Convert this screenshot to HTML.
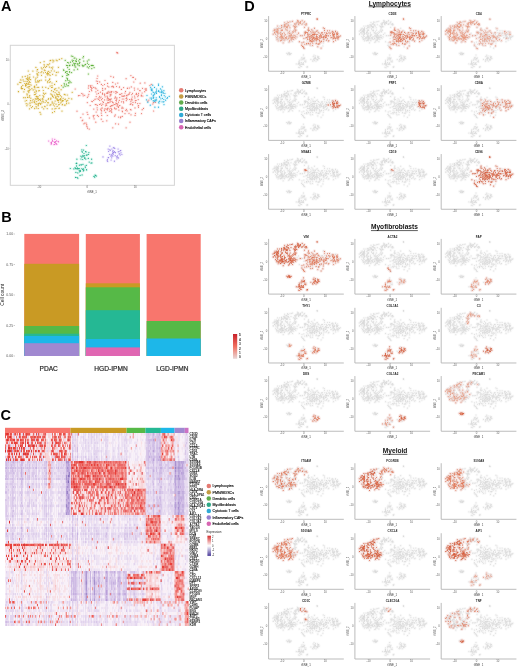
<!DOCTYPE html><html><head><meta charset="utf-8"><style>html,body{margin:0;padding:0;background:#fff;width:520px;height:667px;overflow:hidden}svg{display:block;will-change:transform;font-family:"Liberation Sans",sans-serif}</style></head><body><svg width="520" height="667" viewBox="0 0 520 667"><rect width="520" height="667" fill="#fff"/><text x="1.0" y="11.3" font-size="14.5" font-weight="bold" fill="#000">A</text><text x="1.2" y="222.4" font-size="14.5" font-weight="bold" fill="#000">B</text><text x="0.6" y="419.6" font-size="14.5" font-weight="bold" fill="#000">C</text><text x="244.3" y="11.4" font-size="14.5" font-weight="bold" fill="#000">D</text><rect x="10.3" y="45.3" width="164.1" height="140.0" fill="none" stroke="#d4d4d4" stroke-width="1.0"/><line x1="8.9" y1="60.1" x2="10.3" y2="60.1" stroke="#bbb" stroke-width="0.5"/><text x="8.7" y="61.1" font-size="2.7" fill="#666" text-anchor="end">10</text><line x1="8.9" y1="104.4" x2="10.3" y2="104.4" stroke="#bbb" stroke-width="0.5"/><text x="8.7" y="105.4" font-size="2.7" fill="#666" text-anchor="end">0</text><line x1="8.9" y1="148.6" x2="10.3" y2="148.6" stroke="#bbb" stroke-width="0.5"/><text x="8.7" y="149.6" font-size="2.7" fill="#666" text-anchor="end">-10</text><line x1="39.4" y1="185.3" x2="39.4" y2="186.7" stroke="#bbb" stroke-width="0.5"/><text x="39.4" y="188.1" font-size="2.7" fill="#666" text-anchor="middle">-10</text><line x1="87.2" y1="185.3" x2="87.2" y2="186.7" stroke="#bbb" stroke-width="0.5"/><text x="87.2" y="188.1" font-size="2.7" fill="#666" text-anchor="middle">0</text><line x1="135.2" y1="185.3" x2="135.2" y2="186.7" stroke="#bbb" stroke-width="0.5"/><text x="135.2" y="188.1" font-size="2.7" fill="#666" text-anchor="middle">10</text><text x="92.0" y="192.8" font-size="2.8" fill="#444" text-anchor="middle">tSNE_1</text><text transform="translate(3.8 115.4) rotate(-90)" font-size="3.2" fill="#444" text-anchor="middle">tSNE_2</text><path d="M111.2 98.9h0M138.5 107.3h0M81.7 93.5h0M106.8 109.2h0M122.2 111.0h0M95.8 122.2h0M117.2 106.2h0M93.2 115.9h0M108.9 99.7h0M98.4 116.3h0M130.6 104.2h0M126.3 100.6h0M123.3 101.6h0M131.8 94.6h0M121.5 101.8h0M107.7 92.2h0M91.2 89.6h0M141.3 95.2h0M142.2 109.7h0M133.0 102.4h0M108.9 102.7h0M105.7 112.3h0M86.9 126.5h0M96.4 81.0h0M101.3 119.2h0M110.2 106.6h0M131.0 114.8h0M97.3 109.8h0M107.8 102.4h0M117.8 83.1h0M138.0 89.0h0M100.4 92.2h0M96.1 88.8h0M101.1 97.0h0M87.4 97.3h0M93.7 87.4h0M87.6 128.2h0M90.2 105.5h0M90.2 85.6h0M130.2 104.3h0M119.4 87.2h0M84.7 95.3h0M88.8 94.3h0M118.5 102.2h0M146.3 89.9h0M101.4 110.6h0M116.5 86.5h0M111.7 109.4h0M110.6 110.9h0M111.2 92.4h0M109.9 96.0h0M113.4 87.2h0M102.5 93.2h0M135.4 113.3h0M78.5 95.7h0M99.7 81.9h0M125.7 110.3h0M87.0 126.7h0M110.2 102.0h0M129.0 113.3h0M107.6 83.4h0M88.2 96.0h0M108.7 98.3h0M135.2 100.8h0M139.9 103.5h0M101.6 105.3h0M127.9 94.9h0M134.5 90.1h0M86.7 124.9h0M88.4 88.1h0M91.7 90.7h0M127.4 88.4h0M92.0 88.5h0M91.8 101.3h0M104.6 99.9h0M80.8 117.6h0M132.5 93.3h0M110.7 92.0h0M147.9 101.2h0M101.6 99.7h0M138.3 95.3h0M108.0 108.2h0M131.0 109.9h0M134.9 97.9h0M116.7 99.2h0M101.0 109.8h0M127.1 99.2h0M137.9 89.0h0M117.2 92.4h0M106.1 104.3h0M109.2 92.7h0M135.0 107.9h0M137.7 103.6h0M101.4 84.4h0M138.2 105.9h0M107.1 93.5h0M116.4 91.9h0M122.3 116.4h0M99.7 100.3h0M104.4 110.6h0M107.4 109.9h0M125.0 113.6h0M119.5 105.5h0M141.4 95.4h0M116.5 103.3h0M86.1 123.1h0M138.6 93.3h0M110.1 101.1h0M89.4 91.5h0M102.9 121.5h0M95.0 99.4h0M83.2 95.8h0M97.1 98.8h0M135.5 79.1h0M109.2 99.3h0M139.7 90.6h0M132.2 99.9h0M125.0 93.0h0M113.5 77.2h0M117.8 53.1h0M130.0 122.2h0M97.1 107.8h0M105.1 96.8h0M123.6 87.6h0M115.5 84.0h0M123.6 102.8h0M96.1 104.7h0M107.4 97.3h0M77.0 111.2h0M145.9 90.4h0M105.2 89.1h0M112.0 101.4h0M141.3 96.1h0M117.2 105.1h0M124.7 96.0h0M120.5 117.7h0M102.4 108.0h0M111.6 111.1h0M102.8 85.5h0M104.7 94.2h0M155.3 102.4h0M118.4 107.4h0M136.0 94.2h0M153.6 111.0h0M117.4 52.7h0M124.6 95.9h0M101.7 115.4h0M97.1 78.5h0M110.8 95.6h0M95.9 91.8h0M97.7 76.0h0M116.3 108.8h0M83.9 123.8h0M97.7 81.3h0M104.5 84.5h0M111.2 105.7h0M100.1 97.9h0M121.9 108.3h0M87.1 112.3h0M130.9 75.6h0M102.6 88.4h0M105.6 105.8h0M99.7 104.5h0M93.7 100.5h0M123.1 96.5h0M151.2 84.4h0M140.1 90.7h0M119.3 100.4h0M126.1 78.7h0M122.0 95.9h0M138.4 95.0h0M98.6 99.3h0M110.2 106.5h0M123.8 99.0h0M115.1 104.6h0M111.3 91.5h0M105.3 88.5h0M82.8 120.0h0M110.9 76.3h0M129.5 93.8h0M107.7 103.0h0M152.8 104.0h0M107.8 93.2h0M118.7 117.1h0M93.6 117.0h0M83.0 114.1h0M146.1 88.6h0M104.7 95.3h0M116.8 52.4h0M102.8 101.7h0M121.4 89.4h0M114.7 116.2h0M111.0 108.4h0M129.4 88.0h0M132.8 77.4h0M112.1 105.7h0M115.4 96.8h0M99.6 104.5h0M112.8 82.4h0M130.4 109.5h0M153.4 102.7h0M131.7 98.8h0M90.5 87.2h0M96.8 94.0h0M91.7 87.5h0M134.3 88.1h0M108.8 86.9h0M118.7 106.3h0M131.1 103.8h0M102.8 104.2h0M133.4 77.4h0M113.1 105.1h0M138.2 99.6h0M88.6 85.9h0M108.9 91.3h0M95.2 87.9h0M115.3 109.0h0M113.9 92.0h0M82.9 94.2h0M135.5 100.5h0M116.9 97.9h0M79.8 95.5h0M127.7 88.0h0M96.2 96.6h0M130.9 101.7h0M102.4 98.5h0M118.9 110.1h0M142.1 93.0h0M118.5 124.1h0M107.5 86.1h0M114.9 98.5h0M107.2 96.3h0M89.2 129.1h0M102.5 94.2h0M94.1 115.5h0M125.5 91.4h0M111.8 86.7h0M107.3 115.5h0M95.1 99.1h0M104.4 109.0h0M90.4 85.9h0M104.3 94.1h0M126.1 98.4h0M111.8 91.6h0M112.5 102.5h0M131.1 99.9h0M137.8 96.6h0M106.7 105.5h0M145.9 89.1h0M134.6 96.1h0M119.5 86.9h0M97.8 90.3h0M143.5 108.4h0M91.9 85.8h0M107.1 96.2h0M144.9 82.9h0M119.9 105.5h0M93.8 109.1h0M105.0 80.5h0M126.6 97.8h0M101.6 110.9h0M148.9 100.1h0M115.2 97.4h0M92.3 101.6h0M106.1 103.7h0M111.1 94.2h0M131.3 86.9h0M84.8 123.0h0M108.3 100.3h0M106.8 120.8h0M129.9 92.3h0M115.9 100.4h0M99.6 96.3h0M116.5 100.9h0M128.8 94.2h0M113.3 102.8h0M132.6 104.9h0M111.7 112.5h0M107.1 99.9h0M103.5 102.5h0M149.9 85.5h0M119.7 94.4h0M105.3 108.8h0M95.3 104.5h0M114.8 108.6h0M126.5 109.3h0M107.5 108.6h0M126.1 127.8h0M115.8 103.1h0M115.7 91.7h0M117.8 103.9h0M82.2 120.7h0M115.3 114.9h0M119.7 97.6h0M91.8 88.4h0M140.2 83.2h0M86.7 124.6h0M145.0 89.0h0M142.5 88.3h0M136.5 93.3h0M89.4 118.0h0M142.8 96.0h0M101.3 113.1h0M109.4 111.2h0M101.8 108.1h0M135.4 102.6h0M121.8 93.7h0M96.2 112.0h0M122.3 99.0h0M97.4 105.3h0M111.0 110.8h0M97.5 83.4h0M133.8 82.0h0M115.9 93.5h0M132.7 104.7h0M126.9 95.8h0M97.4 115.4h0M110.2 94.3h0M114.6 107.9h0M136.2 100.5h0M122.1 107.2h0M87.8 114.4h0M123.1 108.1h0M135.1 115.4h0M114.3 104.5h0M94.1 118.8h0M110.1 99.9h0M144.7 91.7h0M127.1 110.9h0M122.5 111.7h0M110.7 106.5h0M110.3 99.4h0M112.8 127.8h0M115.6 123.8h0M102.8 90.5h0M87.3 102.6h0M100.8 109.0h0M106.5 93.0h0M98.4 93.4h0M129.5 99.5h0M126.4 95.3h0M120.8 116.9h0M98.9 97.8h0M138.6 105.5h0M75.2 89.0h0M120.4 94.3h0M112.8 86.2h0M117.1 53.0h0M132.2 97.0h0M100.8 103.8h0M113.6 87.0h0M122.0 96.2h0M102.7 90.2h0M141.5 113.6h0M123.9 95.9h0M136.9 94.6h0M107.3 98.3h0M117.0 104.0h0M109.3 109.1h0" stroke="#F8766D" stroke-width="3.4" stroke-linecap="round" fill="none" opacity="0.10"/><path d="M111.2 98.9h0M138.5 107.3h0M81.7 93.5h0M106.8 109.2h0M122.2 111.0h0M95.8 122.2h0M117.2 106.2h0M93.2 115.9h0M108.9 99.7h0M98.4 116.3h0M130.6 104.2h0M126.3 100.6h0M123.3 101.6h0M131.8 94.6h0M121.5 101.8h0M107.7 92.2h0M91.2 89.6h0M141.3 95.2h0M142.2 109.7h0M133.0 102.4h0M108.9 102.7h0M105.7 112.3h0M86.9 126.5h0M96.4 81.0h0M101.3 119.2h0M110.2 106.6h0M131.0 114.8h0M97.3 109.8h0M107.8 102.4h0M117.8 83.1h0M138.0 89.0h0M100.4 92.2h0M96.1 88.8h0M101.1 97.0h0M87.4 97.3h0M93.7 87.4h0M87.6 128.2h0M90.2 105.5h0M90.2 85.6h0M130.2 104.3h0M119.4 87.2h0M84.7 95.3h0M88.8 94.3h0M118.5 102.2h0M146.3 89.9h0M101.4 110.6h0M116.5 86.5h0M111.7 109.4h0M110.6 110.9h0M111.2 92.4h0M109.9 96.0h0M113.4 87.2h0M102.5 93.2h0M135.4 113.3h0M78.5 95.7h0M99.7 81.9h0M125.7 110.3h0M87.0 126.7h0M110.2 102.0h0M129.0 113.3h0M107.6 83.4h0M88.2 96.0h0M108.7 98.3h0M135.2 100.8h0M139.9 103.5h0M101.6 105.3h0M127.9 94.9h0M134.5 90.1h0M86.7 124.9h0M88.4 88.1h0M91.7 90.7h0M127.4 88.4h0M92.0 88.5h0M91.8 101.3h0M104.6 99.9h0M80.8 117.6h0M132.5 93.3h0M110.7 92.0h0M147.9 101.2h0M101.6 99.7h0M138.3 95.3h0M108.0 108.2h0M131.0 109.9h0M134.9 97.9h0M116.7 99.2h0M101.0 109.8h0M127.1 99.2h0M137.9 89.0h0M117.2 92.4h0M106.1 104.3h0M109.2 92.7h0M135.0 107.9h0M137.7 103.6h0M101.4 84.4h0M138.2 105.9h0M107.1 93.5h0M116.4 91.9h0M122.3 116.4h0M99.7 100.3h0M104.4 110.6h0M107.4 109.9h0M125.0 113.6h0M119.5 105.5h0M141.4 95.4h0M116.5 103.3h0M86.1 123.1h0M138.6 93.3h0M110.1 101.1h0M89.4 91.5h0M102.9 121.5h0M95.0 99.4h0M83.2 95.8h0M97.1 98.8h0M135.5 79.1h0M109.2 99.3h0M139.7 90.6h0M132.2 99.9h0M125.0 93.0h0M113.5 77.2h0M117.8 53.1h0M130.0 122.2h0M97.1 107.8h0M105.1 96.8h0M123.6 87.6h0M115.5 84.0h0M123.6 102.8h0M96.1 104.7h0M107.4 97.3h0M77.0 111.2h0M145.9 90.4h0M105.2 89.1h0M112.0 101.4h0M141.3 96.1h0M117.2 105.1h0M124.7 96.0h0M120.5 117.7h0M102.4 108.0h0M111.6 111.1h0M102.8 85.5h0M104.7 94.2h0M155.3 102.4h0M118.4 107.4h0M136.0 94.2h0M153.6 111.0h0M117.4 52.7h0M124.6 95.9h0M101.7 115.4h0M97.1 78.5h0M110.8 95.6h0M95.9 91.8h0M97.7 76.0h0M116.3 108.8h0M83.9 123.8h0M97.7 81.3h0M104.5 84.5h0M111.2 105.7h0M100.1 97.9h0M121.9 108.3h0M87.1 112.3h0M130.9 75.6h0M102.6 88.4h0M105.6 105.8h0M99.7 104.5h0M93.7 100.5h0M123.1 96.5h0M151.2 84.4h0M140.1 90.7h0M119.3 100.4h0M126.1 78.7h0M122.0 95.9h0M138.4 95.0h0M98.6 99.3h0M110.2 106.5h0M123.8 99.0h0M115.1 104.6h0M111.3 91.5h0M105.3 88.5h0M82.8 120.0h0M110.9 76.3h0M129.5 93.8h0M107.7 103.0h0M152.8 104.0h0M107.8 93.2h0M118.7 117.1h0M93.6 117.0h0M83.0 114.1h0M146.1 88.6h0M104.7 95.3h0M116.8 52.4h0M102.8 101.7h0M121.4 89.4h0M114.7 116.2h0M111.0 108.4h0M129.4 88.0h0M132.8 77.4h0M112.1 105.7h0M115.4 96.8h0M99.6 104.5h0M112.8 82.4h0M130.4 109.5h0M153.4 102.7h0M131.7 98.8h0M90.5 87.2h0M96.8 94.0h0M91.7 87.5h0M134.3 88.1h0M108.8 86.9h0M118.7 106.3h0M131.1 103.8h0M102.8 104.2h0M133.4 77.4h0M113.1 105.1h0M138.2 99.6h0M88.6 85.9h0M108.9 91.3h0M95.2 87.9h0M115.3 109.0h0M113.9 92.0h0M82.9 94.2h0M135.5 100.5h0M116.9 97.9h0M79.8 95.5h0M127.7 88.0h0M96.2 96.6h0M130.9 101.7h0M102.4 98.5h0M118.9 110.1h0M142.1 93.0h0M118.5 124.1h0M107.5 86.1h0M114.9 98.5h0M107.2 96.3h0M89.2 129.1h0M102.5 94.2h0M94.1 115.5h0M125.5 91.4h0M111.8 86.7h0M107.3 115.5h0M95.1 99.1h0M104.4 109.0h0M90.4 85.9h0M104.3 94.1h0M126.1 98.4h0M111.8 91.6h0M112.5 102.5h0M131.1 99.9h0M137.8 96.6h0M106.7 105.5h0M145.9 89.1h0M134.6 96.1h0M119.5 86.9h0M97.8 90.3h0M143.5 108.4h0M91.9 85.8h0M107.1 96.2h0M144.9 82.9h0M119.9 105.5h0M93.8 109.1h0M105.0 80.5h0M126.6 97.8h0M101.6 110.9h0M148.9 100.1h0M115.2 97.4h0M92.3 101.6h0M106.1 103.7h0M111.1 94.2h0M131.3 86.9h0M84.8 123.0h0M108.3 100.3h0M106.8 120.8h0M129.9 92.3h0M115.9 100.4h0M99.6 96.3h0M116.5 100.9h0M128.8 94.2h0M113.3 102.8h0M132.6 104.9h0M111.7 112.5h0M107.1 99.9h0M103.5 102.5h0M149.9 85.5h0M119.7 94.4h0M105.3 108.8h0M95.3 104.5h0M114.8 108.6h0M126.5 109.3h0M107.5 108.6h0M126.1 127.8h0M115.8 103.1h0M115.7 91.7h0M117.8 103.9h0M82.2 120.7h0M115.3 114.9h0M119.7 97.6h0M91.8 88.4h0M140.2 83.2h0M86.7 124.6h0M145.0 89.0h0M142.5 88.3h0M136.5 93.3h0M89.4 118.0h0M142.8 96.0h0M101.3 113.1h0M109.4 111.2h0M101.8 108.1h0M135.4 102.6h0M121.8 93.7h0M96.2 112.0h0M122.3 99.0h0M97.4 105.3h0M111.0 110.8h0M97.5 83.4h0M133.8 82.0h0M115.9 93.5h0M132.7 104.7h0M126.9 95.8h0M97.4 115.4h0M110.2 94.3h0M114.6 107.9h0M136.2 100.5h0M122.1 107.2h0M87.8 114.4h0M123.1 108.1h0M135.1 115.4h0M114.3 104.5h0M94.1 118.8h0M110.1 99.9h0M144.7 91.7h0M127.1 110.9h0M122.5 111.7h0M110.7 106.5h0M110.3 99.4h0M112.8 127.8h0M115.6 123.8h0M102.8 90.5h0M87.3 102.6h0M100.8 109.0h0M106.5 93.0h0M98.4 93.4h0M129.5 99.5h0M126.4 95.3h0M120.8 116.9h0M98.9 97.8h0M138.6 105.5h0M75.2 89.0h0M120.4 94.3h0M112.8 86.2h0M117.1 53.0h0M132.2 97.0h0M100.8 103.8h0M113.6 87.0h0M122.0 96.2h0M102.7 90.2h0M141.5 113.6h0M123.9 95.9h0M136.9 94.6h0M107.3 98.3h0M117.0 104.0h0M109.3 109.1h0" stroke="#ec7c72" stroke-width="1.2" stroke-linecap="round" fill="none"/><path d="M40.8 114.2h0M47.1 105.1h0M59.0 92.7h0M55.1 92.6h0M38.5 103.9h0M41.3 67.8h0M21.6 86.6h0M39.6 99.6h0M28.8 91.2h0M34.8 86.1h0M27.2 79.3h0M54.5 111.6h0M28.6 91.0h0M35.9 67.4h0M62.3 100.4h0M52.2 87.4h0M52.0 83.0h0M43.7 108.8h0M27.9 84.5h0M34.7 92.2h0M50.9 98.2h0M25.2 76.4h0M41.2 80.2h0M42.1 101.7h0M43.5 93.2h0M20.9 82.6h0M31.4 107.6h0M21.3 88.6h0M44.2 70.0h0M50.0 105.2h0M36.8 96.3h0M28.2 80.1h0M35.9 78.2h0M37.7 98.8h0M48.5 64.8h0M40.4 103.7h0M52.2 103.2h0M34.7 102.5h0M26.3 78.6h0M45.1 70.6h0M37.3 77.1h0M56.0 104.1h0M30.2 105.7h0M25.3 97.7h0M59.0 108.4h0M37.1 73.4h0M56.4 72.4h0M59.5 94.1h0M33.6 77.0h0M56.1 97.2h0M30.5 100.7h0M36.5 84.8h0M37.2 74.4h0M38.3 105.3h0M37.6 69.5h0M38.7 81.9h0M49.9 72.4h0M28.7 86.8h0M26.7 83.8h0M24.0 81.3h0M61.3 101.9h0M30.2 89.7h0M42.8 99.9h0M43.0 95.6h0M44.4 66.1h0M51.3 67.7h0M41.0 72.6h0M46.5 101.1h0M27.0 83.2h0M44.7 106.4h0M47.5 73.0h0M56.0 104.2h0M67.7 100.3h0M34.7 108.6h0M52.2 108.9h0M55.4 97.9h0M27.2 94.9h0M52.5 112.6h0M57.9 94.7h0M58.6 96.8h0M54.6 106.0h0M43.7 96.7h0M29.5 108.8h0M26.9 105.7h0M34.4 94.6h0M52.5 95.1h0M59.3 108.1h0M25.5 85.2h0M37.2 87.5h0M48.6 73.6h0M66.7 101.8h0M52.8 67.1h0M25.8 84.9h0M42.1 107.2h0M21.3 87.5h0M29.2 97.5h0M36.1 106.7h0M46.0 100.5h0M38.3 108.5h0M49.8 78.9h0M40.0 112.4h0M43.4 72.8h0M31.1 85.1h0M38.1 75.0h0M38.2 103.6h0M29.7 86.5h0M40.9 99.1h0M35.4 79.9h0M60.9 99.8h0M44.4 94.2h0M19.8 82.4h0M59.3 99.7h0M41.5 75.3h0M47.8 75.1h0M51.4 94.8h0M30.2 82.5h0M27.2 87.2h0M21.1 80.0h0M56.7 93.9h0M48.3 102.8h0M36.5 96.8h0M32.0 102.6h0M45.0 70.7h0M50.2 81.7h0M27.7 75.9h0M53.4 91.7h0M66.3 100.9h0M27.8 97.1h0M60.9 98.9h0M39.0 99.3h0M64.8 99.5h0M29.7 95.7h0M60.6 99.7h0M36.7 101.6h0M40.6 104.3h0M29.2 78.1h0M61.1 89.7h0M50.9 93.9h0M38.9 81.0h0M29.5 81.6h0M48.6 98.7h0M29.0 90.4h0M23.1 79.9h0M48.6 71.3h0M25.5 84.5h0M45.5 72.5h0M54.0 103.2h0M48.8 80.5h0M32.5 106.6h0M36.5 91.2h0M59.0 94.5h0M23.7 97.7h0M62.5 104.3h0M60.4 98.6h0M32.2 100.8h0M42.9 99.3h0M61.8 58.6h0M33.1 99.6h0M56.9 90.7h0M55.9 96.2h0M27.9 91.1h0M62.6 101.2h0M48.2 102.6h0M30.0 102.8h0M46.6 73.8h0M27.8 77.6h0M26.2 85.3h0M28.8 92.6h0M22.2 88.7h0M22.4 76.9h0M58.9 92.0h0M56.0 108.3h0M36.0 90.9h0M56.0 75.2h0M44.1 61.6h0M64.3 94.4h0M45.6 67.3h0M29.8 77.1h0M49.7 82.3h0M58.9 87.9h0M38.7 87.4h0M30.6 79.6h0M29.6 79.0h0M65.3 99.2h0M18.4 91.5h0M61.5 96.9h0M35.6 81.9h0M52.6 96.4h0M59.3 59.4h0M56.2 60.0h0M55.1 101.1h0M45.8 87.3h0M31.9 88.7h0M56.4 98.8h0M38.7 72.6h0M42.7 98.4h0M18.5 91.7h0M44.5 70.0h0M46.6 66.4h0M59.2 104.4h0M49.0 74.3h0M28.0 78.7h0M27.4 79.3h0M72.2 92.3h0M57.6 100.6h0M42.5 87.2h0M35.2 98.9h0M28.3 71.0h0M49.5 79.4h0M47.2 108.6h0M43.3 90.5h0M58.4 67.3h0M33.2 89.9h0M50.1 60.7h0M37.0 82.2h0M35.9 98.8h0M36.7 108.0h0M53.4 97.2h0M63.3 100.6h0M38.3 98.5h0M47.7 81.3h0M36.4 104.2h0M20.7 79.9h0M28.9 91.0h0M57.1 60.7h0M66.6 103.7h0M52.9 62.0h0M43.6 97.1h0M38.0 104.2h0M68.8 103.1h0M62.2 104.8h0M58.0 100.1h0M37.6 98.1h0M52.6 74.3h0M65.2 94.8h0M27.8 104.0h0M50.1 75.4h0M68.9 98.3h0M47.3 64.7h0M54.6 84.4h0M52.2 102.8h0M47.6 72.0h0M17.9 84.2h0M57.2 99.0h0M22.8 85.4h0M52.5 68.8h0M58.5 100.4h0M24.5 89.4h0M41.8 103.1h0M57.7 100.3h0M37.9 97.1h0M26.4 83.7h0M26.6 100.5h0M26.2 103.7h0M27.5 97.4h0M43.5 101.9h0M58.6 102.2h0M48.2 99.3h0M23.9 91.8h0M30.8 98.2h0M29.4 90.3h0M36.0 93.1h0M34.8 87.4h0M50.2 86.0h0M49.6 63.8h0M35.2 103.8h0M24.8 83.5h0M60.7 100.2h0M39.6 80.6h0M58.9 104.6h0M29.8 74.5h0M27.7 81.3h0M52.2 101.8h0M35.4 94.5h0M25.2 101.0h0M43.6 67.6h0M57.4 100.2h0M63.1 98.3h0M54.4 95.0h0M28.9 86.5h0M40.3 62.6h0M37.2 87.3h0M61.5 85.6h0M37.4 75.1h0M60.3 95.7h0M37.3 69.6h0M53.8 60.9h0M41.8 71.6h0M67.3 95.0h0M51.6 90.7h0M65.3 105.0h0M40.1 103.4h0M37.0 71.0h0M38.0 96.5h0M40.5 100.6h0M54.9 108.8h0M50.9 104.7h0M45.7 93.3h0M38.7 90.8h0M29.0 88.2h0M39.8 95.5h0M44.1 64.7h0M28.9 82.7h0M55.8 88.5h0M54.5 89.2h0M53.4 104.9h0M50.7 99.2h0M30.0 103.7h0M47.5 73.8h0M36.7 99.1h0M27.0 93.9h0M57.3 98.9h0M34.9 89.0h0M36.1 96.3h0M47.7 102.7h0M50.7 60.4h0M52.0 85.7h0M29.4 96.1h0M57.7 96.2h0M51.3 70.8h0M51.5 87.5h0M45.6 77.0h0M21.4 88.0h0M39.3 90.6h0M56.9 94.3h0M26.0 81.3h0M32.9 71.1h0M34.8 100.9h0M34.0 101.9h0M28.7 80.1h0M57.1 106.4h0M48.3 88.4h0M58.1 72.2h0M39.3 103.0h0M49.4 67.1h0M34.7 108.4h0M56.5 81.4h0M28.6 83.9h0M29.9 84.6h0M47.8 82.6h0M64.4 105.1h0M45.1 106.7h0M25.6 86.1h0M45.7 80.1h0M71.7 98.9h0M62.0 111.1h0M34.2 86.9h0M52.8 60.1h0M45.1 102.3h0M55.0 89.8h0M54.3 71.0h0M37.6 80.9h0M42.1 68.9h0M60.7 103.0h0M22.7 88.5h0M38.1 105.8h0M38.3 100.5h0M58.6 104.8h0" stroke="#C49A00" stroke-width="3.4" stroke-linecap="round" fill="none" opacity="0.10"/><path d="M40.8 114.2h0M47.1 105.1h0M59.0 92.7h0M55.1 92.6h0M38.5 103.9h0M41.3 67.8h0M21.6 86.6h0M39.6 99.6h0M28.8 91.2h0M34.8 86.1h0M27.2 79.3h0M54.5 111.6h0M28.6 91.0h0M35.9 67.4h0M62.3 100.4h0M52.2 87.4h0M52.0 83.0h0M43.7 108.8h0M27.9 84.5h0M34.7 92.2h0M50.9 98.2h0M25.2 76.4h0M41.2 80.2h0M42.1 101.7h0M43.5 93.2h0M20.9 82.6h0M31.4 107.6h0M21.3 88.6h0M44.2 70.0h0M50.0 105.2h0M36.8 96.3h0M28.2 80.1h0M35.9 78.2h0M37.7 98.8h0M48.5 64.8h0M40.4 103.7h0M52.2 103.2h0M34.7 102.5h0M26.3 78.6h0M45.1 70.6h0M37.3 77.1h0M56.0 104.1h0M30.2 105.7h0M25.3 97.7h0M59.0 108.4h0M37.1 73.4h0M56.4 72.4h0M59.5 94.1h0M33.6 77.0h0M56.1 97.2h0M30.5 100.7h0M36.5 84.8h0M37.2 74.4h0M38.3 105.3h0M37.6 69.5h0M38.7 81.9h0M49.9 72.4h0M28.7 86.8h0M26.7 83.8h0M24.0 81.3h0M61.3 101.9h0M30.2 89.7h0M42.8 99.9h0M43.0 95.6h0M44.4 66.1h0M51.3 67.7h0M41.0 72.6h0M46.5 101.1h0M27.0 83.2h0M44.7 106.4h0M47.5 73.0h0M56.0 104.2h0M67.7 100.3h0M34.7 108.6h0M52.2 108.9h0M55.4 97.9h0M27.2 94.9h0M52.5 112.6h0M57.9 94.7h0M58.6 96.8h0M54.6 106.0h0M43.7 96.7h0M29.5 108.8h0M26.9 105.7h0M34.4 94.6h0M52.5 95.1h0M59.3 108.1h0M25.5 85.2h0M37.2 87.5h0M48.6 73.6h0M66.7 101.8h0M52.8 67.1h0M25.8 84.9h0M42.1 107.2h0M21.3 87.5h0M29.2 97.5h0M36.1 106.7h0M46.0 100.5h0M38.3 108.5h0M49.8 78.9h0M40.0 112.4h0M43.4 72.8h0M31.1 85.1h0M38.1 75.0h0M38.2 103.6h0M29.7 86.5h0M40.9 99.1h0M35.4 79.9h0M60.9 99.8h0M44.4 94.2h0M19.8 82.4h0M59.3 99.7h0M41.5 75.3h0M47.8 75.1h0M51.4 94.8h0M30.2 82.5h0M27.2 87.2h0M21.1 80.0h0M56.7 93.9h0M48.3 102.8h0M36.5 96.8h0M32.0 102.6h0M45.0 70.7h0M50.2 81.7h0M27.7 75.9h0M53.4 91.7h0M66.3 100.9h0M27.8 97.1h0M60.9 98.9h0M39.0 99.3h0M64.8 99.5h0M29.7 95.7h0M60.6 99.7h0M36.7 101.6h0M40.6 104.3h0M29.2 78.1h0M61.1 89.7h0M50.9 93.9h0M38.9 81.0h0M29.5 81.6h0M48.6 98.7h0M29.0 90.4h0M23.1 79.9h0M48.6 71.3h0M25.5 84.5h0M45.5 72.5h0M54.0 103.2h0M48.8 80.5h0M32.5 106.6h0M36.5 91.2h0M59.0 94.5h0M23.7 97.7h0M62.5 104.3h0M60.4 98.6h0M32.2 100.8h0M42.9 99.3h0M61.8 58.6h0M33.1 99.6h0M56.9 90.7h0M55.9 96.2h0M27.9 91.1h0M62.6 101.2h0M48.2 102.6h0M30.0 102.8h0M46.6 73.8h0M27.8 77.6h0M26.2 85.3h0M28.8 92.6h0M22.2 88.7h0M22.4 76.9h0M58.9 92.0h0M56.0 108.3h0M36.0 90.9h0M56.0 75.2h0M44.1 61.6h0M64.3 94.4h0M45.6 67.3h0M29.8 77.1h0M49.7 82.3h0M58.9 87.9h0M38.7 87.4h0M30.6 79.6h0M29.6 79.0h0M65.3 99.2h0M18.4 91.5h0M61.5 96.9h0M35.6 81.9h0M52.6 96.4h0M59.3 59.4h0M56.2 60.0h0M55.1 101.1h0M45.8 87.3h0M31.9 88.7h0M56.4 98.8h0M38.7 72.6h0M42.7 98.4h0M18.5 91.7h0M44.5 70.0h0M46.6 66.4h0M59.2 104.4h0M49.0 74.3h0M28.0 78.7h0M27.4 79.3h0M72.2 92.3h0M57.6 100.6h0M42.5 87.2h0M35.2 98.9h0M28.3 71.0h0M49.5 79.4h0M47.2 108.6h0M43.3 90.5h0M58.4 67.3h0M33.2 89.9h0M50.1 60.7h0M37.0 82.2h0M35.9 98.8h0M36.7 108.0h0M53.4 97.2h0M63.3 100.6h0M38.3 98.5h0M47.7 81.3h0M36.4 104.2h0M20.7 79.9h0M28.9 91.0h0M57.1 60.7h0M66.6 103.7h0M52.9 62.0h0M43.6 97.1h0M38.0 104.2h0M68.8 103.1h0M62.2 104.8h0M58.0 100.1h0M37.6 98.1h0M52.6 74.3h0M65.2 94.8h0M27.8 104.0h0M50.1 75.4h0M68.9 98.3h0M47.3 64.7h0M54.6 84.4h0M52.2 102.8h0M47.6 72.0h0M17.9 84.2h0M57.2 99.0h0M22.8 85.4h0M52.5 68.8h0M58.5 100.4h0M24.5 89.4h0M41.8 103.1h0M57.7 100.3h0M37.9 97.1h0M26.4 83.7h0M26.6 100.5h0M26.2 103.7h0M27.5 97.4h0M43.5 101.9h0M58.6 102.2h0M48.2 99.3h0M23.9 91.8h0M30.8 98.2h0M29.4 90.3h0M36.0 93.1h0M34.8 87.4h0M50.2 86.0h0M49.6 63.8h0M35.2 103.8h0M24.8 83.5h0M60.7 100.2h0M39.6 80.6h0M58.9 104.6h0M29.8 74.5h0M27.7 81.3h0M52.2 101.8h0M35.4 94.5h0M25.2 101.0h0M43.6 67.6h0M57.4 100.2h0M63.1 98.3h0M54.4 95.0h0M28.9 86.5h0M40.3 62.6h0M37.2 87.3h0M61.5 85.6h0M37.4 75.1h0M60.3 95.7h0M37.3 69.6h0M53.8 60.9h0M41.8 71.6h0M67.3 95.0h0M51.6 90.7h0M65.3 105.0h0M40.1 103.4h0M37.0 71.0h0M38.0 96.5h0M40.5 100.6h0M54.9 108.8h0M50.9 104.7h0M45.7 93.3h0M38.7 90.8h0M29.0 88.2h0M39.8 95.5h0M44.1 64.7h0M28.9 82.7h0M55.8 88.5h0M54.5 89.2h0M53.4 104.9h0M50.7 99.2h0M30.0 103.7h0M47.5 73.8h0M36.7 99.1h0M27.0 93.9h0M57.3 98.9h0M34.9 89.0h0M36.1 96.3h0M47.7 102.7h0M50.7 60.4h0M52.0 85.7h0M29.4 96.1h0M57.7 96.2h0M51.3 70.8h0M51.5 87.5h0M45.6 77.0h0M21.4 88.0h0M39.3 90.6h0M56.9 94.3h0M26.0 81.3h0M32.9 71.1h0M34.8 100.9h0M34.0 101.9h0M28.7 80.1h0M57.1 106.4h0M48.3 88.4h0M58.1 72.2h0M39.3 103.0h0M49.4 67.1h0M34.7 108.4h0M56.5 81.4h0M28.6 83.9h0M29.9 84.6h0M47.8 82.6h0M64.4 105.1h0M45.1 106.7h0M25.6 86.1h0M45.7 80.1h0M71.7 98.9h0M62.0 111.1h0M34.2 86.9h0M52.8 60.1h0M45.1 102.3h0M55.0 89.8h0M54.3 71.0h0M37.6 80.9h0M42.1 68.9h0M60.7 103.0h0M22.7 88.5h0M38.1 105.8h0M38.3 100.5h0M58.6 104.8h0" stroke="#d4ae34" stroke-width="1.2" stroke-linecap="round" fill="none"/><path d="M76.5 61.2h0M63.2 87.2h0M66.0 71.6h0M69.0 82.4h0M82.9 66.2h0M78.0 65.0h0M66.9 75.4h0M72.6 61.6h0M69.0 80.5h0M79.5 63.1h0M66.8 78.0h0M79.9 59.4h0M64.4 84.9h0M75.0 66.8h0M88.7 67.9h0M66.4 84.2h0M82.8 65.7h0M83.8 61.1h0M77.3 63.9h0M74.1 69.9h0M70.0 81.5h0M65.2 60.3h0M65.8 80.7h0M71.6 72.6h0M65.1 86.3h0M68.6 74.7h0M73.8 63.2h0M91.2 65.4h0M89.5 66.5h0M69.3 65.7h0M87.3 66.9h0M92.3 65.3h0M69.7 72.3h0M73.7 60.5h0M76.4 61.6h0M63.6 69.8h0M68.3 85.7h0M63.8 70.4h0M67.5 62.5h0M75.6 60.9h0M75.7 63.3h0M72.7 65.4h0M67.7 67.6h0M67.0 85.8h0M91.8 68.6h0M82.2 65.0h0M87.4 63.2h0M79.5 59.5h0M77.6 69.2h0M83.5 56.5h0M62.4 76.3h0M87.3 61.1h0M69.8 65.5h0M93.1 65.7h0M68.7 62.9h0M65.5 72.5h0M69.2 69.4h0M77.8 63.9h0M93.2 65.6h0M66.5 65.3h0M74.5 63.8h0M71.0 82.6h0M69.0 82.9h0M72.8 64.8h0M75.0 58.0h0M79.3 65.7h0M67.1 71.5h0M67.5 79.9h0M69.6 71.6h0M84.9 64.8h0M85.6 64.3h0M83.0 57.8h0M72.8 56.4h0M67.4 78.7h0M67.1 73.4h0M71.4 56.0h0M83.9 65.8h0M88.4 74.0h0M88.7 64.5h0M74.8 65.4h0M64.2 83.5h0M79.8 62.4h0M72.2 60.2h0M76.5 59.1h0M91.7 65.6h0M74.7 64.2h0M94.1 67.6h0M74.1 58.1h0M67.6 65.7h0M79.2 63.6h0M68.0 74.7h0M88.9 59.9h0M70.6 62.2h0M78.8 60.9h0M69.9 65.1h0M68.6 82.9h0M75.8 67.0h0" stroke="#53B400" stroke-width="3.4" stroke-linecap="round" fill="none" opacity="0.10"/><path d="M76.5 61.2h0M63.2 87.2h0M66.0 71.6h0M69.0 82.4h0M82.9 66.2h0M78.0 65.0h0M66.9 75.4h0M72.6 61.6h0M69.0 80.5h0M79.5 63.1h0M66.8 78.0h0M79.9 59.4h0M64.4 84.9h0M75.0 66.8h0M88.7 67.9h0M66.4 84.2h0M82.8 65.7h0M83.8 61.1h0M77.3 63.9h0M74.1 69.9h0M70.0 81.5h0M65.2 60.3h0M65.8 80.7h0M71.6 72.6h0M65.1 86.3h0M68.6 74.7h0M73.8 63.2h0M91.2 65.4h0M89.5 66.5h0M69.3 65.7h0M87.3 66.9h0M92.3 65.3h0M69.7 72.3h0M73.7 60.5h0M76.4 61.6h0M63.6 69.8h0M68.3 85.7h0M63.8 70.4h0M67.5 62.5h0M75.6 60.9h0M75.7 63.3h0M72.7 65.4h0M67.7 67.6h0M67.0 85.8h0M91.8 68.6h0M82.2 65.0h0M87.4 63.2h0M79.5 59.5h0M77.6 69.2h0M83.5 56.5h0M62.4 76.3h0M87.3 61.1h0M69.8 65.5h0M93.1 65.7h0M68.7 62.9h0M65.5 72.5h0M69.2 69.4h0M77.8 63.9h0M93.2 65.6h0M66.5 65.3h0M74.5 63.8h0M71.0 82.6h0M69.0 82.9h0M72.8 64.8h0M75.0 58.0h0M79.3 65.7h0M67.1 71.5h0M67.5 79.9h0M69.6 71.6h0M84.9 64.8h0M85.6 64.3h0M83.0 57.8h0M72.8 56.4h0M67.4 78.7h0M67.1 73.4h0M71.4 56.0h0M83.9 65.8h0M88.4 74.0h0M88.7 64.5h0M74.8 65.4h0M64.2 83.5h0M79.8 62.4h0M72.2 60.2h0M76.5 59.1h0M91.7 65.6h0M74.7 64.2h0M94.1 67.6h0M74.1 58.1h0M67.6 65.7h0M79.2 63.6h0M68.0 74.7h0M88.9 59.9h0M70.6 62.2h0M78.8 60.9h0M69.9 65.1h0M68.6 82.9h0M75.8 67.0h0" stroke="#5cb03c" stroke-width="1.2" stroke-linecap="round" fill="none"/><path d="M85.3 167.6h0M93.9 176.4h0M86.3 155.2h0M76.6 166.1h0M83.6 168.9h0M84.7 158.5h0M80.8 164.8h0M84.0 153.5h0M79.4 171.8h0M85.8 159.1h0M76.8 163.6h0M78.5 168.6h0M76.6 163.1h0M82.7 159.5h0M86.9 155.2h0M89.2 162.1h0M88.9 152.6h0M95.0 175.1h0M85.2 166.1h0M88.6 154.3h0M75.9 172.4h0M86.1 151.9h0M75.7 168.5h0M82.5 152.1h0M83.0 155.3h0M91.9 162.9h0M83.6 150.1h0M79.2 170.3h0M77.4 167.8h0M88.3 158.4h0M75.6 177.4h0M82.1 174.9h0M82.0 151.7h0M73.9 168.9h0M80.1 175.4h0M86.5 169.5h0M91.6 159.2h0M87.2 154.8h0M96.2 176.1h0M79.4 165.2h0M77.7 169.0h0M81.0 159.0h0M83.0 164.3h0M84.3 155.6h0M76.0 168.8h0M85.5 151.6h0M94.7 177.2h0M80.9 156.2h0M95.7 175.4h0M76.2 163.4h0M96.3 176.0h0M77.8 172.9h0M82.5 169.5h0M79.3 168.6h0M76.9 159.2h0M81.7 164.8h0M77.0 168.7h0M80.4 171.3h0M84.8 157.7h0M86.4 165.3h0M86.6 169.9h0M70.3 168.5h0M82.5 156.0h0M77.0 177.5h0M81.9 168.6h0M83.9 170.1h0M76.5 165.9h0M91.0 163.1h0M80.4 170.3h0M81.9 157.2h0M81.9 149.9h0M77.8 178.2h0M83.3 170.9h0M86.3 145.5h0M83.8 156.6h0M75.1 167.7h0" stroke="#00C094" stroke-width="3.4" stroke-linecap="round" fill="none" opacity="0.10"/><path d="M85.3 167.6h0M93.9 176.4h0M86.3 155.2h0M76.6 166.1h0M83.6 168.9h0M84.7 158.5h0M80.8 164.8h0M84.0 153.5h0M79.4 171.8h0M85.8 159.1h0M76.8 163.6h0M78.5 168.6h0M76.6 163.1h0M82.7 159.5h0M86.9 155.2h0M89.2 162.1h0M88.9 152.6h0M95.0 175.1h0M85.2 166.1h0M88.6 154.3h0M75.9 172.4h0M86.1 151.9h0M75.7 168.5h0M82.5 152.1h0M83.0 155.3h0M91.9 162.9h0M83.6 150.1h0M79.2 170.3h0M77.4 167.8h0M88.3 158.4h0M75.6 177.4h0M82.1 174.9h0M82.0 151.7h0M73.9 168.9h0M80.1 175.4h0M86.5 169.5h0M91.6 159.2h0M87.2 154.8h0M96.2 176.1h0M79.4 165.2h0M77.7 169.0h0M81.0 159.0h0M83.0 164.3h0M84.3 155.6h0M76.0 168.8h0M85.5 151.6h0M94.7 177.2h0M80.9 156.2h0M95.7 175.4h0M76.2 163.4h0M96.3 176.0h0M77.8 172.9h0M82.5 169.5h0M79.3 168.6h0M76.9 159.2h0M81.7 164.8h0M77.0 168.7h0M80.4 171.3h0M84.8 157.7h0M86.4 165.3h0M86.6 169.9h0M70.3 168.5h0M82.5 156.0h0M77.0 177.5h0M81.9 168.6h0M83.9 170.1h0M76.5 165.9h0M91.0 163.1h0M80.4 170.3h0M81.9 157.2h0M81.9 149.9h0M77.8 178.2h0M83.3 170.9h0M86.3 145.5h0M83.8 156.6h0M75.1 167.7h0" stroke="#22b08c" stroke-width="1.2" stroke-linecap="round" fill="none"/><path d="M156.1 92.2h0M161.5 94.8h0M161.4 95.6h0M151.4 99.2h0M165.6 100.2h0M147.8 102.2h0M153.9 92.5h0M167.0 98.4h0M163.1 92.4h0M154.1 101.1h0M162.0 91.4h0M153.4 98.2h0M164.0 104.6h0M151.4 90.2h0M163.2 93.3h0M159.7 101.2h0M158.7 90.5h0M154.9 107.2h0M154.5 87.4h0M146.5 99.8h0M159.7 101.3h0M162.5 98.3h0M162.9 92.6h0M158.5 85.3h0M159.5 96.5h0M151.9 97.9h0M153.7 95.2h0M163.9 90.7h0M161.4 92.7h0M162.1 101.8h0M153.0 95.9h0M154.2 94.2h0M161.2 92.2h0M150.7 87.3h0M158.7 102.1h0M164.9 93.5h0M158.5 84.1h0M163.6 102.0h0M160.9 98.8h0M167.5 97.6h0M154.3 101.6h0M150.3 105.2h0M169.2 96.4h0M160.5 88.9h0M153.0 92.0h0M159.7 97.4h0M151.6 94.0h0M159.0 103.1h0M152.7 85.2h0M164.2 95.5h0M162.4 86.8h0M161.7 90.1h0M152.2 89.1h0M165.2 96.8h0M147.0 95.5h0M151.1 88.9h0M154.8 100.0h0M154.7 93.9h0M159.8 91.9h0M155.6 92.1h0M156.2 97.8h0M155.7 101.0h0M156.4 93.4h0M153.7 97.2h0M150.2 98.0h0M158.5 107.2h0M156.6 99.9h0M153.2 100.7h0M163.8 99.5h0M152.1 90.7h0M163.9 101.5h0M155.7 99.9h0M158.4 91.4h0M156.5 89.0h0M156.6 90.9h0" stroke="#00B6EB" stroke-width="3.4" stroke-linecap="round" fill="none" opacity="0.10"/><path d="M156.1 92.2h0M161.5 94.8h0M161.4 95.6h0M151.4 99.2h0M165.6 100.2h0M147.8 102.2h0M153.9 92.5h0M167.0 98.4h0M163.1 92.4h0M154.1 101.1h0M162.0 91.4h0M153.4 98.2h0M164.0 104.6h0M151.4 90.2h0M163.2 93.3h0M159.7 101.2h0M158.7 90.5h0M154.9 107.2h0M154.5 87.4h0M146.5 99.8h0M159.7 101.3h0M162.5 98.3h0M162.9 92.6h0M158.5 85.3h0M159.5 96.5h0M151.9 97.9h0M153.7 95.2h0M163.9 90.7h0M161.4 92.7h0M162.1 101.8h0M153.0 95.9h0M154.2 94.2h0M161.2 92.2h0M150.7 87.3h0M158.7 102.1h0M164.9 93.5h0M158.5 84.1h0M163.6 102.0h0M160.9 98.8h0M167.5 97.6h0M154.3 101.6h0M150.3 105.2h0M169.2 96.4h0M160.5 88.9h0M153.0 92.0h0M159.7 97.4h0M151.6 94.0h0M159.0 103.1h0M152.7 85.2h0M164.2 95.5h0M162.4 86.8h0M161.7 90.1h0M152.2 89.1h0M165.2 96.8h0M147.0 95.5h0M151.1 88.9h0M154.8 100.0h0M154.7 93.9h0M159.8 91.9h0M155.6 92.1h0M156.2 97.8h0M155.7 101.0h0M156.4 93.4h0M153.7 97.2h0M150.2 98.0h0M158.5 107.2h0M156.6 99.9h0M153.2 100.7h0M163.8 99.5h0M152.1 90.7h0M163.9 101.5h0M155.7 99.9h0M158.4 91.4h0M156.5 89.0h0M156.6 90.9h0" stroke="#28b0dc" stroke-width="1.2" stroke-linecap="round" fill="none"/><path d="M115.5 152.7h0M113.5 154.1h0M111.8 154.3h0M108.2 149.1h0M113.1 150.7h0M117.4 155.9h0M120.8 150.6h0M107.2 160.7h0M119.1 153.9h0M107.7 161.5h0M112.9 156.1h0M113.0 152.7h0M110.2 150.4h0M114.8 148.5h0M117.9 157.4h0M111.6 155.9h0M120.3 150.6h0M112.2 154.0h0M108.6 151.3h0M114.5 151.6h0M118.5 158.0h0M108.1 157.8h0M112.6 151.2h0M108.6 157.5h0M121.0 152.8h0M118.2 151.8h0M111.7 157.8h0M113.7 152.3h0M114.6 152.0h0M113.3 147.8h0M119.1 151.6h0M117.0 158.8h0M111.1 160.0h0M109.8 154.4h0M109.9 146.1h0M115.2 155.7h0M114.0 147.7h0M103.0 156.9h0M121.9 154.5h0M112.5 153.5h0M118.1 149.0h0M111.9 149.0h0M116.6 156.9h0M112.0 155.7h0M120.2 155.1h0M110.6 156.0h0M109.9 149.7h0M114.4 161.2h0M119.7 153.8h0M107.4 159.6h0" stroke="#A58AFF" stroke-width="3.4" stroke-linecap="round" fill="none" opacity="0.10"/><path d="M115.5 152.7h0M113.5 154.1h0M111.8 154.3h0M108.2 149.1h0M113.1 150.7h0M117.4 155.9h0M120.8 150.6h0M107.2 160.7h0M119.1 153.9h0M107.7 161.5h0M112.9 156.1h0M113.0 152.7h0M110.2 150.4h0M114.8 148.5h0M117.9 157.4h0M111.6 155.9h0M120.3 150.6h0M112.2 154.0h0M108.6 151.3h0M114.5 151.6h0M118.5 158.0h0M108.1 157.8h0M112.6 151.2h0M108.6 157.5h0M121.0 152.8h0M118.2 151.8h0M111.7 157.8h0M113.7 152.3h0M114.6 152.0h0M113.3 147.8h0M119.1 151.6h0M117.0 158.8h0M111.1 160.0h0M109.8 154.4h0M109.9 146.1h0M115.2 155.7h0M114.0 147.7h0M103.0 156.9h0M121.9 154.5h0M112.5 153.5h0M118.1 149.0h0M111.9 149.0h0M116.6 156.9h0M112.0 155.7h0M120.2 155.1h0M110.6 156.0h0M109.9 149.7h0M114.4 161.2h0M119.7 153.8h0M107.4 159.6h0" stroke="#9c86e4" stroke-width="1.2" stroke-linecap="round" fill="none"/><path d="M52.5 140.6h0M54.6 142.5h0M52.3 139.0h0M56.8 144.3h0M58.1 141.3h0M55.3 142.9h0M54.5 142.0h0M50.9 142.8h0M52.9 141.4h0M54.0 144.6h0M58.5 141.8h0M55.5 141.6h0M56.2 143.6h0M54.8 139.3h0M51.5 143.2h0M56.6 140.9h0M48.7 141.0h0M51.5 142.1h0M51.2 144.2h0M54.8 144.5h0" stroke="#FB61D7" stroke-width="3.4" stroke-linecap="round" fill="none" opacity="0.10"/><path d="M52.5 140.6h0M54.6 142.5h0M52.3 139.0h0M56.8 144.3h0M58.1 141.3h0M55.3 142.9h0M54.5 142.0h0M50.9 142.8h0M52.9 141.4h0M54.0 144.6h0M58.5 141.8h0M55.5 141.6h0M56.2 143.6h0M54.8 139.3h0M51.5 143.2h0M56.6 140.9h0M48.7 141.0h0M51.5 142.1h0M51.2 144.2h0M54.8 144.5h0" stroke="#ea66cc" stroke-width="1.2" stroke-linecap="round" fill="none"/><circle cx="181.2" cy="90.2" r="2.25" fill="#e47a72"/><text x="185" y="91.5" font-size="3.6" fill="#000" stroke="#000" stroke-width="0.12">Lymphocytes</text><circle cx="181.2" cy="96.4" r="2.25" fill="#c49c44"/><text x="185" y="97.7" font-size="3.6" fill="#000" stroke="#000" stroke-width="0.12">PMN/MDSCs</text><circle cx="181.2" cy="102.6" r="2.25" fill="#62ac4c"/><text x="185" y="103.9" font-size="3.6" fill="#000" stroke="#000" stroke-width="0.12">Dendritic cells</text><circle cx="181.2" cy="108.7" r="2.25" fill="#2ea886"/><text x="185" y="110.0" font-size="3.6" fill="#000" stroke="#000" stroke-width="0.12">Myofibroblasts</text><circle cx="181.2" cy="114.9" r="2.25" fill="#30aad6"/><text x="185" y="116.2" font-size="3.6" fill="#000" stroke="#000" stroke-width="0.12">Cytotoxic T cells</text><circle cx="181.2" cy="121.1" r="2.25" fill="#9880d0"/><text x="185" y="122.4" font-size="3.6" fill="#000" stroke="#000" stroke-width="0.12">Inflammatory CAFs</text><circle cx="181.2" cy="127.3" r="2.25" fill="#d866b2"/><text x="185" y="128.6" font-size="3.6" fill="#000" stroke="#000" stroke-width="0.12">Endothelial cells</text><rect x="24.3" y="233.9" width="54.8" height="122.1" fill="#F8766D"/><rect x="24.3" y="263.8" width="54.8" height="92.2" fill="#C99A24"/><rect x="24.3" y="326.0" width="54.8" height="30.0" fill="#56B947"/><rect x="24.3" y="333.7" width="54.8" height="22.3" fill="#25B894"/><rect x="24.3" y="336.0" width="54.8" height="20.0" fill="#1DB7E9"/><rect x="24.3" y="343.2" width="54.8" height="12.8" fill="#A088D0"/><rect x="85.8" y="234.0" width="54.1" height="122.0" fill="#F8766D"/><rect x="85.8" y="283.3" width="54.1" height="72.7" fill="#C99A24"/><rect x="85.8" y="287.3" width="54.1" height="68.7" fill="#56B947"/><rect x="85.8" y="310.2" width="54.1" height="45.8" fill="#25B894"/><rect x="85.8" y="339.0" width="54.1" height="17.0" fill="#1DB7E9"/><rect x="85.8" y="347.4" width="54.1" height="8.6" fill="#E066B2"/><rect x="146.6" y="234.0" width="54.1" height="122.0" fill="#F8766D"/><rect x="146.6" y="321.0" width="54.1" height="35.0" fill="#56B947"/><rect x="146.6" y="338.5" width="54.1" height="17.5" fill="#1DB7E9"/><line x1="13.6" y1="356.0" x2="15.0" y2="356.0" stroke="#999" stroke-width="0.5"/><text x="13.1" y="357.2" font-size="3.5" fill="#555" text-anchor="end">0.00</text><line x1="13.6" y1="325.5" x2="15.0" y2="325.5" stroke="#999" stroke-width="0.5"/><text x="13.1" y="326.8" font-size="3.5" fill="#555" text-anchor="end">0.25</text><line x1="13.6" y1="295.0" x2="15.0" y2="295.0" stroke="#999" stroke-width="0.5"/><text x="13.1" y="296.2" font-size="3.5" fill="#555" text-anchor="end">0.50</text><line x1="13.6" y1="264.5" x2="15.0" y2="264.5" stroke="#999" stroke-width="0.5"/><text x="13.1" y="265.8" font-size="3.5" fill="#555" text-anchor="end">0.75</text><line x1="13.6" y1="234.0" x2="15.0" y2="234.0" stroke="#999" stroke-width="0.5"/><text x="13.1" y="235.2" font-size="3.5" fill="#555" text-anchor="end">1.00</text><text transform="translate(4.2 294.8) rotate(-90)" font-size="4.9" fill="#222" text-anchor="middle">Cell count</text><text x="48.7" y="371.4" font-size="6.6" fill="#222" stroke="#222" stroke-width="0.18" text-anchor="middle">PDAC</text><text x="111.0" y="371.4" font-size="6.6" fill="#222" stroke="#222" stroke-width="0.18" text-anchor="middle">HGD-IPMN</text><text x="172.3" y="371.4" font-size="6.6" fill="#222" stroke="#222" stroke-width="0.18" text-anchor="middle">LGD-IPMN</text><defs><linearGradient id="gb" x1="0" y1="0" x2="0" y2="1"><stop offset="0" stop-color="#c8202a"/><stop offset="0.5" stop-color="#f07060"/><stop offset="1" stop-color="#e8d8d8"/></linearGradient><linearGradient id="gc" x1="0" y1="0" x2="0" y2="1"><stop offset="0" stop-color="#d42a2a"/><stop offset="0.5" stop-color="#ffffff"/><stop offset="1" stop-color="#4a3a9a"/></linearGradient></defs><rect x="233" y="334" width="4.2" height="24.8" fill="url(#gb)"/><text x="239" y="336.3" font-size="3.2" font-weight="bold" fill="#222">5</text><text x="239" y="340.7" font-size="3.2" font-weight="bold" fill="#222">4</text><text x="239" y="345.1" font-size="3.2" font-weight="bold" fill="#222">3</text><text x="239" y="349.5" font-size="3.2" font-weight="bold" fill="#222">2</text><text x="239" y="353.9" font-size="3.2" font-weight="bold" fill="#222">1</text><text x="239" y="358.3" font-size="3.2" font-weight="bold" fill="#222">0</text><rect x="5.00" y="427.8" width="65.40" height="5.2" fill="#F8766D"/><rect x="70.40" y="427.8" width="56.20" height="5.2" fill="#C99A24"/><rect x="126.60" y="427.8" width="18.80" height="5.2" fill="#56B947"/><rect x="145.40" y="427.8" width="15.50" height="5.2" fill="#25B894"/><rect x="160.90" y="427.8" width="13.70" height="5.2" fill="#1DB7E9"/><rect x="174.60" y="427.8" width="10.20" height="5.2" fill="#A088D0"/><rect x="184.80" y="427.8" width="3.70" height="5.2" fill="#cc72c4"/><path d="M5 434.40h1M9.99 434.40h1.99M26.94 434.40h1.99M32.92 434.40h1M54.86 434.40h1M58.85 434.40h2.99M62.84 434.40h2.99M70.82 434.40h1M5 437.20h1M6.99 437.20h1.99M21.95 437.20h1.99M30.93 437.20h1M36.91 437.20h1.99M42.90 437.20h1M53.87 437.20h1M129.66 437.20h1M6 440h1M7.99 440h1M9.99 440h1M16.97 440h1.99M20.96 440h1M30.93 440h2.99M41.90 440h1M54.86 440h1M162.57 440h1M10.98 442.80h1.99M44.89 442.80h1M54.86 442.80h1M58.85 442.80h1M63.84 442.80h1M69.82 442.80h1M20.96 445.60h1M40.90 445.60h1M50.88 445.60h1M54.86 445.60h1M57.86 445.60h1.99M69.82 445.60h1M168.55 445.60h1M172.54 445.60h1M14.97 448.40h1M130.66 448.40h1M170.55 448.40h1.99M10.98 451.20h1M17.96 451.20h1M22.95 451.20h1M41.90 451.20h1M58.85 451.20h1M60.85 451.20h1.99M162.57 451.20h1M164.57 451.20h1M177.53 451.20h1M7.99 454h1.99M11.98 454h1M25.94 454h1M39.90 454h1M50.88 454h1M54.86 454h1M60.85 454h1.99M69.82 454h1M170.55 454h1M17.96 456.80h1.99M57.86 456.80h1M60.85 456.80h1.99M163.57 456.80h1M166.56 456.80h1M14.97 459.60h2.99M36.91 459.60h1M40.90 459.60h1M52.87 459.60h1M74.81 462.38h1M77.80 462.38h1M86.78 462.38h1.99M100.74 462.38h1M103.73 462.38h1.99M110.71 462.38h1M114.70 462.38h1M116.70 462.38h1M119.69 462.38h1M72.82 465.12h1M78.80 465.12h1M81.79 465.12h1.99M102.73 465.12h1M107.72 465.12h1.99M110.71 465.12h1M112.71 465.12h1M114.70 465.12h1M117.69 465.12h1M120.68 465.12h1M127.67 465.12h1M138.64 465.12h1M186.51 465.12h1M70.82 467.88h1M91.76 467.88h1M93.76 467.88h1M95.75 467.88h1M117.69 467.88h1M123.68 467.88h1M70.82 470.62h1M78.80 470.62h1M83.79 470.62h1M86.78 470.62h1M91.76 470.62h1M95.75 470.62h1M106.72 470.62h2.99M112.71 470.62h1M124.67 470.62h1M136.64 470.62h1M73.81 473.38h1M78.80 473.38h1M80.79 473.38h1M86.78 473.38h1.99M92.76 473.38h1M95.75 473.38h1M103.73 473.38h1.99M108.72 473.38h1.99M111.71 473.38h1M113.70 473.38h1M118.69 473.38h1M120.68 473.38h1M122.68 473.38h1M70.82 476.12h1M77.80 476.12h1.99M85.78 476.12h1M89.77 476.12h1M100.74 476.12h1M107.72 476.12h1M109.71 476.12h1M112.71 476.12h1M149.61 476.12h1M78.80 478.88h1M94.76 478.88h1M107.72 478.88h1M110.71 478.88h1M124.67 478.88h1M139.63 478.88h1M75.81 481.62h1M101.74 481.62h1M114.70 481.62h1M119.69 481.62h1M70.82 484.38h1.99M73.81 484.38h1.99M86.78 484.38h1M95.75 484.38h1M100.74 484.38h1M105.73 484.38h1M110.71 484.38h1M114.70 484.38h1M72.82 487.12h1M77.80 487.12h1M90.77 487.12h1M100.74 487.12h1M103.73 487.12h3.99M113.70 487.12h1.99M124.67 487.12h1M128.66 487.12h1M73.81 489.82h1M75.81 489.82h1M78.80 489.82h1M84.78 489.82h2.99M96.75 489.82h1M112.71 489.82h1M119.69 489.82h1M136.64 489.82h1M140.63 489.82h1M142.62 489.82h1M77.80 492.48h1M85.78 492.48h1M93.76 492.48h1M95.75 492.48h1M105.73 492.48h1M107.72 492.48h1M138.64 492.48h1M141.63 492.48h1M77.80 495.12h1M82.79 495.12h1M93.76 495.12h1M95.75 495.12h1M110.71 495.12h1.99M126.67 495.12h1M75.81 497.77h1M89.77 497.77h1M93.76 497.77h1M109.71 497.77h1M124.67 497.77h1M141.63 497.77h1M143.62 497.77h1M75.81 500.43h1M86.78 500.43h1M100.74 500.43h1M123.68 500.43h1M130.66 500.43h1M138.64 500.43h1M141.63 500.43h1M90.77 503.07h1M106.72 503.07h1M118.69 503.07h1M130.66 503.07h1M139.63 503.07h1M144.62 503.07h1M74.81 505.73h1M79.80 505.73h1M124.67 505.73h1M126.67 505.73h1.99M130.66 505.73h1M137.64 505.73h1M141.63 505.73h1M86.78 508.38h1M90.77 508.38h1M93.76 508.38h1M101.74 508.38h1M110.71 508.38h1M112.71 508.38h1M121.68 508.38h1M123.68 508.38h1M128.66 508.38h1M130.66 508.38h1M134.65 508.38h1M138.64 508.38h1M140.63 508.38h2.99M97.75 511.02h1M109.71 511.02h1M122.68 511.02h1M127.67 511.02h1M136.64 511.02h1M158.58 511.02h1M73.81 513.67h1.99M85.78 513.67h1M107.72 513.67h1M128.66 513.67h1M136.64 513.67h1M144.62 513.67h1M147.61 516.42h1.99M157.58 516.42h2.99M178.53 516.42h1M181.52 516.42h1M110.71 519.28h1M156.59 519.28h1M159.58 519.28h1M174.54 519.28h1M177.53 519.28h1M182.52 519.28h1M61.85 522.12h1M147.61 522.12h1M153.60 522.12h1M84.78 524.97h1M149.61 524.97h1M176.53 524.97h1M183.51 524.97h1M152.60 527.83h1M155.59 527.83h1M178.53 527.83h1M150.60 530.67h1M154.59 530.67h1M178.53 530.67h1M181.52 530.67h1.99M152.60 533.53h1.99M176.53 533.53h1M147.61 536.38h1.99M158.58 536.38h1M91.76 539.22h1M146.61 542.08h1M7.99 544.88h1M24.95 544.88h1M27.94 544.88h1M29.93 544.88h1M31.93 544.88h1M48.88 544.88h1.99M53.87 544.88h1M68.83 544.88h1M165.56 544.88h1M169.55 544.88h1M160.58 547.62h1M163.57 547.62h1M16.97 550.38h1M35.92 550.38h1M50.88 550.38h1M54.86 550.38h1M63.84 550.38h1M163.57 550.38h1M170.55 550.38h1M40.90 553.12h1M44.89 553.12h1M52.87 553.12h1M166.56 553.12h1M170.55 553.12h1M13.98 555.88h1M15.97 555.88h1.99M22.95 555.88h1M30.93 555.88h1M46.89 555.88h1M169.55 555.88h1M65.83 558.62h1M170.55 558.62h1.99M173.54 558.62h1M67.83 561.38h1M163.57 561.38h1M170.55 561.38h1M33.92 564.12h1M50.88 564.12h1M66.83 564.12h1M69.82 564.12h1M107.72 564.12h1M168.55 564.12h1M51.87 566.88h1M79.80 566.88h1M170.55 566.88h1M13.98 569.62h1M161.57 569.62h1M170.55 569.62h1M81.79 572.36h1M142.62 572.36h1M174.54 572.36h1M177.53 572.36h1M183.51 572.36h1M128.66 575.09h1.99M132.65 575.09h1M134.65 575.09h1M140.63 575.09h2.99M178.53 575.09h1M182.52 575.09h1M103.73 577.82h1M127.67 577.82h1M136.64 577.82h1M143.62 577.82h1M156.59 577.82h1M146.61 580.55h1M178.53 580.55h1M127.67 583.27h1M141.63 583.27h1M176.53 583.27h1M97.75 586h1M177.53 586h1M133.65 588.73h1M135.64 588.73h1M142.62 588.73h1.99M150.60 588.73h1M154.59 588.73h1M158.58 588.73h1M178.53 588.73h1.99M28.93 594.18h1M68.83 596.91h1M86.78 596.91h1M98.74 596.91h1M168.55 596.91h1M180.52 596.91h1M130.66 599.64h1M135.64 599.64h1M139.63 599.64h1M146.61 599.64h1M149.61 599.64h1.99M156.59 599.64h1M182.52 599.64h1M12.98 602.39h1M174.54 602.39h1M178.53 602.39h1M181.52 602.39h1M186.51 602.39h1.99M45.89 607.94h1M150.60 610.72h1M186.51 610.72h1M169.55 616.28h1M186.51 619.06h1.99M13.98 621.83h1M25.94 621.83h1M69.82 621.83h1M122.68 621.83h1M187.50 621.83h1M158.58 624.61h1M166.56 624.61h1" stroke="#ea504a" stroke-width="2.8" fill="none"/><path d="M6 434.40h1M22.95 434.40h1M25.94 434.40h1M37.91 434.40h1M77.80 434.40h1M25.94 437.20h1M33.92 437.20h1M43.89 437.20h1M54.86 437.20h1M59.85 437.20h1M67.83 437.20h1M13.98 440h1M19.96 440h1M24.95 440h1M36.91 440h1M51.87 440h1M53.87 440h1M55.86 440h1M163.57 440h1M22.95 442.80h1M24.95 442.80h1M26.94 442.80h1.99M57.86 442.80h1M163.57 442.80h1M19.96 445.60h1M24.95 445.60h1M28.93 445.60h1M31.93 445.60h1M35.92 445.60h1M39.90 445.60h1M43.89 445.60h1M68.83 445.60h1M162.57 445.60h1M22.95 448.40h1M32.92 448.40h1M51.87 448.40h1M68.83 448.40h1M161.57 448.40h1M167.56 448.40h1M7.99 451.20h1M9.99 451.20h1M16.97 451.20h1M25.94 451.20h1M28.93 451.20h1M37.91 451.20h1.99M52.87 451.20h1M59.85 451.20h1M64.84 451.20h1M167.56 451.20h1M172.54 451.20h1M22.95 454h1.99M27.94 454h1M53.87 454h1M63.84 454h1.99M8.99 456.80h1M14.97 456.80h1M26.94 456.80h1M31.93 456.80h1M35.92 456.80h1M39.90 456.80h1M58.85 456.80h1M171.55 456.80h1M22.95 459.60h1M28.93 459.60h1M63.84 459.60h1M68.83 459.60h1M171.55 459.60h1M73.81 462.38h1M75.81 462.38h1M78.80 462.38h4.99M109.71 462.38h1M115.70 462.38h1M118.69 462.38h1M122.68 462.38h1M70.82 465.12h1M75.81 465.12h1M118.69 465.12h1M75.81 467.88h1.99M83.79 467.88h2.99M94.76 467.88h1M96.75 467.88h1M99.74 467.88h1M101.74 467.88h1M110.71 467.88h1.99M120.68 467.88h1M122.68 467.88h1M73.81 470.62h1M82.79 470.62h1M90.77 470.62h1M110.71 470.62h1M114.70 470.62h1.99M71.82 473.38h1M77.80 473.38h1M84.78 473.38h1M98.74 473.38h1.99M102.73 473.38h1M107.72 473.38h1M110.71 473.38h1M121.68 473.38h1M72.82 476.12h1M84.78 476.12h1M96.75 476.12h1M103.73 476.12h1M121.68 476.12h1M82.79 478.88h1M92.76 478.88h1M98.74 478.88h1.99M105.73 478.88h1M119.69 478.88h3.99M131.65 478.88h1M160.58 478.88h1M70.82 481.62h1M72.82 481.62h1.99M85.78 481.62h1M89.77 481.62h1M98.74 481.62h1M107.72 481.62h1M115.70 481.62h1M72.82 484.38h1M75.81 484.38h1M84.78 484.38h1M90.77 484.38h1M108.72 484.38h1M120.68 484.38h1M122.68 484.38h1M75.81 487.12h1.99M87.77 487.12h1M101.74 487.12h1M108.72 487.12h1M119.69 487.12h1M74.81 489.82h1M77.80 489.82h1M113.70 489.82h1M123.68 489.82h1M131.65 489.82h1.99M134.65 489.82h1M137.64 489.82h1.99M40.90 492.48h1M79.80 492.48h1M88.77 492.48h1M104.73 492.48h1M108.72 492.48h1M125.67 492.48h1M136.64 492.48h1M140.63 492.48h1M96.75 495.12h1M114.70 495.12h1M118.69 495.12h1M133.65 495.12h1M137.64 495.12h1M105.73 497.77h1.99M115.70 497.77h1M122.68 497.77h1M125.67 497.77h1M130.66 497.77h1M138.64 497.77h1.99M90.77 500.43h1M92.76 500.43h1M106.72 500.43h1M132.65 500.43h1M140.63 500.43h1M142.62 500.43h1M70.82 503.07h1M75.81 503.07h1M97.75 503.07h1M107.72 503.07h1M132.65 503.07h1M135.64 503.07h1M137.64 503.07h1M143.62 503.07h1M83.79 505.73h1M110.71 505.73h1M117.69 505.73h1M122.68 505.73h1M128.66 505.73h1M143.62 505.73h1M70.82 508.38h1M120.68 508.38h1M131.65 508.38h1M107.72 511.02h1M114.70 511.02h1M120.68 511.02h1M125.67 511.02h1M133.65 511.02h1.99M142.62 511.02h1M96.75 513.67h1M98.74 513.67h1M113.70 513.67h1M150.60 516.42h1M172.54 516.42h1M99.74 519.28h1M149.61 519.28h1M158.58 519.28h1M81.79 522.12h1M109.71 522.12h1M154.59 522.12h1M156.59 522.12h1M158.58 522.12h1M147.61 524.97h1M159.58 527.83h1M180.52 527.83h1.99M153.60 530.67h1M140.63 533.53h1M146.61 533.53h1M158.58 533.53h1.99M175.54 533.53h1M183.51 533.53h1M152.60 536.38h1M158.58 539.22h1M10.98 544.88h1M14.97 544.88h1M18.96 544.88h1M20.96 544.88h1M32.92 544.88h1M42.90 544.88h1M44.89 544.88h1.99M50.88 544.88h1M57.86 544.88h1M65.83 544.88h1M10.98 547.62h1M168.55 547.62h1M173.54 547.62h1M18.96 550.38h1M22.95 550.38h1M173.54 550.38h1M64.84 553.12h1M162.57 555.88h1M10.98 558.62h1M26.94 558.62h1M49.88 558.62h1.99M164.57 558.62h1.99M168.55 558.62h1M172.54 558.62h1M20.96 561.38h1M28.93 561.38h1M160.58 561.38h1M172.54 561.38h1M19.96 564.12h1M26.94 564.12h1M44.89 564.12h1M57.86 564.12h1M61.85 564.12h1M68.83 564.12h1M161.57 564.12h1M167.56 564.12h1M18.96 566.88h1M23.95 566.88h1M77.80 566.88h1M105.73 566.88h1M165.56 566.88h1M173.54 566.88h1M51.87 569.62h1M64.84 569.62h1M88.77 569.62h1M168.55 569.62h1.99M173.54 569.62h1M145.62 572.36h1M148.61 572.36h1M155.59 572.36h1M159.58 572.36h1M176.53 572.36h1M136.64 575.09h1M174.54 575.09h1M133.65 577.82h1.99M175.54 577.82h2.99M181.52 577.82h1M179.52 580.55h1M131.65 583.27h1M144.62 583.27h1M175.54 583.27h1M127.67 588.73h1M132.65 588.73h1M134.65 588.73h1M149.61 588.73h1M151.60 588.73h1.99M155.59 588.73h1M23.95 591.45h1M175.54 591.45h1M151.60 594.18h1M178.53 596.91h1M126.67 599.64h1M128.66 599.64h1M131.65 599.64h1M152.60 599.64h1M155.59 599.64h1M158.58 599.64h1M36.91 605.17h1M177.53 605.17h1M187.50 605.17h1M120.68 607.94h1M150.60 619.06h1M100.74 624.61h1M185.51 624.61h1" stroke="#e33936" stroke-width="2.8" fill="none"/><path d="M6.99 434.40h1M18.96 434.40h1M35.92 434.40h1M44.89 434.40h1M132.65 434.40h1M39.90 437.20h1M57.86 437.20h1M69.82 437.20h1M6.99 440h1M58.85 440h1M32.92 445.60h1.99M41.90 445.60h1M161.57 445.60h1M171.55 445.60h1M7.99 448.40h1.99M43.89 448.40h1M168.55 448.40h1M51.87 451.20h1M15.97 454h1M26.94 454h1M32.92 454h1M42.90 456.80h1M56.86 456.80h1M63.84 456.80h1M6 459.60h1M20.96 459.60h1.99M38.91 459.60h1M160.58 459.60h1M169.55 459.60h1M88.77 462.38h1M98.74 462.38h1M107.72 462.38h1M143.62 462.38h1M88.77 465.12h1M121.68 465.12h1M71.82 467.88h1.99M98.74 467.88h1M94.76 473.38h1M104.73 476.12h1M70.82 478.88h1M73.81 478.88h1M83.79 478.88h1M89.77 478.88h1M102.73 478.88h1M115.70 478.88h1M136.64 478.88h1M88.77 481.62h1M96.75 481.62h1M111.71 481.62h1M78.80 484.38h1M87.77 484.38h1M106.72 484.38h1M117.69 484.38h1.99M121.68 484.38h1M73.81 487.12h1.99M86.78 487.12h1M97.75 487.12h1M109.71 487.12h1.99M125.67 487.12h1M92.76 489.82h1M106.72 489.82h1M111.71 489.82h1M126.67 489.82h1M89.77 492.48h1M114.70 492.48h1M133.65 492.48h1.99M111.71 497.77h1M88.77 500.43h1M98.74 500.43h1M103.73 500.43h1M107.72 500.43h1M137.64 500.43h1M78.80 503.07h1M117.69 503.07h1M127.67 503.07h1M81.79 505.73h1M157.58 505.73h1M71.82 508.38h1M82.79 508.38h1M139.63 508.38h1M124.67 511.02h1M72.82 513.67h1M80.79 513.67h2.99M103.73 513.67h1M109.71 513.67h1M117.69 513.67h1M137.64 513.67h1M152.60 516.42h1M154.59 516.42h1M180.52 516.42h1M145.62 519.28h1M151.60 519.28h1M149.61 522.12h1M155.59 522.12h1M49.88 524.97h1M155.59 524.97h1M150.60 527.83h1M146.61 530.67h1M151.60 530.67h1M155.59 530.67h1.99M159.58 530.67h1M145.62 533.53h1M154.59 533.53h1M180.52 533.53h1M159.58 536.38h1M185.51 539.22h1M141.63 542.08h1M149.61 542.08h1M6 544.88h1M22.95 544.88h1M41.90 544.88h1M51.87 544.88h1M54.86 544.88h1M161.57 544.88h1M163.57 544.88h1.99M171.55 544.88h1M21.95 547.62h1M57.86 547.62h1M95.75 547.62h1M164.57 547.62h1M172.54 547.62h1M41.90 550.38h1M60.85 550.38h1M169.55 550.38h1M33.92 553.12h1M165.56 553.12h1M167.56 553.12h1M169.55 553.12h1M50.88 555.88h1M6.99 558.62h1M16.97 561.38h1M166.56 561.38h1M164.57 564.12h1M69.82 566.88h1M164.57 566.88h1M166.56 566.88h1M163.57 569.62h1M165.56 569.62h1M137.64 575.09h1M162.57 575.09h1M137.64 577.82h1M139.63 577.82h1M183.51 577.82h1M130.66 583.27h1M182.52 583.27h1M183.51 586h1M137.64 588.73h1M179.52 596.91h1M141.63 599.64h1M151.60 599.64h1M183.51 599.64h1M184.51 605.17h1M153.60 619.06h1M169.55 621.83h1M54.86 624.61h1" stroke="#dd3132" stroke-width="2.8" fill="none"/><path d="M7.99 434.40h1M14.97 434.40h1M28.93 434.40h1M51.87 434.40h1M68.83 434.40h1M164.57 434.40h1M167.56 434.40h1M173.54 434.40h1M8.99 437.20h1M18.96 437.20h1M34.92 437.20h1M55.86 437.20h1M163.57 437.20h1.99M166.56 437.20h1M169.55 437.20h1M172.54 437.20h1M12.98 440h1M33.92 440h1M35.92 440h1M37.91 440h1M40.90 440h1M42.90 440h1M50.88 440h1M68.83 440h1M170.55 440h1.99M173.54 440h1M13.98 442.80h2.99M21.95 442.80h1M31.93 442.80h1M34.92 442.80h1M36.91 442.80h1M39.90 442.80h1M55.86 442.80h1.99M14.97 445.60h1M21.95 445.60h1M44.89 445.60h1M51.87 445.60h1M62.84 445.60h1M66.83 445.60h1M135.64 445.60h1M177.53 445.60h1M10.98 448.40h1M12.98 448.40h1.99M18.96 448.40h1M23.95 448.40h1M62.84 448.40h1M165.56 448.40h1M14.97 451.20h1M20.96 451.20h1M23.95 451.20h1M27.94 451.20h1M34.92 451.20h1.99M42.90 451.20h1M65.83 451.20h1M166.56 451.20h1M13.98 454h1M52.87 454h1M55.86 454h1M161.57 454h1.99M167.56 454h1M173.54 454h1M7.99 456.80h1M25.94 456.80h1M33.92 456.80h1M55.86 456.80h1M160.58 456.80h1M7.99 459.60h1M9.99 459.60h1M51.87 459.60h1M54.86 459.60h1M57.86 459.60h1M69.82 459.60h1M163.57 459.60h1M170.55 459.60h1M76.80 462.38h1M93.76 462.38h1M112.71 462.38h1M124.67 462.38h1.99M73.81 465.12h1.99M85.78 465.12h1M90.77 465.12h1.99M93.76 465.12h1.99M96.75 465.12h1.99M99.74 465.12h1M105.73 465.12h1.99M113.70 465.12h1M119.69 465.12h1M123.68 465.12h1M144.62 465.12h1M78.80 467.88h1M86.78 467.88h1M92.76 467.88h1M97.75 467.88h1M105.73 467.88h1.99M109.71 467.88h1M114.70 467.88h1M116.70 467.88h1M118.69 467.88h1M121.68 467.88h1M124.67 467.88h1.99M48.88 470.62h1M75.81 470.62h1.99M79.80 470.62h1M81.79 470.62h1M97.75 470.62h1.99M102.73 470.62h1M104.73 470.62h1M109.71 470.62h1M111.71 470.62h1M118.69 470.62h1M121.68 470.62h1M72.82 473.38h1M82.79 473.38h1M91.76 473.38h1M112.71 473.38h1M114.70 473.38h1.99M125.67 473.38h1M74.81 476.12h1M81.79 476.12h1M86.78 476.12h2.99M92.76 476.12h1.99M97.75 476.12h1M106.72 476.12h1M110.71 476.12h1M114.70 476.12h1M117.69 476.12h1M125.67 476.12h1M79.80 478.88h2.99M84.78 478.88h1M86.78 478.88h1M88.77 478.88h1M95.75 478.88h1M108.72 478.88h1M111.71 478.88h1M141.63 478.88h1M77.80 481.62h1M79.80 481.62h1M82.79 481.62h1M94.76 481.62h1.99M97.75 481.62h1M109.71 481.62h1M113.70 481.62h1M124.67 481.62h1M142.62 481.62h1M76.80 484.38h1M81.79 484.38h1M85.78 484.38h1M92.76 484.38h2.99M97.75 484.38h1M99.74 484.38h1M109.71 484.38h1M115.70 484.38h1.99M119.69 484.38h1M124.67 484.38h1.99M132.65 484.38h1M28.93 487.12h1M70.82 487.12h1M78.80 487.12h1M91.76 487.12h1M93.76 487.12h1M96.75 487.12h1M99.74 487.12h1M117.69 487.12h1M121.68 487.12h1M123.68 487.12h1M81.79 489.82h1M83.79 489.82h1M94.76 489.82h1M101.74 489.82h1M105.73 489.82h1M121.68 489.82h1M139.63 489.82h1M143.62 489.82h1M96.75 492.48h1M100.74 492.48h1.99M112.71 492.48h1M124.67 492.48h1M127.67 492.48h1M130.66 492.48h1M144.62 492.48h1M75.81 495.12h1M78.80 495.12h1M91.76 495.12h1M105.73 495.12h1M127.67 495.12h1M131.65 495.12h1.99M140.63 495.12h1M78.80 497.77h1M82.79 497.77h1M92.76 497.77h1M97.75 497.77h1M100.74 497.77h1.99M103.73 497.77h1M107.72 497.77h1M114.70 497.77h1M126.67 497.77h1M131.65 497.77h1M74.81 500.43h1M99.74 500.43h1M114.70 500.43h1M126.67 500.43h1M128.66 500.43h1M131.65 500.43h1M133.65 500.43h1M73.81 503.07h1M80.79 503.07h1M103.73 503.07h1M112.71 503.07h1M114.70 503.07h1M126.67 503.07h1M131.65 503.07h1M111.71 505.73h1M114.70 505.73h1M131.65 505.73h1M133.65 505.73h1M139.63 505.73h1.99M148.61 505.73h1M77.80 508.38h1M100.74 508.38h1M106.72 508.38h1M109.71 508.38h1M150.60 508.38h1M72.82 511.02h1M78.80 511.02h1.99M91.76 511.02h1M100.74 511.02h1M143.62 511.02h1M75.81 513.67h1M88.77 513.67h1M91.76 513.67h1M94.76 513.67h1M100.74 513.67h1M115.70 513.67h1M120.68 513.67h1M124.67 513.67h1M134.65 513.67h1M153.60 516.42h1M156.59 516.42h1M176.53 516.42h1M150.60 519.28h1M180.52 519.28h1M183.51 519.28h1M102.73 522.12h1M145.62 522.12h1M150.60 522.12h2.99M145.62 524.97h1.99M151.60 524.97h1M154.59 524.97h1M159.58 524.97h1M181.52 524.97h1M146.61 527.83h1M153.60 527.83h1M174.54 527.83h2.99M179.52 527.83h1M182.52 527.83h1M6.99 530.67h1M149.61 530.67h1M131.65 533.53h1M149.61 533.53h2.99M157.58 533.53h1M179.52 533.53h1M60.85 536.38h1M177.53 536.38h1M112.71 539.22h1M150.60 539.22h1M157.58 539.22h1M7.99 542.08h1M56.86 542.08h1M96.75 542.08h1M145.62 542.08h1M159.58 542.08h1M170.55 542.08h1M9.99 544.88h1M13.98 544.88h1M16.97 544.88h1M25.94 544.88h1.99M30.93 544.88h1M37.91 544.88h1M56.86 544.88h1M61.85 544.88h1M63.84 544.88h1M69.82 544.88h1M160.58 544.88h1M170.55 544.88h1M173.54 544.88h1M9.99 547.62h1M68.83 547.62h1M161.57 547.62h1M166.56 547.62h1.99M166.56 550.38h1M171.55 550.38h1M10.98 553.12h1M19.96 553.12h1M59.85 553.12h1M6 555.88h1M7.99 555.88h1M44.89 555.88h1M57.86 555.88h1M160.58 555.88h1.99M165.56 555.88h1M172.54 555.88h1M11.98 558.62h1M25.94 558.62h1M62.84 558.62h1M21.95 561.38h1M34.92 561.38h1M54.86 561.38h1M87.77 561.38h1M161.57 561.38h1M169.55 561.38h1M173.54 561.38h1M40.90 564.12h1M43.89 564.12h1M48.88 564.12h1M77.80 564.12h1M165.56 564.12h1M169.55 564.12h2.99M173.54 564.12h1M161.57 566.88h2.99M167.56 566.88h1M37.91 569.62h1M60.85 569.62h1M67.83 569.62h1M120.68 569.62h1M162.57 569.62h1M166.56 569.62h1M146.61 572.36h1M150.60 572.36h1.99M153.60 572.36h1M156.59 572.36h1M175.54 572.36h1M181.52 572.36h1.99M133.65 575.09h1M177.53 575.09h1M181.52 575.09h1M126.67 577.82h1M129.66 577.82h2.99M135.64 577.82h1M141.63 577.82h1M144.62 577.82h1M178.53 577.82h1M80.79 580.55h1M176.53 580.55h1M180.52 580.55h1M182.52 580.55h1M120.68 583.27h1M128.66 583.27h1M138.64 583.27h1.99M178.53 583.27h1M175.54 586h1M178.53 586h1M126.67 588.73h1M130.66 588.73h1.99M138.64 588.73h1.99M145.62 588.73h1M157.58 588.73h1M177.53 588.73h1M180.52 588.73h1M49.88 591.45h1M176.53 591.45h1M109.71 594.18h1M174.54 596.91h1M176.53 596.91h1.99M142.62 599.64h3.99M178.53 599.64h1M160.58 602.39h1M185.51 602.39h1M94.76 607.94h1M173.54 607.94h1M55.86 613.50h1M186.51 613.50h1.99M153.60 616.28h1M185.51 616.28h1M187.50 616.28h1M57.86 619.06h1M158.58 619.06h1M159.58 621.83h1M184.51 621.83h1" stroke="#e8403a" stroke-width="2.8" fill="none"/><path d="M8.99 434.40h1M38.91 434.40h1M56.86 434.40h1M69.82 434.40h1M66.83 437.20h1M8.99 440h1M167.56 442.80h1M41.90 448.40h1M59.85 448.40h1M12.98 451.20h1M40.90 451.20h1M9.99 456.80h1M22.95 456.80h1M43.89 456.80h1.99M33.92 459.60h1M47.88 462.38h1M101.74 465.12h1M104.73 465.12h1M125.67 465.12h1M48.88 467.88h1M74.81 467.88h1M112.71 467.88h1M49.88 470.62h1M94.76 470.62h1M119.69 470.62h1M48.88 473.38h1M105.73 473.38h1M71.82 476.12h1M73.81 476.12h1M102.73 476.12h1M108.72 476.12h1M71.82 478.88h1M76.80 478.88h1M80.79 481.62h1M93.76 481.62h1M122.68 481.62h1M125.67 481.62h1M49.88 487.12h1M95.75 487.12h1M109.71 489.82h1M126.67 492.48h1M143.62 492.48h1M137.64 497.77h1M142.62 497.77h1M134.65 500.43h1M75.81 505.73h1M138.64 505.73h1M142.62 505.73h1M144.62 505.73h1M75.81 511.02h1M139.63 511.02h1M130.66 513.67h1M153.60 519.28h1M148.61 522.12h1M157.58 522.12h1M176.53 522.12h1M145.62 536.38h1M147.61 539.22h1M54.86 547.62h1M161.57 550.38h1M164.57 550.38h1M174.54 577.82h1M175.54 580.55h1M179.52 586h1M174.54 599.64h1M42.90 602.39h1M133.65 602.39h1M168.55 602.39h1M186.51 605.17h1M5 607.94h1M7.99 607.94h1M50.88 616.28h1M90.77 616.28h1M177.53 616.28h1M184.51 616.28h1M186.51 616.28h1M58.85 621.83h1" stroke="#f5acab" stroke-width="2.8" fill="none"/><path d="M11.98 434.40h1M17.96 434.40h1M46.89 434.40h1M57.86 434.40h1M61.85 434.40h1M66.83 434.40h1M75.81 434.40h1M109.71 434.40h1M119.69 434.40h1M127.67 434.40h1M137.64 434.40h1M142.62 434.40h1M176.53 434.40h1M179.52 434.40h1.99M183.51 434.40h1M65.83 437.20h1M70.82 437.20h1M133.65 437.20h1M140.63 437.20h1M142.62 437.20h1M167.56 437.20h1M173.54 437.20h1M23.95 440h1M75.81 440h1M127.67 440h1M137.64 440h1M140.63 440h1M179.52 440h1M5 442.80h1M9.99 442.80h1M18.96 442.80h1M32.92 442.80h1.99M50.88 442.80h1M60.85 442.80h1M67.83 442.80h1M75.81 442.80h1M108.72 442.80h1.99M115.70 442.80h1M137.64 442.80h1M141.63 442.80h1M144.62 442.80h1M162.57 442.80h1M181.52 442.80h1M183.51 442.80h1M16.97 445.60h1M26.94 445.60h1M45.89 445.60h1M47.88 445.60h1M49.88 445.60h1M70.82 445.60h1M75.81 445.60h1M77.80 445.60h1M109.71 445.60h1M143.62 445.60h1M160.58 445.60h1M176.53 445.60h1M6.99 448.40h1M58.85 448.40h1M65.83 448.40h1.99M75.81 448.40h1M131.65 448.40h1M140.63 448.40h1M143.62 448.40h1M166.56 448.40h1M176.53 448.40h1M180.52 448.40h1M183.51 448.40h1M21.95 451.20h1M31.93 451.20h1M53.87 451.20h1M75.81 451.20h1M127.67 451.20h1M131.65 451.20h1M140.63 451.20h1M142.62 451.20h1M176.53 451.20h1M181.52 451.20h1M28.93 454h1M31.93 454h1M33.92 454h1M35.92 454h1.99M42.90 454h1.99M51.87 454h1M78.80 454h1M109.71 454h1M119.69 454h1M139.63 454h1.99M180.52 454h1M183.51 454h1M13.98 456.80h1M16.97 456.80h1M28.93 456.80h1M41.90 456.80h1M109.71 456.80h1M127.67 456.80h1M140.63 456.80h1M165.56 456.80h1M168.55 456.80h1M176.53 456.80h1M5 459.60h1M18.96 459.60h1M25.94 459.60h1M35.92 459.60h1M53.87 459.60h1M62.84 459.60h1M75.81 459.60h1M140.63 459.60h1M161.57 459.60h1M183.51 459.60h1M72.82 462.38h1M131.65 462.38h1M133.65 462.38h1M135.64 462.38h1M137.64 462.38h1.99M141.63 462.38h1M128.66 465.12h1M132.65 465.12h1M137.64 465.12h1M142.62 465.12h1.99M127.67 467.88h1M135.64 467.88h1M137.64 467.88h1M139.63 467.88h1M144.62 467.88h1M128.66 470.62h1M133.65 470.62h1M137.64 470.62h1M141.63 470.62h1.99M144.62 470.62h1M127.67 473.38h1M129.66 473.38h1M132.65 473.38h1M135.64 473.38h1M137.64 473.38h1.99M142.62 473.38h1M127.67 476.12h1M130.66 476.12h1M132.65 476.12h1M139.63 476.12h1M142.62 476.12h2.99M127.67 478.88h1M133.65 478.88h1M142.62 478.88h2.99M128.66 481.62h1M130.66 481.62h1M133.65 481.62h1.99M139.63 481.62h1M126.67 484.38h1M131.65 484.38h1M133.65 484.38h1M139.63 484.38h1M143.62 484.38h1.99M81.79 487.12h1M129.66 487.12h1M133.65 487.12h1M135.64 487.12h1M137.64 487.12h1M143.62 487.12h1.99M54.86 489.82h1M82.79 489.82h1M98.74 489.82h1M104.73 489.82h1M117.69 489.82h1.99M125.67 489.82h1M82.79 492.48h1M86.78 492.48h1M90.77 492.48h1M94.76 492.48h1M102.73 492.48h1M115.70 492.48h1M118.69 492.48h1M121.68 492.48h1M33.92 495.12h1M72.82 495.12h1M80.79 495.12h1M84.78 495.12h1M98.74 495.12h1M100.74 495.12h1M106.72 495.12h1M117.69 495.12h1M123.68 495.12h1M23.95 497.77h1M36.91 497.77h1M84.78 497.77h1M88.77 497.77h1M90.77 497.77h1M94.76 497.77h1M98.74 497.77h1M104.73 497.77h1M112.71 497.77h1M118.69 497.77h1M123.68 497.77h1M84.78 500.43h1M87.77 500.43h1M95.75 500.43h1.99M117.69 500.43h1M39.90 503.07h1M54.86 503.07h1M74.81 503.07h1M79.80 503.07h1M87.77 503.07h1.99M93.76 503.07h1M96.75 503.07h1M105.73 503.07h1M123.68 503.07h1.99M72.82 505.73h1M82.79 505.73h1M87.77 505.73h1.99M92.76 505.73h1M96.75 505.73h2.99M100.74 505.73h1M102.73 505.73h1M104.73 505.73h2.99M116.70 505.73h1M121.68 505.73h1M123.68 505.73h1M40.90 508.38h1M72.82 508.38h1M84.78 508.38h1.99M88.77 508.38h1M95.75 508.38h1M39.90 511.02h1M80.79 511.02h1M87.77 511.02h1M112.71 511.02h1M118.69 511.02h1M84.78 513.67h1M87.77 513.67h1M90.77 513.67h1M105.73 513.67h1.99M118.69 513.67h1M121.68 513.67h1M125.67 513.67h1M133.65 513.67h1M23.95 516.42h1M166.56 516.42h1M23.95 519.28h1M54.86 519.28h1M75.81 519.28h1M109.71 519.28h1M17.96 522.12h1M24.95 522.12h1.99M29.93 522.12h1M36.91 522.12h1M39.90 522.12h1M46.89 522.12h1M53.87 522.12h1M58.85 522.12h1M70.82 522.12h1M73.81 522.12h1M75.81 522.12h1M91.76 522.12h1M99.74 522.12h1M101.74 522.12h1M110.71 522.12h1M119.69 522.12h1M127.67 522.12h1M140.63 522.12h1M163.57 522.12h1.99M168.55 522.12h1.99M172.54 522.12h1.99M182.52 522.12h1M187.50 522.12h1M15.97 524.97h1M17.96 524.97h1M22.95 524.97h1M36.91 524.97h1M38.91 524.97h1.99M54.86 524.97h1M77.80 524.97h1M81.79 524.97h1M86.78 524.97h1M109.71 524.97h1M115.70 524.97h1M119.69 524.97h1M140.63 524.97h1M163.57 524.97h1M165.56 524.97h1.99M171.55 524.97h1M173.54 524.97h2.99M177.53 524.97h1M182.52 524.97h1M109.71 527.83h1M162.57 527.83h1M36.91 530.67h1M54.86 530.67h1M140.63 530.67h1M165.56 530.67h1M172.54 530.67h1M177.53 533.53h1M140.63 536.38h1M175.54 536.38h1M182.52 536.38h1M54.86 539.22h1M75.81 539.22h1M162.57 539.22h1M166.56 539.22h1M177.53 539.22h1M179.52 539.22h1M23.95 542.08h1M36.91 542.08h1M39.90 542.08h1M46.89 542.08h1M54.86 542.08h1M59.85 542.08h1M75.81 542.08h1M78.80 542.08h1M101.74 542.08h1M109.71 542.08h1M116.70 542.08h1M119.69 542.08h1M140.63 542.08h1M147.61 542.08h1M164.57 542.08h1M172.54 542.08h1M174.54 542.08h1M178.53 542.08h1M11.98 544.88h1M19.96 544.88h1M67.83 544.88h1M77.80 544.88h1.99M86.78 544.88h1M91.76 544.88h1M103.73 544.88h1M109.71 544.88h1.99M115.70 544.88h1.99M119.69 544.88h1.99M127.67 544.88h1M140.63 544.88h1M149.61 544.88h1M154.59 544.88h1M168.55 544.88h1M172.54 544.88h1M5 547.62h1.99M11.98 547.62h3.99M16.97 547.62h1M19.96 547.62h1.99M26.94 547.62h2.99M30.93 547.62h1M32.92 547.62h1M34.92 547.62h1M49.88 547.62h1.99M65.83 547.62h1.99M79.80 547.62h1M81.79 547.62h1M83.79 547.62h1M85.78 547.62h1.99M91.76 547.62h1.99M94.76 547.62h1M101.74 547.62h1M103.73 547.62h1M110.71 547.62h1.99M113.70 547.62h1M122.68 547.62h1M127.67 547.62h1M129.66 547.62h1M132.65 547.62h1M137.64 547.62h1M142.62 547.62h1M145.62 547.62h1M150.60 547.62h1M157.58 547.62h1M181.52 547.62h1M183.51 547.62h1M5 550.38h1M7.99 550.38h1M9.99 550.38h1M13.98 550.38h1.99M19.96 550.38h1M26.94 550.38h2.99M37.91 550.38h1.99M42.90 550.38h1M48.88 550.38h1M51.87 550.38h1.99M55.86 550.38h2.99M59.85 550.38h1M64.84 550.38h1M66.83 550.38h1M69.82 550.38h1.99M73.81 550.38h1M77.80 550.38h1.99M82.79 550.38h1M91.76 550.38h1M99.74 550.38h1M101.74 550.38h1M103.73 550.38h1M110.71 550.38h1M139.63 550.38h1.99M145.62 550.38h1M148.61 550.38h1.99M154.59 550.38h1.99M180.52 550.38h1.99M6 553.12h2.99M11.98 553.12h1.99M14.97 553.12h1M21.95 553.12h1M28.93 553.12h1M34.92 553.12h1M41.90 553.12h1M43.89 553.12h1M47.88 553.12h1M50.88 553.12h1M57.86 553.12h1M60.85 553.12h1M62.84 553.12h1M68.83 553.12h1.99M73.81 553.12h1M83.79 553.12h1M86.78 553.12h1M91.76 553.12h1.99M99.74 553.12h1M101.74 553.12h1M103.73 553.12h1M107.72 553.12h1M109.71 553.12h2.99M115.70 553.12h1.99M120.68 553.12h1M131.65 553.12h1.99M140.63 553.12h3.99M145.62 553.12h1.99M148.61 553.12h1.99M158.58 553.12h1M179.52 553.12h1.99M183.51 553.12h1M17.96 555.88h1M24.95 555.88h1M33.92 555.88h1.99M38.91 555.88h1.99M42.90 555.88h1M48.88 555.88h1M52.87 555.88h1.99M56.86 555.88h1M61.85 555.88h3.99M67.83 555.88h1M69.82 555.88h1M75.81 555.88h1M77.80 555.88h1M86.78 555.88h1M109.71 555.88h1M116.70 555.88h1M119.69 555.88h1M154.59 555.88h1M176.53 555.88h1M183.51 555.88h1M8.99 558.62h1.99M13.98 558.62h1M17.96 558.62h1.99M22.95 558.62h1M24.95 558.62h1M29.93 558.62h1.99M33.92 558.62h1M37.91 558.62h1M40.90 558.62h2.99M48.88 558.62h1M53.87 558.62h1M56.86 558.62h1M59.85 558.62h1M77.80 558.62h1M99.74 558.62h1M111.71 558.62h1M140.63 558.62h1M10.98 561.38h2.99M19.96 561.38h1M22.95 561.38h1M27.94 561.38h1M31.93 561.38h1M35.92 561.38h1M37.91 561.38h1M41.90 561.38h1M44.89 561.38h1M50.88 561.38h1M53.87 561.38h1M62.84 561.38h1M65.83 561.38h1M68.83 561.38h1M77.80 561.38h2.99M81.79 561.38h1M83.79 561.38h1M86.78 561.38h1M91.76 561.38h1.99M101.74 561.38h1M108.72 561.38h2.99M116.70 561.38h1M119.69 561.38h1M122.68 561.38h1M127.67 561.38h1M131.65 561.38h1M133.65 561.38h1M135.64 561.38h1M138.64 561.38h1M140.63 561.38h2.99M145.62 561.38h1M148.61 561.38h2.99M180.52 561.38h1M183.51 561.38h1M7.99 564.12h1.99M13.98 564.12h1.99M18.96 564.12h1M22.95 564.12h1M27.94 564.12h1M29.93 564.12h2.99M34.92 564.12h1M37.91 564.12h1M41.90 564.12h1M51.87 564.12h1.99M55.86 564.12h1M58.85 564.12h1M63.84 564.12h1.99M79.80 564.12h1M86.78 564.12h1M99.74 564.12h1M108.72 564.12h1.99M119.69 564.12h1M140.63 564.12h1M150.60 564.12h1M5 566.88h1M6.99 566.88h1.99M10.98 566.88h2.99M16.97 566.88h1M19.96 566.88h1M26.94 566.88h1M28.93 566.88h1M35.92 566.88h1M43.89 566.88h1.99M49.88 566.88h1.99M57.86 566.88h1M60.85 566.88h1M66.83 566.88h1M68.83 566.88h1M70.82 566.88h1M78.80 566.88h1M81.79 566.88h1M89.77 566.88h1M91.76 566.88h1.99M94.76 566.88h1M96.75 566.88h1M99.74 566.88h1M102.73 566.88h1.99M107.72 566.88h1.99M110.71 566.88h2.99M114.70 566.88h1.99M123.68 566.88h1M125.67 566.88h1M127.67 566.88h1M137.64 566.88h1M139.63 566.88h1M141.63 566.88h3.99M146.61 566.88h1M148.61 566.88h1.99M151.60 566.88h1M175.54 566.88h1M179.52 566.88h1M183.51 566.88h1M8.99 569.62h1M10.98 569.62h1M15.97 569.62h1.99M18.96 569.62h1M22.95 569.62h1M25.94 569.62h2.99M31.93 569.62h1.99M34.92 569.62h1M41.90 569.62h1.99M53.87 569.62h1M56.86 569.62h3.99M61.85 569.62h2.99M69.82 569.62h1.99M75.81 569.62h1M91.76 569.62h1M103.73 569.62h1M109.71 569.62h1.99M115.70 569.62h1M140.63 569.62h1M148.61 569.62h1M183.51 569.62h1M8.99 572.36h1M18.96 572.36h1M23.95 572.36h1M26.94 572.36h1M30.93 572.36h1M36.91 572.36h1M39.90 572.36h1.99M42.90 572.36h1M46.89 572.36h1M54.86 572.36h1M128.66 572.36h1M152.60 572.36h1M187.50 572.36h1M8.99 575.09h1M18.96 575.09h1M24.95 575.09h1.99M29.93 575.09h1.99M34.92 575.09h1M36.91 575.09h1M38.91 575.09h1M40.90 575.09h2.99M48.88 575.09h1M52.87 575.09h1.99M55.86 575.09h1M61.85 575.09h1M63.84 575.09h1.99M147.61 575.09h1M152.60 575.09h1.99M156.59 575.09h1M159.58 575.09h1M163.57 575.09h1M168.55 575.09h1M172.54 575.09h1M8.99 577.82h1M15.97 577.82h1M17.96 577.82h1.99M23.95 577.82h1M36.91 577.82h1M40.90 577.82h1M46.89 577.82h1M48.88 577.82h1M53.87 577.82h3.99M58.85 577.82h1M61.85 577.82h1M147.61 577.82h1M152.60 577.82h1.99M157.58 577.82h1.99M15.97 580.55h1M17.96 580.55h1.99M22.95 580.55h1.99M29.93 580.55h1.99M38.91 580.55h1M40.90 580.55h1M42.90 580.55h1M46.89 580.55h1M51.87 580.55h2.99M57.86 580.55h1M61.85 580.55h1M63.84 580.55h1M67.83 580.55h1M81.79 580.55h1M153.60 580.55h1M156.59 580.55h1M158.58 580.55h1M183.51 580.55h1M187.50 580.55h1M15.97 583.27h1M17.96 583.27h1M23.95 583.27h1M25.94 583.27h1M33.92 583.27h1M36.91 583.27h2.99M52.87 583.27h1.99M56.86 583.27h1M58.85 583.27h1M67.83 583.27h1M147.61 583.27h1M152.60 583.27h1.99M155.59 583.27h1M22.95 586h1.99M27.94 586h1M29.93 586h1M31.93 586h1M36.91 586h1M38.91 586h1M41.90 586h1.99M46.89 586h1M48.88 586h1M52.87 586h1.99M55.86 586h1.99M58.85 586h1.99M61.85 586h1M63.84 586h1.99M69.82 586h1M79.80 586h1M81.79 586h1M152.60 586h1M156.59 586h1M164.57 586h1M166.56 586h1M8.99 588.73h1M15.97 588.73h1M17.96 588.73h1M19.96 588.73h1M22.95 588.73h1.99M36.91 588.73h1.99M40.90 588.73h2.99M48.88 588.73h1M51.87 588.73h2.99M55.86 588.73h1.99M60.85 588.73h1M63.84 588.73h2.99M88.77 588.73h1M115.70 588.73h1M147.61 588.73h1M166.56 588.73h1M173.54 588.73h1M9.99 591.45h1M15.97 591.45h1M17.96 591.45h1M22.95 591.45h1M25.94 591.45h1M30.93 591.45h1M33.92 591.45h1.99M36.91 591.45h1.99M39.90 591.45h1.99M42.90 591.45h1M52.87 591.45h1M54.86 591.45h1M56.86 591.45h1M59.85 591.45h1M62.84 591.45h2.99M67.83 591.45h1M128.66 591.45h1M152.60 591.45h1.99M156.59 591.45h1M159.58 591.45h1M162.57 591.45h1M165.56 591.45h1M179.52 591.45h1M8.99 594.18h1M29.93 594.18h1M36.91 594.18h1M39.90 594.18h1.99M54.86 594.18h1.99M58.85 594.18h1M81.79 594.18h1M149.61 594.18h1M158.58 594.18h1M6.99 596.91h1M8.99 596.91h1M14.97 596.91h1.99M18.96 596.91h1M24.95 596.91h1M27.94 596.91h1M32.92 596.91h3.99M37.91 596.91h1.99M42.90 596.91h1M49.88 596.91h1M51.87 596.91h2.99M58.85 596.91h2.99M62.84 596.91h1M64.84 596.91h1M66.83 596.91h1.99M79.80 596.91h1M88.77 596.91h1M115.70 596.91h1M138.64 596.91h1M156.59 596.91h1M159.58 596.91h1M162.57 596.91h2.99M166.56 596.91h1M187.50 596.91h1M15.97 599.64h1M22.95 599.64h1.99M25.94 599.64h1M33.92 599.64h1M39.90 599.64h1.99M42.90 599.64h1M46.89 599.64h1M48.88 599.64h1M52.87 599.64h2.99M56.86 599.64h1M58.85 599.64h1M64.84 599.64h1M29.93 602.39h1M36.91 602.39h1M75.81 602.39h1M79.80 602.39h1M99.74 602.39h1M109.71 602.39h1.99M115.70 602.39h1M140.63 602.39h1M18.96 605.17h1M23.95 605.17h1M33.92 605.17h1M39.90 605.17h1.99M46.89 605.17h1M52.87 605.17h2.99M56.86 605.17h1M67.83 605.17h1M75.81 605.17h1M77.80 605.17h1.99M110.71 605.17h1M115.70 605.17h1.99M122.68 605.17h1M148.61 605.17h2.99M154.59 605.17h1M176.53 605.17h1M183.51 605.17h1M8.99 607.94h1M23.95 607.94h1M39.90 607.94h1.99M46.89 607.94h1M77.80 607.94h1M86.78 607.94h1M91.76 607.94h1M103.73 607.94h1M115.70 607.94h1M140.63 607.94h1M148.61 607.94h2.99M154.59 607.94h1M176.53 607.94h1M179.52 607.94h1.99M15.97 610.72h1M29.93 610.72h1M54.86 610.72h1M70.82 610.72h1M75.81 610.72h1M78.80 610.72h1M86.78 610.72h1M91.76 610.72h1M119.69 610.72h1M140.63 610.72h1M154.59 610.72h1M8.99 613.50h1M15.97 613.50h1M17.96 613.50h1.99M22.95 613.50h1M27.94 613.50h1M29.93 613.50h1.99M33.92 613.50h1M36.91 613.50h1M38.91 613.50h1M40.90 613.50h1M42.90 613.50h1M46.89 613.50h1M48.88 613.50h1.99M51.87 613.50h1M53.87 613.50h1M56.86 613.50h1M58.85 613.50h1M61.85 613.50h1M64.84 613.50h1M70.82 613.50h1M73.81 613.50h1M78.80 613.50h1.99M86.78 613.50h1M88.77 613.50h1M91.76 613.50h1M97.75 613.50h1M99.74 613.50h1M101.74 613.50h1M103.73 613.50h1M122.68 613.50h1M131.65 613.50h1M139.63 613.50h2.99M148.61 613.50h1.99M155.59 613.50h1M157.58 613.50h1M164.57 613.50h2.99M172.54 613.50h1M179.52 613.50h1M183.51 613.50h1M36.91 616.28h1M148.61 616.28h1M154.59 616.28h1M176.53 616.28h1M23.95 619.06h1M25.94 619.06h1M40.90 619.06h1M56.86 619.06h1M58.85 619.06h1M70.82 619.06h1M75.81 619.06h1M78.80 619.06h1M101.74 619.06h1M109.71 619.06h1.99M115.70 619.06h1M140.63 619.06h1M154.59 619.06h1M54.86 621.83h1M15.97 624.61h1M37.91 624.61h1M39.90 624.61h1M48.88 624.61h1M55.86 624.61h1M78.80 624.61h1M83.79 624.61h1M140.63 624.61h1M145.62 624.61h1M148.61 624.61h1M151.60 624.61h1M162.57 624.61h1M176.53 624.61h1" stroke="#f7e2e9" stroke-width="2.8" fill="none"/><path d="M12.98 434.40h1M71.82 434.40h1M76.80 434.40h1M151.60 434.40h1M157.58 434.40h1M71.82 437.20h1M76.80 437.20h1M151.60 437.20h1M153.60 437.20h1M157.58 437.20h1.99M148.61 440h3.99M157.58 440h1M46.89 442.80h1M145.62 442.80h1M148.61 442.80h1.99M151.60 442.80h1M158.58 442.80h1M9.99 445.60h1M151.60 445.60h1M155.59 445.60h1M157.58 445.60h1M15.97 448.40h1M71.82 448.40h1M149.61 448.40h1.99M155.59 448.40h1M157.58 448.40h1M71.82 451.20h1M148.61 451.20h1.99M151.60 451.20h1M154.59 451.20h1M158.58 451.20h1M29.93 454h1M93.76 454h1M149.61 454h1.99M153.60 454h1M155.59 454h1M157.58 454h1.99M40.90 456.80h1M74.81 456.80h1M150.60 456.80h1.99M157.58 456.80h1M13.98 459.60h1M41.90 459.60h1M71.82 459.60h1M76.80 459.60h1M148.61 459.60h1M150.60 459.60h1M155.59 459.60h1M185.51 459.60h1M6 462.38h1M7.99 462.38h1M11.98 462.38h1M16.97 462.38h1M20.96 462.38h1.99M35.92 462.38h1M51.87 462.38h1M60.85 462.38h1M69.82 462.38h1M151.60 462.38h1M153.60 462.38h1M158.58 462.38h1M160.58 462.38h1.99M168.55 462.38h1M176.53 462.38h1M184.51 462.38h1.99M187.50 462.38h1M6 465.12h1M10.98 465.12h1M20.96 465.12h1.99M28.93 465.12h1M35.92 465.12h1M45.89 465.12h1M152.60 465.12h1.99M156.59 465.12h1M158.58 465.12h3.99M171.55 465.12h1M5 467.88h1M7.99 467.88h1M9.99 467.88h3.99M14.97 467.88h1M22.95 467.88h1M26.94 467.88h1M28.93 467.88h1M32.92 467.88h1M34.92 467.88h1M43.89 467.88h2.99M50.88 467.88h1.99M55.86 467.88h1M148.61 467.88h1M153.60 467.88h1M155.59 467.88h1.99M162.57 467.88h1M168.55 467.88h3.99M184.51 467.88h1.99M11.98 470.62h1M45.89 470.62h1M145.62 470.62h1M147.61 470.62h1M155.59 470.62h1.99M161.57 470.62h1M176.53 470.62h1M6 473.38h1M12.98 473.38h1M50.88 473.38h1M66.83 473.38h1M149.61 473.38h1M153.60 473.38h1M158.58 473.38h3.99M167.56 473.38h1M185.51 473.38h1M6 476.12h1M28.93 476.12h1M34.92 476.12h1M45.89 476.12h1M147.61 476.12h1M153.60 476.12h1M156.59 476.12h1M158.58 476.12h1M183.51 476.12h1.99M5 478.88h2.99M11.98 478.88h1M16.97 478.88h1M19.96 478.88h1.99M28.93 478.88h1M35.92 478.88h1M43.89 478.88h1.99M57.86 478.88h1M63.84 478.88h1M152.60 478.88h1M157.58 478.88h2.99M161.57 478.88h1M183.51 478.88h1.99M20.96 481.62h1M158.58 481.62h1.99M179.52 481.62h1M181.52 481.62h1M20.96 484.38h1M147.61 484.38h1M152.60 484.38h1.99M156.59 484.38h1M159.58 484.38h1M167.56 484.38h1M170.55 484.38h1M183.51 484.38h1M6 487.12h1M12.98 487.12h1M147.61 487.12h1M159.58 487.12h2.99M167.56 487.12h1M170.55 487.12h1M176.53 487.12h1M181.52 487.12h1M147.61 489.82h1M152.60 489.82h1.99M156.59 489.82h1M161.57 489.82h1M176.53 489.82h1M180.52 489.82h1.99M183.51 489.82h1M5 492.48h1.99M68.83 492.48h1M152.60 492.48h1M156.59 492.48h1M158.58 492.48h1M167.56 492.48h1M176.53 492.48h1M184.51 492.48h1M20.96 495.12h1M147.61 495.12h1M156.59 495.12h1M159.58 495.12h1M170.55 495.12h1M176.53 495.12h1M179.52 495.12h1M181.52 495.12h1M183.51 495.12h1M185.51 495.12h1M147.61 497.77h1M152.60 497.77h1M158.58 497.77h2.99M167.56 497.77h1M176.53 497.77h1M147.61 500.43h1M152.60 500.43h1M159.58 500.43h1.99M167.56 500.43h1M183.51 500.43h1M20.96 503.07h1M147.61 503.07h1M153.60 503.07h1M160.58 503.07h1M181.52 503.07h1M21.95 505.73h1M45.89 505.73h1M151.60 505.73h1.99M158.58 505.73h1.99M167.56 505.73h1M169.55 505.73h1M176.53 505.73h1M185.51 505.73h1M147.61 508.38h1M152.60 508.38h1.99M156.59 508.38h1M159.58 508.38h1M181.52 508.38h1M183.51 508.38h1M12.98 511.02h1M152.60 511.02h1.99M156.59 511.02h1M159.58 511.02h1.99M167.56 511.02h1M176.53 511.02h1M180.52 511.02h1M183.51 511.02h1M20.96 513.67h1M45.89 513.67h1M147.61 513.67h1M150.60 513.67h1M152.60 513.67h1.99M157.58 513.67h1.99M160.58 513.67h1M176.53 513.67h1M185.51 513.67h1M11.98 516.42h1M45.89 516.42h1M76.80 516.42h1M126.67 516.42h1M71.82 519.28h1M106.72 519.28h1M126.67 519.28h1M71.82 522.12h1M74.81 524.97h1M45.89 527.83h1M76.80 527.83h1M93.76 527.83h1M105.73 527.83h1M126.67 527.83h1M130.66 527.83h1M45.89 530.67h1M74.81 530.67h1M76.80 530.67h1M134.65 530.67h1M6 533.53h1M11.98 533.53h1M20.96 533.53h1M43.89 533.53h1M45.89 533.53h1M47.88 533.53h1M74.81 533.53h1M82.79 533.53h1M84.78 533.53h1M90.77 533.53h1M93.76 533.53h1M105.73 533.53h1.99M134.65 533.53h1M136.64 533.53h1M45.89 536.38h1M87.77 536.38h1M90.77 536.38h1M93.76 536.38h1M128.66 536.38h1M136.64 536.38h1M20.96 539.22h1M68.83 539.22h1M71.82 539.22h1M84.78 539.22h1M90.77 539.22h1M126.67 539.22h1M71.82 542.08h1M76.80 542.08h1M71.82 558.62h1M74.81 558.62h1M76.80 558.62h1M159.58 558.62h1M71.82 564.12h1M76.80 564.12h1M76.80 569.62h1M71.82 572.36h1M73.81 572.36h1M78.80 572.36h1M83.79 572.36h1M86.78 572.36h1.99M94.76 572.36h1M104.73 572.36h1M109.71 572.36h3.99M116.70 572.36h1M122.68 572.36h2.99M70.82 575.09h1M73.81 575.09h1M78.80 575.09h1M80.79 575.09h1M87.77 575.09h1M91.76 575.09h1M95.75 575.09h1M113.70 575.09h1.99M117.69 575.09h1M119.69 575.09h1M124.67 575.09h1M71.82 577.82h2.99M75.81 577.82h1M80.79 577.82h1M87.77 577.82h1M95.75 577.82h1M104.73 577.82h1M109.71 577.82h1.99M113.70 577.82h1M122.68 577.82h1M70.82 580.55h3.99M75.81 580.55h1M78.80 580.55h1M86.78 580.55h1M91.76 580.55h1M101.74 580.55h1M104.73 580.55h1M116.70 580.55h1M122.68 580.55h1M124.67 580.55h1M73.81 583.27h1M75.81 583.27h1M78.80 583.27h1M80.79 583.27h1M86.78 583.27h1M91.76 583.27h1M97.75 583.27h1M104.73 583.27h1M111.71 583.27h1M122.68 583.27h1M124.67 583.27h1M129.66 583.27h1M134.65 583.27h1M72.82 586h1.99M75.81 586h1M84.78 586h1M110.71 586h1.99M114.70 586h1M116.70 586h1.99M119.69 586h1M134.65 586h1M70.82 588.73h1M73.81 588.73h2.99M80.79 588.73h1M84.78 588.73h1M87.77 588.73h1M95.75 588.73h1M104.73 588.73h1M110.71 588.73h1.99M113.70 588.73h1.99M117.69 588.73h1M119.69 588.73h1M122.68 588.73h1M124.67 588.73h1M73.81 591.45h1M75.81 591.45h1M86.78 591.45h1M104.73 591.45h1M114.70 591.45h1M117.69 591.45h1M119.69 591.45h1M123.68 591.45h1.99M129.66 591.45h1M133.65 591.45h1M78.80 594.18h1M83.79 594.18h1M94.76 594.18h1M97.75 594.18h1M101.74 594.18h1M104.73 594.18h1M112.71 594.18h1M114.70 594.18h1M116.70 594.18h1M129.66 594.18h1M134.65 594.18h1M45.89 596.91h1M74.81 596.91h1.99M80.79 596.91h1M84.78 596.91h1M91.76 596.91h1M104.73 596.91h1M110.71 596.91h1M113.70 596.91h1M119.69 596.91h1M122.68 596.91h1M124.67 596.91h1M133.65 596.91h1M73.81 599.64h1M75.81 599.64h1M78.80 599.64h1M86.78 599.64h1M95.75 599.64h1M97.75 599.64h1M104.73 599.64h1M111.71 599.64h1M116.70 599.64h1M119.69 599.64h1M122.68 599.64h2.99M134.65 599.64h1M47.88 602.39h1M71.82 602.39h1M76.80 602.39h1M167.56 602.39h1M20.96 605.17h1M76.80 610.72h1M167.56 610.72h1M47.88 616.28h1M71.82 616.28h1M76.80 616.28h1M93.76 616.28h1M160.58 616.28h1M71.82 619.06h1M6 621.83h1M45.89 621.83h1M68.83 621.83h1M71.82 621.83h1M76.80 621.83h1M93.76 621.83h1M104.73 621.83h1M126.67 621.83h1M134.65 621.83h1M136.64 621.83h1M167.56 621.83h1M174.54 621.83h1" stroke="#cfbbe4" stroke-width="2.8" fill="none"/><path d="M13.98 434.40h1M16.97 434.40h1M19.96 434.40h1M24.95 434.40h1M42.90 434.40h1M67.83 434.40h1M162.57 434.40h1M15.97 437.20h1M29.93 437.20h1M44.89 437.20h1M58.85 437.20h1M63.84 437.20h1M27.94 440h1M66.83 440h1M69.82 440h1M100.74 440h1M6 442.80h1M37.91 442.80h1M64.84 442.80h1M160.58 442.80h1M164.57 442.80h1M5 445.60h1M8.99 445.60h1M17.96 445.60h1M9.99 448.40h1M16.97 448.40h1M52.87 448.40h1M160.58 448.40h1M26.94 451.20h1M43.89 451.20h1M160.58 451.20h1M165.56 451.20h1M169.55 451.20h1M173.54 451.20h1M165.56 454h1M19.96 456.80h1.99M34.92 456.80h1M64.84 456.80h1M105.73 456.80h1M170.55 456.80h1M27.94 459.60h1M31.93 459.60h1M65.83 459.60h1M70.82 462.38h1.99M90.77 462.38h1M95.75 462.38h2.99M101.74 462.38h1M111.71 462.38h1M127.67 462.38h1M77.80 465.12h1M83.79 465.12h1M89.77 465.12h1M109.71 465.12h1M73.81 467.88h1M90.77 467.88h1M103.73 467.88h1M107.72 467.88h1M113.70 467.88h1M115.70 467.88h1M133.65 467.88h1M77.80 470.62h1M84.78 470.62h1.99M88.77 470.62h1M92.76 470.62h1M99.74 470.62h1M139.63 470.62h1M76.80 473.38h1M93.76 473.38h1M100.74 473.38h1M117.69 473.38h1M119.69 473.38h1M76.80 476.12h1M91.76 476.12h1M98.74 476.12h1M101.74 476.12h1M111.71 476.12h1M115.70 476.12h1M74.81 478.88h1.99M87.77 478.88h1M97.75 478.88h1M106.72 478.88h1M114.70 478.88h1M117.69 478.88h1.99M81.79 481.62h1M83.79 481.62h1.99M91.76 481.62h1M118.69 481.62h1M120.68 481.62h1M77.80 484.38h1M101.74 484.38h1M137.64 484.38h1M79.80 487.12h1M32.92 489.82h1M99.74 489.82h1M128.66 489.82h2.99M92.76 492.48h1M97.75 492.48h1M128.66 492.48h1M132.65 492.48h1M87.77 495.12h1M89.77 495.12h1M125.67 495.12h1M143.62 495.12h1M76.80 497.77h1M85.78 497.77h1M96.75 497.77h1M128.66 497.77h1M132.65 497.77h1M91.76 500.43h1M127.67 500.43h1M83.79 503.07h1M104.73 503.07h1M122.68 503.07h1M138.64 503.07h1M142.62 503.07h1M85.78 505.73h1M90.77 505.73h1M93.76 505.73h1.99M99.74 505.73h1M103.73 505.73h1M125.67 505.73h1M74.81 508.38h1M136.64 508.38h1.99M77.80 511.02h1M129.66 511.02h1M144.62 511.02h1M126.67 513.67h1M132.65 513.67h1M135.64 513.67h1M138.64 513.67h1M142.62 513.67h1M139.63 519.28h1M148.61 519.28h1M154.59 519.28h1.99M152.60 524.97h1.99M158.58 524.97h1M174.54 530.67h1M174.54 533.53h1M50.88 536.38h1M156.59 536.38h1M18.96 539.22h1M145.62 539.22h1M148.61 539.22h1M154.59 539.22h1.99M12.98 544.88h1M21.95 544.88h1M36.91 544.88h1M23.95 547.62h1M52.87 547.62h1M12.98 550.38h1M61.85 550.38h1.99M167.56 550.38h1M31.93 553.12h1M35.92 553.12h1M160.58 553.12h1M162.57 553.12h1M167.56 555.88h1M181.52 555.88h1M8.99 561.38h1M69.82 561.38h1M164.57 561.38h1M67.83 564.12h1M163.57 564.12h1M158.58 572.36h1M180.52 572.36h1M138.64 575.09h1M128.66 577.82h1M132.65 577.82h1M138.64 577.82h1M127.67 580.55h1M177.53 580.55h1M177.53 583.27h1M180.52 583.27h1M149.61 586h1M181.52 586h1M140.63 588.73h1M181.52 588.73h1M187.50 588.73h1M174.54 591.45h1M183.51 591.45h1M176.53 594.18h1M150.60 596.91h1M175.54 596.91h1M182.52 596.91h1M8.99 599.64h1M133.65 599.64h1M137.64 599.64h1M153.60 599.64h1M177.53 599.64h1M180.52 599.64h1M8.99 602.39h1.99M11.98 602.39h1M30.93 602.39h1M124.67 602.39h1M172.54 602.39h1M133.65 605.17h1M10.98 607.94h1M30.93 607.94h1M33.92 607.94h1M37.91 607.94h1M186.51 607.94h1M145.62 610.72h1.99M179.52 610.72h1M14.97 616.28h1M18.96 616.28h1M22.95 616.28h1M29.93 616.28h1M38.91 616.28h1M88.77 616.28h1M106.72 616.28h1M108.72 616.28h1M111.71 616.28h1M129.66 616.28h1M187.50 624.61h1" stroke="#ee6f6b" stroke-width="2.8" fill="none"/><path d="M15.97 434.40h1M33.92 434.40h1M40.90 434.40h1M168.55 434.40h1M170.55 434.40h1M162.57 437.20h1M168.55 437.20h1M25.94 440h1M57.86 440h1M62.84 440h1M161.57 440h1M8.99 442.80h1M12.98 442.80h1M52.87 442.80h1M161.57 442.80h1M34.92 445.60h1M42.90 445.60h1M55.86 445.60h1M169.55 445.60h1M11.98 448.40h1M36.91 448.40h1M54.86 448.40h1M67.83 448.40h1M164.57 448.40h1M173.54 448.40h1M18.96 451.20h1M16.97 454h1M44.89 454h1M67.83 454h1M160.58 454h1M24.95 456.80h1M32.92 456.80h1M66.83 456.80h1M169.55 456.80h1M8.99 459.60h1M47.88 467.88h1M140.63 470.62h1M75.81 473.38h1M85.78 473.38h1M79.80 476.12h1M90.77 476.12h1M123.68 476.12h1M92.76 481.62h1M103.73 481.62h1M49.88 484.38h1M80.79 484.38h1M133.65 489.82h1M109.71 492.48h1M70.82 495.12h1M99.74 495.12h1M108.72 495.12h1.99M115.70 495.12h1M119.69 495.12h1M142.62 495.12h1M70.82 497.77h1M77.80 497.77h1M109.71 500.43h1M77.80 503.07h1M91.76 503.07h1M108.72 503.07h1.99M115.70 503.07h1M129.66 505.73h1M132.65 505.73h1M99.74 508.38h1M115.70 508.38h1M133.65 508.38h1M115.70 511.02h1M119.69 511.02h1M79.80 513.67h1M119.69 513.67h1M127.67 513.67h1M129.66 513.67h1M139.63 513.67h1M143.62 513.67h1M146.61 516.42h1M151.60 516.42h1M176.53 519.28h1M183.51 522.12h1M151.60 527.83h1M157.58 527.83h1M152.60 530.67h1M155.59 533.53h1M152.60 542.08h1M156.59 542.08h1M17.96 547.62h1M169.55 547.62h1M172.54 550.38h1M15.97 553.12h1M54.86 553.12h1M161.57 553.12h1M168.55 553.12h1M164.57 555.88h1M160.58 564.12h1M54.86 566.88h1M56.86 566.88h1M179.52 572.36h1M175.54 575.09h1M54.86 586h1M145.62 586h1M154.59 586h1M145.62 591.45h1M154.59 591.45h1M182.52 591.45h1M179.52 594.18h1M145.62 596.91h1M154.59 596.91h1M61.85 602.39h1M95.75 602.39h1M25.94 607.94h1M187.50 607.94h1M184.51 610.72h1M20.96 616.28h1M60.85 621.83h1M184.51 624.61h1" stroke="#f5b9bb" stroke-width="2.8" fill="none"/><path d="M20.96 434.40h1M30.93 434.40h1M34.92 434.40h1M65.83 434.40h1M72.82 434.40h1.99M78.80 434.40h1M80.79 434.40h1M83.79 434.40h1M85.78 434.40h1M89.77 434.40h1M91.76 434.40h1.99M94.76 434.40h1M97.75 434.40h1M99.74 434.40h1M101.74 434.40h1.99M105.73 434.40h1M107.72 434.40h1M113.70 434.40h1M116.70 434.40h1.99M124.67 434.40h1M128.66 434.40h2.99M136.64 434.40h1M141.63 434.40h1M143.62 434.40h1.99M165.56 434.40h1M169.55 434.40h1M172.54 434.40h1M174.54 434.40h1M177.53 434.40h1M187.50 434.40h1M16.97 437.20h1M40.90 437.20h1M56.86 437.20h1M61.85 437.20h1M73.81 437.20h1M77.80 437.20h1M79.80 437.20h1M81.79 437.20h1M83.79 437.20h1M88.77 437.20h1.99M97.75 437.20h1M100.74 437.20h1M102.73 437.20h1.99M107.72 437.20h1.99M111.71 437.20h1M114.70 437.20h1.99M120.68 437.20h3.99M126.67 437.20h1M128.66 437.20h1M130.66 437.20h1M134.65 437.20h1M139.63 437.20h1M160.58 437.20h1M175.54 437.20h1M177.53 437.20h1M179.52 437.20h1M181.52 437.20h1.99M185.51 437.20h1M14.97 440h1M48.88 440h1M79.80 440h1.99M83.79 440h1M86.78 440h1M88.77 440h1.99M91.76 440h1.99M94.76 440h1M96.75 440h1.99M99.74 440h1M102.73 440h1M111.71 440h3.99M118.69 440h1M120.68 440h2.99M129.66 440h1M131.65 440h1M134.65 440h1M139.63 440h1M141.63 440h1.99M144.62 440h1M167.56 440h1.99M175.54 440h1M177.53 440h1M182.52 440h1M25.94 442.80h1M62.84 442.80h1M73.81 442.80h1M78.80 442.80h3.99M83.79 442.80h1M85.78 442.80h1.99M88.77 442.80h1.99M91.76 442.80h1.99M97.75 442.80h1M100.74 442.80h1.99M107.72 442.80h1M110.71 442.80h1.99M114.70 442.80h1M117.69 442.80h1M120.68 442.80h1M122.68 442.80h1M124.67 442.80h1M129.66 442.80h1M133.65 442.80h1M135.64 442.80h1.99M143.62 442.80h1M169.55 442.80h1M174.54 442.80h1.99M178.53 442.80h1M182.52 442.80h1M13.98 445.60h1M36.91 445.60h1M52.87 445.60h1M56.86 445.60h1M63.84 445.60h1M67.83 445.60h1M81.79 445.60h1M86.78 445.60h1M89.77 445.60h1M92.76 445.60h1M94.76 445.60h1.99M102.73 445.60h1M107.72 445.60h1M111.71 445.60h1.99M120.68 445.60h1M122.68 445.60h1M125.67 445.60h3.99M132.65 445.60h1M134.65 445.60h1M144.62 445.60h1M174.54 445.60h1.99M178.53 445.60h1M182.52 445.60h1M186.51 445.60h1M17.96 448.40h1M26.94 448.40h1M38.91 448.40h1M57.86 448.40h1M70.82 448.40h1M73.81 448.40h1M79.80 448.40h1M83.79 448.40h1M86.78 448.40h1M91.76 448.40h1.99M94.76 448.40h1M97.75 448.40h1M101.74 448.40h1M104.73 448.40h1M111.71 448.40h1M113.70 448.40h1M116.70 448.40h1M118.69 448.40h2.99M124.67 448.40h1M128.66 448.40h1M135.64 448.40h1M138.64 448.40h1.99M144.62 448.40h1M181.52 448.40h1.99M6 451.20h1M29.93 451.20h1M39.90 451.20h1M49.88 451.20h1M55.86 451.20h1M73.81 451.20h1M80.79 451.20h1.99M83.79 451.20h1.99M86.78 451.20h1M89.77 451.20h1M99.74 451.20h1M101.74 451.20h1M107.72 451.20h1M111.71 451.20h1M114.70 451.20h1M120.68 451.20h1M128.66 451.20h1M130.66 451.20h1M133.65 451.20h1M139.63 451.20h1M182.52 451.20h1M186.51 451.20h1M6.99 454h1M12.98 454h1M59.85 454h1M77.80 454h1M81.79 454h1M85.78 454h1M88.77 454h1.99M97.75 454h1.99M102.73 454h1.99M107.72 454h1.99M111.71 454h3.99M116.70 454h1M123.68 454h1M126.67 454h1M128.66 454h2.99M132.65 454h1M134.65 454h1.99M154.59 454h1M169.55 454h1M177.53 454h1M182.52 454h1M36.91 456.80h1M59.85 456.80h1M73.81 456.80h1M77.80 456.80h2.99M81.79 456.80h1M83.79 456.80h1M89.77 456.80h1M91.76 456.80h1.99M97.75 456.80h1M101.74 456.80h1.99M107.72 456.80h1M113.70 456.80h1M116.70 456.80h1M119.69 456.80h1M122.68 456.80h1M124.67 456.80h1M129.66 456.80h1.99M132.65 456.80h1M137.64 456.80h1.99M141.63 456.80h1M144.62 456.80h1M175.54 456.80h1M182.52 456.80h1M30.93 459.60h1M50.88 459.60h1M70.82 459.60h1M73.81 459.60h1M78.80 459.60h1M81.79 459.60h1M86.78 459.60h1M91.76 459.60h1M101.74 459.60h2.99M107.72 459.60h1M110.71 459.60h1M113.70 459.60h3.99M119.69 459.60h1M122.68 459.60h1M130.66 459.60h1M132.65 459.60h1M135.64 459.60h1M137.64 459.60h1M139.63 459.60h1M141.63 459.60h1M143.62 459.60h1.99M172.54 459.60h1M175.54 459.60h1M179.52 459.60h1M23.95 462.38h1M25.94 462.38h1M36.91 462.38h1M42.90 462.38h1M126.67 462.38h1M129.66 462.38h1M134.65 462.38h1M136.64 462.38h1M165.56 462.38h1M15.97 465.12h1M17.96 465.12h1M22.95 465.12h1.99M30.93 465.12h1M36.91 465.12h1M39.90 465.12h1.99M46.89 465.12h1M53.87 465.12h1.99M56.86 465.12h1M126.67 465.12h1M134.65 465.12h1M136.64 465.12h1M154.59 465.12h1M36.91 467.88h1M46.89 467.88h1M54.86 467.88h1M138.64 467.88h1M8.99 470.62h1M15.97 470.62h1M23.95 470.62h1M29.93 470.62h1.99M39.90 470.62h1.99M42.90 470.62h1M46.89 470.62h1M53.87 470.62h2.99M146.61 470.62h1M14.97 473.38h1M18.96 473.38h1M23.95 473.38h1M29.93 473.38h1M40.90 473.38h1M46.89 473.38h1M52.87 473.38h1M56.86 473.38h1M58.85 473.38h1M126.67 473.38h1M136.64 473.38h1M166.56 473.38h1M8.99 476.12h1M13.98 476.12h1M18.96 476.12h1M23.95 476.12h1M25.94 476.12h1M29.93 476.12h1M33.92 476.12h1M36.91 476.12h1M38.91 476.12h2.99M46.89 476.12h1M52.87 476.12h2.99M126.67 476.12h1M136.64 476.12h1M162.57 476.12h1M166.56 476.12h1M15.97 478.88h1M23.95 478.88h1M29.93 478.88h1M36.91 478.88h1M39.90 478.88h1M46.89 478.88h1M54.86 478.88h1M126.67 478.88h1M128.66 478.88h1M134.65 478.88h1M154.59 478.88h1M172.54 478.88h1M5 481.62h1M7.99 481.62h1.99M13.98 481.62h1.99M17.96 481.62h2.99M22.95 481.62h1M25.94 481.62h1.99M28.93 481.62h1M30.93 481.62h1.99M33.92 481.62h1.99M37.91 481.62h1.99M52.87 481.62h1M55.86 481.62h1M57.86 481.62h1M59.85 481.62h1M61.85 481.62h3.99M104.73 481.62h1M148.61 481.62h1M150.60 481.62h1M157.58 481.62h1M163.57 481.62h1M165.56 481.62h1M168.55 481.62h1M171.55 481.62h1.99M186.51 481.62h1M15.97 484.38h1M17.96 484.38h1.99M22.95 484.38h1M25.94 484.38h1M29.93 484.38h1M33.92 484.38h1M36.91 484.38h1M42.90 484.38h1M46.89 484.38h1M53.87 484.38h1.99M56.86 484.38h1.99M59.85 484.38h1.99M64.84 484.38h1M128.66 484.38h1M148.61 484.38h1M166.56 484.38h1M187.50 484.38h1M8.99 487.12h1M17.96 487.12h1M22.95 487.12h1M24.95 487.12h1.99M33.92 487.12h1.99M36.91 487.12h1M42.90 487.12h1M53.87 487.12h3.99M58.85 487.12h1M134.65 487.12h1M145.62 487.12h1M151.60 487.12h1M154.59 487.12h1M162.57 487.12h1M166.56 487.12h1M8.99 489.82h1.99M14.97 489.82h1M16.97 489.82h2.99M24.95 489.82h1M27.94 489.82h1M29.93 489.82h1.99M37.91 489.82h1.99M41.90 489.82h1.99M44.89 489.82h1M46.89 489.82h1M48.88 489.82h1M51.87 489.82h1M55.86 489.82h1M58.85 489.82h1M62.84 489.82h2.99M146.61 489.82h1M150.60 489.82h1M154.59 489.82h1M162.57 489.82h1M172.54 489.82h1M187.50 489.82h1M8.99 492.48h1M15.97 492.48h1M17.96 492.48h1M23.95 492.48h1M30.93 492.48h1M36.91 492.48h1.99M39.90 492.48h1M41.90 492.48h1M46.89 492.48h1M53.87 492.48h3.99M64.84 492.48h1M5 495.12h1M7.99 495.12h1M10.98 495.12h1M16.97 495.12h1.99M19.96 495.12h1M24.95 495.12h1.99M30.93 495.12h2.99M34.92 495.12h1M39.90 495.12h1M42.90 495.12h1M51.87 495.12h1.99M55.86 495.12h2.99M59.85 495.12h1M62.84 495.12h2.99M69.82 495.12h1M130.66 495.12h1M146.61 495.12h1M150.60 495.12h1M154.59 495.12h1M162.57 495.12h1M165.56 495.12h1.99M172.54 495.12h1M187.50 495.12h1M5 497.77h1M8.99 497.77h1M17.96 497.77h1.99M24.95 497.77h3.99M29.93 497.77h5.98M37.91 497.77h1M40.90 497.77h1M42.90 497.77h1M49.88 497.77h1.99M52.87 497.77h1.99M55.86 497.77h1M60.85 497.77h4.99M71.82 497.77h1M146.61 497.77h1M148.61 497.77h1M154.59 497.77h1M162.57 497.77h1M165.56 497.77h1M168.55 497.77h1M184.51 497.77h1M187.50 497.77h1M8.99 500.43h1M13.98 500.43h1M17.96 500.43h1.99M25.94 500.43h2.99M29.93 500.43h1M32.92 500.43h1.99M38.91 500.43h1M40.90 500.43h1M42.90 500.43h1M46.89 500.43h1M48.88 500.43h1M53.87 500.43h1M55.86 500.43h3.99M61.85 500.43h1M63.84 500.43h1.99M76.80 500.43h1M154.59 500.43h1M165.56 500.43h1.99M187.50 500.43h1M13.98 503.07h1.99M18.96 503.07h1.99M23.95 503.07h1.99M29.93 503.07h1M31.93 503.07h1M33.92 503.07h2.99M37.91 503.07h1.99M41.90 503.07h1.99M48.88 503.07h1M51.87 503.07h1.99M57.86 503.07h7.98M148.61 503.07h1M150.60 503.07h1M154.59 503.07h1M162.57 503.07h1.99M172.54 503.07h1M187.50 503.07h1M8.99 505.73h1M15.97 505.73h1M17.96 505.73h1.99M22.95 505.73h3.99M39.90 505.73h1.99M42.90 505.73h1M46.89 505.73h1M53.87 505.73h1M58.85 505.73h1.99M64.84 505.73h1M71.82 505.73h1M76.80 505.73h1M84.78 505.73h1M163.57 505.73h1M165.56 505.73h1M7.99 508.38h1M9.99 508.38h1M15.97 508.38h1M19.96 508.38h1M21.95 508.38h1M24.95 508.38h4.99M30.93 508.38h1M34.92 508.38h1M38.91 508.38h1M42.90 508.38h1M48.88 508.38h1M51.87 508.38h1M53.87 508.38h1M55.86 508.38h1M57.86 508.38h1M59.85 508.38h1M61.85 508.38h2.99M76.80 508.38h1M154.59 508.38h1M162.57 508.38h1M164.57 508.38h2.99M168.55 508.38h1M186.51 508.38h1.99M7.99 511.02h1M9.99 511.02h1M13.98 511.02h1M18.96 511.02h1.99M25.94 511.02h1M27.94 511.02h1M32.92 511.02h2.99M37.91 511.02h1.99M41.90 511.02h1.99M51.87 511.02h1M53.87 511.02h1M55.86 511.02h1M59.85 511.02h1M62.84 511.02h1M149.61 511.02h1M154.59 511.02h1M162.57 511.02h1M165.56 511.02h1.99M169.55 511.02h1M184.51 511.02h1M6.99 513.67h1M15.97 513.67h1M17.96 513.67h1.99M22.95 513.67h1.99M25.94 513.67h1M29.93 513.67h1.99M34.92 513.67h1M36.91 513.67h1M38.91 513.67h1M41.90 513.67h1.99M48.88 513.67h1M50.88 513.67h1M52.87 513.67h1.99M55.86 513.67h1M61.85 513.67h1M71.82 513.67h1M93.76 513.67h1M154.59 513.67h1M165.56 513.67h1M8.99 516.42h1M13.98 516.42h1M18.96 516.42h1M22.95 516.42h1M24.95 516.42h1.99M27.94 516.42h1M30.93 516.42h4.99M38.91 516.42h1M41.90 516.42h1.99M46.89 516.42h1M48.88 516.42h1M53.87 516.42h1M55.86 516.42h1M58.85 516.42h1M60.85 516.42h1M64.84 516.42h1.99M67.83 516.42h1M73.81 516.42h1M77.80 516.42h1M79.80 516.42h1M81.79 516.42h1M86.78 516.42h1M91.76 516.42h1.99M97.75 516.42h1M99.74 516.42h1M103.73 516.42h1M105.73 516.42h1M108.72 516.42h1M110.71 516.42h1.99M118.69 516.42h2.99M122.68 516.42h1M127.67 516.42h1M130.66 516.42h1.99M137.64 516.42h1.99M141.63 516.42h1M160.58 516.42h1.99M169.55 516.42h2.99M184.51 516.42h1M186.51 516.42h1M5 519.28h1M10.98 519.28h1M13.98 519.28h1M17.96 519.28h1M19.96 519.28h1M22.95 519.28h1M24.95 519.28h1.99M28.93 519.28h1M33.92 519.28h1.99M37.91 519.28h3.99M48.88 519.28h1M52.87 519.28h1M56.86 519.28h3.99M61.85 519.28h2.99M65.83 519.28h1.99M73.81 519.28h1M79.80 519.28h1.99M85.78 519.28h1.99M91.76 519.28h1.99M94.76 519.28h1M97.75 519.28h1M103.73 519.28h1M107.72 519.28h1M112.71 519.28h1.99M120.68 519.28h1M122.68 519.28h1M124.67 519.28h1.99M130.66 519.28h1.99M133.65 519.28h1M137.64 519.28h1M141.63 519.28h1M144.62 519.28h1M161.57 519.28h1M165.56 519.28h1M169.55 519.28h1.99M172.54 519.28h1.99M184.51 519.28h3.99M10.98 522.12h1M12.98 522.12h1M16.97 522.12h1M18.96 522.12h1M21.95 522.12h1M26.94 522.12h2.99M31.93 522.12h1.99M35.92 522.12h1M43.89 522.12h1M57.86 522.12h1M66.83 522.12h1M68.83 522.12h1M72.82 522.12h1M80.79 522.12h1M88.77 522.12h1.99M92.76 522.12h1M96.75 522.12h1.99M100.74 522.12h1M104.73 522.12h2.99M111.71 522.12h2.99M117.69 522.12h1M121.68 522.12h1M123.68 522.12h1M129.66 522.12h1.99M133.65 522.12h1M135.64 522.12h1M141.63 522.12h3.99M161.57 522.12h1M185.51 522.12h1M5 524.97h1M6.99 524.97h2.99M13.98 524.97h1M16.97 524.97h1M18.96 524.97h1.99M24.95 524.97h1M27.94 524.97h1M30.93 524.97h2.99M37.91 524.97h1M42.90 524.97h1M48.88 524.97h1M50.88 524.97h1M53.87 524.97h1M57.86 524.97h1M59.85 524.97h1M61.85 524.97h1M65.83 524.97h1M73.81 524.97h1M80.79 524.97h1M83.79 524.97h1M85.78 524.97h1M91.76 524.97h1.99M96.75 524.97h1.99M99.74 524.97h1M101.74 524.97h1M103.73 524.97h1.99M107.72 524.97h1M111.71 524.97h1M117.69 524.97h1M120.68 524.97h1M123.68 524.97h1M132.65 524.97h1M135.64 524.97h1M137.64 524.97h1.99M141.63 524.97h1.99M161.57 524.97h1M164.57 524.97h1M170.55 524.97h1M8.99 527.83h1M17.96 527.83h1.99M22.95 527.83h1M24.95 527.83h1M32.92 527.83h1M34.92 527.83h1M37.91 527.83h1.99M40.90 527.83h1M46.89 527.83h1M48.88 527.83h1M53.87 527.83h6.98M63.84 527.83h1M67.83 527.83h1M70.82 527.83h1M78.80 527.83h1.99M81.79 527.83h1M83.79 527.83h1M86.78 527.83h1M91.76 527.83h1M110.71 527.83h1.99M114.70 527.83h2.99M119.69 527.83h1M122.68 527.83h1M127.67 527.83h1M137.64 527.83h1M140.63 527.83h2.99M161.57 527.83h1M163.57 527.83h1M169.55 527.83h2.99M184.51 527.83h1M5 530.67h1M14.97 530.67h1M16.97 530.67h1M18.96 530.67h1.99M22.95 530.67h1M24.95 530.67h1M27.94 530.67h1M29.93 530.67h1M33.92 530.67h2.99M41.90 530.67h1.99M46.89 530.67h1M52.87 530.67h1M56.86 530.67h1.99M59.85 530.67h4.99M65.83 530.67h1M67.83 530.67h1M77.80 530.67h1M89.77 530.67h1M99.74 530.67h1M101.74 530.67h1M103.73 530.67h1M105.73 530.67h1M108.72 530.67h1M110.71 530.67h1.99M115.70 530.67h1M120.68 530.67h1.99M127.67 530.67h1M132.65 530.67h1M137.64 530.67h1.99M141.63 530.67h1M143.62 530.67h1.99M163.57 530.67h1M168.55 530.67h1.99M171.55 530.67h1M185.51 530.67h1M187.50 530.67h1M13.98 533.53h2.99M22.95 533.53h1.99M25.94 533.53h1M29.93 533.53h1M36.91 533.53h1M40.90 533.53h1M48.88 533.53h1M56.86 533.53h1M58.85 533.53h1.99M61.85 533.53h1.99M73.81 533.53h1M86.78 533.53h1M99.74 533.53h1M101.74 533.53h1M107.72 533.53h1M115.70 533.53h1.99M127.67 533.53h1M141.63 533.53h1M162.57 533.53h4.99M168.55 533.53h1M171.55 533.53h2.99M8.99 536.38h1M13.98 536.38h1M15.97 536.38h3.99M24.95 536.38h2.99M29.93 536.38h1.99M33.92 536.38h1M36.91 536.38h1M42.90 536.38h1M44.89 536.38h1M46.89 536.38h1M48.88 536.38h1M56.86 536.38h1M58.85 536.38h1.99M61.85 536.38h1M64.84 536.38h1M75.81 536.38h1M79.80 536.38h1M81.79 536.38h1M83.79 536.38h1M89.77 536.38h1M94.76 536.38h1M101.74 536.38h1M108.72 536.38h1M113.70 536.38h1M115.70 536.38h1.99M119.69 536.38h1M122.68 536.38h1M127.67 536.38h1M142.62 536.38h1M163.57 536.38h1M168.55 536.38h1M171.55 536.38h1M173.54 536.38h1M178.53 536.38h1M184.51 536.38h1M187.50 536.38h1M5 539.22h1M13.98 539.22h1M15.97 539.22h1M22.95 539.22h2.99M26.94 539.22h1M29.93 539.22h2.99M33.92 539.22h1.99M37.91 539.22h3.99M42.90 539.22h1M53.87 539.22h1M55.86 539.22h1.99M61.85 539.22h1M67.83 539.22h1M73.81 539.22h1M78.80 539.22h1M81.79 539.22h1M89.77 539.22h1M96.75 539.22h1M99.74 539.22h1M103.73 539.22h1M108.72 539.22h1M110.71 539.22h1M116.70 539.22h1M119.69 539.22h1M131.65 539.22h1M138.64 539.22h1M140.63 539.22h1M142.62 539.22h1M161.57 539.22h1M165.56 539.22h1M168.55 539.22h5.98M184.51 539.22h1M9.99 542.08h1M13.98 542.08h1.99M16.97 542.08h2.99M22.95 542.08h1M27.94 542.08h1M33.92 542.08h2.99M37.91 542.08h1.99M42.90 542.08h2.99M48.88 542.08h1M50.88 542.08h2.99M55.86 542.08h1M60.85 542.08h1M62.84 542.08h1.99M65.83 542.08h1M69.82 542.08h1.99M80.79 542.08h1.99M83.79 542.08h1M89.77 542.08h1M91.76 542.08h1M94.76 542.08h1M102.73 542.08h1.99M107.72 542.08h1M110.71 542.08h1.99M115.70 542.08h1M129.66 542.08h1M132.65 542.08h1M135.64 542.08h1M137.64 542.08h1.99M142.62 542.08h2.99M161.57 542.08h1.99M167.56 542.08h1M169.55 542.08h1M171.55 542.08h1M184.51 542.08h1M186.51 542.08h1.99M47.88 544.88h1M80.79 544.88h1.99M88.77 544.88h1.99M94.76 544.88h1M96.75 544.88h1M98.74 544.88h1M102.73 544.88h1M105.73 544.88h1M111.71 544.88h1.99M117.69 544.88h1.99M121.68 544.88h1M123.68 544.88h2.99M128.66 544.88h2.99M132.65 544.88h3.99M139.63 544.88h1M143.62 544.88h1M152.60 544.88h1.99M156.59 544.88h2.99M174.54 544.88h1.99M177.53 544.88h1M182.52 544.88h1M184.51 544.88h1M187.50 544.88h1M72.82 547.62h1M90.77 547.62h1M93.76 547.62h1M96.75 547.62h1M104.73 547.62h2.99M118.69 547.62h1M124.67 547.62h1M130.66 547.62h1M136.64 547.62h1M141.63 547.62h1M147.61 547.62h1M152.60 547.62h1.99M156.59 547.62h1M174.54 547.62h1M182.52 547.62h1M185.51 547.62h1M6 550.38h1M20.96 550.38h1M45.89 550.38h1M47.88 550.38h1M81.79 550.38h1M84.78 550.38h1.99M87.77 550.38h1M89.77 550.38h1M93.76 550.38h1M95.75 550.38h1M98.74 550.38h1M100.74 550.38h1M104.73 550.38h2.99M112.71 550.38h1M114.70 550.38h1M117.69 550.38h1.99M120.68 550.38h1.99M123.68 550.38h1M125.67 550.38h1M128.66 550.38h2.99M132.65 550.38h1M152.60 550.38h1.99M158.58 550.38h1M175.54 550.38h1M177.53 550.38h1M182.52 550.38h1M184.51 550.38h1M186.51 550.38h1.99M20.96 553.12h1M72.82 553.12h1M82.79 553.12h1M84.78 553.12h1M87.77 553.12h1M89.77 553.12h1.99M93.76 553.12h1M95.75 553.12h1M105.73 553.12h1.99M121.68 553.12h1M128.66 553.12h1M134.65 553.12h1M152.60 553.12h1M156.59 553.12h1M174.54 553.12h1.99M185.51 553.12h1M187.50 553.12h1M12.98 555.88h1M14.97 555.88h1M27.94 555.88h1M45.89 555.88h1M47.88 555.88h1M68.83 555.88h1M72.82 555.88h1M78.80 555.88h1M80.79 555.88h1M82.79 555.88h1.99M92.76 555.88h1M94.76 555.88h3.99M100.74 555.88h1M102.73 555.88h1M105.73 555.88h1M108.72 555.88h1M112.71 555.88h2.99M120.68 555.88h1M123.68 555.88h1.99M129.66 555.88h1M132.65 555.88h1.99M139.63 555.88h1M141.63 555.88h1M143.62 555.88h1M145.62 555.88h1M157.58 555.88h1.99M177.53 555.88h1M186.51 555.88h1.99M6 558.62h1M12.98 558.62h1M16.97 558.62h1M35.92 558.62h1M45.89 558.62h1M47.88 558.62h1M68.83 558.62h1M73.81 558.62h1M79.80 558.62h1.99M88.77 558.62h1M94.76 558.62h1M96.75 558.62h2.99M100.74 558.62h1.99M103.73 558.62h1M105.73 558.62h1M107.72 558.62h1M112.71 558.62h1M114.70 558.62h1M116.70 558.62h1M121.68 558.62h1M123.68 558.62h2.99M127.67 558.62h1.99M132.65 558.62h1.99M135.64 558.62h1M139.63 558.62h1M144.62 558.62h1M182.52 558.62h1M186.51 558.62h1.99M45.89 561.38h1M47.88 561.38h1M82.79 561.38h1M84.78 561.38h1.99M93.76 561.38h1M95.75 561.38h3.99M102.73 561.38h1M104.73 561.38h1M114.70 561.38h1M117.69 561.38h1.99M121.68 561.38h1M128.66 561.38h1.99M137.64 561.38h1M152.60 561.38h1.99M156.59 561.38h1.99M177.53 561.38h1M182.52 561.38h1M185.51 561.38h2.99M6 564.12h1M9.99 564.12h1.99M12.98 564.12h1M20.96 564.12h1M47.88 564.12h1M72.82 564.12h1M80.79 564.12h1M82.79 564.12h1M85.78 564.12h1M93.76 564.12h1M96.75 564.12h2.99M100.74 564.12h1M102.73 564.12h4.99M111.71 564.12h1M113.70 564.12h1M118.69 564.12h1M120.68 564.12h1M123.68 564.12h2.99M127.67 564.12h1M130.66 564.12h1M132.65 564.12h1M139.63 564.12h1M141.63 564.12h1.99M144.62 564.12h1M155.59 564.12h1M157.58 564.12h1M175.54 564.12h1M179.52 564.12h1M74.81 566.88h1M82.79 566.88h1M90.77 566.88h1M106.72 566.88h1M121.68 566.88h1M126.67 566.88h1M128.66 566.88h1M130.66 566.88h1M132.65 566.88h1M134.65 566.88h1M152.60 566.88h1M156.59 566.88h1M159.58 566.88h1M174.54 566.88h1M177.53 566.88h1M182.52 566.88h1M184.51 566.88h1M11.98 569.62h1M14.97 569.62h1M20.96 569.62h1.99M28.93 569.62h1M43.89 569.62h1M50.88 569.62h1M66.83 569.62h1M68.83 569.62h1M72.82 569.62h1M82.79 569.62h1M85.78 569.62h1M89.77 569.62h1M92.76 569.62h1M94.76 569.62h3.99M100.74 569.62h1.99M104.73 569.62h1M112.71 569.62h1M114.70 569.62h1M116.70 569.62h1M121.68 569.62h1M124.67 569.62h1.99M127.67 569.62h3.99M137.64 569.62h1.99M144.62 569.62h1M147.61 569.62h1M149.61 569.62h1M153.60 569.62h1M155.59 569.62h1M174.54 569.62h1M178.53 569.62h1M181.52 569.62h1M187.50 569.62h1M6.99 572.36h1.99M9.99 572.36h1M12.98 572.36h1M19.96 572.36h1M21.95 572.36h1M24.95 572.36h1M28.93 572.36h1M31.93 572.36h1M35.92 572.36h1M44.89 572.36h1M50.88 572.36h1M59.85 572.36h1M65.83 572.36h1.99M69.82 572.36h1M79.80 572.36h1M88.77 572.36h1M90.77 572.36h1M103.73 572.36h1M115.70 572.36h1M127.67 572.36h1M138.64 572.36h1M140.63 572.36h1M161.57 572.36h1M163.57 572.36h1.99M170.55 572.36h1M172.54 572.36h1M184.51 572.36h1.99M6 575.09h2.99M11.98 575.09h1.99M21.95 575.09h1M28.93 575.09h1M47.88 575.09h1M57.86 575.09h1M66.83 575.09h1M68.83 575.09h1.99M71.82 575.09h1M77.80 575.09h1M92.76 575.09h1M96.75 575.09h1M99.74 575.09h1M102.73 575.09h1M107.72 575.09h1M121.68 575.09h1M139.63 575.09h1M171.55 575.09h1M185.51 575.09h1M5 577.82h1M7.99 577.82h1M10.98 577.82h1M13.98 577.82h1M21.95 577.82h1M31.93 577.82h1M34.92 577.82h1.99M38.91 577.82h1M41.90 577.82h1M43.89 577.82h1.99M50.88 577.82h1M59.85 577.82h1.99M62.84 577.82h1M66.83 577.82h1M77.80 577.82h1M88.77 577.82h1M115.70 577.82h1M160.58 577.82h1.99M164.57 577.82h1M168.55 577.82h1.99M171.55 577.82h1M184.51 577.82h2.99M5 580.55h2.99M10.98 580.55h1M12.98 580.55h2.99M21.95 580.55h1M28.93 580.55h1M32.92 580.55h1M43.89 580.55h1M49.88 580.55h1.99M66.83 580.55h1M68.83 580.55h1.99M90.77 580.55h1M103.73 580.55h1M120.68 580.55h1M136.64 580.55h1M138.64 580.55h1M143.62 580.55h1M163.57 580.55h1.99M166.56 580.55h1M168.55 580.55h1M171.55 580.55h1M173.54 580.55h1M184.51 580.55h1M186.51 580.55h1M6.99 583.27h1.99M10.98 583.27h1.99M14.97 583.27h1M16.97 583.27h1M19.96 583.27h1M21.95 583.27h1M24.95 583.27h1M32.92 583.27h1M35.92 583.27h1M41.90 583.27h1M44.89 583.27h1M60.85 583.27h2.99M90.77 583.27h1M115.70 583.27h1M126.67 583.27h1M159.58 583.27h1M161.57 583.27h1M163.57 583.27h1.99M171.55 583.27h1.99M184.51 583.27h1M186.51 583.27h1.99M6 586h1M10.98 586h1.99M16.97 586h1M20.96 586h1.99M35.92 586h1M68.83 586h1M77.80 586h1M90.77 586h1M92.76 586h1M107.72 586h1M136.64 586h1M141.63 586h1M143.62 586h1.99M167.56 586h1M169.55 586h1.99M173.54 586h1M184.51 586h1M6 588.73h2.99M12.98 588.73h1M21.95 588.73h1M38.91 588.73h1M43.89 588.73h2.99M47.88 588.73h1M49.88 588.73h1.99M57.86 588.73h1M66.83 588.73h1M68.83 588.73h1M77.80 588.73h1M102.73 588.73h1.99M144.62 588.73h1M162.57 588.73h1M164.57 588.73h1M170.55 588.73h1M172.54 588.73h1M184.51 588.73h1M6 591.45h1M10.98 591.45h2.99M21.95 591.45h1M28.93 591.45h1M31.93 591.45h1M47.88 591.45h1M57.86 591.45h1M68.83 591.45h1M99.74 591.45h1M102.73 591.45h1.99M107.72 591.45h1M120.68 591.45h1M127.67 591.45h1M136.64 591.45h1M143.62 591.45h1M161.57 591.45h1M169.55 591.45h1.99M184.51 591.45h1M5 594.18h1M6.99 594.18h1.99M9.99 594.18h2.99M13.98 594.18h1M18.96 594.18h1M27.94 594.18h1M31.93 594.18h1.99M34.92 594.18h1.99M37.91 594.18h1.99M50.88 594.18h1M57.86 594.18h1M59.85 594.18h2.99M65.83 594.18h1M79.80 594.18h1M88.77 594.18h1M90.77 594.18h1M126.67 594.18h1M138.64 594.18h1M152.60 594.18h1M162.57 594.18h1.99M165.56 594.18h1M168.55 594.18h1M173.54 594.18h1M184.51 594.18h1.99M187.50 594.18h1M6 596.91h1M11.98 596.91h1.99M71.82 596.91h1M90.77 596.91h1M101.74 596.91h1M103.73 596.91h1M107.72 596.91h1M120.68 596.91h1.99M127.67 596.91h1M136.64 596.91h1.99M140.63 596.91h1M143.62 596.91h1M161.57 596.91h1M167.56 596.91h1M185.51 596.91h1M5 599.64h3.99M13.98 599.64h1M16.97 599.64h1M21.95 599.64h1M26.94 599.64h1M28.93 599.64h1M35.92 599.64h1M41.90 599.64h1M44.89 599.64h1M47.88 599.64h1M51.87 599.64h1M57.86 599.64h1M65.83 599.64h1M68.83 599.64h1.99M77.80 599.64h1M79.80 599.64h1M99.74 599.64h1M121.68 599.64h1M140.63 599.64h1M161.57 599.64h4.99M168.55 599.64h1.99M171.55 599.64h2.99M5 602.39h1M7.99 602.39h1M14.97 602.39h1M18.96 602.39h1.99M27.94 602.39h1.99M31.93 602.39h1M37.91 602.39h1M41.90 602.39h1M48.88 602.39h1.99M52.87 602.39h1.99M57.86 602.39h1M59.85 602.39h1M63.84 602.39h2.99M67.83 602.39h1M73.81 602.39h1M77.80 602.39h1M83.79 602.39h1M91.76 602.39h1M94.76 602.39h1M101.74 602.39h2.99M106.72 602.39h1.99M111.71 602.39h1M114.70 602.39h1M122.68 602.39h1M125.67 602.39h1M127.67 602.39h1M135.64 602.39h1M138.64 602.39h1M155.59 602.39h1M157.58 602.39h1.99M171.55 602.39h1M179.52 602.39h1.99M182.52 602.39h1M6.99 605.17h1M9.99 605.17h1.99M13.98 605.17h1.99M16.97 605.17h1M24.95 605.17h1M27.94 605.17h5.98M35.92 605.17h1M41.90 605.17h1M44.89 605.17h1M57.86 605.17h1.99M61.85 605.17h2.99M65.83 605.17h1.99M69.82 605.17h1M80.79 605.17h2.99M85.78 605.17h1M87.77 605.17h2.99M92.76 605.17h1M97.75 605.17h1M104.73 605.17h1M108.72 605.17h1M112.71 605.17h1M117.69 605.17h1M121.68 605.17h1M124.67 605.17h1.99M129.66 605.17h1M131.65 605.17h1.99M134.65 605.17h1.99M137.64 605.17h1M141.63 605.17h1M144.62 605.17h1M147.61 605.17h1M152.60 605.17h1.99M156.59 605.17h2.99M164.57 605.17h1M173.54 605.17h2.99M6 607.94h1M9.99 607.94h1M19.96 607.94h1M22.95 607.94h1M26.94 607.94h1M35.92 607.94h1M38.91 607.94h1M41.90 607.94h1M49.88 607.94h1M60.85 607.94h1M65.83 607.94h1M72.82 607.94h1M74.81 607.94h1M85.78 607.94h1M88.77 607.94h1.99M96.75 607.94h1M98.74 607.94h1M100.74 607.94h2.99M105.73 607.94h1M107.72 607.94h1M111.71 607.94h1M114.70 607.94h1M117.69 607.94h1M123.68 607.94h2.99M132.65 607.94h1M135.64 607.94h1M141.63 607.94h1M143.62 607.94h1.99M146.61 607.94h1M158.58 607.94h1M161.57 607.94h1M164.57 607.94h1M168.55 607.94h1.99M172.54 607.94h1M175.54 607.94h1M177.53 607.94h1M182.52 607.94h1M5 610.72h1M6.99 610.72h1M8.99 610.72h1M17.96 610.72h1.99M22.95 610.72h1M26.94 610.72h1.99M30.93 610.72h1M32.92 610.72h3.99M37.91 610.72h1M41.90 610.72h2.99M48.88 610.72h1M51.87 610.72h2.99M56.86 610.72h1.99M59.85 610.72h6.98M73.81 610.72h1M79.80 610.72h1M81.79 610.72h1M89.77 610.72h1M92.76 610.72h1M100.74 610.72h1M102.73 610.72h1M105.73 610.72h1M108.72 610.72h1M111.71 610.72h1M113.70 610.72h1.99M118.69 610.72h1M121.68 610.72h1M123.68 610.72h1M132.65 610.72h1.99M135.64 610.72h1M137.64 610.72h2.99M142.62 610.72h1M148.61 610.72h1.99M163.57 610.72h2.99M168.55 610.72h1.99M171.55 610.72h3.99M6 613.50h2.99M14.97 613.50h1M16.97 613.50h1M20.96 613.50h1.99M31.93 613.50h1.99M44.89 613.50h1.99M47.88 613.50h1M50.88 613.50h1M68.83 613.50h1M72.82 613.50h1M82.79 613.50h1M84.78 613.50h1.99M90.77 613.50h1M92.76 613.50h1.99M95.75 613.50h1.99M98.74 613.50h1M102.73 613.50h1M104.73 613.50h2.99M111.71 613.50h1M121.68 613.50h1M124.67 613.50h1M128.66 613.50h1M133.65 613.50h1.99M136.64 613.50h1M147.61 613.50h1M152.60 613.50h1M156.59 613.50h1M161.57 613.50h1M167.56 613.50h1M170.55 613.50h1M174.54 613.50h1M177.53 613.50h1.99M182.52 613.50h1M15.97 616.28h1M23.95 616.28h1.99M30.93 616.28h1M33.92 616.28h1M40.90 616.28h1M44.89 616.28h1M46.89 616.28h1M52.87 616.28h1M55.86 616.28h1.99M61.85 616.28h1M63.84 616.28h1.99M77.80 616.28h1.99M81.79 616.28h1M83.79 616.28h1M86.78 616.28h1M94.76 616.28h1M97.75 616.28h1M100.74 616.28h1.99M103.73 616.28h1M107.72 616.28h1M109.71 616.28h1M117.69 616.28h1M119.69 616.28h1.99M127.67 616.28h1M131.65 616.28h1M135.64 616.28h1M137.64 616.28h2.99M142.62 616.28h1M150.60 616.28h1.99M157.58 616.28h1M162.57 616.28h1M168.55 616.28h1M171.55 616.28h1M173.54 616.28h1M180.52 616.28h1.99M5 619.06h1M7.99 619.06h1M12.98 619.06h1M14.97 619.06h1M16.97 619.06h1M18.96 619.06h1M21.95 619.06h1M24.95 619.06h1M26.94 619.06h1M29.93 619.06h5.98M37.91 619.06h1.99M42.90 619.06h1M44.89 619.06h1M48.88 619.06h1M52.87 619.06h1M55.86 619.06h1M59.85 619.06h1.99M63.84 619.06h3.99M69.82 619.06h1M72.82 619.06h1M79.80 619.06h1.99M88.77 619.06h1.99M92.76 619.06h1M94.76 619.06h1M98.74 619.06h1.99M103.73 619.06h1M112.71 619.06h1.99M120.68 619.06h4.99M127.67 619.06h1M133.65 619.06h1M138.64 619.06h1M141.63 619.06h2.99M149.61 619.06h1M157.58 619.06h1M162.57 619.06h1M164.57 619.06h1M168.55 619.06h1.99M172.54 619.06h1.99M8.99 621.83h1M15.97 621.83h1M23.95 621.83h1M29.93 621.83h1.99M33.92 621.83h1M36.91 621.83h1M46.89 621.83h1M48.88 621.83h1M53.87 621.83h1M64.84 621.83h1M70.82 621.83h1M73.81 621.83h1M77.80 621.83h1M79.80 621.83h1M86.78 621.83h1M89.77 621.83h1M91.76 621.83h1M99.74 621.83h1M103.73 621.83h1M107.72 621.83h1M112.71 621.83h1M115.70 621.83h1.99M120.68 621.83h1M131.65 621.83h1.99M137.64 621.83h1.99M141.63 621.83h1M143.62 621.83h1M148.61 621.83h1M150.60 621.83h1M155.59 621.83h1M162.57 621.83h1M164.57 621.83h1.99M172.54 621.83h1M175.54 621.83h1.99M179.52 621.83h2.99M6.99 624.61h1M8.99 624.61h1.99M13.98 624.61h1M16.97 624.61h1M19.96 624.61h1M22.95 624.61h1M24.95 624.61h1.99M28.93 624.61h3.99M34.92 624.61h1M38.91 624.61h1M42.90 624.61h2.99M49.88 624.61h1M51.87 624.61h1.99M57.86 624.61h1M59.85 624.61h1M61.85 624.61h4.99M73.81 624.61h1M81.79 624.61h1M85.78 624.61h1M88.77 624.61h1.99M92.76 624.61h1M94.76 624.61h1.99M98.74 624.61h1M101.74 624.61h1M104.73 624.61h1.99M111.71 624.61h3.99M116.70 624.61h2.99M120.68 624.61h1M125.67 624.61h1M127.67 624.61h2.99M131.65 624.61h2.99M139.63 624.61h1M143.62 624.61h1M150.60 624.61h1M155.59 624.61h1M157.58 624.61h1M169.55 624.61h1M171.55 624.61h1M175.54 624.61h1M182.52 624.61h1" stroke="#eee3f3" stroke-width="2.8" fill="none"/><path d="M21.95 434.40h1M36.91 434.40h1M74.81 434.40h1M90.77 434.40h1M93.76 434.40h1M98.74 434.40h1M100.74 434.40h1M104.73 434.40h1M114.70 434.40h1M118.69 434.40h1M145.62 434.40h1.99M148.61 434.40h2.99M155.59 434.40h1M185.51 434.40h1.99M13.98 437.20h1M17.96 437.20h1M74.81 437.20h1M82.79 437.20h1M87.77 437.20h1M90.77 437.20h1M93.76 437.20h1M106.72 437.20h1M145.62 437.20h1.99M148.61 437.20h1.99M154.59 437.20h1.99M184.51 437.20h1M34.92 440h1M71.82 440h1M74.81 440h1M76.80 440h1M82.79 440h1M84.78 440h1M90.77 440h1M93.76 440h1M136.64 440h1M145.62 440h1.99M155.59 440h1M184.51 440h1M71.82 442.80h1.99M76.80 442.80h1M84.78 442.80h1M87.77 442.80h1M90.77 442.80h1M96.75 442.80h1M102.73 442.80h1M105.73 442.80h1M146.61 442.80h1M150.60 442.80h1M155.59 442.80h1M157.58 442.80h1M185.51 442.80h1.99M73.81 445.60h1.99M76.80 445.60h1M93.76 445.60h1M106.72 445.60h1M145.62 445.60h1M148.61 445.60h2.99M158.58 445.60h1M184.51 445.60h1.99M24.95 448.40h1M27.94 448.40h1M39.90 448.40h1M74.81 448.40h1M93.76 448.40h1M96.75 448.40h1M106.72 448.40h1M117.69 448.40h1M123.68 448.40h1M125.67 448.40h1M134.65 448.40h1M145.62 448.40h1.99M148.61 448.40h1M151.60 448.40h1M174.54 448.40h1M185.51 448.40h1M36.91 451.20h1M46.89 451.20h1M68.83 451.20h1M72.82 451.20h1M74.81 451.20h1M87.77 451.20h1M93.76 451.20h1M100.74 451.20h1M117.69 451.20h1M126.67 451.20h1M145.62 451.20h1.99M150.60 451.20h1M155.59 451.20h1M157.58 451.20h1M184.51 451.20h1.99M21.95 454h1M34.92 454h1M76.80 454h1M90.77 454h1M100.74 454h1M125.67 454h1M145.62 454h1.99M148.61 454h1M151.60 454h1M184.51 454h1.99M5 456.80h1M12.98 456.80h1M21.95 456.80h1M53.87 456.80h1M65.83 456.80h1M80.79 456.80h1M82.79 456.80h1M84.78 456.80h1.99M87.77 456.80h1M90.77 456.80h1M93.76 456.80h1M95.75 456.80h1.99M100.74 456.80h1M106.72 456.80h1M112.71 456.80h1M114.70 456.80h1M117.69 456.80h1M145.62 456.80h1.99M154.59 456.80h1M174.54 456.80h1M177.53 456.80h1.99M186.51 456.80h1M42.90 459.60h1M72.82 459.60h1M74.81 459.60h1M80.79 459.60h1M82.79 459.60h1M85.78 459.60h1M87.77 459.60h1.99M90.77 459.60h1M93.76 459.60h1.99M96.75 459.60h1M98.74 459.60h1M100.74 459.60h1M105.73 459.60h1.99M112.71 459.60h1M118.69 459.60h1M121.68 459.60h1M125.67 459.60h1.99M145.62 459.60h1.99M149.61 459.60h1M174.54 459.60h1M184.51 459.60h1M186.51 459.60h1.99M5 462.38h1M6.99 462.38h1M9.99 462.38h1.99M13.98 462.38h1.99M18.96 462.38h1M22.95 462.38h1M26.94 462.38h2.99M32.92 462.38h2.99M43.89 462.38h1.99M50.88 462.38h1M52.87 462.38h1M57.86 462.38h1M63.84 462.38h1M148.61 462.38h2.99M155.59 462.38h1M157.58 462.38h1M163.57 462.38h1.99M169.55 462.38h4.99M5 465.12h1M6.99 465.12h1.99M9.99 465.12h1M11.98 465.12h2.99M16.97 465.12h1M19.96 465.12h1M24.95 465.12h1M26.94 465.12h1M31.93 465.12h1M41.90 465.12h1M43.89 465.12h1.99M50.88 465.12h1M55.86 465.12h1M57.86 465.12h1M60.85 465.12h1M62.84 465.12h1.99M69.82 465.12h1M145.62 465.12h1M150.60 465.12h1M155.59 465.12h1M157.58 465.12h1M164.57 465.12h2.99M170.55 465.12h1M172.54 465.12h1.99M184.51 465.12h1M6.99 467.88h1M13.98 467.88h1M16.97 467.88h3.99M21.95 467.88h1M24.95 467.88h1.99M27.94 467.88h1M29.93 467.88h1M31.93 467.88h1M37.91 467.88h1M40.90 467.88h1M42.90 467.88h1M53.87 467.88h1M59.85 467.88h3.99M64.84 467.88h1M145.62 467.88h1.99M149.61 467.88h2.99M154.59 467.88h1M157.58 467.88h1.99M163.57 467.88h2.99M173.54 467.88h1M186.51 467.88h1M5 470.62h3.99M9.99 470.62h1.99M12.98 470.62h1M14.97 470.62h1M16.97 470.62h1M21.95 470.62h1M27.94 470.62h1.99M32.92 470.62h1M35.92 470.62h1M38.91 470.62h1M43.89 470.62h1.99M50.88 470.62h1M57.86 470.62h1M69.82 470.62h1M148.61 470.62h1M151.60 470.62h1M158.58 470.62h1M162.57 470.62h1.99M169.55 470.62h1M171.55 470.62h1M184.51 470.62h3.99M6.99 473.38h5.98M13.98 473.38h1M16.97 473.38h1M19.96 473.38h1M21.95 473.38h1.99M26.94 473.38h1M28.93 473.38h1M31.93 473.38h2.99M35.92 473.38h1M41.90 473.38h1M44.89 473.38h1M51.87 473.38h1M53.87 473.38h1M59.85 473.38h1M62.84 473.38h1.99M145.62 473.38h1.99M151.60 473.38h1M157.58 473.38h1M162.57 473.38h1M165.56 473.38h1M170.55 473.38h1.99M176.53 473.38h1M184.51 473.38h1M186.51 473.38h1M5 476.12h1M6.99 476.12h1.99M11.98 476.12h1.99M16.97 476.12h1M21.95 476.12h1M24.95 476.12h1M26.94 476.12h1.99M31.93 476.12h1.99M35.92 476.12h1M43.89 476.12h1.99M50.88 476.12h1.99M57.86 476.12h1M61.85 476.12h1M148.61 476.12h1M151.60 476.12h1M155.59 476.12h1M157.58 476.12h1M160.58 476.12h1.99M168.55 476.12h4.99M185.51 476.12h1M187.50 476.12h1M7.99 478.88h1M9.99 478.88h1.99M12.98 478.88h1M18.96 478.88h1M22.95 478.88h1M24.95 478.88h1M26.94 478.88h1.99M32.92 478.88h1M34.92 478.88h1M37.91 478.88h1.99M50.88 478.88h1M55.86 478.88h1.99M58.85 478.88h1.99M61.85 478.88h1M64.84 478.88h1M145.62 478.88h1M151.60 478.88h1M155.59 478.88h1M163.57 478.88h1.99M169.55 478.88h1M171.55 478.88h1M173.54 478.88h1M186.51 478.88h1M11.98 481.62h1.99M21.95 481.62h1M43.89 481.62h1M45.89 481.62h1M50.88 481.62h1M69.82 481.62h1M147.61 481.62h1M151.60 481.62h2.99M156.59 481.62h1M160.58 481.62h1.99M167.56 481.62h1M169.55 481.62h1.99M176.53 481.62h1M183.51 481.62h1M185.51 481.62h1M6 484.38h1.99M9.99 484.38h2.99M21.95 484.38h1M26.94 484.38h1.99M31.93 484.38h1.99M35.92 484.38h1M38.91 484.38h1M43.89 484.38h1.99M50.88 484.38h1M62.84 484.38h1M69.82 484.38h1M151.60 484.38h1M157.58 484.38h1.99M160.58 484.38h1.99M164.57 484.38h1M168.55 484.38h1.99M172.54 484.38h1.99M176.53 484.38h1M184.51 484.38h1M186.51 484.38h1M11.98 487.12h1M14.97 487.12h1M20.96 487.12h1.99M26.94 487.12h1.99M35.92 487.12h1M38.91 487.12h1M51.87 487.12h1M152.60 487.12h1.99M156.59 487.12h1M158.58 487.12h1M169.55 487.12h1M171.55 487.12h1M184.51 487.12h1M7.99 489.82h1M11.98 489.82h1M20.96 489.82h1M45.89 489.82h1M145.62 489.82h1M149.61 489.82h1M155.59 489.82h1M158.58 489.82h1M160.58 489.82h1M169.55 489.82h2.99M186.51 489.82h1M11.98 492.48h1.99M19.96 492.48h2.99M26.94 492.48h1.99M44.89 492.48h1.99M47.88 492.48h1M57.86 492.48h1M62.84 492.48h1M145.62 492.48h1.99M149.61 492.48h1.99M160.58 492.48h1M169.55 492.48h4.99M185.51 492.48h1M187.50 492.48h1M9.99 495.12h1M11.98 495.12h1M43.89 495.12h1M45.89 495.12h1M47.88 495.12h1M149.61 495.12h1M152.60 495.12h1.99M158.58 495.12h1M160.58 495.12h1M167.56 495.12h1M171.55 495.12h1M186.51 495.12h1M7.99 497.77h1M11.98 497.77h2.99M20.96 497.77h1M43.89 497.77h1M47.88 497.77h1M149.61 497.77h1M153.60 497.77h1M155.59 497.77h1M169.55 497.77h1M173.54 497.77h1M5 500.43h1.99M11.98 500.43h1.99M20.96 500.43h1M28.93 500.43h1M35.92 500.43h1M44.89 500.43h1.99M47.88 500.43h1M60.85 500.43h1M69.82 500.43h1M150.60 500.43h1M157.58 500.43h1.99M161.57 500.43h1M184.51 500.43h1M11.98 503.07h1M28.93 503.07h1M32.92 503.07h1M45.89 503.07h1M50.88 503.07h1M145.62 503.07h1M152.60 503.07h1M155.59 503.07h3.99M161.57 503.07h1M167.56 503.07h1M169.55 503.07h1.99M176.53 503.07h1M185.51 503.07h1.99M6 505.73h1M11.98 505.73h1.99M14.97 505.73h1M19.96 505.73h1.99M26.94 505.73h2.99M32.92 505.73h1M35.92 505.73h1M41.90 505.73h1M43.89 505.73h1.99M47.88 505.73h1M49.88 505.73h1.99M57.86 505.73h1M149.61 505.73h1.99M154.59 505.73h1.99M161.57 505.73h1M164.57 505.73h1M168.55 505.73h1M170.55 505.73h2.99M184.51 505.73h1M186.51 505.73h1.99M6 508.38h1M10.98 508.38h1M43.89 508.38h1M45.89 508.38h1M47.88 508.38h1M149.61 508.38h1M151.60 508.38h1M155.59 508.38h1M158.58 508.38h1M160.58 508.38h1.99M167.56 508.38h1M176.53 508.38h1M184.51 508.38h1M6 511.02h1M11.98 511.02h1M20.96 511.02h1.99M43.89 511.02h1M45.89 511.02h1M47.88 511.02h1M146.61 511.02h1.99M151.60 511.02h1M161.57 511.02h1M6 513.67h1M11.98 513.67h1M21.95 513.67h1M31.93 513.67h1M35.92 513.67h1M43.89 513.67h1M47.88 513.67h1M57.86 513.67h1M145.62 513.67h1M148.61 513.67h1.99M155.59 513.67h1M161.57 513.67h1M164.57 513.67h1M170.55 513.67h1M173.54 513.67h1M6 516.42h1.99M12.98 516.42h1M72.82 516.42h1M74.81 516.42h1M82.79 516.42h2.99M90.77 516.42h1M93.76 516.42h1M117.69 516.42h1M128.66 516.42h1M136.64 516.42h1M185.51 516.42h1M6 519.28h1M9.99 519.28h1M20.96 519.28h1M26.94 519.28h1.99M45.89 519.28h1M47.88 519.28h1M68.83 519.28h1M72.82 519.28h1M74.81 519.28h1M84.78 519.28h1M90.77 519.28h1M93.76 519.28h1M98.74 519.28h1M100.74 519.28h1M102.73 519.28h1M128.66 519.28h1.99M132.65 519.28h1M134.65 519.28h1M76.80 522.12h1M87.77 522.12h1M126.67 522.12h1M11.98 524.97h1M45.89 524.97h1M71.82 524.97h1M76.80 524.97h1M87.77 524.97h1M93.76 524.97h1M100.74 524.97h1M106.72 524.97h1M133.65 524.97h1.99M136.64 524.97h1M5 527.83h1.99M11.98 527.83h1M14.97 527.83h1M21.95 527.83h1M26.94 527.83h1.99M44.89 527.83h1M47.88 527.83h1M49.88 527.83h1.99M68.83 527.83h1M72.82 527.83h1M74.81 527.83h1M80.79 527.83h1M82.79 527.83h1M84.78 527.83h1M87.77 527.83h1M90.77 527.83h1M98.74 527.83h1M100.74 527.83h1M117.69 527.83h1M124.67 527.83h1.99M128.66 527.83h1.99M132.65 527.83h1M134.65 527.83h1M167.56 527.83h1M20.96 530.67h1.99M47.88 530.67h1M50.88 530.67h1M72.82 530.67h1M87.77 530.67h1.99M90.77 530.67h1M93.76 530.67h1M95.75 530.67h1.99M106.72 530.67h1M112.71 530.67h1M117.69 530.67h1M126.67 530.67h1M135.64 530.67h1.99M139.63 530.67h1M12.98 533.53h1M16.97 533.53h1M32.92 533.53h1M35.92 533.53h1M49.88 533.53h1.99M85.78 533.53h1M87.77 533.53h1M89.77 533.53h1M95.75 533.53h3.99M100.74 533.53h1M102.73 533.53h1M104.73 533.53h1M114.70 533.53h1M118.69 533.53h1M121.68 533.53h1M123.68 533.53h2.99M128.66 533.53h2.99M133.65 533.53h1M138.64 533.53h1.99M144.62 533.53h1M161.57 533.53h1M6 536.38h1.99M11.98 536.38h1M20.96 536.38h1M22.95 536.38h1M27.94 536.38h1M47.88 536.38h1M57.86 536.38h1M65.83 536.38h1.99M68.83 536.38h1M74.81 536.38h1M95.75 536.38h1M98.74 536.38h1M104.73 536.38h2.99M117.69 536.38h1.99M123.68 536.38h1.99M129.66 536.38h1M131.65 536.38h1M134.65 536.38h1.99M143.62 536.38h1M11.98 539.22h1.99M16.97 539.22h1M45.89 539.22h1M47.88 539.22h1M49.88 539.22h1M60.85 539.22h1M66.83 539.22h1M74.81 539.22h1M80.79 539.22h1M82.79 539.22h1M87.77 539.22h1M93.76 539.22h1M95.75 539.22h1M100.74 539.22h1M102.73 539.22h1M105.73 539.22h1M117.69 539.22h1M123.68 539.22h2.99M128.66 539.22h1M130.66 539.22h1M134.65 539.22h2.99M144.62 539.22h1M6 542.08h1M20.96 542.08h1M45.89 542.08h1M47.88 542.08h1M66.83 542.08h1M74.81 542.08h1M82.79 542.08h1M84.78 542.08h1.99M87.77 542.08h1M90.77 542.08h1M93.76 542.08h1M100.74 542.08h1M106.72 542.08h1M117.69 542.08h1M126.67 542.08h1M136.64 542.08h1M71.82 544.88h1M76.80 544.88h1M71.82 550.38h1M74.81 550.38h1M76.80 550.38h1M71.82 553.12h1M76.80 553.12h1M71.82 555.88h1M74.81 555.88h1M76.80 555.88h1M90.77 555.88h1M93.76 555.88h1M106.72 555.88h1M126.67 555.88h1M130.66 555.88h1M134.65 555.88h1M156.59 555.88h1M178.53 555.88h1M82.79 558.62h1M84.78 558.62h1M87.77 558.62h1M93.76 558.62h1M126.67 558.62h1M147.61 558.62h1M152.60 558.62h1M178.53 558.62h1M74.81 564.12h1M136.64 564.12h1M159.58 564.12h1M136.64 569.62h1M185.51 569.62h1M76.80 572.36h1M80.79 572.36h1M91.76 572.36h1M99.74 572.36h1M108.72 572.36h1M129.66 572.36h3.99M137.64 572.36h1M141.63 572.36h1M143.62 572.36h1M160.58 572.36h1M75.81 575.09h1M83.79 575.09h1M86.78 575.09h1M94.76 575.09h1M97.75 575.09h1M101.74 575.09h1M104.73 575.09h1M111.71 575.09h1M122.68 575.09h1.99M68.83 577.82h1M76.80 577.82h1M86.78 577.82h1M92.76 577.82h1M94.76 577.82h1M96.75 577.82h1M101.74 577.82h1M108.72 577.82h1M111.71 577.82h1.99M114.70 577.82h1M116.70 577.82h1M120.68 577.82h1M123.68 577.82h1M142.62 577.82h1M20.96 580.55h1M76.80 580.55h1M83.79 580.55h1M87.77 580.55h1M92.76 580.55h1M94.76 580.55h2.99M108.72 580.55h1.99M111.71 580.55h2.99M129.66 580.55h1M132.65 580.55h1M134.65 580.55h1M137.64 580.55h1M141.63 580.55h1.99M167.56 580.55h1M6 583.27h1M50.88 583.27h1M71.82 583.27h1M76.80 583.27h1M83.79 583.27h1M87.77 583.27h1M96.75 583.27h1M100.74 583.27h1.99M108.72 583.27h1.99M116.70 583.27h1M136.64 583.27h1.99M142.62 583.27h1M160.58 583.27h1M167.56 583.27h1M76.80 586h1M78.80 586h1M80.79 586h1M83.79 586h1M86.78 586h1M91.76 586h1M94.76 586h1.99M104.73 586h1M108.72 586h1M112.71 586h1.99M122.68 586h2.99M129.66 586h1.99M71.82 588.73h1M78.80 588.73h1M83.79 588.73h1M86.78 588.73h1M94.76 588.73h1M97.75 588.73h1M101.74 588.73h1M112.71 588.73h1M116.70 588.73h1M120.68 588.73h1M123.68 588.73h1M129.66 588.73h1M76.80 591.45h1M78.80 591.45h1M80.79 591.45h1M84.78 591.45h1M87.77 591.45h1M91.76 591.45h1M94.76 591.45h3.99M109.71 591.45h1.99M112.71 591.45h1.99M116.70 591.45h1M132.65 591.45h1M134.65 591.45h1M20.96 594.18h1M45.89 594.18h1M47.88 594.18h1M71.82 594.18h1M76.80 594.18h1.99M87.77 594.18h1M92.76 594.18h1M96.75 594.18h1M99.74 594.18h1.99M103.73 594.18h1M108.72 594.18h1M111.71 594.18h1M121.68 594.18h1M127.67 594.18h1M130.66 594.18h1M132.65 594.18h1M137.64 594.18h1M141.63 594.18h2.99M160.58 594.18h1M70.82 596.91h1M72.82 596.91h1.99M78.80 596.91h1M83.79 596.91h1M94.76 596.91h1.99M97.75 596.91h1M109.71 596.91h1M111.71 596.91h1.99M116.70 596.91h1.99M123.68 596.91h1M129.66 596.91h1M134.65 596.91h1.99M45.89 599.64h1M71.82 599.64h1M76.80 599.64h1M80.79 599.64h1M87.77 599.64h1M94.76 599.64h1M96.75 599.64h1M100.74 599.64h1.99M109.71 599.64h1M112.71 599.64h1M160.58 599.64h1M170.55 599.64h1M6 602.39h1M43.89 602.39h1M66.83 602.39h1M68.83 602.39h1M82.79 602.39h1M87.77 602.39h1M93.76 602.39h1M117.69 602.39h1.99M126.67 602.39h1M128.66 602.39h1M144.62 602.39h1M156.59 602.39h1M159.58 602.39h1M161.57 602.39h1M68.83 605.17h1M71.82 605.17h1M76.80 605.17h1M90.77 605.17h1M93.76 605.17h1M106.72 605.17h1M126.67 605.17h1M130.66 605.17h1M136.64 605.17h1M160.58 605.17h1M178.53 605.17h1M20.96 607.94h1M47.88 607.94h1M71.82 607.94h1M76.80 607.94h1M87.77 607.94h1M159.58 607.94h1.99M167.56 607.94h1M178.53 607.94h1M6 610.72h1M20.96 610.72h1.99M45.89 610.72h1M68.83 610.72h1M88.77 610.72h1M117.69 610.72h1M125.67 610.72h1.99M128.66 610.72h1M136.64 610.72h1M159.58 610.72h1M177.53 610.72h1.99M71.82 613.50h1M6 616.28h1M16.97 616.28h1M28.93 616.28h1M45.89 616.28h1M68.83 616.28h1.99M84.78 616.28h1M95.75 616.28h1M98.74 616.28h1M104.73 616.28h1M118.69 616.28h1M123.68 616.28h1M126.67 616.28h1M130.66 616.28h1M132.65 616.28h1M147.61 616.28h1M161.57 616.28h1M167.56 616.28h1M170.55 616.28h1M174.54 616.28h1M178.53 616.28h1M182.52 616.28h1M20.96 619.06h1M28.93 619.06h1M45.89 619.06h1M47.88 619.06h1M50.88 619.06h1M74.81 619.06h1M76.80 619.06h1M84.78 619.06h1M87.77 619.06h1M90.77 619.06h1M106.72 619.06h1M134.65 619.06h1M136.64 619.06h1M167.56 619.06h1M178.53 619.06h1M5 621.83h1M6.99 621.83h1.99M9.99 621.83h2.99M16.97 621.83h1M20.96 621.83h1M26.94 621.83h1M44.89 621.83h1M47.88 621.83h1M50.88 621.83h1M57.86 621.83h1M66.83 621.83h1M72.82 621.83h1M74.81 621.83h1M80.79 621.83h1M82.79 621.83h1M84.78 621.83h1M87.77 621.83h1M90.77 621.83h1M95.75 621.83h1.99M98.74 621.83h1M106.72 621.83h1M118.69 621.83h1M125.67 621.83h1M128.66 621.83h1M144.62 621.83h1M160.58 621.83h1.99M170.55 621.83h1M178.53 621.83h1M182.52 621.83h1M6 624.61h1M20.96 624.61h1.99M45.89 624.61h1M71.82 624.61h1M76.80 624.61h1M96.75 624.61h1M126.67 624.61h1M134.65 624.61h1M160.58 624.61h1M167.56 624.61h1M174.54 624.61h1M178.53 624.61h1" stroke="#d9c8e9" stroke-width="2.8" fill="none"/><path d="M23.95 434.40h1M31.93 434.40h1M45.89 434.40h1M47.88 434.40h2.99M140.63 434.40h1M11.98 437.20h1M47.88 437.20h2.99M60.85 437.20h1M176.53 437.20h1M28.93 440h1.99M43.89 440h1M45.89 440h1.99M49.88 440h1M52.87 440h1M63.84 440h1M160.58 440h1M176.53 440h1M23.95 442.80h1M42.90 442.80h1M45.89 442.80h1M47.88 442.80h2.99M140.63 442.80h1M176.53 442.80h1M10.98 445.60h1M46.89 445.60h1M48.88 445.60h1M140.63 445.60h1M173.54 445.60h1M183.51 445.60h1M19.96 448.40h1M28.93 448.40h1M37.91 448.40h1M42.90 448.40h1M45.89 448.40h1M47.88 448.40h1M49.88 448.40h1M64.84 448.40h1M33.92 451.20h1M44.89 451.20h1M47.88 451.20h1.99M54.86 451.20h1M69.82 451.20h1M163.57 451.20h1M9.99 454h1M17.96 454h1M20.96 454h1M37.91 454h1M45.89 454h2.99M49.88 454h1M57.86 454h1M66.83 454h1M176.53 454h1M6 456.80h1M45.89 456.80h3.99M67.83 456.80h1M162.57 456.80h1M11.98 459.60h1M17.96 459.60h1M29.93 459.60h1M34.92 459.60h1M45.89 459.60h4.99M56.86 459.60h1M165.56 459.60h1M140.63 462.38h1M76.80 465.12h1M131.65 465.12h1M133.65 465.12h1M135.64 465.12h1M139.63 465.12h2.99M142.62 467.88h1M127.67 470.62h1M131.65 470.62h1.99M135.64 470.62h1M138.64 470.62h1M101.74 473.38h1M131.65 473.38h1M139.63 473.38h1.99M143.62 473.38h1M47.88 476.12h1M131.65 476.12h1M133.65 476.12h1M137.64 476.12h1.99M141.63 476.12h1M90.77 478.88h1M137.64 478.88h1M48.88 481.62h1M132.65 481.62h1M135.64 481.62h1M137.64 481.62h1.99M143.62 481.62h1.99M111.71 484.38h1M127.67 484.38h1M130.66 484.38h1M138.64 484.38h1M141.63 484.38h1.99M89.77 487.12h1M94.76 487.12h1M127.67 487.12h1M130.66 487.12h2.99M138.64 487.12h1.99M141.63 487.12h1.99M80.79 489.82h1M88.77 489.82h1.99M100.74 489.82h1M107.72 489.82h1M120.68 489.82h1M122.68 489.82h1M73.81 492.48h1M78.80 492.48h1M80.79 492.48h1.99M103.73 492.48h1M110.71 492.48h1M113.70 492.48h1M116.70 492.48h1M120.68 492.48h1M123.68 492.48h1M85.78 495.12h1M88.77 495.12h1M92.76 495.12h1M94.76 495.12h1M104.73 495.12h1M112.71 495.12h1M122.68 495.12h1M72.82 497.77h1M108.72 497.77h1M110.71 497.77h1M113.70 497.77h1M116.70 497.77h1M121.68 497.77h1M72.82 500.43h1M80.79 500.43h1M85.78 500.43h1M94.76 500.43h1M97.75 500.43h1M101.74 500.43h1M104.73 500.43h1.99M110.71 500.43h1.99M113.70 500.43h1M115.70 500.43h1M124.67 500.43h1.99M72.82 503.07h1M81.79 503.07h1.99M84.78 503.07h1.99M89.77 503.07h1M100.74 503.07h1.99M113.70 503.07h1M119.69 503.07h2.99M73.81 505.73h1M80.79 505.73h1M89.77 505.73h1M91.76 505.73h1M101.74 505.73h1M107.72 505.73h1.99M112.71 505.73h1M120.68 505.73h1M80.79 508.38h1M94.76 508.38h1M97.75 508.38h1M105.73 508.38h1M111.71 508.38h1M117.69 508.38h1.99M125.67 508.38h1M73.81 511.02h1M83.79 511.02h2.99M89.77 511.02h1M93.76 511.02h1.99M96.75 511.02h1M98.74 511.02h1M101.74 511.02h1.99M105.73 511.02h1.99M111.71 511.02h1M121.68 511.02h1M131.65 511.02h1.99M77.80 513.67h1.99M89.77 513.67h1M92.76 513.67h1M97.75 513.67h1M102.73 513.67h1M104.73 513.67h1M110.71 513.67h1M112.71 513.67h1M116.70 513.67h1M123.68 513.67h1M179.52 516.42h1M179.52 519.28h1M23.95 522.12h1M40.90 522.12h1M54.86 522.12h1M162.57 522.12h1M166.56 522.12h1M174.54 522.12h1.99M177.53 522.12h1.99M75.81 524.97h1M175.54 530.67h1M179.52 530.67h1M179.52 536.38h1M149.61 539.22h1M175.54 539.22h1M180.52 539.22h1.99M158.58 542.08h1M175.54 542.08h1M177.53 542.08h1M179.52 542.08h1.99M46.89 544.88h1M70.82 544.88h1M75.81 544.88h1M166.56 544.88h1M6.99 547.62h2.99M25.94 547.62h1M29.93 547.62h1M31.93 547.62h1M33.92 547.62h1M37.91 547.62h1M40.90 547.62h1.99M43.89 547.62h1.99M48.88 547.62h1M55.86 547.62h1.99M59.85 547.62h2.99M63.84 547.62h1M67.83 547.62h1M69.82 547.62h1.99M73.81 547.62h1M75.81 547.62h1M77.80 547.62h1.99M99.74 547.62h1M109.71 547.62h1M115.70 547.62h1.99M119.69 547.62h1M140.63 547.62h1M146.61 547.62h1M148.61 547.62h1M176.53 547.62h1M179.52 547.62h1M15.97 550.38h1M23.95 550.38h2.99M29.93 550.38h1.99M32.92 550.38h1.99M40.90 550.38h1M46.89 550.38h1M53.87 550.38h1M58.85 550.38h1M67.83 550.38h1M75.81 550.38h1M115.70 550.38h1.99M146.61 550.38h1M176.53 550.38h1M9.99 553.12h1M13.98 553.12h1M16.97 553.12h1M22.95 553.12h1.99M26.94 553.12h1.99M29.93 553.12h1M37.91 553.12h1.99M42.90 553.12h1M48.88 553.12h1M51.87 553.12h1M56.86 553.12h1M61.85 553.12h1M63.84 553.12h1M65.83 553.12h2.99M70.82 553.12h1M75.81 553.12h1M77.80 553.12h1.99M81.79 553.12h1M108.72 553.12h1M119.69 553.12h1M122.68 553.12h1M127.67 553.12h1M150.60 553.12h1.99M176.53 553.12h1M8.99 555.88h1M18.96 555.88h1M29.93 555.88h1M36.91 555.88h1M40.90 555.88h1M58.85 555.88h1M140.63 555.88h1M15.97 558.62h1M23.95 558.62h1M34.92 558.62h1M36.91 558.62h1M39.90 558.62h1M67.83 558.62h1M70.82 558.62h1M75.81 558.62h1M109.71 558.62h1M115.70 558.62h1M5 561.38h1M7.99 561.38h1M13.98 561.38h1M29.93 561.38h1.99M33.92 561.38h1M38.91 561.38h1M40.90 561.38h1M42.90 561.38h1M46.89 561.38h1M48.88 561.38h1M51.87 561.38h1.99M55.86 561.38h1.99M58.85 561.38h3.99M63.84 561.38h1.99M70.82 561.38h1M75.81 561.38h1M115.70 561.38h1M146.61 561.38h1M154.59 561.38h1M162.57 561.38h1M176.53 561.38h1M23.95 564.12h2.99M32.92 564.12h1M36.91 564.12h1M38.91 564.12h1.99M46.89 564.12h1M53.87 564.12h1M56.86 564.12h1M115.70 564.12h1M176.53 564.12h1M8.99 566.88h1M13.98 566.88h1.99M22.95 566.88h1M24.95 566.88h1M27.94 566.88h1M31.93 566.88h1M34.92 566.88h1M36.91 566.88h1.99M41.90 566.88h1M52.87 566.88h1M58.85 566.88h1.99M61.85 566.88h4.99M67.83 566.88h1M75.81 566.88h1M86.78 566.88h1M116.70 566.88h1M119.69 566.88h1M122.68 566.88h1M138.64 566.88h1M145.62 566.88h1M150.60 566.88h1M154.59 566.88h1M180.52 566.88h1M17.96 569.62h1M19.96 569.62h1M23.95 569.62h1M29.93 569.62h1.99M33.92 569.62h1M36.91 569.62h1M39.90 569.62h1.99M46.89 569.62h1M48.88 569.62h1M52.87 569.62h1M154.59 569.62h1M176.53 569.62h1M15.97 575.09h1M17.96 575.09h1M22.95 575.09h1.99M33.92 575.09h1M39.90 575.09h1M46.89 575.09h1M54.86 575.09h1M56.86 575.09h1M58.85 575.09h1M67.83 575.09h1M81.79 575.09h1M155.59 575.09h1M158.58 575.09h1M166.56 575.09h1M39.90 577.82h1M81.79 577.82h1M145.62 577.82h1M148.61 577.82h1M151.60 577.82h1M155.59 577.82h1M182.52 577.82h1M8.99 580.55h1M25.94 580.55h1M33.92 580.55h1M36.91 580.55h1M39.90 580.55h1M54.86 580.55h1M56.86 580.55h1M128.66 580.55h1M151.60 580.55h1M154.59 580.55h1.99M157.58 580.55h1M39.90 583.27h1M48.88 583.27h1M54.86 583.27h1M145.62 583.27h1.99M148.61 583.27h3.99M157.58 583.27h1M8.99 586h1M15.97 586h1M17.96 586h1M24.95 586h1.99M39.90 586h1.99M67.83 586h1M128.66 586h1M146.61 586h1.99M153.60 586h1M24.95 588.73h1M29.93 588.73h1.99M39.90 588.73h1M46.89 588.73h1M58.85 588.73h1M81.79 588.73h1M183.51 588.73h1M8.99 591.45h1M29.93 591.45h1M48.88 591.45h1M53.87 591.45h1M58.85 591.45h1M81.79 591.45h1M147.61 591.45h1M149.61 591.45h1M151.60 591.45h1M157.58 591.45h1.99M128.66 594.18h1M145.62 594.18h1M148.61 594.18h1M150.60 594.18h1M155.59 594.18h1M157.58 594.18h1M177.53 594.18h1M17.96 596.91h1M19.96 596.91h1M22.95 596.91h1.99M25.94 596.91h1M29.93 596.91h1M36.91 596.91h1M39.90 596.91h1.99M46.89 596.91h1M48.88 596.91h1M54.86 596.91h1M56.86 596.91h1M63.84 596.91h1M81.79 596.91h1M128.66 596.91h1M147.61 596.91h1M152.60 596.91h1M36.91 599.64h1M81.79 599.64h1M154.59 599.64h1M184.51 602.39h1M127.67 605.17h1M140.63 605.17h1M29.93 607.94h1M70.82 607.94h1M75.81 607.94h1M119.69 607.94h1M23.95 613.50h1M25.94 613.50h1M39.90 613.50h1M54.86 613.50h1M67.83 613.50h1M75.81 613.50h1M77.80 613.50h1M109.71 613.50h1.99M115.70 613.50h1.99M119.69 613.50h1M145.62 613.50h1.99M150.60 613.50h1M154.59 613.50h1M176.53 613.50h1M180.52 613.50h1.99M54.86 619.06h1M36.91 624.61h1M75.81 624.61h1M154.59 624.61h1" stroke="#f7d5d9" stroke-width="2.8" fill="none"/><path d="M29.93 434.40h1M39.90 434.40h1M41.90 434.40h1M166.56 434.40h1M171.55 434.40h1M12.98 437.20h1M20.96 437.20h1M27.94 437.20h1M62.84 437.20h1M5 440h1M56.86 440h1M169.55 440h1M66.83 442.80h1M68.83 442.80h1M166.56 442.80h1M170.55 442.80h1.99M6 445.60h1M12.98 445.60h1M15.97 445.60h1M18.96 445.60h1M37.91 445.60h1M164.57 445.60h1M166.56 445.60h1M170.55 445.60h1M31.93 448.40h1M35.92 448.40h1M44.89 448.40h1M55.86 448.40h1.99M172.54 448.40h1M62.84 451.20h1M168.55 451.20h1M30.93 454h1M38.91 454h1M164.57 454h1M172.54 454h1M27.94 456.80h1M51.87 456.80h1M68.83 456.80h1M173.54 456.80h1M32.92 459.60h1M39.90 459.60h1M167.56 459.60h1M49.88 462.38h1M115.70 465.12h1M108.72 467.88h1M47.88 470.62h1M89.77 470.62h1M49.88 476.12h1M82.79 476.12h1M140.63 476.12h1M140.63 478.88h1M76.80 481.62h1M127.67 481.62h1M131.65 481.62h1M140.63 481.62h1.99M82.79 484.38h1M140.63 484.38h1M88.77 487.12h1M140.63 487.12h1M70.82 489.82h1M91.76 489.82h1M97.75 489.82h1M103.73 489.82h1M108.72 489.82h1M110.71 489.82h1M114.70 489.82h2.99M70.82 492.48h1M83.79 492.48h1M99.74 492.48h1M122.68 492.48h1M73.81 495.12h1M79.80 495.12h1M83.79 495.12h1M86.78 495.12h1M101.74 495.12h2.99M113.70 495.12h1M116.70 495.12h1M120.68 495.12h1M86.78 497.77h1M91.76 497.77h1M99.74 497.77h1M119.69 497.77h1.99M140.63 497.77h1M70.82 500.43h1M73.81 500.43h1M77.80 500.43h1.99M81.79 500.43h1M83.79 500.43h1M102.73 500.43h1M108.72 500.43h1M116.70 500.43h1M119.69 500.43h1M122.68 500.43h1M86.78 503.07h1M92.76 503.07h1M99.74 503.07h1M102.73 503.07h1M110.71 503.07h1.99M116.70 503.07h1M128.66 503.07h1M70.82 505.73h1M77.80 505.73h1M86.78 505.73h1M109.71 505.73h1M115.70 505.73h1M134.65 505.73h1M73.81 508.38h1M75.81 508.38h1M78.80 508.38h1.99M81.79 508.38h1M83.79 508.38h1M91.76 508.38h1.99M98.74 508.38h1M102.73 508.38h1.99M113.70 508.38h1M119.69 508.38h1M122.68 508.38h1M126.67 508.38h1M81.79 511.02h1M86.78 511.02h1M92.76 511.02h1M99.74 511.02h1M103.73 511.02h1M108.72 511.02h1M110.71 511.02h1M116.70 511.02h1M135.64 511.02h1M83.79 513.67h1M86.78 513.67h1M101.74 513.67h1M108.72 513.67h1M183.51 516.42h1M179.52 522.12h2.99M156.59 524.97h1M148.61 533.53h1M150.60 536.38h1M157.58 536.38h1M176.53 536.38h1M180.52 536.38h1.99M183.51 536.38h1M176.53 539.22h1M183.51 539.22h1M176.53 542.08h1M181.52 542.08h1M183.51 542.08h1M15.97 547.62h1M18.96 547.62h1M22.95 547.62h1M24.95 547.62h1M38.91 547.62h1M42.90 547.62h1M46.89 547.62h1M51.87 547.62h1M53.87 547.62h1M58.85 547.62h1M64.84 547.62h1M154.59 547.62h1M17.96 550.38h1M34.92 550.38h1M36.91 550.38h1M39.90 550.38h1M162.57 550.38h1M8.99 553.12h1M17.96 553.12h1.99M25.94 553.12h1M30.93 553.12h1M32.92 553.12h1M36.91 553.12h1M39.90 553.12h1M46.89 553.12h1M53.87 553.12h1M55.86 553.12h1M58.85 553.12h1M154.59 553.12h1M171.55 553.12h1M23.95 555.88h1M54.86 555.88h1M54.86 558.62h1M14.97 561.38h1.99M17.96 561.38h1.99M23.95 561.38h1M25.94 561.38h1M36.91 561.38h1M39.90 561.38h1M15.97 564.12h1M17.96 564.12h1M42.90 564.12h1M54.86 564.12h1M75.81 564.12h1M9.99 566.88h1M15.97 566.88h1M17.96 566.88h1M25.94 566.88h1M29.93 566.88h1.99M32.92 566.88h1.99M38.91 566.88h2.99M42.90 566.88h1M46.89 566.88h1M48.88 566.88h1M53.87 566.88h1M55.86 566.88h1M101.74 566.88h1M109.71 566.88h1M113.70 566.88h1M140.63 566.88h1M160.58 566.88h1M176.53 566.88h1M54.86 569.62h1M154.59 572.36h1M145.62 575.09h1.99M148.61 575.09h3.99M154.59 575.09h1M157.58 575.09h1M146.61 577.82h1M149.61 577.82h1.99M154.59 577.82h1M145.62 580.55h1M148.61 580.55h2.99M81.79 583.27h1M154.59 583.27h1M183.51 583.27h1M148.61 586h1M150.60 586h1.99M155.59 586h1M157.58 586h1.99M54.86 588.73h1M148.61 588.73h1M175.54 588.73h1M46.89 591.45h1M146.61 591.45h1M148.61 591.45h1M150.60 591.45h1M155.59 591.45h1M178.53 591.45h1M146.61 594.18h1M154.59 594.18h1M178.53 594.18h1M181.52 594.18h1M146.61 596.91h1M148.61 596.91h1.99M151.60 596.91h1M155.59 596.91h1M157.58 596.91h1.99M148.61 599.64h1M176.53 599.64h1M121.68 602.39h1M42.90 616.28h1M22.95 621.83h1M186.51 624.61h1" stroke="#f6c7ca" stroke-width="2.8" fill="none"/><path d="M43.89 434.40h1M53.87 434.40h1M161.57 434.40h1M10.98 437.20h1M19.96 437.20h1M23.95 437.20h1.99M31.93 437.20h1.99M38.91 437.20h1M41.90 437.20h1M51.87 437.20h1M64.84 437.20h1M68.83 437.20h1M161.57 437.20h1M170.55 437.20h1.99M10.98 440h1.99M21.95 440h1.99M26.94 440h1M44.89 440h1M59.85 440h1.99M154.59 440h1M172.54 440h1M6.99 442.80h1M16.97 442.80h1M19.96 442.80h1.99M30.93 442.80h1M38.91 442.80h1M40.90 442.80h1M59.85 442.80h1M172.54 442.80h1M7.99 445.60h1M29.93 445.60h1.99M53.87 445.60h1M61.85 445.60h1M165.56 445.60h1M5 448.40h1M29.93 448.40h1M60.85 448.40h1M63.84 448.40h1M69.82 448.40h1M6.99 451.20h1M13.98 451.20h1M32.92 451.20h1M50.88 451.20h1M10.98 454h1M56.86 454h1M65.83 454h1M120.68 454h1M166.56 454h1M11.98 456.80h1M29.93 456.80h1M38.91 456.80h1M54.86 456.80h1M62.84 456.80h1M69.82 456.80h1M164.57 456.80h1M12.98 459.60h1M19.96 459.60h1M23.95 459.60h1M58.85 459.60h2.99M67.83 459.60h1M164.57 459.60h1M166.56 459.60h1M83.79 462.38h1M92.76 462.38h1M99.74 462.38h1M105.73 462.38h1.99M108.72 462.38h1M113.70 462.38h1M117.69 462.38h1M120.68 462.38h1M144.62 462.38h1M71.82 465.12h1M79.80 465.12h1.99M84.78 465.12h1M86.78 465.12h1.99M92.76 465.12h1M95.75 465.12h1M100.74 465.12h1M116.70 465.12h1M122.68 465.12h1M124.67 465.12h1M79.80 467.88h1M81.79 467.88h1M87.77 467.88h2.99M100.74 467.88h1M104.73 467.88h1M119.69 467.88h1M140.63 467.88h1M172.54 467.88h1M74.81 470.62h1M100.74 470.62h1M120.68 470.62h1M129.66 470.62h1.99M24.95 473.38h1M70.82 473.38h1M83.79 473.38h1M96.75 473.38h1M116.70 473.38h1M124.67 473.38h1M83.79 476.12h1M95.75 476.12h1M99.74 476.12h1M116.70 476.12h1M118.69 476.12h1M122.68 476.12h1M124.67 476.12h1M93.76 478.88h1M100.74 478.88h1M112.71 478.88h1.99M123.68 478.88h1M125.67 478.88h1M71.82 481.62h1M78.80 481.62h1M90.77 481.62h1M102.73 481.62h1M106.72 481.62h1M112.71 481.62h1M116.70 481.62h1.99M129.66 481.62h1M48.88 484.38h1M79.80 484.38h1M83.79 484.38h1M88.77 484.38h1.99M91.76 484.38h1M112.71 484.38h1M123.68 484.38h1M71.82 487.12h1M82.79 487.12h1M92.76 487.12h1M102.73 487.12h1M118.69 487.12h1M120.68 487.12h1M72.82 489.82h1M76.80 489.82h1M90.77 489.82h1M102.73 489.82h1M124.67 489.82h1M127.67 489.82h1M135.64 489.82h1M144.62 489.82h1M75.81 492.48h1M87.77 492.48h1M91.76 492.48h1M111.71 492.48h1M117.69 492.48h1M131.65 492.48h1M137.64 492.48h1M139.63 492.48h1M155.59 492.48h1M74.81 495.12h1M81.79 495.12h1M90.77 495.12h1M97.75 495.12h1M121.68 495.12h1M128.66 495.12h1M134.65 495.12h1M138.64 495.12h1M141.63 495.12h1M174.54 495.12h1M73.81 497.77h1M80.79 497.77h1M87.77 497.77h1M102.73 497.77h1M129.66 497.77h1M135.64 497.77h1.99M79.80 500.43h1M89.77 500.43h1M118.69 500.43h1M120.68 500.43h1.99M143.62 500.43h1M71.82 503.07h1M94.76 503.07h1.99M125.67 503.07h1M129.66 503.07h1M134.65 503.07h1M140.63 503.07h1.99M113.70 505.73h1M153.60 505.73h1M89.77 508.38h1M107.72 508.38h1M114.70 508.38h1M116.70 508.38h1M124.67 508.38h1M144.62 508.38h1M70.82 511.02h1M88.77 511.02h1M95.75 511.02h1M113.70 511.02h1M117.69 511.02h1M123.68 511.02h1M126.67 511.02h1M99.74 513.67h1M111.71 513.67h1M114.70 513.67h1M141.63 513.67h1M155.59 516.42h1M177.53 516.42h1M36.91 519.28h1M152.60 519.28h1M168.55 519.28h1M146.61 522.12h1M171.55 522.12h1M148.61 524.97h1M157.58 524.97h1M180.52 524.97h1M158.58 527.83h1M177.53 527.83h1M183.51 527.83h1M145.62 530.67h1M157.58 530.67h1M164.57 530.67h1M176.53 530.67h1.99M183.51 530.67h1M147.61 533.53h1M170.55 533.53h1M181.52 533.53h1.99M155.59 536.38h1M152.60 539.22h1.99M156.59 539.22h1M150.60 542.08h1M153.60 542.08h1.99M168.55 542.08h1M5 544.88h1M6.99 544.88h1M17.96 544.88h1M28.93 544.88h1M33.92 544.88h1M38.91 544.88h2.99M55.86 544.88h1M62.84 544.88h1M64.84 544.88h1M66.83 544.88h1M36.91 547.62h1M39.90 547.62h1M171.55 547.62h1M8.99 550.38h1M10.98 550.38h1M168.55 550.38h1M49.88 553.12h1M163.57 553.12h1.99M172.54 553.12h1M10.98 555.88h1M26.94 555.88h1M43.89 555.88h1M168.55 555.88h1M170.55 555.88h1.99M173.54 555.88h1M58.85 558.62h1M163.57 558.62h1M166.56 558.62h1.99M9.99 561.38h1M24.95 561.38h1M66.83 561.38h1M168.55 561.38h1M88.77 564.12h1M172.54 564.12h1M172.54 566.88h1M24.95 569.62h1M167.56 569.62h1M171.55 569.62h1.99M149.61 572.36h1M157.58 572.36h1M135.64 575.09h1M179.52 575.09h1.99M183.51 575.09h1M179.52 577.82h1M7.99 580.55h1M181.52 580.55h1M133.65 583.27h1M143.62 583.27h1M181.52 583.27h1M28.93 586h1M140.63 586h1M176.53 586h1M91.76 588.73h1M136.64 588.73h1M146.61 588.73h1M153.60 588.73h1M156.59 588.73h1M177.53 591.45h1M180.52 591.45h1.99M175.54 594.18h1M180.52 594.18h1M183.51 594.18h1M181.52 596.91h1M183.51 596.91h1M136.64 599.64h1M147.61 599.64h1M157.58 599.64h1M159.58 599.64h1M175.54 599.64h1M90.77 602.39h1M113.70 602.39h1M150.60 602.39h1M168.55 605.17h1M13.98 607.94h1M27.94 607.94h1M32.92 607.94h1M156.59 610.72h1M185.51 610.72h1M187.50 610.72h1M65.83 613.50h1M162.57 613.50h1M185.51 613.50h1M5 616.28h1M58.85 616.28h1M65.83 616.28h1M91.76 616.28h1.99M115.70 616.28h1M124.67 616.28h1M156.59 616.28h1M179.52 616.28h1M174.54 619.06h1M180.52 619.06h1M184.51 619.06h1M28.93 621.83h1M40.90 621.83h1M56.86 621.83h1M115.70 624.61h1" stroke="#ec5f5b" stroke-width="2.8" fill="none"/><path d="M50.88 434.40h1M82.79 434.40h1M84.78 434.40h1M87.77 434.40h1.99M95.75 434.40h1.99M106.72 434.40h1M112.71 434.40h1M120.68 434.40h1.99M123.68 434.40h1M125.67 434.40h1.99M134.65 434.40h1M154.59 434.40h1M178.53 434.40h1M182.52 434.40h1M184.51 434.40h1M26.94 437.20h1M72.82 437.20h1M80.79 437.20h1M84.78 437.20h1M91.76 437.20h1.99M95.75 437.20h1.99M98.74 437.20h1M101.74 437.20h1M104.73 437.20h1.99M112.71 437.20h1M117.69 437.20h1.99M124.67 437.20h1.99M136.64 437.20h1M150.60 437.20h1M174.54 437.20h1M178.53 437.20h1M186.51 437.20h1.99M18.96 440h1M38.91 440h1M64.84 440h1M72.82 440h1.99M85.78 440h1M87.77 440h1M95.75 440h1M98.74 440h1M103.73 440h4.99M117.69 440h1M123.68 440h3.99M128.66 440h1M130.66 440h1M174.54 440h1M178.53 440h1M185.51 440h2.99M7.99 442.80h1M17.96 442.80h1M28.93 442.80h1.99M41.90 442.80h1M53.87 442.80h1M74.81 442.80h1M82.79 442.80h1M93.76 442.80h2.99M98.74 442.80h1M104.73 442.80h1M106.72 442.80h1M112.71 442.80h1M118.69 442.80h1M121.68 442.80h1M123.68 442.80h1M125.67 442.80h1.99M128.66 442.80h1M130.66 442.80h1M134.65 442.80h1M154.59 442.80h1M165.56 442.80h1M173.54 442.80h1M177.53 442.80h1M184.51 442.80h1M187.50 442.80h1M6.99 445.60h1M11.98 445.60h1M71.82 445.60h1.99M80.79 445.60h1M82.79 445.60h1M84.78 445.60h1.99M87.77 445.60h1.99M90.77 445.60h1M96.75 445.60h1M98.74 445.60h1M100.74 445.60h1M104.73 445.60h1.99M114.70 445.60h1M117.69 445.60h1.99M121.68 445.60h1M123.68 445.60h1.99M136.64 445.60h1M146.61 445.60h1M154.59 445.60h1M187.50 445.60h1M6 448.40h1M25.94 448.40h1M46.89 448.40h1M48.88 448.40h1M72.82 448.40h1M81.79 448.40h1.99M84.78 448.40h1.99M87.77 448.40h1.99M90.77 448.40h1M95.75 448.40h1M98.74 448.40h1M100.74 448.40h1M102.73 448.40h1M105.73 448.40h1M112.71 448.40h1M114.70 448.40h1M121.68 448.40h1M126.67 448.40h1M136.64 448.40h1M154.59 448.40h1M177.53 448.40h1.99M184.51 448.40h1M186.51 448.40h1.99M45.89 451.20h1M56.86 451.20h1.99M66.83 451.20h1M82.79 451.20h1M85.78 451.20h1M88.77 451.20h1M90.77 451.20h1M92.76 451.20h1M94.76 451.20h4.99M102.73 451.20h1M104.73 451.20h2.99M108.72 451.20h1M112.71 451.20h1.99M118.69 451.20h1M121.68 451.20h1M123.68 451.20h2.99M134.65 451.20h1M136.64 451.20h1M174.54 451.20h1M178.53 451.20h1M187.50 451.20h1M41.90 454h1M72.82 454h1M74.81 454h1M80.79 454h1M82.79 454h1M84.78 454h1M87.77 454h1M92.76 454h1M94.76 454h2.99M104.73 454h2.99M117.69 454h1.99M121.68 454h1M124.67 454h1M136.64 454h1M174.54 454h1M178.53 454h1M186.51 454h1.99M10.98 456.80h1M50.88 456.80h1M52.87 456.80h1M72.82 456.80h1M88.77 456.80h1M94.76 456.80h1M98.74 456.80h1M104.73 456.80h1M108.72 456.80h1M111.71 456.80h1M118.69 456.80h1M120.68 456.80h1.99M123.68 456.80h1M125.67 456.80h1.99M128.66 456.80h1M134.65 456.80h1M136.64 456.80h1M184.51 456.80h1.99M187.50 456.80h1M10.98 459.60h1M44.89 459.60h1M55.86 459.60h1M66.83 459.60h1M84.78 459.60h1M89.77 459.60h1M92.76 459.60h1M95.75 459.60h1M97.75 459.60h1M104.73 459.60h1M108.72 459.60h1M111.71 459.60h1M117.69 459.60h1M120.68 459.60h1M123.68 459.60h1.99M128.66 459.60h1M134.65 459.60h1M136.64 459.60h1M154.59 459.60h1M177.53 459.60h1.99M182.52 459.60h1M8.99 462.38h1M15.97 462.38h1M17.96 462.38h1M19.96 462.38h1M24.95 462.38h1M29.93 462.38h2.99M37.91 462.38h4.99M46.89 462.38h1M53.87 462.38h1M55.86 462.38h1.99M58.85 462.38h1.99M61.85 462.38h1.99M64.84 462.38h1M145.62 462.38h1.99M154.59 462.38h1M162.57 462.38h1M166.56 462.38h1M186.51 462.38h1M8.99 465.12h1M14.97 465.12h1M18.96 465.12h1M25.94 465.12h1M27.94 465.12h1M29.93 465.12h1M32.92 465.12h2.99M37.91 465.12h1.99M42.90 465.12h1M51.87 465.12h1.99M58.85 465.12h1.99M61.85 465.12h1M64.84 465.12h1M146.61 465.12h1M148.61 465.12h1.99M151.60 465.12h1M162.57 465.12h1.99M168.55 465.12h1.99M185.51 465.12h1M187.50 465.12h1M8.99 467.88h1M15.97 467.88h1M23.95 467.88h1M30.93 467.88h1M33.92 467.88h1M38.91 467.88h1.99M41.90 467.88h1M52.87 467.88h1M56.86 467.88h1M58.85 467.88h1M63.84 467.88h1M126.67 467.88h1M134.65 467.88h1M166.56 467.88h1M187.50 467.88h1M13.98 470.62h1M17.96 470.62h2.99M22.95 470.62h1M24.95 470.62h2.99M31.93 470.62h1M33.92 470.62h1.99M37.91 470.62h1M41.90 470.62h1M51.87 470.62h1.99M56.86 470.62h1M58.85 470.62h6.98M149.61 470.62h1.99M154.59 470.62h1M157.58 470.62h1M164.57 470.62h2.99M168.55 470.62h1M170.55 470.62h1M172.54 470.62h1.99M5 473.38h1M15.97 473.38h1M17.96 473.38h1M25.94 473.38h1M27.94 473.38h1M30.93 473.38h1M34.92 473.38h1M37.91 473.38h1.99M42.90 473.38h1.99M54.86 473.38h1.99M57.86 473.38h1M60.85 473.38h1.99M64.84 473.38h1M69.82 473.38h1M148.61 473.38h1M150.60 473.38h1M154.59 473.38h1.99M163.57 473.38h1.99M168.55 473.38h1M172.54 473.38h1.99M187.50 473.38h1M9.99 476.12h1.99M14.97 476.12h1.99M17.96 476.12h1M19.96 476.12h1M22.95 476.12h1M30.93 476.12h1M37.91 476.12h1M41.90 476.12h1.99M55.86 476.12h1.99M58.85 476.12h2.99M62.84 476.12h2.99M69.82 476.12h1M145.62 476.12h1.99M150.60 476.12h1M154.59 476.12h1M163.57 476.12h2.99M173.54 476.12h1M186.51 476.12h1M8.99 478.88h1M13.98 478.88h1.99M17.96 478.88h1M25.94 478.88h1M30.93 478.88h1.99M33.92 478.88h1M40.90 478.88h2.99M51.87 478.88h2.99M60.85 478.88h1M62.84 478.88h1M69.82 478.88h1M146.61 478.88h1M148.61 478.88h2.99M162.57 478.88h1M165.56 478.88h1.99M168.55 478.88h1M187.50 478.88h1M6 481.62h1.99M9.99 481.62h1.99M16.97 481.62h1M24.95 481.62h1M27.94 481.62h1M32.92 481.62h1M35.92 481.62h1M41.90 481.62h1M44.89 481.62h1M47.88 481.62h1M51.87 481.62h1M60.85 481.62h1M145.62 481.62h1M149.61 481.62h1M155.59 481.62h1M162.57 481.62h1M164.57 481.62h1M173.54 481.62h1M184.51 481.62h1M187.50 481.62h1M5 484.38h1M7.99 484.38h1.99M12.98 484.38h2.99M16.97 484.38h1M19.96 484.38h1M24.95 484.38h1M28.93 484.38h1M30.93 484.38h1M34.92 484.38h1M37.91 484.38h1M40.90 484.38h1.99M51.87 484.38h1.99M55.86 484.38h1M58.85 484.38h1M61.85 484.38h1M63.84 484.38h1M145.62 484.38h1.99M149.61 484.38h1.99M155.59 484.38h1M162.57 484.38h1.99M165.56 484.38h1M171.55 484.38h1M185.51 484.38h1M5 487.12h1M6.99 487.12h1.99M9.99 487.12h1.99M13.98 487.12h1M16.97 487.12h1M18.96 487.12h1.99M29.93 487.12h3.99M37.91 487.12h1M41.90 487.12h1M43.89 487.12h2.99M50.88 487.12h1M52.87 487.12h1M57.86 487.12h1M59.85 487.12h5.98M69.82 487.12h1M146.61 487.12h1M148.61 487.12h2.99M155.59 487.12h1M157.58 487.12h1M163.57 487.12h2.99M168.55 487.12h1M172.54 487.12h1.99M185.51 487.12h2.99M5 489.82h2.99M10.98 489.82h1M12.98 489.82h1.99M21.95 489.82h1M26.94 489.82h1M28.93 489.82h1M31.93 489.82h1M34.92 489.82h1.99M43.89 489.82h1M47.88 489.82h1M49.88 489.82h1.99M57.86 489.82h1M60.85 489.82h1.99M69.82 489.82h1M148.61 489.82h1M151.60 489.82h1M157.58 489.82h1M163.57 489.82h2.99M168.55 489.82h1M173.54 489.82h1M184.51 489.82h1.99M6.99 492.48h1.99M9.99 492.48h1.99M13.98 492.48h1.99M16.97 492.48h1M18.96 492.48h1M24.95 492.48h1.99M28.93 492.48h1.99M31.93 492.48h4.99M38.91 492.48h1M42.90 492.48h1.99M49.88 492.48h3.99M58.85 492.48h3.99M63.84 492.48h1M69.82 492.48h1M71.82 492.48h1M148.61 492.48h1M151.60 492.48h1M154.59 492.48h1M157.58 492.48h1M162.57 492.48h4.99M168.55 492.48h1M186.51 492.48h1M6 495.12h1.99M12.98 495.12h1M14.97 495.12h1M18.96 495.12h1M21.95 495.12h1M26.94 495.12h2.99M35.92 495.12h1M37.91 495.12h1.99M41.90 495.12h1M44.89 495.12h1M49.88 495.12h1.99M60.85 495.12h1.99M145.62 495.12h1M148.61 495.12h1M151.60 495.12h1M155.59 495.12h1M157.58 495.12h1M161.57 495.12h1M163.57 495.12h1.99M168.55 495.12h1.99M184.51 495.12h1M6 497.77h1.99M9.99 497.77h1.99M14.97 497.77h1M16.97 497.77h1M19.96 497.77h1M21.95 497.77h1M28.93 497.77h1M35.92 497.77h1M41.90 497.77h1M44.89 497.77h1.99M48.88 497.77h1M51.87 497.77h1M57.86 497.77h2.99M69.82 497.77h1M145.62 497.77h1M150.60 497.77h1.99M157.58 497.77h1M161.57 497.77h1M163.57 497.77h1.99M166.56 497.77h1M170.55 497.77h2.99M185.51 497.77h1.99M6.99 500.43h1.99M9.99 500.43h1.99M14.97 500.43h1M16.97 500.43h1M19.96 500.43h1M21.95 500.43h1M24.95 500.43h1M30.93 500.43h1.99M34.92 500.43h1M41.90 500.43h1M43.89 500.43h1M49.88 500.43h2.99M59.85 500.43h1M62.84 500.43h1M145.62 500.43h1.99M148.61 500.43h1.99M151.60 500.43h1M155.59 500.43h1M162.57 500.43h2.99M168.55 500.43h5.98M176.53 500.43h1M185.51 500.43h1.99M5 503.07h3.99M9.99 503.07h1.99M12.98 503.07h1M16.97 503.07h1M21.95 503.07h1M26.94 503.07h1.99M30.93 503.07h1M43.89 503.07h1.99M47.88 503.07h1M49.88 503.07h1M69.82 503.07h1M146.61 503.07h1M149.61 503.07h1M151.60 503.07h1M164.57 503.07h1.99M168.55 503.07h1M171.55 503.07h1M173.54 503.07h1M184.51 503.07h1M5 505.73h1M6.99 505.73h1.99M9.99 505.73h1.99M13.98 505.73h1M16.97 505.73h1M30.93 505.73h1.99M33.92 505.73h1.99M38.91 505.73h1M48.88 505.73h1M51.87 505.73h1.99M55.86 505.73h1.99M60.85 505.73h3.99M69.82 505.73h1M145.62 505.73h1.99M162.57 505.73h1M166.56 505.73h1M173.54 505.73h1M5 508.38h1M6.99 508.38h1M11.98 508.38h1.99M14.97 508.38h1M16.97 508.38h1M20.96 508.38h1M22.95 508.38h1M31.93 508.38h1M35.92 508.38h1M41.90 508.38h1M44.89 508.38h1M49.88 508.38h1.99M60.85 508.38h1M69.82 508.38h1M145.62 508.38h1.99M148.61 508.38h1M157.58 508.38h1M163.57 508.38h1M169.55 508.38h4.99M185.51 508.38h1M5 511.02h1M6.99 511.02h1M10.98 511.02h1M14.97 511.02h1M16.97 511.02h1M24.95 511.02h1M26.94 511.02h1M28.93 511.02h1M31.93 511.02h1M35.92 511.02h1M44.89 511.02h1M49.88 511.02h1.99M57.86 511.02h1M60.85 511.02h1.99M64.84 511.02h1M69.82 511.02h1M145.62 511.02h1M148.61 511.02h1M150.60 511.02h1M155.59 511.02h1M157.58 511.02h1M163.57 511.02h1.99M168.55 511.02h1M170.55 511.02h3.99M185.51 511.02h2.99M5 513.67h1M7.99 513.67h1M9.99 513.67h1.99M12.98 513.67h2.99M16.97 513.67h1M19.96 513.67h1M26.94 513.67h2.99M32.92 513.67h1.99M37.91 513.67h1M44.89 513.67h1M46.89 513.67h1M49.88 513.67h1M58.85 513.67h2.99M62.84 513.67h2.99M69.82 513.67h1M146.61 513.67h1M151.60 513.67h1M162.57 513.67h1.99M167.56 513.67h2.99M171.55 513.67h1.99M184.51 513.67h1M186.51 513.67h1.99M5 516.42h1M7.99 516.42h1M9.99 516.42h1.99M14.97 516.42h1M16.97 516.42h1M20.96 516.42h1.99M28.93 516.42h1M35.92 516.42h1M43.89 516.42h1.99M47.88 516.42h1M49.88 516.42h2.99M57.86 516.42h1M59.85 516.42h1M61.85 516.42h2.99M66.83 516.42h1M68.83 516.42h1.99M80.79 516.42h1M85.78 516.42h1M87.77 516.42h2.99M94.76 516.42h2.99M98.74 516.42h1M100.74 516.42h2.99M104.73 516.42h1M106.72 516.42h1.99M112.71 516.42h2.99M121.68 516.42h1M123.68 516.42h2.99M129.66 516.42h1M132.65 516.42h3.99M139.63 516.42h1M142.62 516.42h2.99M167.56 516.42h1M6.99 519.28h1.99M11.98 519.28h1.99M14.97 519.28h1M16.97 519.28h1M18.96 519.28h1M21.95 519.28h1M32.92 519.28h1M35.92 519.28h1M41.90 519.28h3.99M49.88 519.28h2.99M60.85 519.28h1M69.82 519.28h1M81.79 519.28h1.99M87.77 519.28h2.99M95.75 519.28h1.99M104.73 519.28h1.99M111.71 519.28h1M114.70 519.28h1M117.69 519.28h1.99M121.68 519.28h1M123.68 519.28h1M135.64 519.28h1.99M143.62 519.28h1M160.58 519.28h1M167.56 519.28h1M171.55 519.28h1M6 522.12h1M11.98 522.12h1M20.96 522.12h1M45.89 522.12h1M47.88 522.12h1M49.88 522.12h1.99M62.84 522.12h1M74.81 522.12h1M82.79 522.12h1M84.78 522.12h1.99M90.77 522.12h1M93.76 522.12h1M95.75 522.12h1M118.69 522.12h1M128.66 522.12h1M132.65 522.12h1M134.65 522.12h1M136.64 522.12h1M167.56 522.12h1M6 524.97h1M9.99 524.97h1M12.98 524.97h1M20.96 524.97h1.99M35.92 524.97h1M43.89 524.97h1.99M47.88 524.97h1M51.87 524.97h1M60.85 524.97h1M68.83 524.97h1.99M72.82 524.97h1M82.79 524.97h1M88.77 524.97h1M90.77 524.97h1M94.76 524.97h1.99M98.74 524.97h1M102.73 524.97h1M105.73 524.97h1M108.72 524.97h1M112.71 524.97h2.99M118.69 524.97h1M121.68 524.97h1M124.67 524.97h2.99M128.66 524.97h2.99M143.62 524.97h1.99M160.58 524.97h1M167.56 524.97h1M169.55 524.97h1M184.51 524.97h1.99M6.99 527.83h1.99M9.99 527.83h1.99M12.98 527.83h1.99M16.97 527.83h1M19.96 527.83h1M25.94 527.83h1M28.93 527.83h1M30.93 527.83h1.99M33.92 527.83h1M35.92 527.83h1M41.90 527.83h1M43.89 527.83h1M51.87 527.83h1M60.85 527.83h2.99M64.84 527.83h2.99M69.82 527.83h1M73.81 527.83h1M85.78 527.83h1M88.77 527.83h1.99M92.76 527.83h1M94.76 527.83h3.99M101.74 527.83h3.99M107.72 527.83h1.99M112.71 527.83h1.99M118.69 527.83h1M120.68 527.83h1.99M123.68 527.83h1M131.65 527.83h1M133.65 527.83h1M135.64 527.83h1M138.64 527.83h1.99M143.62 527.83h1.99M160.58 527.83h1M185.51 527.83h2.99M6 530.67h1M7.99 530.67h1M9.99 530.67h4.99M28.93 530.67h1M30.93 530.67h2.99M38.91 530.67h1M43.89 530.67h1.99M48.88 530.67h1.99M51.87 530.67h1M66.83 530.67h1M68.83 530.67h1.99M73.81 530.67h1M80.79 530.67h5.98M92.76 530.67h1M94.76 530.67h1M97.75 530.67h1.99M100.74 530.67h1M102.73 530.67h1M104.73 530.67h1M107.72 530.67h1M114.70 530.67h1M118.69 530.67h1M123.68 530.67h2.99M128.66 530.67h3.99M133.65 530.67h1M160.58 530.67h1.99M167.56 530.67h1M170.55 530.67h1M184.51 530.67h1M5 533.53h1M6.99 533.53h4.99M17.96 533.53h2.99M21.95 533.53h1M24.95 533.53h1M26.94 533.53h2.99M30.93 533.53h1.99M33.92 533.53h1.99M37.91 533.53h1.99M41.90 533.53h1.99M44.89 533.53h1M51.87 533.53h1.99M55.86 533.53h1M57.86 533.53h1M60.85 533.53h1M63.84 533.53h3.99M68.83 533.53h2.99M72.82 533.53h1M77.80 533.53h1M79.80 533.53h2.99M83.79 533.53h1M88.77 533.53h1M91.76 533.53h1.99M94.76 533.53h1M103.73 533.53h1M108.72 533.53h1M110.71 533.53h3.99M117.69 533.53h1M119.69 533.53h1.99M122.68 533.53h1M132.65 533.53h1M135.64 533.53h1M137.64 533.53h1M142.62 533.53h1.99M160.58 533.53h1M167.56 533.53h1M169.55 533.53h1M184.51 533.53h3.99M5 536.38h1M7.99 536.38h1M9.99 536.38h1.99M12.98 536.38h1M14.97 536.38h1M19.96 536.38h1M21.95 536.38h1M28.93 536.38h1M31.93 536.38h1.99M34.92 536.38h1.99M37.91 536.38h1.99M41.90 536.38h1M43.89 536.38h1M49.88 536.38h1M51.87 536.38h2.99M62.84 536.38h1.99M69.82 536.38h1M72.82 536.38h1.99M80.79 536.38h1M82.79 536.38h1M84.78 536.38h1.99M88.77 536.38h1M92.76 536.38h1M96.75 536.38h1.99M100.74 536.38h1M102.73 536.38h1.99M107.72 536.38h1M110.71 536.38h2.99M114.70 536.38h1M120.68 536.38h1.99M125.67 536.38h1M130.66 536.38h1M132.65 536.38h1.99M137.64 536.38h2.99M141.63 536.38h1M144.62 536.38h1M146.61 536.38h1M160.58 536.38h1.99M166.56 536.38h1.99M169.55 536.38h1.99M185.51 536.38h1M6 539.22h2.99M9.99 539.22h1.99M14.97 539.22h1M19.96 539.22h1M21.95 539.22h1M27.94 539.22h1.99M32.92 539.22h1M35.92 539.22h1M41.90 539.22h1M43.89 539.22h1.99M50.88 539.22h2.99M57.86 539.22h1M59.85 539.22h1M62.84 539.22h1M64.84 539.22h1.99M69.82 539.22h1.99M72.82 539.22h1M85.78 539.22h1.99M88.77 539.22h1M92.76 539.22h1M94.76 539.22h1M97.75 539.22h1.99M101.74 539.22h1M104.73 539.22h1M106.72 539.22h1.99M111.71 539.22h1M113.70 539.22h2.99M118.69 539.22h1M121.68 539.22h1M127.67 539.22h1M129.66 539.22h1M132.65 539.22h1.99M139.63 539.22h1M141.63 539.22h1M143.62 539.22h1M160.58 539.22h1M167.56 539.22h1M186.51 539.22h1.99M6.99 542.08h1M10.98 542.08h2.99M19.96 542.08h1M21.95 542.08h1M26.94 542.08h1M28.93 542.08h1M32.92 542.08h1M49.88 542.08h1M57.86 542.08h1M68.83 542.08h1M72.82 542.08h1M88.77 542.08h1M92.76 542.08h1M95.75 542.08h1M97.75 542.08h1.99M104.73 542.08h1.99M112.71 542.08h2.99M118.69 542.08h1M120.68 542.08h1.99M123.68 542.08h2.99M127.67 542.08h1.99M130.66 542.08h1.99M133.65 542.08h1.99M139.63 542.08h1M160.58 542.08h1M72.82 544.88h1M74.81 544.88h1M82.79 544.88h1M84.78 544.88h1M87.77 544.88h1M90.77 544.88h1M93.76 544.88h1M95.75 544.88h1M106.72 544.88h1M126.67 544.88h1M136.64 544.88h1M144.62 544.88h1M147.61 544.88h1M159.58 544.88h1M178.53 544.88h1M185.51 544.88h1M71.82 547.62h1M76.80 547.62h1M126.67 547.62h1M159.58 547.62h1M72.82 550.38h1M90.77 550.38h1M96.75 550.38h1M126.67 550.38h1M134.65 550.38h1M136.64 550.38h1M156.59 550.38h1M159.58 550.38h1M174.54 550.38h1M178.53 550.38h1M185.51 550.38h1M126.67 553.12h1M153.60 553.12h1M159.58 553.12h1M178.53 553.12h1M11.98 555.88h1M20.96 555.88h1M79.80 555.88h1M84.78 555.88h1M87.77 555.88h1.99M98.74 555.88h1M104.73 555.88h1M117.69 555.88h1.99M121.68 555.88h1M125.67 555.88h1M128.66 555.88h1M136.64 555.88h1M147.61 555.88h1M152.60 555.88h1.99M159.58 555.88h1M174.54 555.88h1.99M179.52 555.88h1M182.52 555.88h1M184.51 555.88h1.99M20.96 558.62h1M72.82 558.62h1M81.79 558.62h1M85.78 558.62h1M90.77 558.62h1M95.75 558.62h1M102.73 558.62h1M104.73 558.62h1M106.72 558.62h1M117.69 558.62h1.99M120.68 558.62h1M129.66 558.62h1.99M134.65 558.62h1M136.64 558.62h1M142.62 558.62h1M153.60 558.62h1M155.59 558.62h3.99M174.54 558.62h1.99M177.53 558.62h1M184.51 558.62h1.99M71.82 561.38h1M74.81 561.38h1M76.80 561.38h1M90.77 561.38h1M126.67 561.38h1M134.65 561.38h1M136.64 561.38h1M159.58 561.38h1M174.54 561.38h1M178.53 561.38h1M21.95 564.12h1M84.78 564.12h1M87.77 564.12h1M90.77 564.12h1M95.75 564.12h1M114.70 564.12h1M117.69 564.12h1M126.67 564.12h1M128.66 564.12h1M133.65 564.12h1.99M147.61 564.12h1M152.60 564.12h1.99M156.59 564.12h1M174.54 564.12h1M177.53 564.12h1.99M182.52 564.12h1M184.51 564.12h1.99M71.82 566.88h1M76.80 566.88h1M45.89 569.62h1M71.82 569.62h1M74.81 569.62h1M80.79 569.62h1M84.78 569.62h1M87.77 569.62h1M90.77 569.62h1M93.76 569.62h1M98.74 569.62h1M105.73 569.62h1.99M118.69 569.62h1M123.68 569.62h1M126.67 569.62h1M134.65 569.62h1M152.60 569.62h1M156.59 569.62h1M158.58 569.62h1.99M177.53 569.62h1M182.52 569.62h1M184.51 569.62h1M6 572.36h1M10.98 572.36h1.99M20.96 572.36h1M43.89 572.36h1M45.89 572.36h1M47.88 572.36h1M68.83 572.36h1M77.80 572.36h1M82.79 572.36h1M92.76 572.36h1M96.75 572.36h1M100.74 572.36h2.99M107.72 572.36h1M120.68 572.36h1.99M134.65 572.36h2.99M144.62 572.36h1M167.56 572.36h1M169.55 572.36h1M171.55 572.36h1M20.96 575.09h1M45.89 575.09h1M76.80 575.09h1M82.79 575.09h1M100.74 575.09h1M108.72 575.09h1.99M112.71 575.09h1M116.70 575.09h1M120.68 575.09h1M130.66 575.09h1M160.58 575.09h1.99M167.56 575.09h1M170.55 575.09h1M6 577.82h1.99M11.98 577.82h1M20.96 577.82h1M45.89 577.82h1M47.88 577.82h1M49.88 577.82h1M82.79 577.82h1.99M99.74 577.82h1.99M102.73 577.82h1M107.72 577.82h1M121.68 577.82h1M167.56 577.82h1M170.55 577.82h1M11.98 580.55h1M45.89 580.55h1M47.88 580.55h1M77.80 580.55h1M82.79 580.55h1M99.74 580.55h1.99M102.73 580.55h1M107.72 580.55h1M121.68 580.55h1M123.68 580.55h1M130.66 580.55h1M135.64 580.55h1M139.63 580.55h1.99M144.62 580.55h1M161.57 580.55h1M170.55 580.55h1M12.98 583.27h1M20.96 583.27h1M43.89 583.27h1M45.89 583.27h1M47.88 583.27h1M51.87 583.27h1M68.83 583.27h1M77.80 583.27h1M82.79 583.27h1M92.76 583.27h1M99.74 583.27h1M102.73 583.27h1.99M107.72 583.27h1M121.68 583.27h1M169.55 583.27h1.99M185.51 583.27h1M45.89 586h1M47.88 586h1M71.82 586h1M82.79 586h1M87.77 586h1M96.75 586h1M99.74 586h1M101.74 586h2.99M109.71 586h1M120.68 586h1.99M127.67 586h1M132.65 586h1M135.64 586h1M137.64 586h1M142.62 586h1M160.58 586h1.99M20.96 588.73h1M76.80 588.73h1M82.79 588.73h1M92.76 588.73h1M96.75 588.73h1M99.74 588.73h1.99M107.72 588.73h2.99M121.68 588.73h1M141.63 588.73h1M160.58 588.73h1.99M167.56 588.73h1M171.55 588.73h1M71.82 591.45h1M77.80 591.45h1M82.79 591.45h1.99M92.76 591.45h1M100.74 591.45h1.99M108.72 591.45h1M111.71 591.45h1M121.68 591.45h1M130.66 591.45h1.99M135.64 591.45h1M137.64 591.45h1M140.63 591.45h2.99M160.58 591.45h1M167.56 591.45h1M6 594.18h1M12.98 594.18h1M14.97 594.18h1M16.97 594.18h1M21.95 594.18h1M26.94 594.18h1M44.89 594.18h1M49.88 594.18h1M68.83 594.18h1M82.79 594.18h1M102.73 594.18h1M107.72 594.18h1M115.70 594.18h1M120.68 594.18h1M131.65 594.18h1M135.64 594.18h1.99M139.63 594.18h1.99M144.62 594.18h1M161.57 594.18h1M164.57 594.18h1M167.56 594.18h1M169.55 594.18h1.99M172.54 594.18h1M186.51 594.18h1M21.95 596.91h1M47.88 596.91h1M76.80 596.91h1M82.79 596.91h1M87.77 596.91h1M92.76 596.91h1M96.75 596.91h1M99.74 596.91h1.99M108.72 596.91h1M130.66 596.91h1M132.65 596.91h1M141.63 596.91h1.99M160.58 596.91h1M170.55 596.91h1M10.98 599.64h1.99M20.96 599.64h1M43.89 599.64h1M82.79 599.64h1.99M92.76 599.64h1M102.73 599.64h1.99M107.72 599.64h1.99M120.68 599.64h1M127.67 599.64h1M132.65 599.64h1M138.64 599.64h1M167.56 599.64h1M185.51 599.64h1M6.99 602.39h1M10.98 602.39h1M16.97 602.39h1M21.95 602.39h1M26.94 602.39h1M32.92 602.39h1.99M38.91 602.39h1M44.89 602.39h1M50.88 602.39h1.99M58.85 602.39h1M60.85 602.39h1M69.82 602.39h1M72.82 602.39h1M74.81 602.39h1M84.78 602.39h1M88.77 602.39h1.99M96.75 602.39h2.99M100.74 602.39h1M105.73 602.39h1M120.68 602.39h1M123.68 602.39h1M129.66 602.39h1.99M132.65 602.39h1M142.62 602.39h1M147.61 602.39h1M152.60 602.39h1.99M163.57 602.39h1M170.55 602.39h1M173.54 602.39h1M177.53 602.39h1M183.51 602.39h1M5 605.17h1.99M7.99 605.17h1M11.98 605.17h1.99M21.95 605.17h1M43.89 605.17h1M45.89 605.17h1M47.88 605.17h1M49.88 605.17h1.99M72.82 605.17h1M74.81 605.17h1M84.78 605.17h1M95.75 605.17h1.99M98.74 605.17h1M105.73 605.17h1M118.69 605.17h1M123.68 605.17h1M128.66 605.17h1M139.63 605.17h1M159.58 605.17h1M161.57 605.17h1M163.57 605.17h1M182.52 605.17h1M11.98 607.94h1.99M21.95 607.94h1M24.95 607.94h1M43.89 607.94h1.99M50.88 607.94h1M59.85 607.94h1M68.83 607.94h1M82.79 607.94h1M84.78 607.94h1M90.77 607.94h1M93.76 607.94h1M95.75 607.94h1M104.73 607.94h1M106.72 607.94h1M112.71 607.94h1M118.69 607.94h1M121.68 607.94h1M126.67 607.94h1M128.66 607.94h1M134.65 607.94h1M136.64 607.94h1M147.61 607.94h1M152.60 607.94h1.99M156.59 607.94h1M170.55 607.94h1M174.54 607.94h1M7.99 610.72h1M9.99 610.72h3.99M14.97 610.72h1M16.97 610.72h1M28.93 610.72h1M38.91 610.72h1M44.89 610.72h1M47.88 610.72h1M49.88 610.72h1.99M66.83 610.72h1M69.82 610.72h1M71.82 610.72h1.99M74.81 610.72h1M80.79 610.72h1M82.79 610.72h1M84.78 610.72h1M87.77 610.72h1M90.77 610.72h1M93.76 610.72h5.98M104.73 610.72h1M106.72 610.72h1M120.68 610.72h1M129.66 610.72h1.99M134.65 610.72h1M144.62 610.72h1M147.61 610.72h1M152.60 610.72h1.99M158.58 610.72h1M160.58 610.72h1.99M170.55 610.72h1M175.54 610.72h1M182.52 610.72h1M11.98 613.50h1M76.80 613.50h1M126.67 613.50h1M159.58 613.50h1.99M6.99 616.28h1.99M9.99 616.28h4.99M21.95 616.28h1M26.94 616.28h1M32.92 616.28h1M35.92 616.28h1M41.90 616.28h1M43.89 616.28h1M49.88 616.28h1M51.87 616.28h1M57.86 616.28h1M59.85 616.28h1M72.82 616.28h1M80.79 616.28h1M82.79 616.28h1M85.78 616.28h1M87.77 616.28h1M89.77 616.28h1M96.75 616.28h1M102.73 616.28h1M105.73 616.28h1M113.70 616.28h1.99M121.68 616.28h1M125.67 616.28h1M128.66 616.28h1M133.65 616.28h1M141.63 616.28h1M143.62 616.28h1M152.60 616.28h1M155.59 616.28h1M158.58 616.28h1.99M163.57 616.28h1M172.54 616.28h1M175.54 616.28h1M6 619.06h1.99M9.99 619.06h2.99M19.96 619.06h1M27.94 619.06h1M35.92 619.06h1M43.89 619.06h1M49.88 619.06h1M61.85 619.06h1M68.83 619.06h1M82.79 619.06h1M85.78 619.06h1M93.76 619.06h1M95.75 619.06h1.99M100.74 619.06h1M104.73 619.06h1.99M114.70 619.06h1M117.69 619.06h1.99M125.67 619.06h1.99M128.66 619.06h2.99M137.64 619.06h1M144.62 619.06h1M147.61 619.06h1M152.60 619.06h1M156.59 619.06h1M159.58 619.06h2.99M163.57 619.06h1M170.55 619.06h1.99M177.53 619.06h1M182.52 619.06h1M12.98 621.83h1M19.96 621.83h1M21.95 621.83h1M24.95 621.83h1M31.93 621.83h1.99M34.92 621.83h1.99M38.91 621.83h1M41.90 621.83h1.99M52.87 621.83h1M59.85 621.83h1M61.85 621.83h2.99M65.83 621.83h1M81.79 621.83h1M83.79 621.83h1M85.78 621.83h1M88.77 621.83h1M92.76 621.83h1M94.76 621.83h1M97.75 621.83h1M100.74 621.83h1M102.73 621.83h1M105.73 621.83h1M111.71 621.83h1M113.70 621.83h1.99M117.69 621.83h1M121.68 621.83h1M123.68 621.83h1.99M127.67 621.83h1M129.66 621.83h1.99M133.65 621.83h1M135.64 621.83h1M139.63 621.83h1M146.61 621.83h1.99M149.61 621.83h1M151.60 621.83h2.99M156.59 621.83h2.99M163.57 621.83h1M166.56 621.83h1M168.55 621.83h1M171.55 621.83h1M173.54 621.83h1M177.53 621.83h1M5 624.61h1M7.99 624.61h1M10.98 624.61h2.99M26.94 624.61h1.99M35.92 624.61h1M41.90 624.61h1M47.88 624.61h1M50.88 624.61h1M60.85 624.61h1M66.83 624.61h1M68.83 624.61h1.99M72.82 624.61h1M74.81 624.61h1M80.79 624.61h1M82.79 624.61h1M84.78 624.61h1M87.77 624.61h1M90.77 624.61h1M93.76 624.61h1M97.75 624.61h1M102.73 624.61h1M106.72 624.61h1M121.68 624.61h1M123.68 624.61h1.99M130.66 624.61h1M135.64 624.61h1.99M147.61 624.61h1M152.60 624.61h1.99M156.59 624.61h1M159.58 624.61h1M161.57 624.61h1M164.57 624.61h1M170.55 624.61h1M177.53 624.61h1" stroke="#e3d5ee" stroke-width="2.8" fill="none"/><path d="M52.87 434.40h1M55.86 434.40h1M79.80 434.40h1M81.79 434.40h1M86.78 434.40h1M103.73 434.40h1M108.72 434.40h1M110.71 434.40h1.99M115.70 434.40h1M122.68 434.40h1M131.65 434.40h1M133.65 434.40h1M135.64 434.40h1M138.64 434.40h1.99M160.58 434.40h1M175.54 434.40h1M181.52 434.40h1M6 437.20h1M14.97 437.20h1M28.93 437.20h1M45.89 437.20h1.99M50.88 437.20h1M75.81 437.20h1M78.80 437.20h1M85.78 437.20h1.99M94.76 437.20h1M99.74 437.20h1M109.71 437.20h1.99M113.70 437.20h1M116.70 437.20h1M119.69 437.20h1M127.67 437.20h1M131.65 437.20h1M135.64 437.20h1M137.64 437.20h1.99M141.63 437.20h1M143.62 437.20h1.99M180.52 437.20h1M183.51 437.20h1M39.90 440h1M47.88 440h1M61.85 440h1M65.83 440h1M70.82 440h1M77.80 440h1.99M81.79 440h1M101.74 440h1M108.72 440h2.99M115.70 440h1.99M119.69 440h1M132.65 440h1.99M135.64 440h1M138.64 440h1M143.62 440h1M164.57 440h1M166.56 440h1M180.52 440h1.99M183.51 440h1M35.92 442.80h1M70.82 442.80h1M77.80 442.80h1M99.74 442.80h1M103.73 442.80h1M113.70 442.80h1M116.70 442.80h1M119.69 442.80h1M127.67 442.80h1M131.65 442.80h1.99M138.64 442.80h1.99M142.62 442.80h1M168.55 442.80h1M179.52 442.80h1.99M22.95 445.60h1.99M25.94 445.60h1M60.85 445.60h1M65.83 445.60h1M78.80 445.60h1.99M83.79 445.60h1M91.76 445.60h1M97.75 445.60h1M99.74 445.60h1M101.74 445.60h1M103.73 445.60h1M108.72 445.60h1M110.71 445.60h1M113.70 445.60h1M115.70 445.60h1.99M119.69 445.60h1M129.66 445.60h2.99M133.65 445.60h1M137.64 445.60h2.99M141.63 445.60h1.99M163.57 445.60h1M179.52 445.60h2.99M30.93 448.40h1M34.92 448.40h1M50.88 448.40h1M61.85 448.40h1M77.80 448.40h1.99M80.79 448.40h1M89.77 448.40h1M99.74 448.40h1M103.73 448.40h1M107.72 448.40h3.99M115.70 448.40h1M122.68 448.40h1M127.67 448.40h1M129.66 448.40h1M132.65 448.40h1.99M137.64 448.40h1M141.63 448.40h1.99M162.57 448.40h1M169.55 448.40h1M175.54 448.40h1M179.52 448.40h1M24.95 451.20h1M67.83 451.20h1M70.82 451.20h1M77.80 451.20h2.99M91.76 451.20h1M103.73 451.20h1M109.71 451.20h1.99M115.70 451.20h1.99M119.69 451.20h1M122.68 451.20h1M129.66 451.20h1M132.65 451.20h1M135.64 451.20h1M137.64 451.20h1.99M141.63 451.20h1M143.62 451.20h1.99M175.54 451.20h1M179.52 451.20h1.99M183.51 451.20h1M5 454h1.99M14.97 454h1M19.96 454h1M48.88 454h1M62.84 454h1M68.83 454h1M70.82 454h1M73.81 454h1M75.81 454h1M79.80 454h1M83.79 454h1M86.78 454h1M91.76 454h1M99.74 454h1M101.74 454h1M110.71 454h1M115.70 454h1M122.68 454h1M127.67 454h1M131.65 454h1M133.65 454h1M137.64 454h1.99M141.63 454h3.99M163.57 454h1M168.55 454h1M171.55 454h1M175.54 454h1M179.52 454h1M181.52 454h1M23.95 456.80h1M30.93 456.80h1M37.91 456.80h1M49.88 456.80h1M70.82 456.80h1M75.81 456.80h1M86.78 456.80h1M99.74 456.80h1M103.73 456.80h1M110.71 456.80h1M115.70 456.80h1M131.65 456.80h1M133.65 456.80h1M135.64 456.80h1M139.63 456.80h1M142.62 456.80h1.99M167.56 456.80h1M172.54 456.80h1M179.52 456.80h2.99M183.51 456.80h1M24.95 459.60h1M26.94 459.60h1M37.91 459.60h1M43.89 459.60h1M77.80 459.60h1M79.80 459.60h1M83.79 459.60h1M99.74 459.60h1M109.71 459.60h1M127.67 459.60h1M129.66 459.60h1M131.65 459.60h1M133.65 459.60h1M138.64 459.60h1M142.62 459.60h1M176.53 459.60h1M180.52 459.60h1.99M54.86 462.38h1M128.66 462.38h1M130.66 462.38h1M132.65 462.38h1M139.63 462.38h1M142.62 462.38h1M129.66 465.12h1.99M129.66 467.88h3.99M136.64 467.88h1M141.63 467.88h1M143.62 467.88h1M36.91 470.62h1M126.67 470.62h1M134.65 470.62h1M143.62 470.62h1M36.91 473.38h1M39.90 473.38h1M130.66 473.38h1M134.65 473.38h1M144.62 473.38h1M128.66 476.12h1.99M134.65 476.12h1.99M103.73 478.88h1M129.66 478.88h1.99M132.65 478.88h1M135.64 478.88h1M138.64 478.88h1M15.97 481.62h1M23.95 481.62h1M29.93 481.62h1M36.91 481.62h1M39.90 481.62h1.99M42.90 481.62h1M46.89 481.62h1M53.87 481.62h1.99M56.86 481.62h1M58.85 481.62h1M121.68 481.62h1M126.67 481.62h1M136.64 481.62h1M146.61 481.62h1M154.59 481.62h1M166.56 481.62h1M23.95 484.38h1M39.90 484.38h1M129.66 484.38h1M134.65 484.38h1M136.64 484.38h1M154.59 484.38h1M15.97 487.12h1M23.95 487.12h1M39.90 487.12h1.99M46.89 487.12h1M126.67 487.12h1M136.64 487.12h1M15.97 489.82h1M19.96 489.82h1M22.95 489.82h1.99M25.94 489.82h1M33.92 489.82h1M36.91 489.82h1M39.90 489.82h1.99M52.87 489.82h1.99M56.86 489.82h1M59.85 489.82h1M71.82 489.82h1M87.77 489.82h1M93.76 489.82h1M166.56 489.82h1M22.95 492.48h1M48.88 492.48h1M74.81 492.48h1M84.78 492.48h1M98.74 492.48h1M106.72 492.48h1M8.99 495.12h1M13.98 495.12h1M15.97 495.12h1M22.95 495.12h1.99M29.93 495.12h1M36.91 495.12h1M40.90 495.12h1M46.89 495.12h1M48.88 495.12h1M53.87 495.12h1.99M58.85 495.12h1M71.82 495.12h1M76.80 495.12h1M173.54 495.12h1M15.97 497.77h1M22.95 497.77h1M38.91 497.77h1.99M46.89 497.77h1M54.86 497.77h1M56.86 497.77h1M74.81 497.77h1M95.75 497.77h1M117.69 497.77h1M15.97 500.43h1M22.95 500.43h1.99M36.91 500.43h1.99M39.90 500.43h1M52.87 500.43h1M54.86 500.43h1M71.82 500.43h1M82.79 500.43h1M93.76 500.43h1M129.66 500.43h1M8.99 503.07h1M15.97 503.07h1M17.96 503.07h1M22.95 503.07h1M25.94 503.07h1M36.91 503.07h1M40.90 503.07h1M46.89 503.07h1M53.87 503.07h1M55.86 503.07h1.99M166.56 503.07h1M29.93 505.73h1M36.91 505.73h1.99M54.86 505.73h1M95.75 505.73h1M118.69 505.73h1M8.99 508.38h1M13.98 508.38h1M17.96 508.38h1.99M23.95 508.38h1M29.93 508.38h1M32.92 508.38h1.99M36.91 508.38h1.99M39.90 508.38h1M46.89 508.38h1M52.87 508.38h1M54.86 508.38h1M56.86 508.38h1M58.85 508.38h1M64.84 508.38h1M87.77 508.38h1M96.75 508.38h1M8.99 511.02h1M15.97 511.02h1M17.96 511.02h1M22.95 511.02h1.99M29.93 511.02h1.99M36.91 511.02h1M40.90 511.02h1M46.89 511.02h1M48.88 511.02h1M52.87 511.02h1M54.86 511.02h1M56.86 511.02h1M58.85 511.02h1M63.84 511.02h1M71.82 511.02h1M74.81 511.02h1M76.80 511.02h1M90.77 511.02h1M138.64 511.02h1M8.99 513.67h1M24.95 513.67h1M39.90 513.67h1.99M51.87 513.67h1M54.86 513.67h1M56.86 513.67h1M76.80 513.67h1M166.56 513.67h1M15.97 516.42h1M17.96 516.42h1M19.96 516.42h1M26.94 516.42h1M29.93 516.42h1M36.91 516.42h1.99M39.90 516.42h1.99M52.87 516.42h1M54.86 516.42h1M56.86 516.42h1M70.82 516.42h1M75.81 516.42h1M78.80 516.42h1M109.71 516.42h1M115.70 516.42h1.99M140.63 516.42h1M149.61 516.42h1M162.57 516.42h3.99M168.55 516.42h1M173.54 516.42h1.99M187.50 516.42h1M8.99 519.28h1M15.97 519.28h1M29.93 519.28h2.99M46.89 519.28h1M53.87 519.28h1M55.86 519.28h1M64.84 519.28h1M67.83 519.28h1M70.82 519.28h1M77.80 519.28h1.99M83.79 519.28h1M101.74 519.28h1M108.72 519.28h1M115.70 519.28h1.99M119.69 519.28h1M127.67 519.28h1M138.64 519.28h1M140.63 519.28h1M142.62 519.28h1M162.57 519.28h2.99M166.56 519.28h1M5 522.12h1M6.99 522.12h1.99M9.99 522.12h1M13.98 522.12h2.99M19.96 522.12h1M22.95 522.12h1M30.93 522.12h1M33.92 522.12h1.99M37.91 522.12h1.99M41.90 522.12h1.99M44.89 522.12h1M48.88 522.12h1M51.87 522.12h1.99M55.86 522.12h1.99M59.85 522.12h1.99M63.84 522.12h2.99M67.83 522.12h1M69.82 522.12h1M77.80 522.12h2.99M83.79 522.12h1M86.78 522.12h1M94.76 522.12h1M98.74 522.12h1M103.73 522.12h1M107.72 522.12h1.99M114.70 522.12h2.99M120.68 522.12h1M122.68 522.12h1M124.67 522.12h1.99M131.65 522.12h1M137.64 522.12h2.99M160.58 522.12h1M165.56 522.12h1M170.55 522.12h1M184.51 522.12h1M186.51 522.12h1M10.98 524.97h1M14.97 524.97h1M23.95 524.97h1M25.94 524.97h1.99M28.93 524.97h1.99M33.92 524.97h1.99M40.90 524.97h1.99M46.89 524.97h1M52.87 524.97h1M55.86 524.97h1.99M58.85 524.97h1M62.84 524.97h2.99M66.83 524.97h1.99M70.82 524.97h1M78.80 524.97h1.99M89.77 524.97h1M110.71 524.97h1M116.70 524.97h1M122.68 524.97h1M127.67 524.97h1M131.65 524.97h1M139.63 524.97h1M162.57 524.97h1M168.55 524.97h1M172.54 524.97h1M186.51 524.97h1.99M15.97 527.83h1M23.95 527.83h1M29.93 527.83h1M36.91 527.83h1M39.90 527.83h1M42.90 527.83h1M52.87 527.83h1M75.81 527.83h1M77.80 527.83h1M99.74 527.83h1M164.57 527.83h2.99M168.55 527.83h1M172.54 527.83h1.99M8.99 530.67h1M15.97 530.67h1M17.96 530.67h1M23.95 530.67h1M25.94 530.67h1M37.91 530.67h1M39.90 530.67h1.99M53.87 530.67h1M55.86 530.67h1M58.85 530.67h1M64.84 530.67h1M70.82 530.67h1M75.81 530.67h1M78.80 530.67h1.99M86.78 530.67h1M91.76 530.67h1M109.71 530.67h1M113.70 530.67h1M116.70 530.67h1M119.69 530.67h1M122.68 530.67h1M142.62 530.67h1M162.57 530.67h1M166.56 530.67h1M173.54 530.67h1M186.51 530.67h1M39.90 533.53h1M46.89 533.53h1M53.87 533.53h1.99M67.83 533.53h1M75.81 533.53h1M78.80 533.53h1M109.71 533.53h1M178.53 533.53h1M23.95 536.38h1M39.90 536.38h1.99M54.86 536.38h1.99M67.83 536.38h1M70.82 536.38h1M77.80 536.38h1.99M86.78 536.38h1M91.76 536.38h1M99.74 536.38h1M109.71 536.38h1M162.57 536.38h1M164.57 536.38h1.99M172.54 536.38h1M174.54 536.38h1M186.51 536.38h1M8.99 539.22h1M17.96 539.22h1M25.94 539.22h1M36.91 539.22h1M46.89 539.22h1M48.88 539.22h1M58.85 539.22h1M63.84 539.22h1M77.80 539.22h1M79.80 539.22h1M83.79 539.22h1M109.71 539.22h1M120.68 539.22h1M122.68 539.22h1M137.64 539.22h1M163.57 539.22h1.99M174.54 539.22h1M178.53 539.22h1M182.52 539.22h1M5 542.08h1M8.99 542.08h1M15.97 542.08h1M24.95 542.08h1.99M29.93 542.08h2.99M40.90 542.08h1.99M53.87 542.08h1M58.85 542.08h1M61.85 542.08h1M64.84 542.08h1M67.83 542.08h1M73.81 542.08h1M77.80 542.08h1M79.80 542.08h1M86.78 542.08h1M99.74 542.08h1M108.72 542.08h1M122.68 542.08h1M163.57 542.08h1M165.56 542.08h1.99M173.54 542.08h1M182.52 542.08h1M185.51 542.08h1M43.89 544.88h1M73.81 544.88h1M79.80 544.88h1M83.79 544.88h1M85.78 544.88h1M92.76 544.88h1M97.75 544.88h1M99.74 544.88h2.99M104.73 544.88h1M107.72 544.88h1.99M113.70 544.88h1.99M122.68 544.88h1M131.65 544.88h1M137.64 544.88h1.99M141.63 544.88h1.99M145.62 544.88h1.99M148.61 544.88h1M150.60 544.88h1.99M155.59 544.88h1M176.53 544.88h1M179.52 544.88h2.99M183.51 544.88h1M186.51 544.88h1M35.92 547.62h1M45.89 547.62h1M47.88 547.62h1M74.81 547.62h1M80.79 547.62h1M82.79 547.62h1M84.78 547.62h1M87.77 547.62h2.99M97.75 547.62h1.99M100.74 547.62h1M102.73 547.62h1M108.72 547.62h1M112.71 547.62h1M114.70 547.62h1M117.69 547.62h1M120.68 547.62h1.99M123.68 547.62h1M125.67 547.62h1M128.66 547.62h1M131.65 547.62h1M133.65 547.62h2.99M138.64 547.62h1.99M143.62 547.62h1.99M149.61 547.62h1M151.60 547.62h1M155.59 547.62h1M158.58 547.62h1M175.54 547.62h1M177.53 547.62h1.99M180.52 547.62h1M184.51 547.62h1M186.51 547.62h1.99M6.99 550.38h1M11.98 550.38h1M21.95 550.38h1M31.93 550.38h1M43.89 550.38h1.99M49.88 550.38h1M65.83 550.38h1M68.83 550.38h1M79.80 550.38h1.99M83.79 550.38h1M86.78 550.38h1M88.77 550.38h1M92.76 550.38h1M94.76 550.38h1M97.75 550.38h1M102.73 550.38h1M107.72 550.38h2.99M111.71 550.38h1M113.70 550.38h1M119.69 550.38h1M122.68 550.38h1M124.67 550.38h1M127.67 550.38h1M131.65 550.38h1M133.65 550.38h1M135.64 550.38h1M137.64 550.38h1.99M141.63 550.38h3.99M150.60 550.38h1.99M157.58 550.38h1M179.52 550.38h1M183.51 550.38h1M5 553.12h1M45.89 553.12h1M74.81 553.12h1M79.80 553.12h1.99M85.78 553.12h1M88.77 553.12h1M94.76 553.12h1M96.75 553.12h2.99M100.74 553.12h1M102.73 553.12h1M104.73 553.12h1M112.71 553.12h2.99M117.69 553.12h1.99M123.68 553.12h2.99M129.66 553.12h1.99M133.65 553.12h1M135.64 553.12h4.99M144.62 553.12h1M147.61 553.12h1M155.59 553.12h1M157.58 553.12h1M177.53 553.12h1M181.52 553.12h1.99M184.51 553.12h1M186.51 553.12h1M5 555.88h1M6.99 555.88h1M9.99 555.88h1M19.96 555.88h1M21.95 555.88h1M25.94 555.88h1M28.93 555.88h1M31.93 555.88h1.99M35.92 555.88h1M37.91 555.88h1M41.90 555.88h1M49.88 555.88h1M51.87 555.88h1M55.86 555.88h1M59.85 555.88h1.99M65.83 555.88h1.99M70.82 555.88h1M73.81 555.88h1M81.79 555.88h1M85.78 555.88h1M89.77 555.88h1M91.76 555.88h1M99.74 555.88h1M101.74 555.88h1M103.73 555.88h1M107.72 555.88h1M110.71 555.88h1.99M115.70 555.88h1M122.68 555.88h1M127.67 555.88h1M131.65 555.88h1M135.64 555.88h1M137.64 555.88h1.99M142.62 555.88h1M144.62 555.88h1M146.61 555.88h1M148.61 555.88h3.99M155.59 555.88h1M166.56 555.88h1M180.52 555.88h1M5 558.62h1M7.99 558.62h1M14.97 558.62h1M19.96 558.62h1M21.95 558.62h1M27.94 558.62h1.99M31.93 558.62h1.99M38.91 558.62h1M43.89 558.62h1.99M46.89 558.62h1M51.87 558.62h1.99M57.86 558.62h1M60.85 558.62h1.99M63.84 558.62h1.99M66.83 558.62h1M69.82 558.62h1M78.80 558.62h1M83.79 558.62h1M86.78 558.62h1M89.77 558.62h1M91.76 558.62h1.99M108.72 558.62h1M110.71 558.62h1M113.70 558.62h1M119.69 558.62h1M122.68 558.62h1M131.65 558.62h1M137.64 558.62h1.99M141.63 558.62h1M143.62 558.62h1M145.62 558.62h1.99M148.61 558.62h3.99M154.59 558.62h1M176.53 558.62h1M179.52 558.62h2.99M183.51 558.62h1M6 561.38h1.99M26.94 561.38h1M32.92 561.38h1M43.89 561.38h1M49.88 561.38h1M57.86 561.38h1M72.82 561.38h1.99M80.79 561.38h1M88.77 561.38h1.99M94.76 561.38h1M99.74 561.38h1.99M103.73 561.38h1M105.73 561.38h2.99M111.71 561.38h2.99M120.68 561.38h1M123.68 561.38h2.99M130.66 561.38h1M132.65 561.38h1M139.63 561.38h1M143.62 561.38h1.99M147.61 561.38h1M151.60 561.38h1M155.59 561.38h1M158.58 561.38h1M175.54 561.38h1M179.52 561.38h1M181.52 561.38h1M184.51 561.38h1M5 564.12h1M6.99 564.12h1M11.98 564.12h1M16.97 564.12h1M28.93 564.12h1M35.92 564.12h1M45.89 564.12h1M49.88 564.12h1M59.85 564.12h1.99M62.84 564.12h1M65.83 564.12h1M70.82 564.12h1M73.81 564.12h1M78.80 564.12h1M81.79 564.12h1M83.79 564.12h1M89.77 564.12h1M91.76 564.12h1.99M94.76 564.12h1M101.74 564.12h1M110.71 564.12h1M112.71 564.12h1M116.70 564.12h1M121.68 564.12h1.99M129.66 564.12h1M131.65 564.12h1M135.64 564.12h1M137.64 564.12h1.99M143.62 564.12h1M145.62 564.12h1.99M148.61 564.12h1.99M151.60 564.12h1M154.59 564.12h1M158.58 564.12h1M180.52 564.12h1.99M183.51 564.12h1M186.51 564.12h1.99M6 566.88h1M20.96 566.88h1.99M45.89 566.88h1M47.88 566.88h1M72.82 566.88h1.99M80.79 566.88h1M83.79 566.88h2.99M87.77 566.88h1.99M93.76 566.88h1M95.75 566.88h1M97.75 566.88h1.99M100.74 566.88h1M104.73 566.88h1M117.69 566.88h1.99M120.68 566.88h1M124.67 566.88h1M129.66 566.88h1M131.65 566.88h1M133.65 566.88h1M135.64 566.88h1.99M147.61 566.88h1M153.60 566.88h1M157.58 566.88h1.99M178.53 566.88h1M181.52 566.88h1M185.51 566.88h2.99M5 569.62h3.99M9.99 569.62h1M12.98 569.62h1M35.92 569.62h1M38.91 569.62h1M44.89 569.62h1M47.88 569.62h1M49.88 569.62h1M65.83 569.62h1M73.81 569.62h1M77.80 569.62h2.99M81.79 569.62h1M83.79 569.62h1M86.78 569.62h1M99.74 569.62h1M102.73 569.62h1M107.72 569.62h1.99M111.71 569.62h1M113.70 569.62h1M117.69 569.62h1M119.69 569.62h1M122.68 569.62h1M131.65 569.62h2.99M135.64 569.62h1M139.63 569.62h1M141.63 569.62h2.99M145.62 569.62h1.99M150.60 569.62h1.99M157.58 569.62h1M175.54 569.62h1M179.52 569.62h1.99M186.51 569.62h1M5 572.36h1M13.98 572.36h4.99M22.95 572.36h1M25.94 572.36h1M27.94 572.36h1M29.93 572.36h1M32.92 572.36h2.99M37.91 572.36h1.99M41.90 572.36h1M48.88 572.36h1.99M51.87 572.36h2.99M55.86 572.36h3.99M60.85 572.36h4.99M67.83 572.36h1M126.67 572.36h1M139.63 572.36h1M147.61 572.36h1M162.57 572.36h1M165.56 572.36h1.99M168.55 572.36h1M173.54 572.36h1M186.51 572.36h1M5 575.09h1M9.99 575.09h1.99M13.98 575.09h1.99M16.97 575.09h1M19.96 575.09h1M26.94 575.09h1.99M31.93 575.09h1.99M35.92 575.09h1M37.91 575.09h1M43.89 575.09h1.99M49.88 575.09h2.99M59.85 575.09h1.99M62.84 575.09h1M65.83 575.09h1M79.80 575.09h1M88.77 575.09h1M90.77 575.09h1M103.73 575.09h1M115.70 575.09h1M126.67 575.09h1M131.65 575.09h1M144.62 575.09h1M164.57 575.09h1.99M169.55 575.09h1M173.54 575.09h1M184.51 575.09h1M186.51 575.09h1.99M9.99 577.82h1M12.98 577.82h1M14.97 577.82h1M16.97 577.82h1M19.96 577.82h1M22.95 577.82h1M24.95 577.82h6.98M32.92 577.82h1.99M37.91 577.82h1M42.90 577.82h1M51.87 577.82h1.99M57.86 577.82h1M63.84 577.82h2.99M67.83 577.82h1M69.82 577.82h1M79.80 577.82h1M90.77 577.82h1M159.58 577.82h1M162.57 577.82h1.99M165.56 577.82h1.99M172.54 577.82h1.99M180.52 577.82h1M187.50 577.82h1M16.97 580.55h1M19.96 580.55h1M24.95 580.55h1M26.94 580.55h1.99M31.93 580.55h1M34.92 580.55h1.99M37.91 580.55h1M41.90 580.55h1M44.89 580.55h1M48.88 580.55h1M55.86 580.55h1M58.85 580.55h2.99M62.84 580.55h1M64.84 580.55h1.99M79.80 580.55h1M88.77 580.55h1M115.70 580.55h1M126.67 580.55h1M131.65 580.55h1M147.61 580.55h1M152.60 580.55h1M159.58 580.55h1M162.57 580.55h1M165.56 580.55h1M169.55 580.55h1M172.54 580.55h1M185.51 580.55h1M5 583.27h1M8.99 583.27h1.99M13.98 583.27h1M18.96 583.27h1M22.95 583.27h1M26.94 583.27h5.98M34.92 583.27h1M40.90 583.27h1M42.90 583.27h1M46.89 583.27h1M49.88 583.27h1M55.86 583.27h1M57.86 583.27h1M59.85 583.27h1M63.84 583.27h3.99M69.82 583.27h1M79.80 583.27h1M88.77 583.27h1M156.59 583.27h1M158.58 583.27h1M162.57 583.27h1M165.56 583.27h1.99M168.55 583.27h1M173.54 583.27h1M5 586h1M6.99 586h1.99M9.99 586h1M12.98 586h2.99M18.96 586h1.99M26.94 586h1M30.93 586h1M32.92 586h2.99M37.91 586h1M43.89 586h1.99M49.88 586h2.99M57.86 586h1M60.85 586h1M62.84 586h1M65.83 586h1.99M88.77 586h1M115.70 586h1M126.67 586h1M131.65 586h1M138.64 586h1.99M159.58 586h1M162.57 586h1.99M165.56 586h1M168.55 586h1M171.55 586h1.99M185.51 586h2.99M5 588.73h1M9.99 588.73h2.99M13.98 588.73h1.99M16.97 588.73h1M18.96 588.73h1M25.94 588.73h3.99M31.93 588.73h4.99M59.85 588.73h1M61.85 588.73h1.99M67.83 588.73h1M69.82 588.73h1M79.80 588.73h1M90.77 588.73h1M159.58 588.73h1M163.57 588.73h1M165.56 588.73h1M168.55 588.73h1.99M185.51 588.73h1.99M5 591.45h1M6.99 591.45h1.99M13.98 591.45h1.99M16.97 591.45h1M18.96 591.45h2.99M24.95 591.45h1M26.94 591.45h1.99M32.92 591.45h1M35.92 591.45h1M38.91 591.45h1M41.90 591.45h1M43.89 591.45h2.99M50.88 591.45h1.99M55.86 591.45h1M60.85 591.45h1.99M65.83 591.45h1.99M69.82 591.45h1M79.80 591.45h1M88.77 591.45h1M90.77 591.45h1M115.70 591.45h1M126.67 591.45h1M138.64 591.45h1.99M144.62 591.45h1M163.57 591.45h1.99M166.56 591.45h1M168.55 591.45h1M171.55 591.45h2.99M185.51 591.45h2.99M15.97 594.18h1M17.96 594.18h1M19.96 594.18h1M22.95 594.18h3.99M30.93 594.18h1M33.92 594.18h1M41.90 594.18h2.99M46.89 594.18h1M48.88 594.18h1M51.87 594.18h2.99M56.86 594.18h1M62.84 594.18h2.99M66.83 594.18h1.99M69.82 594.18h1M147.61 594.18h1M153.60 594.18h1M156.59 594.18h1M159.58 594.18h1M166.56 594.18h1M171.55 594.18h1M5 596.91h1M7.99 596.91h1M9.99 596.91h1.99M13.98 596.91h1M16.97 596.91h1M20.96 596.91h1M26.94 596.91h1M28.93 596.91h1M30.93 596.91h1.99M41.90 596.91h1M43.89 596.91h1.99M50.88 596.91h1M55.86 596.91h1M57.86 596.91h1M61.85 596.91h1M65.83 596.91h1M69.82 596.91h1M77.80 596.91h1M102.73 596.91h1M126.67 596.91h1M131.65 596.91h1M139.63 596.91h1M144.62 596.91h1M153.60 596.91h1M165.56 596.91h1M169.55 596.91h1M171.55 596.91h2.99M184.51 596.91h1M186.51 596.91h1M9.99 599.64h1M12.98 599.64h1M14.97 599.64h1M17.96 599.64h2.99M24.95 599.64h1M27.94 599.64h1M29.93 599.64h3.99M34.92 599.64h1M37.91 599.64h1.99M49.88 599.64h1.99M55.86 599.64h1M59.85 599.64h4.99M66.83 599.64h1.99M88.77 599.64h1M90.77 599.64h1M115.70 599.64h1M166.56 599.64h1M184.51 599.64h1M186.51 599.64h1.99M15.97 602.39h1M17.96 602.39h1M22.95 602.39h3.99M46.89 602.39h1M54.86 602.39h2.99M70.82 602.39h1M78.80 602.39h1M81.79 602.39h1M86.78 602.39h1M92.76 602.39h1M104.73 602.39h1M108.72 602.39h1M119.69 602.39h1M131.65 602.39h1M145.62 602.39h1M148.61 602.39h1.99M151.60 602.39h1M154.59 602.39h1M162.57 602.39h1M165.56 602.39h1M176.53 602.39h1M8.99 605.17h1M15.97 605.17h1M17.96 605.17h1M19.96 605.17h1M22.95 605.17h1M25.94 605.17h1.99M34.92 605.17h1M37.91 605.17h1.99M42.90 605.17h1M48.88 605.17h1M51.87 605.17h1M55.86 605.17h1M59.85 605.17h1.99M64.84 605.17h1M70.82 605.17h1M73.81 605.17h1M79.80 605.17h1M83.79 605.17h1M86.78 605.17h1M91.76 605.17h1M94.76 605.17h1M99.74 605.17h4.99M107.72 605.17h1M109.71 605.17h1M111.71 605.17h1M113.70 605.17h1.99M119.69 605.17h1.99M138.64 605.17h1M142.62 605.17h1M145.62 605.17h1.99M151.60 605.17h1M155.59 605.17h1M165.56 605.17h1.99M169.55 605.17h1M172.54 605.17h1M179.52 605.17h2.99M14.97 607.94h3.99M31.93 607.94h1M36.91 607.94h1M42.90 607.94h1M48.88 607.94h1M51.87 607.94h5.98M58.85 607.94h1M61.85 607.94h1M63.84 607.94h1.99M67.83 607.94h1M73.81 607.94h1M78.80 607.94h3.99M83.79 607.94h1M92.76 607.94h1M97.75 607.94h1M99.74 607.94h1M108.72 607.94h2.99M113.70 607.94h1M116.70 607.94h1M122.68 607.94h1M127.67 607.94h1M129.66 607.94h2.99M133.65 607.94h1M137.64 607.94h2.99M142.62 607.94h1M145.62 607.94h1M151.60 607.94h1M155.59 607.94h1M157.58 607.94h1M162.57 607.94h1.99M165.56 607.94h1.99M171.55 607.94h1M181.52 607.94h1M183.51 607.94h1M13.98 610.72h1M19.96 610.72h1M23.95 610.72h2.99M31.93 610.72h1M36.91 610.72h1M39.90 610.72h1.99M46.89 610.72h1M55.86 610.72h1M58.85 610.72h1M67.83 610.72h1M77.80 610.72h1M83.79 610.72h1M85.78 610.72h1M99.74 610.72h1M101.74 610.72h1M103.73 610.72h1M107.72 610.72h1M109.71 610.72h1.99M112.71 610.72h1M115.70 610.72h1.99M122.68 610.72h1M124.67 610.72h1M127.67 610.72h1M131.65 610.72h1M141.63 610.72h1M143.62 610.72h1M151.60 610.72h1M155.59 610.72h1M162.57 610.72h1M166.56 610.72h1M176.53 610.72h1M180.52 610.72h1.99M183.51 610.72h1M5 613.50h1M9.99 613.50h1.99M12.98 613.50h1.99M19.96 613.50h1M24.95 613.50h1M26.94 613.50h1M28.93 613.50h1M34.92 613.50h1.99M37.91 613.50h1M41.90 613.50h1M43.89 613.50h1M52.87 613.50h1M57.86 613.50h1M59.85 613.50h1.99M62.84 613.50h1.99M66.83 613.50h1M69.82 613.50h1M74.81 613.50h1M80.79 613.50h1.99M83.79 613.50h1M87.77 613.50h1M89.77 613.50h1M94.76 613.50h1M100.74 613.50h1M107.72 613.50h1.99M112.71 613.50h2.99M117.69 613.50h1.99M120.68 613.50h1M123.68 613.50h1M125.67 613.50h1M127.67 613.50h1M129.66 613.50h1.99M132.65 613.50h1M135.64 613.50h1M137.64 613.50h1.99M142.62 613.50h2.99M151.60 613.50h1M153.60 613.50h1M158.58 613.50h1M163.57 613.50h1M168.55 613.50h1.99M171.55 613.50h1M173.54 613.50h1M175.54 613.50h1M8.99 616.28h1M19.96 616.28h1M25.94 616.28h1M37.91 616.28h1M39.90 616.28h1M53.87 616.28h1.99M62.84 616.28h1M75.81 616.28h1M79.80 616.28h1M110.71 616.28h1M122.68 616.28h1M146.61 616.28h1M149.61 616.28h1M165.56 616.28h1.99M183.51 616.28h1M8.99 619.06h1M13.98 619.06h1M15.97 619.06h1M17.96 619.06h1M22.95 619.06h1M36.91 619.06h1M39.90 619.06h1M41.90 619.06h1M46.89 619.06h1M51.87 619.06h1M53.87 619.06h1M62.84 619.06h1M67.83 619.06h1M73.81 619.06h1M77.80 619.06h1M81.79 619.06h1M83.79 619.06h1M86.78 619.06h1M91.76 619.06h1M97.75 619.06h1M102.73 619.06h1M107.72 619.06h1.99M111.71 619.06h1M116.70 619.06h1M119.69 619.06h1M131.65 619.06h1.99M135.64 619.06h1M139.63 619.06h1M145.62 619.06h1.99M148.61 619.06h1M151.60 619.06h1M155.59 619.06h1M165.56 619.06h1.99M176.53 619.06h1M181.52 619.06h1M183.51 619.06h1M67.83 621.83h1M75.81 621.83h1M78.80 621.83h1M101.74 621.83h1M108.72 621.83h2.99M119.69 621.83h1M140.63 621.83h1M142.62 621.83h1M145.62 621.83h1M154.59 621.83h1M183.51 621.83h1M14.97 624.61h1M17.96 624.61h1.99M23.95 624.61h1M32.92 624.61h1.99M40.90 624.61h1M46.89 624.61h1M53.87 624.61h1M56.86 624.61h1M58.85 624.61h1M67.83 624.61h1M70.82 624.61h1M77.80 624.61h1M79.80 624.61h1M86.78 624.61h1M91.76 624.61h1M99.74 624.61h1M103.73 624.61h1M107.72 624.61h3.99M119.69 624.61h1M122.68 624.61h1M137.64 624.61h1.99M141.63 624.61h1.99M144.62 624.61h1M146.61 624.61h1M149.61 624.61h1M163.57 624.61h1M165.56 624.61h1M168.55 624.61h1M172.54 624.61h1.99M180.52 624.61h1.99M183.51 624.61h1" stroke="#f8f0f8" stroke-width="2.8" fill="none"/><path d="M147.61 434.40h1M147.61 440h1M152.60 440h1.99M159.58 440h1M153.60 442.80h1M159.58 442.80h1M152.60 445.60h1M159.58 445.60h1M153.60 448.40h1M156.59 448.40h1M11.98 451.20h1M147.61 451.20h1M152.60 451.20h1.99M159.58 451.20h1M147.61 454h1M147.61 456.80h1M153.60 456.80h1M156.59 456.80h1M158.58 456.80h1.99M6.99 459.60h1M147.61 459.60h1M152.60 459.60h1.99M156.59 459.60h1M152.60 462.38h1M180.52 462.38h1.99M183.51 462.38h1M68.83 465.12h1M177.53 465.12h1M181.52 465.12h1.99M67.83 467.88h1.99M147.61 467.88h1M179.52 467.88h3.99M67.83 470.62h1.99M159.58 470.62h1M181.52 470.62h1M67.83 473.38h1M174.54 473.38h1.99M177.53 473.38h1M180.52 473.38h1.99M179.52 476.12h1M181.52 476.12h1M66.83 478.88h1M68.83 478.88h1M181.52 478.88h1M66.83 481.62h1M177.53 481.62h1M182.52 481.62h1M66.83 484.38h1M68.83 484.38h1M174.54 484.38h1.99M177.53 484.38h1M180.52 484.38h1M182.52 484.38h1M65.83 487.12h1M68.83 487.12h1M174.54 487.12h1M177.53 487.12h1.99M182.52 487.12h1M65.83 489.82h1.99M175.54 489.82h1M178.53 489.82h1M182.52 489.82h1M159.58 492.48h1M175.54 492.48h1M179.52 492.48h1M181.52 492.48h1M65.83 495.12h1.99M68.83 495.12h1M175.54 495.12h1M177.53 495.12h1M66.83 497.77h1M68.83 497.77h1M175.54 497.77h1M68.83 500.43h1M177.53 500.43h1M179.52 500.43h1M182.52 500.43h1M65.83 503.07h1M174.54 503.07h1.99M182.52 503.07h1M66.83 505.73h2.99M177.53 505.73h1M179.52 505.73h1M181.52 505.73h1M65.83 508.38h1M174.54 508.38h1.99M179.52 508.38h1M182.52 508.38h1M65.83 511.02h1M67.83 511.02h1M177.53 511.02h1M66.83 513.67h1M68.83 513.67h1M175.54 513.67h1M182.52 513.67h1M76.80 533.53h1M89.77 572.36h1M95.75 572.36h1M105.73 572.36h1.99M118.69 572.36h1M133.65 572.36h1M89.77 575.09h1M106.72 575.09h1M125.67 575.09h1M89.77 577.82h1M98.74 577.82h1M106.72 577.82h1M125.67 577.82h1M106.72 580.55h1M114.70 580.55h1M119.69 580.55h1M89.77 583.27h1M95.75 583.27h1M98.74 583.27h1M105.73 583.27h1M110.71 583.27h1M114.70 583.27h1M118.69 583.27h1M125.67 583.27h1M118.69 586h1M105.73 588.73h1M105.73 591.45h1.99M74.81 594.18h1M89.77 594.18h1M98.74 594.18h1M105.73 594.18h1.99M110.71 594.18h1M122.68 594.18h1M93.76 596.91h1M70.82 599.64h1M98.74 599.64h1M105.73 599.64h1.99M118.69 599.64h1M125.67 599.64h1" stroke="#baa0da" stroke-width="2.8" fill="none"/><path d="M152.60 434.40h1.99M156.59 434.40h1M158.58 434.40h1.99M147.61 437.20h1M152.60 437.20h1M156.59 437.20h1M159.58 437.20h1M156.59 440h1M158.58 440h1M147.61 442.80h1M152.60 442.80h1M156.59 442.80h1M147.61 445.60h1M153.60 445.60h1M156.59 445.60h1M76.80 448.40h1M147.61 448.40h1M152.60 448.40h1M158.58 448.40h1.99M19.96 451.20h1M76.80 451.20h1M156.59 451.20h1M71.82 454h1M152.60 454h1M156.59 454h1M159.58 454h1M71.82 456.80h1M76.80 456.80h1M148.61 456.80h1.99M152.60 456.80h1M155.59 456.80h1M64.84 459.60h1M151.60 459.60h1M157.58 459.60h1.99M12.98 462.38h1M45.89 462.38h1M68.83 462.38h1M147.61 462.38h1M156.59 462.38h1M159.58 462.38h1M167.56 462.38h1M65.83 465.12h1.99M147.61 465.12h1M167.56 465.12h1M176.53 465.12h1M180.52 465.12h1M183.51 465.12h1M6 467.88h1M20.96 467.88h1M35.92 467.88h1M57.86 467.88h1M65.83 467.88h1M69.82 467.88h1M152.60 467.88h1M159.58 467.88h2.99M167.56 467.88h1M176.53 467.88h1M183.51 467.88h1M20.96 470.62h1M65.83 470.62h1M152.60 470.62h1.99M160.58 470.62h1M167.56 470.62h1M179.52 470.62h1.99M183.51 470.62h1M20.96 473.38h1M45.89 473.38h1M65.83 473.38h1M147.61 473.38h1M152.60 473.38h1M156.59 473.38h1M179.52 473.38h1M183.51 473.38h1M20.96 476.12h1M66.83 476.12h1M152.60 476.12h1M159.58 476.12h1M167.56 476.12h1M176.53 476.12h1M180.52 476.12h1M21.95 478.88h1M45.89 478.88h1M147.61 478.88h1M153.60 478.88h1M156.59 478.88h1M167.56 478.88h1M170.55 478.88h1M176.53 478.88h1M180.52 478.88h1M185.51 478.88h1M68.83 481.62h1M175.54 481.62h1M180.52 481.62h1M45.89 484.38h1M65.83 484.38h1M179.52 484.38h1M181.52 484.38h1M179.52 487.12h1.99M183.51 487.12h1M67.83 489.82h1M159.58 489.82h1M167.56 489.82h1M177.53 489.82h1M179.52 489.82h1M67.83 492.48h1M147.61 492.48h1M153.60 492.48h1M161.57 492.48h1M180.52 492.48h1M183.51 492.48h1M180.52 495.12h1M65.83 497.77h1M156.59 497.77h1M177.53 497.77h1M179.52 497.77h2.99M183.51 497.77h1M66.83 500.43h1.99M153.60 500.43h1M156.59 500.43h1M174.54 500.43h1.99M180.52 500.43h1.99M66.83 503.07h1M159.58 503.07h1M179.52 503.07h1.99M183.51 503.07h1M147.61 505.73h1M156.59 505.73h1M160.58 505.73h1M180.52 505.73h1M183.51 505.73h1M68.83 508.38h1M180.52 508.38h1M175.54 511.02h1M179.52 511.02h1M181.52 511.02h1M156.59 513.67h1M159.58 513.67h1M179.52 513.67h1M181.52 513.67h1M183.51 513.67h1M71.82 516.42h1M76.80 519.28h1M20.96 527.83h1M71.82 527.83h1M106.72 527.83h1M71.82 530.67h1M71.82 533.53h1M126.67 533.53h1M71.82 536.38h1M76.80 536.38h1M126.67 536.38h1M76.80 539.22h1M70.82 572.36h1M72.82 572.36h1M74.81 572.36h1.99M84.78 572.36h1M97.75 572.36h1.99M113.70 572.36h1.99M117.69 572.36h1M119.69 572.36h1M125.67 572.36h1M72.82 575.09h1M74.81 575.09h1M84.78 575.09h1M98.74 575.09h1M105.73 575.09h1M110.71 575.09h1M118.69 575.09h1M70.82 577.82h1M74.81 577.82h1M78.80 577.82h1M84.78 577.82h1M91.76 577.82h1M97.75 577.82h1M117.69 577.82h2.99M124.67 577.82h1M74.81 580.55h1M84.78 580.55h1M97.75 580.55h1.99M110.71 580.55h1M117.69 580.55h1.99M125.67 580.55h1M133.65 580.55h1M70.82 583.27h1M72.82 583.27h1M74.81 583.27h1M84.78 583.27h1M94.76 583.27h1M106.72 583.27h1M112.71 583.27h1.99M117.69 583.27h1M119.69 583.27h1M123.68 583.27h1M70.82 586h1M74.81 586h1M89.77 586h1M98.74 586h1M105.73 586h1.99M125.67 586h1M133.65 586h1M72.82 588.73h1M89.77 588.73h1M98.74 588.73h1M106.72 588.73h1M118.69 588.73h1M125.67 588.73h1M70.82 591.45h1M72.82 591.45h1M74.81 591.45h1M89.77 591.45h1M98.74 591.45h1M118.69 591.45h1M122.68 591.45h1M125.67 591.45h1M70.82 594.18h1M72.82 594.18h1.99M75.81 594.18h1M80.79 594.18h1M84.78 594.18h1M86.78 594.18h1M91.76 594.18h1M95.75 594.18h1M113.70 594.18h1M117.69 594.18h1M119.69 594.18h1M123.68 594.18h2.99M133.65 594.18h1M89.77 596.91h1M105.73 596.91h1.99M114.70 596.91h1M118.69 596.91h1M125.67 596.91h1M72.82 599.64h1M74.81 599.64h1M84.78 599.64h1M91.76 599.64h1M110.71 599.64h1M113.70 599.64h1.99M117.69 599.64h1" stroke="#c4addf" stroke-width="2.8" fill="none"/><path d="M163.57 434.40h1M9.99 437.20h1M165.56 437.20h1M67.83 440h1M51.87 442.80h1M27.94 445.60h1M20.96 448.40h1M5 451.20h1M8.99 451.20h1M30.93 451.20h1M18.96 454h1M24.95 454h1M162.57 459.60h1M173.54 459.60h1M89.77 462.38h1M94.76 462.38h1M80.79 467.88h1M82.79 467.88h1M128.66 467.88h1M101.74 470.62h1M116.70 470.62h1M81.79 473.38h1M128.66 473.38h1M133.65 473.38h1M141.63 473.38h1M94.76 476.12h1M72.82 478.88h1M96.75 478.88h1M109.71 478.88h1M105.73 481.62h1M107.72 484.38h1M135.64 484.38h1M111.71 487.12h1M122.68 487.12h1M72.82 492.48h1M76.80 492.48h1M119.69 492.48h1M107.72 495.12h1M124.67 495.12h1M136.64 495.12h1M79.80 497.77h1M81.79 497.77h1M136.64 500.43h1M98.74 503.07h1M78.80 505.73h1M119.69 505.73h1M104.73 508.38h1M108.72 508.38h1M132.65 508.38h1M135.64 508.38h1M104.73 511.02h1M130.66 511.02h1M140.63 511.02h1M95.75 513.67h1M147.61 519.28h1M175.54 519.28h1M8.99 522.12h1M159.58 522.12h1M178.53 524.97h1M136.64 527.83h1M149.61 527.83h1M156.59 527.83h1M147.61 530.67h1M149.61 536.38h1M23.95 544.88h1M60.85 544.88h1M62.84 547.62h1M107.72 547.62h1M147.61 550.38h1M24.95 553.12h1M55.86 558.62h1M169.55 558.62h1M167.56 561.38h1M155.59 566.88h1M171.55 566.88h1M55.86 569.62h1M127.67 575.09h1M140.63 577.82h1M160.58 580.55h1M132.65 583.27h1M174.54 586h1M128.66 588.73h1M176.53 588.73h1M182.52 594.18h1M181.52 599.64h1M186.51 621.83h1" stroke="#d82a2e" stroke-width="2.8" fill="none"/><path d="M35.92 437.20h1M52.87 437.20h1M15.97 440h1M61.85 442.80h1M65.83 442.80h1M167.56 445.60h1M161.57 451.20h1M61.85 459.60h1M121.68 462.38h1M49.88 465.12h1M102.73 467.88h1M93.76 470.62h1M103.73 470.62h1M105.73 470.62h1M117.69 470.62h1M125.67 470.62h1M88.77 473.38h1M123.68 473.38h1M48.88 476.12h1M105.73 476.12h1M113.70 476.12h1M49.88 478.88h1M74.81 481.62h1M99.74 481.62h1M103.73 484.38h1M48.88 487.12h1M98.74 487.12h1M144.62 495.12h1M83.79 497.77h1M134.65 497.77h1M112.71 500.43h1M139.63 500.43h1M144.62 500.43h1M76.80 503.07h1M129.66 508.38h1M143.62 508.38h1M128.66 511.02h1M137.64 511.02h1M141.63 511.02h1M70.82 513.67h1M122.68 513.67h1M146.61 519.28h1M179.52 524.97h1M151.60 536.38h1M154.59 536.38h1M146.61 539.22h1M148.61 542.08h1M151.60 542.08h1M155.59 542.08h1M157.58 542.08h1M58.85 544.88h1M162.57 544.88h1M167.56 544.88h1M165.56 547.62h1M170.55 547.62h1M163.57 555.88h1M161.57 558.62h1M162.57 564.12h1M160.58 569.62h1M174.54 580.55h1M135.64 583.27h1M13.98 602.39h1M34.92 602.39h1.99M39.90 602.39h1M45.89 602.39h1M62.84 602.39h1M80.79 602.39h1M85.78 602.39h1M116.70 602.39h1M136.64 602.39h1M139.63 602.39h1M143.62 602.39h1M146.61 602.39h1M162.57 605.17h1M170.55 605.17h1M6.99 607.94h1M18.96 607.94h1M31.93 616.28h1M34.92 616.28h1M48.88 616.28h1M66.83 616.28h1M136.64 616.28h1M140.63 616.28h1M145.62 616.28h1M179.52 619.06h1M14.97 621.83h1M18.96 621.83h1M43.89 621.83h1M55.86 621.83h1" stroke="#f28e8c" stroke-width="2.8" fill="none"/><path d="M132.65 437.20h1M165.56 440h1M43.89 442.80h1M38.91 445.60h1M64.84 445.60h1M40.90 448.40h1M53.87 448.40h1M15.97 451.20h1M63.84 451.20h1M170.55 451.20h1M40.90 454h1M58.85 454h1M6.99 456.80h1M161.57 456.80h1M168.55 459.60h1M85.78 462.38h1M91.76 462.38h1M102.73 462.38h1M123.68 462.38h1M98.74 465.12h1M103.73 465.12h1M111.71 465.12h1M80.79 470.62h1M87.77 470.62h1M113.70 470.62h1M123.68 470.62h1M49.88 473.38h1M74.81 473.38h1M79.80 473.38h1M89.77 473.38h1.99M97.75 473.38h1M106.72 473.38h1M169.55 473.38h1M75.81 476.12h1M80.79 476.12h1M120.68 476.12h1M48.88 478.88h1M77.80 478.88h1M91.76 478.88h1M101.74 478.88h1M104.73 478.88h1M116.70 478.88h1M86.78 481.62h1M110.71 481.62h1M123.68 481.62h1M47.88 484.38h1M96.75 484.38h1M102.73 484.38h1M104.73 484.38h1M113.70 484.38h1M83.79 487.12h2.99M107.72 487.12h1M112.71 487.12h1M115.70 487.12h1M79.80 489.82h1M95.75 489.82h1M141.63 489.82h1M129.66 492.48h1M135.64 495.12h1M139.63 495.12h1M127.67 497.77h1M133.65 497.77h1M144.62 497.77h1M135.64 500.43h1M136.64 503.07h1M127.67 508.38h1M82.79 511.02h1M131.65 513.67h1M175.54 516.42h1M182.52 516.42h1M157.58 519.28h1M178.53 519.28h1M181.52 519.28h1M148.61 527.83h1M26.94 530.67h1M148.61 530.67h1M180.52 530.67h1M153.60 536.38h1M151.60 539.22h1M8.99 544.88h1M15.97 544.88h1M34.92 544.88h1.99M52.87 544.88h1M162.57 547.62h1M160.58 550.38h1M173.54 553.12h1M171.55 561.38h1M169.55 566.88h1M143.62 575.09h1M176.53 575.09h1M9.99 580.55h1M140.63 583.27h1M179.52 583.27h1M100.74 586h1M182.52 586h1M174.54 594.18h1M129.66 599.64h1M20.96 602.39h1M141.63 602.39h1M164.57 602.39h1M169.55 602.39h1M175.54 602.39h1M143.62 605.17h1M167.56 605.17h1M28.93 607.94h1M62.84 607.94h1M66.83 607.94h1M69.82 607.94h1M185.51 607.94h1M184.51 613.50h1M27.94 616.28h1M60.85 616.28h1M70.82 616.28h1M73.81 616.28h1.99M112.71 616.28h1M116.70 616.28h1M175.54 619.06h1M37.91 621.83h1M49.88 621.83h1M185.51 621.83h1M179.52 624.61h1" stroke="#f07f7b" stroke-width="2.8" fill="none"/><path d="M59.85 445.60h1M21.95 448.40h1M33.92 448.40h1M163.57 448.40h1M171.55 451.20h1M15.97 456.80h1M48.88 462.38h1M84.78 462.38h1M47.88 465.12h1.99M49.88 467.88h1M77.80 467.88h1M71.82 470.62h1.99M96.75 470.62h1M122.68 470.62h1M47.88 473.38h1M119.69 476.12h1M47.88 478.88h1M85.78 478.88h1M49.88 481.62h1M87.77 481.62h1M100.74 481.62h1M108.72 481.62h1M98.74 484.38h1M47.88 487.12h1M80.79 487.12h1M116.70 487.12h1M135.64 492.48h1M142.62 492.48h1M129.66 495.12h1M133.65 503.07h1M135.64 505.73h1.99M140.63 513.67h1M145.62 516.42h1M150.60 524.97h1M145.62 527.83h1M147.61 527.83h1M154.59 527.83h1M158.58 530.67h1M156.59 533.53h1M159.58 539.22h1M59.85 544.88h1M165.56 550.38h1M160.58 558.62h1M162.57 558.62h1M165.56 561.38h1M166.56 564.12h1M168.55 566.88h1M164.57 569.62h1M178.53 572.36h1M174.54 583.27h1M180.52 586h1M174.54 588.73h1M182.52 588.73h1M179.52 599.64h1M40.90 602.39h1M112.71 602.39h1M134.65 602.39h1M137.64 602.39h1M166.56 602.39h1M171.55 605.17h1M185.51 605.17h1M34.92 607.94h1M57.86 607.94h1M184.51 607.94h1M157.58 610.72h1M17.96 616.28h1M67.83 616.28h1M99.74 616.28h1M134.65 616.28h1M144.62 616.28h1M164.57 616.28h1M185.51 619.06h1M17.96 621.83h1M27.94 621.83h1M39.90 621.83h1M51.87 621.83h1" stroke="#f49e9c" stroke-width="2.8" fill="none"/><path d="M159.58 459.60h1M65.83 462.38h1.99M174.54 462.38h1.99M177.53 462.38h1M179.52 462.38h1M67.83 465.12h1M174.54 465.12h1.99M179.52 465.12h1M66.83 470.62h1M174.54 470.62h1.99M177.53 470.62h1M182.52 470.62h1M174.54 476.12h1.99M177.53 476.12h1.99M182.52 476.12h1M175.54 478.88h1M178.53 478.88h1.99M182.52 478.88h1M65.83 481.62h1M178.53 481.62h1M67.83 484.38h1M178.53 484.38h1M66.83 487.12h1.99M175.54 487.12h1M68.83 489.82h1M174.54 489.82h1M65.83 492.48h1M174.54 492.48h1M177.53 492.48h1M182.52 492.48h1M67.83 495.12h1M178.53 495.12h1M182.52 495.12h1M174.54 497.77h1M178.53 497.77h1M182.52 497.77h1M65.83 500.43h1M178.53 500.43h1M68.83 503.07h1M177.53 503.07h1.99M175.54 505.73h1M182.52 505.73h1M66.83 508.38h1M177.53 508.38h1.99M66.83 511.02h1M68.83 511.02h1M174.54 511.02h1M182.52 511.02h1M67.83 513.67h1M174.54 513.67h1M177.53 513.67h1.99M180.52 513.67h1M93.76 575.09h1M105.73 577.82h1M89.77 580.55h1M105.73 580.55h1M93.76 586h1M85.78 591.45h1M118.69 594.18h1M89.77 599.64h1" stroke="#aa90d0" stroke-width="2.8" fill="none"/><path d="M67.83 462.38h1M178.53 462.38h1M182.52 462.38h1M178.53 465.12h1M66.83 467.88h1M174.54 467.88h1.99M177.53 467.88h1M178.53 470.62h1M178.53 473.38h1M182.52 473.38h1M65.83 476.12h1M65.83 478.88h1M67.83 478.88h1M174.54 478.88h1M177.53 478.88h1M174.54 481.62h1M178.53 492.48h1M67.83 497.77h1M67.83 503.07h1M174.54 505.73h1M178.53 505.73h1M67.83 508.38h1M178.53 511.02h1M65.83 513.67h1M85.78 572.36h1M93.76 572.36h1M85.78 575.09h1M85.78 577.82h1M93.76 577.82h1M85.78 580.55h1M85.78 586h1M85.78 588.73h1M93.76 588.73h1M93.76 591.45h1M93.76 594.18h1M85.78 596.91h1M85.78 599.64h1M93.76 599.64h1" stroke="#997fc7" stroke-width="2.8" fill="none"/><path d="M178.53 467.88h1M68.83 473.38h1M67.83 476.12h1.99M66.83 492.48h1M65.83 505.73h1M93.76 580.55h1M85.78 583.27h1M93.76 583.27h1M85.78 594.18h1" stroke="#896fbd" stroke-width="2.8" fill="none"/><path d="M67.83 481.62h1" stroke="#684eaa" stroke-width="2.8" fill="none"/><text x="189.6" y="435.40" font-size="3.0" font-weight="bold" fill="#222">CD3D</text><text x="189.6" y="438.20" font-size="3.0" font-weight="bold" fill="#222">CD3E</text><text x="189.6" y="441.00" font-size="3.0" font-weight="bold" fill="#222">IL7R</text><text x="189.6" y="443.80" font-size="3.0" font-weight="bold" fill="#222">CD2</text><text x="189.6" y="446.60" font-size="3.0" font-weight="bold" fill="#222">CCL5</text><text x="189.6" y="449.40" font-size="3.0" font-weight="bold" fill="#222">PTPRC</text><text x="189.6" y="452.20" font-size="3.0" font-weight="bold" fill="#222">CD52</text><text x="189.6" y="455.00" font-size="3.0" font-weight="bold" fill="#222">TRAC</text><text x="189.6" y="457.80" font-size="3.0" font-weight="bold" fill="#222">LTB</text><text x="189.6" y="460.60" font-size="3.0" font-weight="bold" fill="#222">CD69</text><text x="189.6" y="463.38" font-size="3.0" font-weight="bold" fill="#222">S100A8</text><text x="189.6" y="466.12" font-size="3.0" font-weight="bold" fill="#222">S100A9</text><text x="189.6" y="468.88" font-size="3.0" font-weight="bold" fill="#222">FCGR3B</text><text x="189.6" y="471.62" font-size="3.0" font-weight="bold" fill="#222">CXCL8</text><text x="189.6" y="474.38" font-size="3.0" font-weight="bold" fill="#222">G0S2</text><text x="189.6" y="477.12" font-size="3.0" font-weight="bold" fill="#222">SOD2</text><text x="189.6" y="479.88" font-size="3.0" font-weight="bold" fill="#222">IL1B</text><text x="189.6" y="482.62" font-size="3.0" font-weight="bold" fill="#222">NAMPT</text><text x="189.6" y="485.38" font-size="3.0" font-weight="bold" fill="#222">PTGS2</text><text x="189.6" y="488.12" font-size="3.0" font-weight="bold" fill="#222">FPR1</text><text x="189.6" y="490.82" font-size="3.0" font-weight="bold" fill="#222">HLA-DRA</text><text x="189.6" y="493.48" font-size="3.0" font-weight="bold" fill="#222">CD74</text><text x="189.6" y="496.12" font-size="3.0" font-weight="bold" fill="#222">HLA-DPA1</text><text x="189.6" y="498.77" font-size="3.0" font-weight="bold" fill="#222">CD1C</text><text x="189.6" y="501.43" font-size="3.0" font-weight="bold" fill="#222">FCER1A</text><text x="189.6" y="504.07" font-size="3.0" font-weight="bold" fill="#222">CLEC10A</text><text x="189.6" y="506.73" font-size="3.0" font-weight="bold" fill="#222">HLA-DQA1</text><text x="189.6" y="509.38" font-size="3.0" font-weight="bold" fill="#222">CST3</text><text x="189.6" y="512.02" font-size="3.0" font-weight="bold" fill="#222">LYZ</text><text x="189.6" y="514.67" font-size="3.0" font-weight="bold" fill="#222">AIF1</text><text x="189.6" y="517.42" font-size="3.0" font-weight="bold" fill="#222">COL1A1</text><text x="189.6" y="520.28" font-size="3.0" font-weight="bold" fill="#222">COL1A2</text><text x="189.6" y="523.12" font-size="3.0" font-weight="bold" fill="#222">COL3A1</text><text x="189.6" y="525.97" font-size="3.0" font-weight="bold" fill="#222">ACTA2</text><text x="189.6" y="528.83" font-size="3.0" font-weight="bold" fill="#222">TAGLN</text><text x="189.6" y="531.67" font-size="3.0" font-weight="bold" fill="#222">MYL9</text><text x="189.6" y="534.53" font-size="3.0" font-weight="bold" fill="#222">DCN</text><text x="189.6" y="537.38" font-size="3.0" font-weight="bold" fill="#222">LUM</text><text x="189.6" y="540.22" font-size="3.0" font-weight="bold" fill="#222">SPARC</text><text x="189.6" y="543.08" font-size="3.0" font-weight="bold" fill="#222">POSTN</text><text x="189.6" y="545.88" font-size="3.0" font-weight="bold" fill="#222">GZMB</text><text x="189.6" y="548.62" font-size="3.0" font-weight="bold" fill="#222">PRF1</text><text x="189.6" y="551.38" font-size="3.0" font-weight="bold" fill="#222">NKG7</text><text x="189.6" y="554.12" font-size="3.0" font-weight="bold" fill="#222">GNLY</text><text x="189.6" y="556.88" font-size="3.0" font-weight="bold" fill="#222">GZMA</text><text x="189.6" y="559.62" font-size="3.0" font-weight="bold" fill="#222">CST7</text><text x="189.6" y="562.38" font-size="3.0" font-weight="bold" fill="#222">KLRD1</text><text x="189.6" y="565.12" font-size="3.0" font-weight="bold" fill="#222">CTSW</text><text x="189.6" y="567.88" font-size="3.0" font-weight="bold" fill="#222">GZMH</text><text x="189.6" y="570.62" font-size="3.0" font-weight="bold" fill="#222">CD8A</text><text x="189.6" y="573.36" font-size="3.0" font-weight="bold" fill="#222">C3</text><text x="189.6" y="576.09" font-size="3.0" font-weight="bold" fill="#222">CFD</text><text x="189.6" y="578.82" font-size="3.0" font-weight="bold" fill="#222">CXCL12</text><text x="189.6" y="581.55" font-size="3.0" font-weight="bold" fill="#222">IGFBP6</text><text x="189.6" y="584.27" font-size="3.0" font-weight="bold" fill="#222">DPT</text><text x="189.6" y="587.00" font-size="3.0" font-weight="bold" fill="#222">SFRP2</text><text x="189.6" y="589.73" font-size="3.0" font-weight="bold" fill="#222">APOD</text><text x="189.6" y="592.45" font-size="3.0" font-weight="bold" fill="#222">CCDC80</text><text x="189.6" y="595.18" font-size="3.0" font-weight="bold" fill="#222">PTGDS</text><text x="189.6" y="597.91" font-size="3.0" font-weight="bold" fill="#222">MGP</text><text x="189.6" y="600.64" font-size="3.0" font-weight="bold" fill="#222">PECAM1</text><text x="189.6" y="603.39" font-size="3.0" font-weight="bold" fill="#222">VWF</text><text x="189.6" y="606.17" font-size="3.0" font-weight="bold" fill="#222">CDH5</text><text x="189.6" y="608.94" font-size="3.0" font-weight="bold" fill="#222">PLVAP</text><text x="189.6" y="611.72" font-size="3.0" font-weight="bold" fill="#222">ENG</text><text x="189.6" y="614.50" font-size="3.0" font-weight="bold" fill="#222">EMCN</text><text x="189.6" y="617.28" font-size="3.0" font-weight="bold" fill="#222">AQP1</text><text x="189.6" y="620.06" font-size="3.0" font-weight="bold" fill="#222">CLDN5</text><text x="189.6" y="622.83" font-size="3.0" font-weight="bold" fill="#222">RAMP2</text><text x="189.6" y="625.61" font-size="3.0" font-weight="bold" fill="#222">KDR</text><circle cx="208.8" cy="485.9" r="2.25" fill="#e47a72"/><text x="212.6" y="487.2" font-size="3.6" fill="#000" stroke="#000" stroke-width="0.12">Lymphocytes</text><circle cx="208.8" cy="492.2" r="2.25" fill="#c49c44"/><text x="212.6" y="493.5" font-size="3.6" fill="#000" stroke="#000" stroke-width="0.12">PMN/MDSCs</text><circle cx="208.8" cy="498.5" r="2.25" fill="#62ac4c"/><text x="212.6" y="499.8" font-size="3.6" fill="#000" stroke="#000" stroke-width="0.12">Dendritic cells</text><circle cx="208.8" cy="504.8" r="2.25" fill="#2ea886"/><text x="212.6" y="506.1" font-size="3.6" fill="#000" stroke="#000" stroke-width="0.12">Myofibroblasts</text><circle cx="208.8" cy="511.1" r="2.25" fill="#30aad6"/><text x="212.6" y="512.4" font-size="3.6" fill="#000" stroke="#000" stroke-width="0.12">Cytotoxic T cells</text><circle cx="208.8" cy="517.4" r="2.25" fill="#9880d0"/><text x="212.6" y="518.7" font-size="3.6" fill="#000" stroke="#000" stroke-width="0.12">Inflammatory CAFs</text><circle cx="208.8" cy="523.7" r="2.25" fill="#d866b2"/><text x="212.6" y="525.0" font-size="3.6" fill="#000" stroke="#000" stroke-width="0.12">Endothelial cells</text><text x="206.6" y="533" font-size="3" fill="#222">Expression</text><rect x="207.4" y="535.7" width="3.6" height="20.2" fill="url(#gc)"/><text x="212" y="537.5" font-size="2.6" fill="#222">2</text><text x="212" y="542.1" font-size="2.6" fill="#222">1</text><text x="212" y="546.7" font-size="2.6" fill="#222">0</text><text x="212" y="551.3" font-size="2.6" fill="#222">-1</text><text x="212" y="555.9" font-size="2.6" fill="#222">-2</text><text x="389.8" y="5.5" font-size="6.6" font-weight="bold" fill="#111" text-anchor="middle" text-decoration="underline">Lymphocytes</text><text x="394.4" y="229.4" font-size="6.6" font-weight="bold" fill="#111" text-anchor="middle" text-decoration="underline">Myofibroblasts</text><text x="395.1" y="452.9" font-size="6.6" font-weight="bold" fill="#111" text-anchor="middle" text-decoration="underline">Myeloid</text><defs><g id="base"><path d="M45.9 20.9h0M14.6 26.8h0M17.4 23.3h0M34.4 47.5h0M22.7 18.5h0M58.1 24.2h0M21.0 18.5h0M13.6 22.8h0M43.9 24.9h0M14.8 8.9h0M30.5 6.3h0M50.8 25.6h0M24.6 16.4h0M14.1 21.2h0M9.3 17.9h0M48.6 23.7h0M11.9 16.0h0M38.2 51.0h0M65.9 18.3h0M25.8 10.3h0M37.9 27.5h0M33.3 8.3h0M8.5 13.3h0M20.7 25.8h0M24.2 21.5h0M40.2 27.7h0M19.7 16.5h0M54.6 23.0h0M52.6 21.6h0M51.3 22.0h0M15.9 24.7h0M44.4 18.3h0M8.9 15.3h0M37.0 17.3h0M11.9 18.3h0M19.1 20.6h0M7.7 12.2h0M34.9 42.7h0M30.5 47.0h0M15.8 18.7h0M5.8 14.6h0M33.7 48.1h0M59.7 25.1h0M55.6 22.3h0M44.9 22.4h0M43.5 26.1h0M35.1 31.6h0M16.1 9.7h0M46.9 42.3h0M18.7 23.4h0M12.8 19.9h0M68.3 19.7h0M9.0 13.6h0M12.4 12.9h0M39.3 14.0h0M41.5 28.8h0M54.7 27.1h0M13.2 20.9h0M63.8 21.1h0M18.0 7.7h0M46.2 42.4h0M14.4 22.8h0M19.7 22.6h0M26.2 11.8h0M70.1 21.4h0M8.1 13.0h0M28.8 6.5h0M16.5 9.9h0M48.8 14.8h0M32.4 46.5h0M21.4 22.9h0M9.9 23.6h0M44.6 40.4h0M57.9 17.1h0M41.1 18.3h0M39.2 17.0h0M41.4 20.2h0M27.1 13.8h0M22.7 24.6h0M31.8 49.2h0M13.0 11.0h0M38.1 16.5h0M35.4 32.3h0M22.9 19.1h0M64.9 18.4h0M36.6 15.7h0M11.4 12.4h0M31.8 7.0h0M26.2 12.8h0M49.6 16.4h0M21.4 20.3h0M34.1 19.5h0M70.8 20.7h0M35.9 19.1h0M32.0 5.6h0M12.7 15.5h0M13.0 11.4h0M49.2 22.2h0M30.6 46.0h0M61.6 17.4h0M13.2 9.5h0M13.7 14.3h0M18.7 10.7h0M9.2 16.3h0M8.3 15.0h0M46.1 25.0h0M7.1 14.1h0M23.7 22.1h0M29.8 8.5h0M9.9 17.4h0M15.6 19.6h0M16.2 8.2h0M45.9 18.4h0M46.9 16.4h0M19.7 36.5h0M21.7 38.5h0M31.4 19.7h0M40.8 14.3h0M52.4 25.3h0M48.7 43.0h0M69.0 18.4h0M19.3 8.8h0M50.2 40.9h0M14.7 10.7h0M22.3 37.4h0M17.1 21.8h0M8.5 14.8h0M45.5 22.1h0M44.3 14.9h0M16.3 23.8h0M17.6 10.9h0M30.5 45.8h0M26.6 21.4h0M56.6 21.7h0M44.1 44.9h0M11.9 24.7h0M58.7 22.7h0M26.0 15.2h0M21.1 20.5h0M44.4 45.2h0M8.6 19.4h0M68.5 18.0h0M35.0 31.0h0M35.8 16.7h0M53.1 16.9h0M33.3 8.1h0M19.8 26.2h0M37.3 21.9h0M43.0 21.3h0M21.1 38.0h0M22.2 19.3h0M22.5 20.1h0M35.1 42.7h0M45.5 40.9h0M36.1 45.4h0M45.7 18.2h0M15.9 20.1h0M9.6 24.8h0M62.3 21.8h0M8.4 23.6h0M19.8 19.5h0M58.0 19.5h0M18.1 11.1h0M54.7 25.2h0M19.9 8.6h0M56.5 20.5h0M7.9 15.5h0M15.2 24.1h0M30.9 7.4h0M5.9 16.5h0M48.4 21.0h0M69.4 23.1h0M41.4 25.1h0M9.4 20.4h0M36.0 41.7h0M53.0 21.0h0M57.8 17.1h0M12.5 23.9h0M16.9 21.5h0M48.6 18.4h0M43.7 23.0h0M13.5 24.6h0M27.6 14.2h0M45.0 18.5h0M48.9 43.6h0M56.5 24.4h0M15.8 10.8h0M63.8 17.6h0M13.4 11.7h0M44.1 18.8h0M13.5 22.7h0M25.7 13.9h0M34.4 47.0h0M50.9 27.7h0M40.8 21.4h0M42.9 25.5h0M9.6 16.1h0M44.2 25.2h0M52.0 26.6h0M14.6 21.0h0M28.3 10.7h0M35.9 42.4h0M23.5 21.3h0M16.2 19.1h0M5.3 14.5h0M22.8 21.2h0M59.4 19.5h0M14.9 11.8h0M17.7 11.7h0M36.2 18.0h0M9.9 14.6h0M8.5 16.4h0M67.5 21.8h0M42.2 29.7h0M30.1 47.9h0M33.2 41.5h0M38.7 21.1h0M50.0 41.0h0M33.5 19.7h0M27.0 11.5h0M12.7 20.1h0M39.6 20.9h0M46.4 42.3h0M45.0 21.1h0M20.7 37.6h0M58.6 17.7h0M55.3 21.3h0M10.7 22.4h0M52.1 18.6h0M48.8 3.2h0M16.5 10.0h0M65.2 16.5h0M54.3 29.9h0M18.8 14.2h0M26.0 21.7h0M43.2 20.1h0M8.8 20.2h0M47.8 15.1h0M51.4 22.4h0M39.2 23.2h0M29.3 7.1h0M33.4 42.8h0M44.2 20.3h0M13.8 21.1h0M30.7 25.7h0M37.0 7.9h0M36.3 8.4h0M46.3 21.9h0M19.1 37.9h0M59.3 19.8h0M27.3 8.0h0M25.3 21.2h0M48.6 23.3h0M51.9 19.8h0M50.1 28.2h0M42.0 24.4h0M68.7 20.7h0M37.3 45.7h0M23.4 21.2h0M46.1 25.6h0M68.9 18.5h0M12.8 22.0h0M42.2 15.7h0M37.5 7.9h0M65.6 22.3h0M57.0 19.1h0M64.8 25.6h0M9.4 12.9h0M49.2 43.8h0M48.7 3.0h0M51.9 19.8h0M23.6 17.4h0M27.5 10.6h0M67.0 15.7h0M41.7 27.3h0M39.7 13.0h0M45.8 19.6h0M20.0 37.4h0M29.2 6.0h0M39.1 18.2h0M39.9 12.0h0M44.6 43.7h0M13.8 14.0h0M9.6 14.2h0M30.4 6.5h0M48.2 24.8h0M18.1 20.8h0M9.3 17.6h0M33.8 30.5h0M39.9 14.1h0M45.9 23.6h0M6.7 13.6h0M18.1 10.2h0M7.8 15.4h0M41.0 20.6h0M50.7 24.6h0M31.7 48.6h0M30.9 47.6h0M16.7 10.7h0M35.7 44.0h0M35.2 26.1h0M26.8 15.8h0M54.7 11.9h0M64.8 19.5h0M43.4 23.6h0M69.4 17.7h0M18.2 13.8h0M24.8 9.9h0M10.9 23.9h0M68.2 18.5h0M40.8 23.1h0M20.5 38.6h0M12.7 17.9h0M30.1 6.2h0M38.1 21.5h0M51.2 20.0h0M22.7 19.2h0M63.7 15.3h0M7.0 20.5h0M30.1 51.3h0M24.3 23.0h0M33.0 50.4h0M68.6 22.0h0M49.5 21.5h0M10.7 21.6h0M50.7 19.7h0M64.5 19.8h0M22.5 37.5h0M58.0 19.4h0M65.0 19.1h0M68.2 18.3h0M23.9 5.3h0M11.2 21.2h0M21.8 17.7h0M45.5 23.8h0M46.5 41.2h0M21.3 19.9h0M63.5 16.4h0M51.5 21.0h0M47.7 23.1h0M46.0 18.0h0M43.3 16.9h0M33.3 29.1h0M45.8 12.2h0M17.9 22.3h0M9.8 22.4h0M54.1 18.9h0M44.4 22.5h0M26.5 8.8h0M29.3 48.1h0M64.4 22.9h0M44.4 18.7h0M32.1 50.6h0M26.3 15.8h0M49.3 28.0h0M21.2 37.5h0M67.0 22.2h0M37.3 9.2h0M38.1 27.9h0M33.4 26.8h0M61.4 16.9h0M8.1 15.6h0M9.3 18.5h0M35.3 7.1h0M34.9 48.3h0M6.3 17.0h0M43.0 19.5h0M21.4 38.2h0M48.4 2.9h0M6.4 12.4h0M22.7 18.3h0M42.2 22.0h0M21.4 24.6h0M50.5 17.2h0M47.5 27.6h0M21.3 11.7h0M16.1 6.5h0M25.1 19.2h0M9.7 12.5h0M37.2 44.3h0M35.2 42.6h0M18.6 14.5h0M44.8 43.6h0M22.6 16.7h0M31.0 48.1h0M54.0 16.7h0M31.8 5.6h0M46.3 23.6h0M47.8 20.1h0M40.8 23.1h0M9.6 13.2h0M33.6 4.5h0M25.5 21.0h0M66.9 15.2h0M64.7 22.4h0M20.8 36.6h0M69.3 22.1h0M49.1 41.4h0M4.6 18.1h0M23.8 20.1h0M68.1 20.9h0M12.3 14.3h0M32.5 44.2h0M46.2 43.7h0M55.0 20.9h0M22.8 5.6h0M71.0 20.4h0M21.4 5.8h0M21.0 21.8h0M35.3 6.3h0M36.7 16.4h0M39.5 19.0h0M37.2 16.5h0M56.2 16.7h0M44.9 16.3h0M54.8 22.8h0M21.6 20.9h0M42.2 23.0h0M27.5 8.0h0M37.8 8.0h0M13.7 10.7h0M15.4 20.7h0M55.8 12.6h0M4.7 18.1h0M16.2 9.7h0M27.0 7.0h0M46.8 23.3h0M58.0 21.2h0M35.8 15.9h0M44.9 18.0h0M38.8 16.7h0M17.2 8.3h0M22.8 23.1h0M18.2 11.4h0M8.9 13.1h0M33.9 42.9h0M8.6 13.3h0M25.6 10.7h0M27.2 9.5h0M47.7 24.8h0M28.6 18.4h0M22.1 21.6h0M47.1 18.2h0M31.1 7.3h0M15.4 16.4h0M56.8 21.5h0M12.1 20.9h0M9.0 10.1h0M48.5 20.5h0M32.0 19.6h0M15.7 17.7h0M53.3 16.7h0M22.4 8.7h0M39.3 20.0h0M47.0 41.6h0M11.2 17.4h0M37.9 8.0h0M18.8 6.1h0M12.9 14.4h0M12.4 20.9h0M54.7 22.0h0M12.8 24.4h0M20.2 20.3h0M42.0 20.8h0M71.7 19.9h0M24.6 21.6h0M30.3 48.0h0M49.2 30.7h0M26.0 7.9h0M44.3 16.0h0M34.5 41.3h0M47.6 20.8h0M36.1 32.6h0M42.1 19.1h0M67.8 17.0h0M38.3 27.4h0M52.3 18.0h0M29.6 7.3h0M38.6 51.2h0M46.2 16.2h0M13.5 20.8h0M44.2 27.3h0M5.7 13.6h0M9.3 17.9h0M32.5 43.1h0M18.1 37.3h0M64.5 18.3h0M46.8 39.9h0M38.8 21.0h0M42.9 24.8h0M20.0 6.6h0M42.9 19.0h0M52.6 20.7h0M46.2 18.1h0M13.3 23.0h0M27.1 22.5h0M46.5 22.3h0M29.8 5.1h0M39.0 50.6h0M24.1 23.2h0M49.4 41.3h0M54.8 21.3h0M22.3 21.4h0M57.8 20.0h0M13.2 20.6h0M43.9 23.5h0M63.9 19.0h0M48.5 44.1h0M30.4 45.9h0M25.5 19.3h0M8.8 22.9h0M56.3 19.9h0M26.3 10.3h0M45.9 44.6h0M18.8 11.8h0M27.1 20.7h0M67.2 22.5h0M17.5 7.7h0M20.7 15.3h0M19.7 22.4h0M49.6 16.3h0M17.6 10.5h0M40.0 17.6h0M60.3 24.6h0M45.3 42.4h0M4.4 15.2h0M64.4 15.6h0M31.0 49.6h0M45.4 39.2h0M21.9 21.0h0M33.1 48.3h0M37.3 15.8h0M31.7 47.9h0M47.7 42.9h0M19.4 37.7h0M6.6 15.7h0M30.7 44.3h0M19.8 9.2h0M44.1 19.9h0M60.9 14.7h0M7.3 17.2h0M15.0 22.6h0M32.8 46.5h0M49.8 23.5h0M38.2 24.9h0M43.2 13.8h0M13.3 20.2h0M52.8 20.5h0M41.6 25.6h0M62.7 21.4h0M8.2 15.0h0M8.3 21.5h0M47.7 20.3h0M34.2 43.7h0M43.6 22.8h0M8.1 22.8h0M34.2 30.3h0M27.4 10.3h0M15.8 22.1h0M22.5 22.2h0M44.7 21.5h0M17.9 21.1h0M44.0 29.4h0M68.7 16.2h0M68.4 17.5h0M42.3 43.4h0M34.2 7.7h0M7.1 18.2h0M54.3 18.4h0M64.2 17.1h0M48.0 21.5h0M69.9 20.1h0M34.9 46.6h0M33.4 5.0h0M12.5 18.7h0M35.0 48.4h0M11.9 16.5h0M46.9 22.4h0M61.8 19.6h0M55.4 23.2h0M28.8 4.4h0M27.7 47.9h0M18.8 15.9h0M18.5 7.3h0M12.1 22.8h0M7.5 15.0h0M44.1 21.3h0M26.3 11.1h0M23.4 21.4h0M22.7 23.1h0M9.7 11.5h0M63.2 15.7h0M49.7 19.2h0M43.3 24.8h0M8.8 14.1h0M50.7 42.5h0M19.7 22.0h0M46.5 42.1h0M49.0 40.3h0M38.9 23.1h0M7.6 21.7h0M15.8 8.8h0M52.7 25.0h0M22.0 21.4h0M44.3 24.7h0M52.5 32.1h0M24.5 20.7h0M48.0 22.5h0M20.7 19.4h0M33.8 8.1h0M48.9 22.8h0M33.0 29.3h0M47.7 27.1h0M9.3 16.1h0M48.3 43.4h0M35.8 11.3h0M13.0 16.4h0M23.8 15.8h0M58.8 14.8h0M13.1 11.7h0M23.3 19.7h0M61.0 17.1h0M13.0 9.6h0M59.8 16.8h0M26.4 19.4h0M19.4 17.7h0M57.2 18.7h0M14.3 22.7h0M36.2 28.3h0M12.9 10.1h0M65.3 21.3h0M13.3 20.0h0M60.0 19.8h0M65.3 19.0h0M14.5 21.6h0M41.7 24.5h0M20.9 24.8h0M29.7 7.9h0M16.8 18.7h0M13.7 17.8h0M32.9 47.9h0M9.3 16.8h0M39.2 26.0h0M50.8 20.9h0M39.8 23.4h0M33.8 48.5h0M45.8 25.5h0M39.8 14.9h0M56.0 14.4h0M67.6 18.2h0M48.0 18.8h0M25.0 15.0h0M30.5 46.9h0M14.1 19.6h0M36.9 45.8h0M39.8 27.3h0M31.9 6.8h0M45.5 19.1h0M47.4 24.4h0M28.6 5.9h0M57.0 21.5h0M46.3 42.9h0M21.3 16.9h0M65.9 20.5h0M65.7 21.7h0M20.7 17.1h0M50.8 24.1h0M49.9 42.7h0M20.2 23.2h0M66.0 18.8h0M38.3 28.6h0M38.3 8.8h0M45.4 21.3h0M60.8 18.1h0M17.6 11.2h0M31.1 51.6h0M53.0 25.6h0M50.9 25.9h0M12.8 21.0h0M8.4 19.0h0M11.9 17.1h0M12.5 19.9h0M17.6 22.4h0M29.4 5.1h0M45.7 23.9h0M45.5 21.1h0M19.0 6.0h0M22.1 19.9h0M64.8 20.3h0M19.3 10.0h0M19.2 38.5h0M26.5 8.1h0M16.7 12.4h0M31.7 7.3h0M35.3 22.4h0M41.3 24.8h0M6.0 16.7h0M13.9 17.7h0M34.8 39.0h0M43.8 18.6h0M67.0 24.1h0M21.8 19.1h0M40.2 18.8h0M8.0 14.1h0M54.1 21.2h0M11.1 10.1h0M52.7 19.5h0M11.9 21.7h0M11.6 22.1h0M50.2 27.9h0M9.2 13.6h0M21.9 23.8h0M36.0 5.8h0M47.4 45.1h0M13.9 22.5h0M18.4 8.6h0M58.1 23.5h0M29.9 17.1h0M11.9 24.6h0M69.3 21.2h0M21.6 14.1h0M64.1 17.7h0M69.4 21.9h0M46.6 16.0h0M9.2 15.1h0M48.5 3.1h0M27.8 6.7h0M20.8 38.6h0M65.7 21.3h0M31.5 6.2h0M27.5 7.8h0M17.7 14.6h0M55.3 20.2h0M25.1 23.3h0M7.8 15.9h0M16.8 13.6h0M41.3 22.8h0M28.3 20.9h0M50.7 19.9h0M24.0 25.6h0M11.6 16.3h0M27.0 14.7h0M42.1 17.6h0M66.1 17.8h0M49.7 42.2h0M16.5 22.2h0M20.9 17.4h0M20.6 10.1h0M13.2 14.0h0M15.2 9.3h0M23.4 22.5h0M13.4 23.6h0M29.9 47.6h0M13.5 21.5h0M30.2 8.6h0M57.4 19.3h0M22.5 23.2h0M48.5 22.9h0M45.1 24.9h0" stroke="#e4e4e4" stroke-width="3.0" stroke-linecap="round" fill="none" opacity="0.22"/><path d="M45.9 20.9h0M14.6 26.8h0M17.4 23.3h0M34.4 47.5h0M22.7 18.5h0M58.1 24.2h0M21.0 18.5h0M13.6 22.8h0M43.9 24.9h0M14.8 8.9h0M30.5 6.3h0M50.8 25.6h0M24.6 16.4h0M14.1 21.2h0M9.3 17.9h0M48.6 23.7h0M11.9 16.0h0M38.2 51.0h0M65.9 18.3h0M25.8 10.3h0M37.9 27.5h0M33.3 8.3h0M8.5 13.3h0M20.7 25.8h0M24.2 21.5h0M40.2 27.7h0M19.7 16.5h0M54.6 23.0h0M52.6 21.6h0M51.3 22.0h0M15.9 24.7h0M44.4 18.3h0M8.9 15.3h0M37.0 17.3h0M11.9 18.3h0M19.1 20.6h0M7.7 12.2h0M34.9 42.7h0M30.5 47.0h0M15.8 18.7h0M5.8 14.6h0M33.7 48.1h0M59.7 25.1h0M55.6 22.3h0M44.9 22.4h0M43.5 26.1h0M35.1 31.6h0M16.1 9.7h0M46.9 42.3h0M18.7 23.4h0M12.8 19.9h0M68.3 19.7h0M9.0 13.6h0M12.4 12.9h0M39.3 14.0h0M41.5 28.8h0M54.7 27.1h0M13.2 20.9h0M63.8 21.1h0M18.0 7.7h0M46.2 42.4h0M14.4 22.8h0M19.7 22.6h0M26.2 11.8h0M70.1 21.4h0M8.1 13.0h0M28.8 6.5h0M16.5 9.9h0M48.8 14.8h0M32.4 46.5h0M21.4 22.9h0M9.9 23.6h0M44.6 40.4h0M57.9 17.1h0M41.1 18.3h0M39.2 17.0h0M41.4 20.2h0M27.1 13.8h0M22.7 24.6h0M31.8 49.2h0M13.0 11.0h0M38.1 16.5h0M35.4 32.3h0M22.9 19.1h0M64.9 18.4h0M36.6 15.7h0M11.4 12.4h0M31.8 7.0h0M26.2 12.8h0M49.6 16.4h0M21.4 20.3h0M34.1 19.5h0M70.8 20.7h0M35.9 19.1h0M32.0 5.6h0M12.7 15.5h0M13.0 11.4h0M49.2 22.2h0M30.6 46.0h0M61.6 17.4h0M13.2 9.5h0M13.7 14.3h0M18.7 10.7h0M9.2 16.3h0M8.3 15.0h0M46.1 25.0h0M7.1 14.1h0M23.7 22.1h0M29.8 8.5h0M9.9 17.4h0M15.6 19.6h0M16.2 8.2h0M45.9 18.4h0M46.9 16.4h0M19.7 36.5h0M21.7 38.5h0M31.4 19.7h0M40.8 14.3h0M52.4 25.3h0M48.7 43.0h0M69.0 18.4h0M19.3 8.8h0M50.2 40.9h0M14.7 10.7h0M22.3 37.4h0M17.1 21.8h0M8.5 14.8h0M45.5 22.1h0M44.3 14.9h0M16.3 23.8h0M17.6 10.9h0M30.5 45.8h0M26.6 21.4h0M56.6 21.7h0M44.1 44.9h0M11.9 24.7h0M58.7 22.7h0M26.0 15.2h0M21.1 20.5h0M44.4 45.2h0M8.6 19.4h0M68.5 18.0h0M35.0 31.0h0M35.8 16.7h0M53.1 16.9h0M33.3 8.1h0M19.8 26.2h0M37.3 21.9h0M43.0 21.3h0M21.1 38.0h0M22.2 19.3h0M22.5 20.1h0M35.1 42.7h0M45.5 40.9h0M36.1 45.4h0M45.7 18.2h0M15.9 20.1h0M9.6 24.8h0M62.3 21.8h0M8.4 23.6h0M19.8 19.5h0M58.0 19.5h0M18.1 11.1h0M54.7 25.2h0M19.9 8.6h0M56.5 20.5h0M7.9 15.5h0M15.2 24.1h0M30.9 7.4h0M5.9 16.5h0M48.4 21.0h0M69.4 23.1h0M41.4 25.1h0M9.4 20.4h0M36.0 41.7h0M53.0 21.0h0M57.8 17.1h0M12.5 23.9h0M16.9 21.5h0M48.6 18.4h0M43.7 23.0h0M13.5 24.6h0M27.6 14.2h0M45.0 18.5h0M48.9 43.6h0M56.5 24.4h0M15.8 10.8h0M63.8 17.6h0M13.4 11.7h0M44.1 18.8h0M13.5 22.7h0M25.7 13.9h0M34.4 47.0h0M50.9 27.7h0M40.8 21.4h0M42.9 25.5h0M9.6 16.1h0M44.2 25.2h0M52.0 26.6h0M14.6 21.0h0M28.3 10.7h0M35.9 42.4h0M23.5 21.3h0M16.2 19.1h0M5.3 14.5h0M22.8 21.2h0M59.4 19.5h0M14.9 11.8h0M17.7 11.7h0M36.2 18.0h0M9.9 14.6h0M8.5 16.4h0M67.5 21.8h0M42.2 29.7h0M30.1 47.9h0M33.2 41.5h0M38.7 21.1h0M50.0 41.0h0M33.5 19.7h0M27.0 11.5h0M12.7 20.1h0M39.6 20.9h0M46.4 42.3h0M45.0 21.1h0M20.7 37.6h0M58.6 17.7h0M55.3 21.3h0M10.7 22.4h0M52.1 18.6h0M48.8 3.2h0M16.5 10.0h0M65.2 16.5h0M54.3 29.9h0M18.8 14.2h0M26.0 21.7h0M43.2 20.1h0M8.8 20.2h0M47.8 15.1h0M51.4 22.4h0M39.2 23.2h0M29.3 7.1h0M33.4 42.8h0M44.2 20.3h0M13.8 21.1h0M30.7 25.7h0M37.0 7.9h0M36.3 8.4h0M46.3 21.9h0M19.1 37.9h0M59.3 19.8h0M27.3 8.0h0M25.3 21.2h0M48.6 23.3h0M51.9 19.8h0M50.1 28.2h0M42.0 24.4h0M68.7 20.7h0M37.3 45.7h0M23.4 21.2h0M46.1 25.6h0M68.9 18.5h0M12.8 22.0h0M42.2 15.7h0M37.5 7.9h0M65.6 22.3h0M57.0 19.1h0M64.8 25.6h0M9.4 12.9h0M49.2 43.8h0M48.7 3.0h0M51.9 19.8h0M23.6 17.4h0M27.5 10.6h0M67.0 15.7h0M41.7 27.3h0M39.7 13.0h0M45.8 19.6h0M20.0 37.4h0M29.2 6.0h0M39.1 18.2h0M39.9 12.0h0M44.6 43.7h0M13.8 14.0h0M9.6 14.2h0M30.4 6.5h0M48.2 24.8h0M18.1 20.8h0M9.3 17.6h0M33.8 30.5h0M39.9 14.1h0M45.9 23.6h0M6.7 13.6h0M18.1 10.2h0M7.8 15.4h0M41.0 20.6h0M50.7 24.6h0M31.7 48.6h0M30.9 47.6h0M16.7 10.7h0M35.7 44.0h0M35.2 26.1h0M26.8 15.8h0M54.7 11.9h0M64.8 19.5h0M43.4 23.6h0M69.4 17.7h0M18.2 13.8h0M24.8 9.9h0M10.9 23.9h0M68.2 18.5h0M40.8 23.1h0M20.5 38.6h0M12.7 17.9h0M30.1 6.2h0M38.1 21.5h0M51.2 20.0h0M22.7 19.2h0M63.7 15.3h0M7.0 20.5h0M30.1 51.3h0M24.3 23.0h0M33.0 50.4h0M68.6 22.0h0M49.5 21.5h0M10.7 21.6h0M50.7 19.7h0M64.5 19.8h0M22.5 37.5h0M58.0 19.4h0M65.0 19.1h0M68.2 18.3h0M23.9 5.3h0M11.2 21.2h0M21.8 17.7h0M45.5 23.8h0M46.5 41.2h0M21.3 19.9h0M63.5 16.4h0M51.5 21.0h0M47.7 23.1h0M46.0 18.0h0M43.3 16.9h0M33.3 29.1h0M45.8 12.2h0M17.9 22.3h0M9.8 22.4h0M54.1 18.9h0M44.4 22.5h0M26.5 8.8h0M29.3 48.1h0M64.4 22.9h0M44.4 18.7h0M32.1 50.6h0M26.3 15.8h0M49.3 28.0h0M21.2 37.5h0M67.0 22.2h0M37.3 9.2h0M38.1 27.9h0M33.4 26.8h0M61.4 16.9h0M8.1 15.6h0M9.3 18.5h0M35.3 7.1h0M34.9 48.3h0M6.3 17.0h0M43.0 19.5h0M21.4 38.2h0M48.4 2.9h0M6.4 12.4h0M22.7 18.3h0M42.2 22.0h0M21.4 24.6h0M50.5 17.2h0M47.5 27.6h0M21.3 11.7h0M16.1 6.5h0M25.1 19.2h0M9.7 12.5h0M37.2 44.3h0M35.2 42.6h0M18.6 14.5h0M44.8 43.6h0M22.6 16.7h0M31.0 48.1h0M54.0 16.7h0M31.8 5.6h0M46.3 23.6h0M47.8 20.1h0M40.8 23.1h0M9.6 13.2h0M33.6 4.5h0M25.5 21.0h0M66.9 15.2h0M64.7 22.4h0M20.8 36.6h0M69.3 22.1h0M49.1 41.4h0M4.6 18.1h0M23.8 20.1h0M68.1 20.9h0M12.3 14.3h0M32.5 44.2h0M46.2 43.7h0M55.0 20.9h0M22.8 5.6h0M71.0 20.4h0M21.4 5.8h0M21.0 21.8h0M35.3 6.3h0M36.7 16.4h0M39.5 19.0h0M37.2 16.5h0M56.2 16.7h0M44.9 16.3h0M54.8 22.8h0M21.6 20.9h0M42.2 23.0h0M27.5 8.0h0M37.8 8.0h0M13.7 10.7h0M15.4 20.7h0M55.8 12.6h0M4.7 18.1h0M16.2 9.7h0M27.0 7.0h0M46.8 23.3h0M58.0 21.2h0M35.8 15.9h0M44.9 18.0h0M38.8 16.7h0M17.2 8.3h0M22.8 23.1h0M18.2 11.4h0M8.9 13.1h0M33.9 42.9h0M8.6 13.3h0M25.6 10.7h0M27.2 9.5h0M47.7 24.8h0M28.6 18.4h0M22.1 21.6h0M47.1 18.2h0M31.1 7.3h0M15.4 16.4h0M56.8 21.5h0M12.1 20.9h0M9.0 10.1h0M48.5 20.5h0M32.0 19.6h0M15.7 17.7h0M53.3 16.7h0M22.4 8.7h0M39.3 20.0h0M47.0 41.6h0M11.2 17.4h0M37.9 8.0h0M18.8 6.1h0M12.9 14.4h0M12.4 20.9h0M54.7 22.0h0M12.8 24.4h0M20.2 20.3h0M42.0 20.8h0M71.7 19.9h0M24.6 21.6h0M30.3 48.0h0M49.2 30.7h0M26.0 7.9h0M44.3 16.0h0M34.5 41.3h0M47.6 20.8h0M36.1 32.6h0M42.1 19.1h0M67.8 17.0h0M38.3 27.4h0M52.3 18.0h0M29.6 7.3h0M38.6 51.2h0M46.2 16.2h0M13.5 20.8h0M44.2 27.3h0M5.7 13.6h0M9.3 17.9h0M32.5 43.1h0M18.1 37.3h0M64.5 18.3h0M46.8 39.9h0M38.8 21.0h0M42.9 24.8h0M20.0 6.6h0M42.9 19.0h0M52.6 20.7h0M46.2 18.1h0M13.3 23.0h0M27.1 22.5h0M46.5 22.3h0M29.8 5.1h0M39.0 50.6h0M24.1 23.2h0M49.4 41.3h0M54.8 21.3h0M22.3 21.4h0M57.8 20.0h0M13.2 20.6h0M43.9 23.5h0M63.9 19.0h0M48.5 44.1h0M30.4 45.9h0M25.5 19.3h0M8.8 22.9h0M56.3 19.9h0M26.3 10.3h0M45.9 44.6h0M18.8 11.8h0M27.1 20.7h0M67.2 22.5h0M17.5 7.7h0M20.7 15.3h0M19.7 22.4h0M49.6 16.3h0M17.6 10.5h0M40.0 17.6h0M60.3 24.6h0M45.3 42.4h0M4.4 15.2h0M64.4 15.6h0M31.0 49.6h0M45.4 39.2h0M21.9 21.0h0M33.1 48.3h0M37.3 15.8h0M31.7 47.9h0M47.7 42.9h0M19.4 37.7h0M6.6 15.7h0M30.7 44.3h0M19.8 9.2h0M44.1 19.9h0M60.9 14.7h0M7.3 17.2h0M15.0 22.6h0M32.8 46.5h0M49.8 23.5h0M38.2 24.9h0M43.2 13.8h0M13.3 20.2h0M52.8 20.5h0M41.6 25.6h0M62.7 21.4h0M8.2 15.0h0M8.3 21.5h0M47.7 20.3h0M34.2 43.7h0M43.6 22.8h0M8.1 22.8h0M34.2 30.3h0M27.4 10.3h0M15.8 22.1h0M22.5 22.2h0M44.7 21.5h0M17.9 21.1h0M44.0 29.4h0M68.7 16.2h0M68.4 17.5h0M42.3 43.4h0M34.2 7.7h0M7.1 18.2h0M54.3 18.4h0M64.2 17.1h0M48.0 21.5h0M69.9 20.1h0M34.9 46.6h0M33.4 5.0h0M12.5 18.7h0M35.0 48.4h0M11.9 16.5h0M46.9 22.4h0M61.8 19.6h0M55.4 23.2h0M28.8 4.4h0M27.7 47.9h0M18.8 15.9h0M18.5 7.3h0M12.1 22.8h0M7.5 15.0h0M44.1 21.3h0M26.3 11.1h0M23.4 21.4h0M22.7 23.1h0M9.7 11.5h0M63.2 15.7h0M49.7 19.2h0M43.3 24.8h0M8.8 14.1h0M50.7 42.5h0M19.7 22.0h0M46.5 42.1h0M49.0 40.3h0M38.9 23.1h0M7.6 21.7h0M15.8 8.8h0M52.7 25.0h0M22.0 21.4h0M44.3 24.7h0M52.5 32.1h0M24.5 20.7h0M48.0 22.5h0M20.7 19.4h0M33.8 8.1h0M48.9 22.8h0M33.0 29.3h0M47.7 27.1h0M9.3 16.1h0M48.3 43.4h0M35.8 11.3h0M13.0 16.4h0M23.8 15.8h0M58.8 14.8h0M13.1 11.7h0M23.3 19.7h0M61.0 17.1h0M13.0 9.6h0M59.8 16.8h0M26.4 19.4h0M19.4 17.7h0M57.2 18.7h0M14.3 22.7h0M36.2 28.3h0M12.9 10.1h0M65.3 21.3h0M13.3 20.0h0M60.0 19.8h0M65.3 19.0h0M14.5 21.6h0M41.7 24.5h0M20.9 24.8h0M29.7 7.9h0M16.8 18.7h0M13.7 17.8h0M32.9 47.9h0M9.3 16.8h0M39.2 26.0h0M50.8 20.9h0M39.8 23.4h0M33.8 48.5h0M45.8 25.5h0M39.8 14.9h0M56.0 14.4h0M67.6 18.2h0M48.0 18.8h0M25.0 15.0h0M30.5 46.9h0M14.1 19.6h0M36.9 45.8h0M39.8 27.3h0M31.9 6.8h0M45.5 19.1h0M47.4 24.4h0M28.6 5.9h0M57.0 21.5h0M46.3 42.9h0M21.3 16.9h0M65.9 20.5h0M65.7 21.7h0M20.7 17.1h0M50.8 24.1h0M49.9 42.7h0M20.2 23.2h0M66.0 18.8h0M38.3 28.6h0M38.3 8.8h0M45.4 21.3h0M60.8 18.1h0M17.6 11.2h0M31.1 51.6h0M53.0 25.6h0M50.9 25.9h0M12.8 21.0h0M8.4 19.0h0M11.9 17.1h0M12.5 19.9h0M17.6 22.4h0M29.4 5.1h0M45.7 23.9h0M45.5 21.1h0M19.0 6.0h0M22.1 19.9h0M64.8 20.3h0M19.3 10.0h0M19.2 38.5h0M26.5 8.1h0M16.7 12.4h0M31.7 7.3h0M35.3 22.4h0M41.3 24.8h0M6.0 16.7h0M13.9 17.7h0M34.8 39.0h0M43.8 18.6h0M67.0 24.1h0M21.8 19.1h0M40.2 18.8h0M8.0 14.1h0M54.1 21.2h0M11.1 10.1h0M52.7 19.5h0M11.9 21.7h0M11.6 22.1h0M50.2 27.9h0M9.2 13.6h0M21.9 23.8h0M36.0 5.8h0M47.4 45.1h0M13.9 22.5h0M18.4 8.6h0M58.1 23.5h0M29.9 17.1h0M11.9 24.6h0M69.3 21.2h0M21.6 14.1h0M64.1 17.7h0M69.4 21.9h0M46.6 16.0h0M9.2 15.1h0M48.5 3.1h0M27.8 6.7h0M20.8 38.6h0M65.7 21.3h0M31.5 6.2h0M27.5 7.8h0M17.7 14.6h0M55.3 20.2h0M25.1 23.3h0M7.8 15.9h0M16.8 13.6h0M41.3 22.8h0M28.3 20.9h0M50.7 19.9h0M24.0 25.6h0M11.6 16.3h0M27.0 14.7h0M42.1 17.6h0M66.1 17.8h0M49.7 42.2h0M16.5 22.2h0M20.9 17.4h0M20.6 10.1h0M13.2 14.0h0M15.2 9.3h0M23.4 22.5h0M13.4 23.6h0M29.9 47.6h0M13.5 21.5h0M30.2 8.6h0M57.4 19.3h0M22.5 23.2h0M48.5 22.9h0M45.1 24.9h0" stroke="#dadada" stroke-width="0.95" stroke-linecap="round" fill="none"/><path d="M0 0V55.2H75.2" fill="none" stroke="#b4b4b4" stroke-width="0.9"/><text x="-1.3" y="6.3" font-size="2.8" fill="#666" text-anchor="end">10</text><text x="-1.3" y="24.1" font-size="2.8" fill="#666" text-anchor="end">0</text><text x="-1.3" y="41.8" font-size="2.8" fill="#666" text-anchor="end">-10</text><text x="13.6" y="58.4" font-size="2.8" fill="#666" text-anchor="middle">-10</text><text x="35.3" y="58.4" font-size="2.8" fill="#666" text-anchor="middle">0</text><text x="56.6" y="58.4" font-size="2.8" fill="#666" text-anchor="middle">10</text><text x="37.3" y="61.7" font-size="2.8" fill="#333" text-anchor="middle">tSNE_1</text><text transform="translate(-5.6 27.6) rotate(-90)" font-size="2.6" fill="#555" text-anchor="middle">tSNE_2</text></g></defs><g transform="translate(268.60 16.05) scale(1 1.000)"><use href="#base"/><path d="M14.6 26.8h0M58.1 24.2h0M43.9 24.9h0M30.5 6.3h0M24.6 16.4h0M14.1 21.2h0M9.3 17.9h0M48.6 23.7h0M65.9 18.3h0M25.8 10.3h0M37.9 27.5h0M33.3 8.3h0M8.5 13.3h0M20.7 25.8h0M24.2 21.5h0M40.2 27.7h0M19.7 16.5h0M54.6 23.0h0M52.6 21.6h0M51.3 22.0h0M44.4 18.3h0M8.9 15.3h0M37.0 17.3h0M11.9 18.3h0M5.8 14.6h0M59.7 25.1h0M44.9 22.4h0M43.5 26.1h0M35.1 31.6h0M16.1 9.7h0M18.7 23.4h0M12.8 19.9h0M68.3 19.7h0M39.3 14.0h0M41.5 28.8h0M63.8 21.1h0M19.7 22.6h0M26.2 11.8h0M70.1 21.4h0M8.1 13.0h0M16.5 9.9h0M48.8 14.8h0M57.9 17.1h0M41.1 18.3h0M39.2 17.0h0M41.4 20.2h0M27.1 13.8h0M22.7 24.6h0M38.1 16.5h0M35.4 32.3h0M64.9 18.4h0M36.6 15.7h0M11.4 12.4h0M26.2 12.8h0M21.4 20.3h0M70.8 20.7h0M35.9 19.1h0M32.0 5.6h0M13.0 11.4h0M49.2 22.2h0M61.6 17.4h0M13.2 9.5h0M13.7 14.3h0M18.7 10.7h0M9.2 16.3h0M7.1 14.1h0M15.6 19.6h0M16.2 8.2h0M45.9 18.4h0M40.8 14.3h0M52.4 25.3h0M69.0 18.4h0M19.3 8.8h0M14.7 10.7h0M17.1 21.8h0M45.5 22.1h0M44.3 14.9h0M16.3 23.8h0M56.6 21.7h0M11.9 24.7h0M58.7 22.7h0M26.0 15.2h0M8.6 19.4h0M68.5 18.0h0M35.0 31.0h0M35.8 16.7h0M53.1 16.9h0M37.3 21.9h0M43.0 21.3h0M22.2 19.3h0M45.7 18.2h0M15.9 20.1h0M9.6 24.8h0M62.3 21.8h0M8.4 23.6h0M58.0 19.5h0M18.1 11.1h0M54.7 25.2h0M56.5 20.5h0M7.9 15.5h0M15.2 24.1h0M5.9 16.5h0M48.4 21.0h0M69.4 23.1h0M41.4 25.1h0M9.4 20.4h0M53.0 21.0h0M57.8 17.1h0M16.9 21.5h0M48.6 18.4h0M43.7 23.0h0M27.6 14.2h0M45.0 18.5h0M15.8 10.8h0M63.8 17.6h0M44.1 18.8h0M25.7 13.9h0M50.9 27.7h0M40.8 21.4h0M42.9 25.5h0M44.2 25.2h0M52.0 26.6h0M23.5 21.3h0M5.3 14.5h0M17.7 11.7h0M36.2 18.0h0M8.5 16.4h0M67.5 21.8h0M38.7 21.1h0M33.5 19.7h0M27.0 11.5h0M12.7 20.1h0M39.6 20.9h0M45.0 21.1h0M58.6 17.7h0M55.3 21.3h0M52.1 18.6h0M48.8 3.2h0M16.5 10.0h0M65.2 16.5h0M18.8 14.2h0M26.0 21.7h0M43.2 20.1h0M8.8 20.2h0M47.8 15.1h0M51.4 22.4h0M39.2 23.2h0M44.2 20.3h0M13.8 21.1h0M30.7 25.7h0M36.3 8.4h0M46.3 21.9h0M59.3 19.8h0M25.3 21.2h0M48.6 23.3h0M51.9 19.8h0M50.1 28.2h0M42.0 24.4h0M68.7 20.7h0M23.4 21.2h0M68.9 18.5h0M12.8 22.0h0M42.2 15.7h0M37.5 7.9h0M65.6 22.3h0M57.0 19.1h0M64.8 25.6h0M48.7 3.0h0M51.9 19.8h0M23.6 17.4h0M27.5 10.6h0M67.0 15.7h0M41.7 27.3h0M39.7 13.0h0M29.2 6.0h0M39.1 18.2h0M39.9 12.0h0M13.8 14.0h0M9.6 14.2h0M30.4 6.5h0M18.1 20.8h0M9.3 17.6h0M33.8 30.5h0M39.9 14.1h0M45.9 23.6h0M6.7 13.6h0M18.1 10.2h0M7.8 15.4h0M41.0 20.6h0M50.7 24.6h0M35.2 26.1h0M26.8 15.8h0M54.7 11.9h0M64.8 19.5h0M43.4 23.6h0M69.4 17.7h0M18.2 13.8h0M24.8 9.9h0M68.2 18.5h0M40.8 23.1h0M12.7 17.9h0M38.1 21.5h0M51.2 20.0h0M22.7 19.2h0M63.7 15.3h0M24.3 23.0h0M68.6 22.0h0M49.5 21.5h0M50.7 19.7h0M65.0 19.1h0M68.2 18.3h0M23.9 5.3h0M11.2 21.2h0M21.8 17.7h0M45.5 23.8h0M21.3 19.9h0M63.5 16.4h0M51.5 21.0h0M47.7 23.1h0M46.0 18.0h0M43.3 16.9h0M33.3 29.1h0M45.8 12.2h0M17.9 22.3h0M44.4 22.5h0M64.4 22.9h0M44.4 18.7h0M49.3 28.0h0M67.0 22.2h0M37.3 9.2h0M38.1 27.9h0M33.4 26.8h0M61.4 16.9h0M6.3 17.0h0M43.0 19.5h0M48.4 2.9h0M22.7 18.3h0M42.2 22.0h0M50.5 17.2h0M47.5 27.6h0M21.3 11.7h0M16.1 6.5h0M25.1 19.2h0M9.7 12.5h0M54.0 16.7h0M47.8 20.1h0M40.8 23.1h0M33.6 4.5h0M25.5 21.0h0M66.9 15.2h0M64.7 22.4h0M69.3 22.1h0M4.6 18.1h0M68.1 20.9h0M12.3 14.3h0M55.0 20.9h0M21.4 5.8h0M21.0 21.8h0M35.3 6.3h0M36.7 16.4h0M39.5 19.0h0M37.2 16.5h0M56.2 16.7h0M44.9 16.3h0M21.6 20.9h0M37.8 8.0h0M15.4 20.7h0M55.8 12.6h0M46.8 23.3h0M58.0 21.2h0M44.9 18.0h0M38.8 16.7h0M17.2 8.3h0M22.8 23.1h0M18.2 11.4h0M8.9 13.1h0M8.6 13.3h0M27.2 9.5h0M47.7 24.8h0M28.6 18.4h0M47.1 18.2h0M31.1 7.3h0M15.4 16.4h0M56.8 21.5h0M12.1 20.9h0M9.0 10.1h0M48.5 20.5h0M32.0 19.6h0M15.7 17.7h0M53.3 16.7h0M39.3 20.0h0M11.2 17.4h0M37.9 8.0h0M18.8 6.1h0M12.9 14.4h0M12.4 20.9h0M12.8 24.4h0M20.2 20.3h0M42.0 20.8h0M71.7 19.9h0M49.2 30.7h0M26.0 7.9h0M44.3 16.0h0M47.6 20.8h0M42.1 19.1h0M67.8 17.0h0M38.3 27.4h0M52.3 18.0h0M46.2 16.2h0M13.5 20.8h0M44.2 27.3h0M5.7 13.6h0M64.5 18.3h0M42.9 24.8h0M20.0 6.6h0M52.6 20.7h0M46.2 18.1h0M13.3 23.0h0M27.1 22.5h0M46.5 22.3h0M29.8 5.1h0M54.8 21.3h0M22.3 21.4h0M57.8 20.0h0M13.2 20.6h0M43.9 23.5h0M63.9 19.0h0M25.5 19.3h0M8.8 22.9h0M56.3 19.9h0M26.3 10.3h0M18.8 11.8h0M27.1 20.7h0M67.2 22.5h0M17.5 7.7h0M20.7 15.3h0M19.7 22.4h0M49.6 16.3h0M17.6 10.5h0M60.3 24.6h0M64.4 15.6h0M37.3 15.8h0M6.6 15.7h0M19.8 9.2h0M60.9 14.7h0M15.0 22.6h0M49.8 23.5h0M43.2 13.8h0M41.6 25.6h0M62.7 21.4h0M8.2 15.0h0M8.3 21.5h0M47.7 20.3h0M43.6 22.8h0M34.2 30.3h0M22.5 22.2h0M44.7 21.5h0M17.9 21.1h0M44.0 29.4h0M68.7 16.2h0M68.4 17.5h0M34.2 7.7h0M7.1 18.2h0M54.3 18.4h0M64.2 17.1h0M48.0 21.5h0M69.9 20.1h0M33.4 5.0h0M12.5 18.7h0M46.9 22.4h0M61.8 19.6h0M55.4 23.2h0M28.8 4.4h0M18.5 7.3h0M12.1 22.8h0M44.1 21.3h0M26.3 11.1h0M23.4 21.4h0M8.8 14.1h0M19.7 22.0h0M38.9 23.1h0M15.8 8.8h0M52.7 25.0h0M52.5 32.1h0M24.5 20.7h0M48.0 22.5h0M20.7 19.4h0M48.9 22.8h0M33.0 29.3h0M47.7 27.1h0M9.3 16.1h0M35.8 11.3h0M23.8 15.8h0M58.8 14.8h0M13.1 11.7h0M23.3 19.7h0M13.0 9.6h0M59.8 16.8h0M26.4 19.4h0M19.4 17.7h0M57.2 18.7h0M36.2 28.3h0M65.3 21.3h0M13.3 20.0h0M60.0 19.8h0M65.3 19.0h0M14.5 21.6h0M41.7 24.5h0M20.9 24.8h0M29.7 7.9h0M16.8 18.7h0M13.7 17.8h0M50.8 20.9h0M39.8 14.9h0M56.0 14.4h0M48.0 18.8h0M25.0 15.0h0M39.8 27.3h0M31.9 6.8h0M45.5 19.1h0M47.4 24.4h0M28.6 5.9h0M57.0 21.5h0M21.3 16.9h0M65.9 20.5h0M65.7 21.7h0M50.8 24.1h0M66.0 18.8h0M45.4 21.3h0M53.0 25.6h0M50.9 25.9h0M11.9 17.1h0M12.5 19.9h0M29.4 5.1h0M64.8 20.3h0M19.3 10.0h0M26.5 8.1h0M16.7 12.4h0M31.7 7.3h0M35.3 22.4h0M41.3 24.8h0M6.0 16.7h0M13.9 17.7h0M43.8 18.6h0M67.0 24.1h0M21.8 19.1h0M40.2 18.8h0M54.1 21.2h0M52.7 19.5h0M50.2 27.9h0M9.2 13.6h0M36.0 5.8h0M13.9 22.5h0M29.9 17.1h0M11.9 24.6h0M69.3 21.2h0M64.1 17.7h0M69.4 21.9h0M46.6 16.0h0M9.2 15.1h0M48.5 3.1h0M27.8 6.7h0M31.5 6.2h0M27.5 7.8h0M55.3 20.2h0M25.1 23.3h0M7.8 15.9h0M16.8 13.6h0M41.3 22.8h0M28.3 20.9h0M11.6 16.3h0M27.0 14.7h0M66.1 17.8h0M16.5 22.2h0M20.9 17.4h0M20.6 10.1h0M13.2 14.0h0M23.4 22.5h0M13.4 23.6h0M13.5 21.5h0M30.2 8.6h0M57.4 19.3h0M22.5 23.2h0M48.5 22.9h0M45.1 24.9h0" stroke="#f09080" stroke-width="3.6" stroke-linecap="round" fill="none" opacity="0.14"/><path d="M14.6 26.8h0M9.3 17.9h0M33.3 8.3h0M8.5 13.3h0M20.7 25.8h0M19.7 16.5h0M8.9 15.3h0M18.7 23.4h0M19.7 22.6h0M8.1 13.0h0M22.7 24.6h0M7.1 14.1h0M15.6 19.6h0M19.3 8.8h0M14.7 10.7h0M26.0 15.2h0M8.6 19.4h0M15.9 20.1h0M9.6 24.8h0M8.4 23.6h0M7.9 15.5h0M15.2 24.1h0M9.4 20.4h0M27.6 14.2h0M25.7 13.9h0M5.3 14.5h0M17.7 11.7h0M18.8 14.2h0M8.8 20.2h0M36.3 8.4h0M23.6 17.4h0M29.2 6.0h0M9.6 14.2h0M30.4 6.5h0M18.1 20.8h0M6.7 13.6h0M18.1 10.2h0M7.8 15.4h0M26.8 15.8h0M12.7 17.9h0M21.8 17.7h0M21.3 19.9h0M6.3 17.0h0M16.1 6.5h0M25.1 19.2h0M9.7 12.5h0M33.6 4.5h0M25.5 21.0h0M12.3 14.3h0M21.0 21.8h0M35.3 6.3h0M37.8 8.0h0M15.4 20.7h0M17.2 8.3h0M22.8 23.1h0M8.6 13.3h0M27.2 9.5h0M28.6 18.4h0M31.1 7.3h0M15.4 16.4h0M9.0 10.1h0M11.2 17.4h0M37.9 8.0h0M18.8 6.1h0M20.2 20.3h0M13.5 20.8h0M27.1 22.5h0M22.3 21.4h0M13.2 20.6h0M25.5 19.3h0M8.8 22.9h0M19.7 22.4h0M17.6 10.5h0M34.2 7.7h0M33.4 5.0h0M18.5 7.3h0M12.1 22.8h0M26.3 11.1h0M8.8 14.1h0M24.5 20.7h0M13.1 11.7h0M19.4 17.7h0M14.5 21.6h0M21.3 16.9h0M11.9 17.1h0M16.7 12.4h0M21.8 19.1h0M9.2 13.6h0M13.9 22.5h0M11.9 24.6h0M27.8 6.7h0M31.5 6.2h0M16.8 13.6h0M28.3 20.9h0M20.6 10.1h0M13.4 23.6h0" stroke="#f0b4a0" stroke-width="1.0" stroke-linecap="round" fill="none"/><path d="M43.9 24.9h0M30.5 6.3h0M24.6 16.4h0M14.1 21.2h0M48.6 23.7h0M25.8 10.3h0M37.9 27.5h0M24.2 21.5h0M51.3 22.0h0M11.9 18.3h0M5.8 14.6h0M59.7 25.1h0M44.9 22.4h0M16.1 9.7h0M12.8 19.9h0M41.5 28.8h0M63.8 21.1h0M26.2 11.8h0M16.5 9.9h0M48.8 14.8h0M41.1 18.3h0M39.2 17.0h0M27.1 13.8h0M36.6 15.7h0M11.4 12.4h0M26.2 12.8h0M21.4 20.3h0M70.8 20.7h0M35.9 19.1h0M32.0 5.6h0M13.0 11.4h0M49.2 22.2h0M61.6 17.4h0M13.2 9.5h0M13.7 14.3h0M18.7 10.7h0M9.2 16.3h0M16.2 8.2h0M40.8 14.3h0M17.1 21.8h0M44.3 14.9h0M16.3 23.8h0M56.6 21.7h0M11.9 24.7h0M35.0 31.0h0M35.8 16.7h0M22.2 19.3h0M45.7 18.2h0M62.3 21.8h0M18.1 11.1h0M54.7 25.2h0M5.9 16.5h0M48.4 21.0h0M41.4 25.1h0M57.8 17.1h0M16.9 21.5h0M15.8 10.8h0M44.1 18.8h0M50.9 27.7h0M40.8 21.4h0M52.0 26.6h0M23.5 21.3h0M36.2 18.0h0M8.5 16.4h0M38.7 21.1h0M27.0 11.5h0M12.7 20.1h0M48.8 3.2h0M16.5 10.0h0M26.0 21.7h0M39.2 23.2h0M13.8 21.1h0M59.3 19.8h0M25.3 21.2h0M51.9 19.8h0M50.1 28.2h0M23.4 21.2h0M68.9 18.5h0M12.8 22.0h0M37.5 7.9h0M65.6 22.3h0M57.0 19.1h0M48.7 3.0h0M51.9 19.8h0M27.5 10.6h0M41.7 27.3h0M39.7 13.0h0M39.9 12.0h0M13.8 14.0h0M9.3 17.6h0M39.9 14.1h0M45.9 23.6h0M41.0 20.6h0M64.8 19.5h0M18.2 13.8h0M24.8 9.9h0M68.2 18.5h0M40.8 23.1h0M22.7 19.2h0M24.3 23.0h0M68.6 22.0h0M50.7 19.7h0M68.2 18.3h0M23.9 5.3h0M11.2 21.2h0M63.5 16.4h0M51.5 21.0h0M33.3 29.1h0M17.9 22.3h0M67.0 22.2h0M37.3 9.2h0M22.7 18.3h0M50.5 17.2h0M47.5 27.6h0M21.3 11.7h0M54.0 16.7h0M4.6 18.1h0M21.4 5.8h0M36.7 16.4h0M44.9 16.3h0M21.6 20.9h0M46.8 23.3h0M44.9 18.0h0M18.2 11.4h0M8.9 13.1h0M12.1 20.9h0M32.0 19.6h0M15.7 17.7h0M12.9 14.4h0M12.4 20.9h0M12.8 24.4h0M42.0 20.8h0M49.2 30.7h0M26.0 7.9h0M44.3 16.0h0M42.1 19.1h0M38.3 27.4h0M52.3 18.0h0M46.2 16.2h0M44.2 27.3h0M5.7 13.6h0M42.9 24.8h0M20.0 6.6h0M13.3 23.0h0M29.8 5.1h0M43.9 23.5h0M26.3 10.3h0M18.8 11.8h0M27.1 20.7h0M17.5 7.7h0M20.7 15.3h0M49.6 16.3h0M64.4 15.6h0M37.3 15.8h0M6.6 15.7h0M19.8 9.2h0M60.9 14.7h0M15.0 22.6h0M49.8 23.5h0M41.6 25.6h0M8.2 15.0h0M8.3 21.5h0M47.7 20.3h0M43.6 22.8h0M22.5 22.2h0M17.9 21.1h0M44.0 29.4h0M7.1 18.2h0M64.2 17.1h0M48.0 21.5h0M12.5 18.7h0M46.9 22.4h0M61.8 19.6h0M28.8 4.4h0M44.1 21.3h0M23.4 21.4h0M19.7 22.0h0M15.8 8.8h0M52.7 25.0h0M52.5 32.1h0M20.7 19.4h0M33.0 29.3h0M9.3 16.1h0M35.8 11.3h0M23.8 15.8h0M23.3 19.7h0M13.0 9.6h0M59.8 16.8h0M26.4 19.4h0M36.2 28.3h0M13.3 20.0h0M20.9 24.8h0M29.7 7.9h0M16.8 18.7h0M13.7 17.8h0M25.0 15.0h0M31.9 6.8h0M47.4 24.4h0M28.6 5.9h0M65.9 20.5h0M66.0 18.8h0M45.4 21.3h0M50.9 25.9h0M12.5 19.9h0M29.4 5.1h0M19.3 10.0h0M26.5 8.1h0M31.7 7.3h0M35.3 22.4h0M6.0 16.7h0M13.9 17.7h0M40.2 18.8h0M36.0 5.8h0M69.3 21.2h0M64.1 17.7h0M69.4 21.9h0M46.6 16.0h0M9.2 15.1h0M27.5 7.8h0M25.1 23.3h0M7.8 15.9h0M11.6 16.3h0M27.0 14.7h0M16.5 22.2h0M20.9 17.4h0M13.2 14.0h0M23.4 22.5h0M13.5 21.5h0M30.2 8.6h0M57.4 19.3h0M22.5 23.2h0M48.5 22.9h0" stroke="#ea9478" stroke-width="1.0" stroke-linecap="round" fill="none"/><path d="M58.1 24.2h0M65.9 18.3h0M40.2 27.7h0M54.6 23.0h0M52.6 21.6h0M44.4 18.3h0M37.0 17.3h0M43.5 26.1h0M35.1 31.6h0M68.3 19.7h0M39.3 14.0h0M70.1 21.4h0M57.9 17.1h0M41.4 20.2h0M38.1 16.5h0M35.4 32.3h0M64.9 18.4h0M45.9 18.4h0M52.4 25.3h0M69.0 18.4h0M45.5 22.1h0M58.7 22.7h0M68.5 18.0h0M53.1 16.9h0M37.3 21.9h0M43.0 21.3h0M58.0 19.5h0M56.5 20.5h0M69.4 23.1h0M53.0 21.0h0M48.6 18.4h0M43.7 23.0h0M45.0 18.5h0M63.8 17.6h0M42.9 25.5h0M44.2 25.2h0M67.5 21.8h0M33.5 19.7h0M39.6 20.9h0M45.0 21.1h0M58.6 17.7h0M55.3 21.3h0M52.1 18.6h0M65.2 16.5h0M43.2 20.1h0M47.8 15.1h0M51.4 22.4h0M44.2 20.3h0M30.7 25.7h0M46.3 21.9h0M48.6 23.3h0M42.0 24.4h0M68.7 20.7h0M42.2 15.7h0M64.8 25.6h0M67.0 15.7h0M39.1 18.2h0M33.8 30.5h0M50.7 24.6h0M35.2 26.1h0M54.7 11.9h0M43.4 23.6h0M69.4 17.7h0M38.1 21.5h0M51.2 20.0h0M63.7 15.3h0M49.5 21.5h0M65.0 19.1h0M45.5 23.8h0M47.7 23.1h0M46.0 18.0h0M43.3 16.9h0M45.8 12.2h0M44.4 22.5h0M64.4 22.9h0M44.4 18.7h0M49.3 28.0h0M38.1 27.9h0M33.4 26.8h0M61.4 16.9h0M43.0 19.5h0M48.4 2.9h0M42.2 22.0h0M47.8 20.1h0M40.8 23.1h0M66.9 15.2h0M64.7 22.4h0M69.3 22.1h0M68.1 20.9h0M55.0 20.9h0M39.5 19.0h0M37.2 16.5h0M56.2 16.7h0M55.8 12.6h0M58.0 21.2h0M38.8 16.7h0M47.7 24.8h0M47.1 18.2h0M56.8 21.5h0M48.5 20.5h0M53.3 16.7h0M39.3 20.0h0M71.7 19.9h0M47.6 20.8h0M67.8 17.0h0M64.5 18.3h0M52.6 20.7h0M46.2 18.1h0M46.5 22.3h0M54.8 21.3h0M57.8 20.0h0M63.9 19.0h0M56.3 19.9h0M67.2 22.5h0M60.3 24.6h0M43.2 13.8h0M62.7 21.4h0M34.2 30.3h0M44.7 21.5h0M68.7 16.2h0M68.4 17.5h0M54.3 18.4h0M69.9 20.1h0M55.4 23.2h0M38.9 23.1h0M48.0 22.5h0M48.9 22.8h0M47.7 27.1h0M58.8 14.8h0M57.2 18.7h0M65.3 21.3h0M60.0 19.8h0M65.3 19.0h0M41.7 24.5h0M50.8 20.9h0M39.8 14.9h0M56.0 14.4h0M48.0 18.8h0M39.8 27.3h0M45.5 19.1h0M57.0 21.5h0M65.7 21.7h0M50.8 24.1h0M53.0 25.6h0M64.8 20.3h0M41.3 24.8h0M43.8 18.6h0M67.0 24.1h0M54.1 21.2h0M52.7 19.5h0M50.2 27.9h0M29.9 17.1h0M48.5 3.1h0M55.3 20.2h0M41.3 22.8h0M66.1 17.8h0M45.1 24.9h0" stroke="#e27656" stroke-width="1.0" stroke-linecap="round" fill="none"/><text x="37.6" y="-0.9" font-size="3.0" font-weight="bold" fill="#222" text-anchor="middle">PTPRC</text></g><g transform="translate(354.90 16.05) scale(1 1.000)"><use href="#base"/><path d="M45.9 20.9h0M58.1 24.2h0M43.9 24.9h0M50.8 25.6h0M48.6 23.7h0M65.9 18.3h0M37.9 27.5h0M40.2 27.7h0M54.6 23.0h0M52.6 21.6h0M51.3 22.0h0M44.4 18.3h0M37.0 17.3h0M59.7 25.1h0M55.6 22.3h0M44.9 22.4h0M43.5 26.1h0M35.1 31.6h0M68.3 19.7h0M39.3 14.0h0M41.5 28.8h0M63.8 21.1h0M70.1 21.4h0M57.9 17.1h0M41.1 18.3h0M39.2 17.0h0M41.4 20.2h0M38.1 16.5h0M64.9 18.4h0M36.6 15.7h0M49.6 16.4h0M70.8 20.7h0M35.9 19.1h0M49.2 22.2h0M61.6 17.4h0M46.1 25.0h0M45.9 18.4h0M46.9 16.4h0M40.8 14.3h0M52.4 25.3h0M45.5 22.1h0M44.3 14.9h0M56.6 21.7h0M58.7 22.7h0M68.5 18.0h0M35.0 31.0h0M35.8 16.7h0M43.0 21.3h0M45.7 18.2h0M62.3 21.8h0M58.0 19.5h0M41.4 25.1h0M53.0 21.0h0M48.6 18.4h0M43.7 23.0h0M45.0 18.5h0M63.8 17.6h0M44.1 18.8h0M40.8 21.4h0M42.9 25.5h0M44.2 25.2h0M52.0 26.6h0M59.4 19.5h0M67.5 21.8h0M39.6 20.9h0M45.0 21.1h0M58.6 17.7h0M55.3 21.3h0M48.8 3.2h0M65.2 16.5h0M54.3 29.9h0M43.2 20.1h0M47.8 15.1h0M51.4 22.4h0M44.2 20.3h0M59.3 19.8h0M51.9 19.8h0M50.1 28.2h0M42.0 24.4h0M68.7 20.7h0M46.1 25.6h0M42.2 15.7h0M57.0 19.1h0M64.8 25.6h0M48.7 3.0h0M51.9 19.8h0M67.0 15.7h0M39.7 13.0h0M45.8 19.6h0M39.1 18.2h0M39.9 12.0h0M39.9 14.1h0M45.9 23.6h0M50.7 24.6h0M35.2 26.1h0M54.7 11.9h0M43.4 23.6h0M69.4 17.7h0M68.2 18.5h0M63.7 15.3h0M68.6 22.0h0M49.5 21.5h0M50.7 19.7h0M64.5 19.8h0M58.0 19.4h0M65.0 19.1h0M68.2 18.3h0M45.5 23.8h0M63.5 16.4h0M46.0 18.0h0M43.3 16.9h0M54.1 18.9h0M44.4 22.5h0M64.4 22.9h0M49.3 28.0h0M67.0 22.2h0M38.1 27.9h0M61.4 16.9h0M43.0 19.5h0M48.4 2.9h0M42.2 22.0h0M50.5 17.2h0M47.5 27.6h0M54.0 16.7h0M46.3 23.6h0M40.8 23.1h0M66.9 15.2h0M64.7 22.4h0M69.3 22.1h0M55.0 20.9h0M36.7 16.4h0M39.5 19.0h0M37.2 16.5h0M56.2 16.7h0M44.9 16.3h0M54.8 22.8h0M42.2 23.0h0M55.8 12.6h0M46.8 23.3h0M58.0 21.2h0M35.8 15.9h0M44.9 18.0h0M38.8 16.7h0M47.7 24.8h0M47.1 18.2h0M56.8 21.5h0M48.5 20.5h0M53.3 16.7h0M39.3 20.0h0M54.7 22.0h0M71.7 19.9h0M44.3 16.0h0M36.1 32.6h0M42.1 19.1h0M67.8 17.0h0M38.3 27.4h0M52.3 18.0h0M46.2 16.2h0M64.5 18.3h0M38.8 21.0h0M42.9 19.0h0M52.6 20.7h0M46.2 18.1h0M54.8 21.3h0M57.8 20.0h0M43.9 23.5h0M63.9 19.0h0M56.3 19.9h0M67.2 22.5h0M49.6 16.3h0M40.0 17.6h0M37.3 15.8h0M44.1 19.9h0M60.9 14.7h0M49.8 23.5h0M38.2 24.9h0M43.2 13.8h0M52.8 20.5h0M41.6 25.6h0M62.7 21.4h0M47.7 20.3h0M43.6 22.8h0M44.7 21.5h0M44.0 29.4h0M68.7 16.2h0M68.4 17.5h0M54.3 18.4h0M48.0 21.5h0M46.9 22.4h0M61.8 19.6h0M55.4 23.2h0M44.1 21.3h0M63.2 15.7h0M49.7 19.2h0M43.3 24.8h0M38.9 23.1h0M44.3 24.7h0M52.5 32.1h0M48.0 22.5h0M48.9 22.8h0M47.7 27.1h0M58.8 14.8h0M61.0 17.1h0M57.2 18.7h0M36.2 28.3h0M65.3 21.3h0M60.0 19.8h0M39.2 26.0h0M50.8 20.9h0M39.8 23.4h0M45.8 25.5h0M56.0 14.4h0M67.6 18.2h0M39.8 27.3h0M45.5 19.1h0M47.4 24.4h0M57.0 21.5h0M65.9 20.5h0M65.7 21.7h0M38.3 28.6h0M45.4 21.3h0M60.8 18.1h0M53.0 25.6h0M45.7 23.9h0M64.8 20.3h0M41.3 24.8h0M43.8 18.6h0M67.0 24.1h0M40.2 18.8h0M54.1 21.2h0M52.7 19.5h0M50.2 27.9h0M58.1 23.5h0M69.3 21.2h0M64.1 17.7h0M69.4 21.9h0M46.6 16.0h0M48.5 3.1h0M65.7 21.3h0M55.3 20.2h0M41.3 22.8h0M50.7 19.9h0M42.1 17.6h0M66.1 17.8h0M57.4 19.3h0M48.5 22.9h0M45.1 24.9h0" stroke="#f09080" stroke-width="3.6" stroke-linecap="round" fill="none" opacity="0.14"/><path d="M43.9 24.9h0M48.6 23.7h0M65.9 18.3h0M37.9 27.5h0M52.6 21.6h0M43.5 26.1h0M35.1 31.6h0M68.3 19.7h0M38.1 16.5h0M64.9 18.4h0M49.6 16.4h0M70.8 20.7h0M49.2 22.2h0M61.6 17.4h0M52.4 25.3h0M45.5 22.1h0M68.5 18.0h0M35.0 31.0h0M43.0 21.3h0M58.0 19.5h0M41.4 25.1h0M43.7 23.0h0M44.1 18.8h0M52.0 26.6h0M39.6 20.9h0M45.0 21.1h0M55.3 21.3h0M48.8 3.2h0M65.2 16.5h0M54.3 29.9h0M47.8 15.1h0M42.2 15.7h0M48.7 3.0h0M51.9 19.8h0M39.7 13.0h0M45.8 19.6h0M39.9 12.0h0M50.7 24.6h0M69.4 17.7h0M68.6 22.0h0M49.5 21.5h0M50.7 19.7h0M45.5 23.8h0M46.0 18.0h0M54.1 18.9h0M49.3 28.0h0M38.1 27.9h0M43.0 19.5h0M48.4 2.9h0M50.5 17.2h0M40.8 23.1h0M66.9 15.2h0M64.7 22.4h0M36.7 16.4h0M39.5 19.0h0M44.9 16.3h0M58.0 21.2h0M47.7 24.8h0M47.1 18.2h0M48.5 20.5h0M54.7 22.0h0M44.3 16.0h0M67.8 17.0h0M38.3 27.4h0M52.3 18.0h0M46.2 16.2h0M42.9 19.0h0M46.2 18.1h0M43.9 23.5h0M56.3 19.9h0M44.1 19.9h0M38.2 24.9h0M43.2 13.8h0M62.7 21.4h0M47.7 20.3h0M44.0 29.4h0M68.7 16.2h0M54.3 18.4h0M48.0 21.5h0M46.9 22.4h0M44.3 24.7h0M52.5 32.1h0M48.0 22.5h0M48.9 22.8h0M47.7 27.1h0M57.2 18.7h0M36.2 28.3h0M65.3 21.3h0M60.0 19.8h0M45.8 25.5h0M56.0 14.4h0M67.6 18.2h0M57.0 21.5h0M65.7 21.7h0M41.3 24.8h0M67.0 24.1h0M52.7 19.5h0M50.2 27.9h0M69.3 21.2h0M69.4 21.9h0M48.5 3.1h0M65.7 21.3h0M41.3 22.8h0M50.7 19.9h0M42.1 17.6h0M66.1 17.8h0M57.4 19.3h0" stroke="#ea9478" stroke-width="1.0" stroke-linecap="round" fill="none"/><path d="M45.9 20.9h0M58.1 24.2h0M50.8 25.6h0M40.2 27.7h0M54.6 23.0h0M51.3 22.0h0M44.4 18.3h0M37.0 17.3h0M59.7 25.1h0M55.6 22.3h0M44.9 22.4h0M39.3 14.0h0M41.5 28.8h0M63.8 21.1h0M70.1 21.4h0M57.9 17.1h0M41.1 18.3h0M39.2 17.0h0M41.4 20.2h0M36.6 15.7h0M35.9 19.1h0M46.1 25.0h0M45.9 18.4h0M46.9 16.4h0M40.8 14.3h0M44.3 14.9h0M56.6 21.7h0M58.7 22.7h0M35.8 16.7h0M45.7 18.2h0M62.3 21.8h0M53.0 21.0h0M48.6 18.4h0M45.0 18.5h0M63.8 17.6h0M40.8 21.4h0M42.9 25.5h0M44.2 25.2h0M59.4 19.5h0M67.5 21.8h0M58.6 17.7h0M43.2 20.1h0M51.4 22.4h0M44.2 20.3h0M59.3 19.8h0M51.9 19.8h0M50.1 28.2h0M42.0 24.4h0M68.7 20.7h0M46.1 25.6h0M57.0 19.1h0M64.8 25.6h0M67.0 15.7h0M39.1 18.2h0M39.9 14.1h0M45.9 23.6h0M35.2 26.1h0M54.7 11.9h0M43.4 23.6h0M68.2 18.5h0M63.7 15.3h0M64.5 19.8h0M58.0 19.4h0M65.0 19.1h0M68.2 18.3h0M63.5 16.4h0M43.3 16.9h0M44.4 22.5h0M64.4 22.9h0M67.0 22.2h0M61.4 16.9h0M42.2 22.0h0M47.5 27.6h0M54.0 16.7h0M46.3 23.6h0M69.3 22.1h0M55.0 20.9h0M37.2 16.5h0M56.2 16.7h0M54.8 22.8h0M42.2 23.0h0M55.8 12.6h0M46.8 23.3h0M35.8 15.9h0M44.9 18.0h0M38.8 16.7h0M56.8 21.5h0M53.3 16.7h0M39.3 20.0h0M71.7 19.9h0M36.1 32.6h0M42.1 19.1h0M64.5 18.3h0M38.8 21.0h0M52.6 20.7h0M54.8 21.3h0M57.8 20.0h0M63.9 19.0h0M67.2 22.5h0M49.6 16.3h0M40.0 17.6h0M37.3 15.8h0M60.9 14.7h0M49.8 23.5h0M52.8 20.5h0M41.6 25.6h0M43.6 22.8h0M44.7 21.5h0M68.4 17.5h0M61.8 19.6h0M55.4 23.2h0M44.1 21.3h0M63.2 15.7h0M49.7 19.2h0M43.3 24.8h0M38.9 23.1h0M58.8 14.8h0M61.0 17.1h0M39.2 26.0h0M50.8 20.9h0M39.8 23.4h0M39.8 27.3h0M45.5 19.1h0M47.4 24.4h0M65.9 20.5h0M38.3 28.6h0M45.4 21.3h0M60.8 18.1h0M53.0 25.6h0M45.7 23.9h0M64.8 20.3h0M43.8 18.6h0M40.2 18.8h0M54.1 21.2h0M58.1 23.5h0M64.1 17.7h0M46.6 16.0h0M55.3 20.2h0M48.5 22.9h0M45.1 24.9h0" stroke="#e27656" stroke-width="1.0" stroke-linecap="round" fill="none"/><text x="37.6" y="-0.9" font-size="3.0" font-weight="bold" fill="#222" text-anchor="middle">CD3E</text></g><g transform="translate(441.20 16.05) scale(1 1.000)"><use href="#base"/><path d="M45.9 20.9h0M14.6 26.8h0M17.4 23.3h0M22.7 18.5h0M21.0 18.5h0M14.8 8.9h0M30.5 6.3h0M24.6 16.4h0M14.1 21.2h0M9.3 17.9h0M11.9 16.0h0M25.8 10.3h0M33.3 8.3h0M8.5 13.3h0M20.7 25.8h0M24.2 21.5h0M19.7 16.5h0M52.6 21.6h0M15.9 24.7h0M44.4 18.3h0M37.0 17.3h0M11.9 18.3h0M7.7 12.2h0M15.8 18.7h0M5.8 14.6h0M55.6 22.3h0M44.9 22.4h0M16.1 9.7h0M18.7 23.4h0M12.8 19.9h0M9.0 13.6h0M12.4 12.9h0M39.3 14.0h0M41.5 28.8h0M13.2 20.9h0M18.0 7.7h0M14.4 22.8h0M19.7 22.6h0M26.2 11.8h0M28.8 6.5h0M16.5 9.9h0M48.8 14.8h0M21.4 22.9h0M9.9 23.6h0M41.4 20.2h0M27.1 13.8h0M22.7 24.6h0M35.4 32.3h0M22.9 19.1h0M26.2 12.8h0M21.4 20.3h0M34.1 19.5h0M32.0 5.6h0M12.7 15.5h0M13.0 11.4h0M13.2 9.5h0M18.7 10.7h0M9.2 16.3h0M7.1 14.1h0M29.8 8.5h0M9.9 17.4h0M15.6 19.6h0M16.2 8.2h0M31.4 19.7h0M40.8 14.3h0M69.0 18.4h0M19.3 8.8h0M14.7 10.7h0M17.1 21.8h0M8.5 14.8h0M44.3 14.9h0M16.3 23.8h0M26.6 21.4h0M11.9 24.7h0M26.0 15.2h0M21.1 20.5h0M8.6 19.4h0M35.8 16.7h0M33.3 8.1h0M43.0 21.3h0M22.5 20.1h0M8.4 23.6h0M19.8 19.5h0M18.1 11.1h0M19.9 8.6h0M56.5 20.5h0M7.9 15.5h0M15.2 24.1h0M30.9 7.4h0M9.4 20.4h0M53.0 21.0h0M12.5 23.9h0M16.9 21.5h0M43.7 23.0h0M45.0 18.5h0M56.5 24.4h0M15.8 10.8h0M63.8 17.6h0M13.4 11.7h0M25.7 13.9h0M50.9 27.7h0M42.9 25.5h0M9.6 16.1h0M14.6 21.0h0M28.3 10.7h0M23.5 21.3h0M16.2 19.1h0M5.3 14.5h0M22.8 21.2h0M59.4 19.5h0M14.9 11.8h0M9.9 14.6h0M8.5 16.4h0M38.7 21.1h0M27.0 11.5h0M12.7 20.1h0M58.6 17.7h0M48.8 3.2h0M16.5 10.0h0M65.2 16.5h0M54.3 29.9h0M18.8 14.2h0M26.0 21.7h0M43.2 20.1h0M8.8 20.2h0M47.8 15.1h0M39.2 23.2h0M29.3 7.1h0M13.8 21.1h0M30.7 25.7h0M37.0 7.9h0M36.3 8.4h0M46.3 21.9h0M27.3 8.0h0M50.1 28.2h0M23.4 21.2h0M46.1 25.6h0M68.9 18.5h0M12.8 22.0h0M42.2 15.7h0M37.5 7.9h0M65.6 22.3h0M51.9 19.8h0M23.6 17.4h0M41.7 27.3h0M39.7 13.0h0M45.8 19.6h0M29.2 6.0h0M39.1 18.2h0M13.8 14.0h0M9.6 14.2h0M30.4 6.5h0M48.2 24.8h0M18.1 20.8h0M9.3 17.6h0M18.1 10.2h0M7.8 15.4h0M50.7 24.6h0M26.8 15.8h0M43.4 23.6h0M18.2 13.8h0M24.8 9.9h0M10.9 23.9h0M68.2 18.5h0M12.7 17.9h0M30.1 6.2h0M51.2 20.0h0M22.7 19.2h0M63.7 15.3h0M7.0 20.5h0M24.3 23.0h0M49.5 21.5h0M10.7 21.6h0M58.0 19.4h0M23.9 5.3h0M11.2 21.2h0M45.5 23.8h0M47.7 23.1h0M43.3 16.9h0M33.3 29.1h0M45.8 12.2h0M17.9 22.3h0M9.8 22.4h0M44.4 18.7h0M26.3 15.8h0M49.3 28.0h0M37.3 9.2h0M38.1 27.9h0M8.1 15.6h0M9.3 18.5h0M35.3 7.1h0M43.0 19.5h0M22.7 18.3h0M21.4 24.6h0M50.5 17.2h0M21.3 11.7h0M16.1 6.5h0M25.1 19.2h0M9.7 12.5h0M18.6 14.5h0M22.6 16.7h0M54.0 16.7h0M31.8 5.6h0M33.6 4.5h0M25.5 21.0h0M4.6 18.1h0M23.8 20.1h0M12.3 14.3h0M22.8 5.6h0M21.0 21.8h0M35.3 6.3h0M36.7 16.4h0M44.9 16.3h0M21.6 20.9h0M27.5 8.0h0M37.8 8.0h0M13.7 10.7h0M15.4 20.7h0M55.8 12.6h0M4.7 18.1h0M16.2 9.7h0M27.0 7.0h0M46.8 23.3h0M35.8 15.9h0M44.9 18.0h0M22.8 23.1h0M18.2 11.4h0M8.9 13.1h0M8.6 13.3h0M27.2 9.5h0M28.6 18.4h0M22.1 21.6h0M15.4 16.4h0M12.1 20.9h0M9.0 10.1h0M48.5 20.5h0M15.7 17.7h0M22.4 8.7h0M39.3 20.0h0M11.2 17.4h0M37.9 8.0h0M18.8 6.1h0M12.9 14.4h0M12.4 20.9h0M54.7 22.0h0M12.8 24.4h0M20.2 20.3h0M42.0 20.8h0M24.6 21.6h0M26.0 7.9h0M47.6 20.8h0M36.1 32.6h0M29.6 7.3h0M13.5 20.8h0M44.2 27.3h0M5.7 13.6h0M20.0 6.6h0M52.6 20.7h0M13.3 23.0h0M46.5 22.3h0M29.8 5.1h0M24.1 23.2h0M22.3 21.4h0M13.2 20.6h0M43.9 23.5h0M25.5 19.3h0M26.3 10.3h0M27.1 20.7h0M17.5 7.7h0M20.7 15.3h0M19.7 22.4h0M49.6 16.3h0M17.6 10.5h0M40.0 17.6h0M60.3 24.6h0M4.4 15.2h0M21.9 21.0h0M6.6 15.7h0M19.8 9.2h0M44.1 19.9h0M7.3 17.2h0M15.0 22.6h0M38.2 24.9h0M52.8 20.5h0M41.6 25.6h0M8.2 15.0h0M8.3 21.5h0M47.7 20.3h0M43.6 22.8h0M8.1 22.8h0M27.4 10.3h0M15.8 22.1h0M22.5 22.2h0M44.0 29.4h0M68.7 16.2h0M34.2 7.7h0M33.4 5.0h0M12.5 18.7h0M11.9 16.5h0M46.9 22.4h0M55.4 23.2h0M28.8 4.4h0M18.8 15.9h0M18.5 7.3h0M12.1 22.8h0M7.5 15.0h0M26.3 11.1h0M23.4 21.4h0M22.7 23.1h0M9.7 11.5h0M63.2 15.7h0M43.3 24.8h0M8.8 14.1h0M7.6 21.7h0M52.7 25.0h0M22.0 21.4h0M24.5 20.7h0M48.0 22.5h0M20.7 19.4h0M48.9 22.8h0M47.7 27.1h0M9.3 16.1h0M35.8 11.3h0M13.0 16.4h0M13.1 11.7h0M23.3 19.7h0M26.4 19.4h0M19.4 17.7h0M14.3 22.7h0M12.9 10.1h0M14.5 21.6h0M41.7 24.5h0M29.7 7.9h0M13.7 17.8h0M39.2 26.0h0M39.8 23.4h0M25.0 15.0h0M14.1 19.6h0M39.8 27.3h0M21.3 16.9h0M20.7 17.1h0M20.2 23.2h0M38.3 8.8h0M17.6 11.2h0M12.8 21.0h0M8.4 19.0h0M11.9 17.1h0M12.5 19.9h0M17.6 22.4h0M29.4 5.1h0M19.0 6.0h0M19.3 10.0h0M26.5 8.1h0M16.7 12.4h0M31.7 7.3h0M35.3 22.4h0M6.0 16.7h0M13.9 17.7h0M21.8 19.1h0M40.2 18.8h0M8.0 14.1h0M54.1 21.2h0M11.1 10.1h0M52.7 19.5h0M9.2 13.6h0M21.9 23.8h0M36.0 5.8h0M13.9 22.5h0M58.1 23.5h0M11.9 24.6h0M21.6 14.1h0M46.6 16.0h0M9.2 15.1h0M27.8 6.7h0M31.5 6.2h0M25.1 23.3h0M7.8 15.9h0M16.8 13.6h0M41.3 22.8h0M28.3 20.9h0M50.7 19.9h0M24.0 25.6h0M11.6 16.3h0M27.0 14.7h0M20.9 17.4h0M20.6 10.1h0M13.2 14.0h0M23.4 22.5h0M13.4 23.6h0M13.5 21.5h0M22.5 23.2h0M45.1 24.9h0" stroke="#f09080" stroke-width="3.6" stroke-linecap="round" fill="none" opacity="0.14"/><path d="M17.4 23.3h0M30.5 6.3h0M14.1 21.2h0M9.3 17.9h0M8.5 13.3h0M20.7 25.8h0M11.9 18.3h0M44.9 22.4h0M12.8 19.9h0M9.0 13.6h0M12.4 12.9h0M39.3 14.0h0M26.2 11.8h0M21.4 22.9h0M9.9 23.6h0M27.1 13.8h0M35.4 32.3h0M22.9 19.1h0M26.2 12.8h0M21.4 20.3h0M13.0 11.4h0M13.2 9.5h0M18.7 10.7h0M29.8 8.5h0M15.6 19.6h0M16.2 8.2h0M69.0 18.4h0M17.1 21.8h0M8.5 14.8h0M44.3 14.9h0M16.3 23.8h0M43.0 21.3h0M22.5 20.1h0M18.1 11.1h0M19.9 8.6h0M56.5 20.5h0M30.9 7.4h0M12.5 23.9h0M56.5 24.4h0M63.8 17.6h0M13.4 11.7h0M25.7 13.9h0M42.9 25.5h0M28.3 10.7h0M23.5 21.3h0M59.4 19.5h0M9.9 14.6h0M8.5 16.4h0M27.0 11.5h0M12.7 20.1h0M58.6 17.7h0M65.2 16.5h0M43.2 20.1h0M47.8 15.1h0M37.0 7.9h0M27.3 8.0h0M23.4 21.2h0M46.1 25.6h0M68.9 18.5h0M42.2 15.7h0M29.2 6.0h0M13.8 14.0h0M30.4 6.5h0M18.1 20.8h0M18.1 10.2h0M43.4 23.6h0M68.2 18.5h0M51.2 20.0h0M22.7 19.2h0M7.0 20.5h0M10.7 21.6h0M58.0 19.4h0M23.9 5.3h0M45.5 23.8h0M47.7 23.1h0M33.3 29.1h0M9.8 22.4h0M26.3 15.8h0M37.3 9.2h0M8.1 15.6h0M35.3 7.1h0M22.7 18.3h0M21.4 24.6h0M21.3 11.7h0M16.1 6.5h0M9.7 12.5h0M18.6 14.5h0M22.6 16.7h0M33.6 4.5h0M4.6 18.1h0M22.8 5.6h0M21.0 21.8h0M15.4 20.7h0M55.8 12.6h0M4.7 18.1h0M16.2 9.7h0M46.8 23.3h0M35.8 15.9h0M44.9 18.0h0M22.8 23.1h0M8.9 13.1h0M8.6 13.3h0M27.2 9.5h0M15.4 16.4h0M12.1 20.9h0M22.4 8.7h0M12.8 24.4h0M26.0 7.9h0M47.6 20.8h0M29.6 7.3h0M44.2 27.3h0M20.0 6.6h0M52.6 20.7h0M13.3 23.0h0M46.5 22.3h0M24.1 23.2h0M22.3 21.4h0M13.2 20.6h0M25.5 19.3h0M27.1 20.7h0M19.7 22.4h0M49.6 16.3h0M60.3 24.6h0M44.1 19.9h0M7.3 17.2h0M41.6 25.6h0M8.2 15.0h0M47.7 20.3h0M44.0 29.4h0M68.7 16.2h0M34.2 7.7h0M33.4 5.0h0M12.5 18.7h0M11.9 16.5h0M28.8 4.4h0M12.1 22.8h0M8.8 14.1h0M7.6 21.7h0M48.0 22.5h0M35.8 11.3h0M13.0 16.4h0M26.4 19.4h0M19.4 17.7h0M14.3 22.7h0M14.5 21.6h0M29.7 7.9h0M14.1 19.6h0M12.8 21.0h0M11.9 17.1h0M12.5 19.9h0M29.4 5.1h0M31.7 7.3h0M35.3 22.4h0M13.9 17.7h0M40.2 18.8h0M52.7 19.5h0M21.9 23.8h0M36.0 5.8h0M11.9 24.6h0M21.6 14.1h0M46.6 16.0h0M25.1 23.3h0M28.3 20.9h0M50.7 19.9h0M11.6 16.3h0M20.9 17.4h0M20.6 10.1h0M13.2 14.0h0M13.5 21.5h0M22.5 23.2h0" stroke="#f0b4a0" stroke-width="1.0" stroke-linecap="round" fill="none"/><path d="M45.9 20.9h0M14.6 26.8h0M22.7 18.5h0M21.0 18.5h0M14.8 8.9h0M24.6 16.4h0M11.9 16.0h0M25.8 10.3h0M33.3 8.3h0M24.2 21.5h0M19.7 16.5h0M52.6 21.6h0M15.9 24.7h0M44.4 18.3h0M37.0 17.3h0M7.7 12.2h0M15.8 18.7h0M5.8 14.6h0M55.6 22.3h0M16.1 9.7h0M18.7 23.4h0M41.5 28.8h0M13.2 20.9h0M18.0 7.7h0M14.4 22.8h0M19.7 22.6h0M28.8 6.5h0M16.5 9.9h0M48.8 14.8h0M41.4 20.2h0M22.7 24.6h0M34.1 19.5h0M32.0 5.6h0M12.7 15.5h0M9.2 16.3h0M7.1 14.1h0M9.9 17.4h0M31.4 19.7h0M40.8 14.3h0M19.3 8.8h0M14.7 10.7h0M26.6 21.4h0M11.9 24.7h0M26.0 15.2h0M21.1 20.5h0M8.6 19.4h0M35.8 16.7h0M33.3 8.1h0M8.4 23.6h0M19.8 19.5h0M7.9 15.5h0M15.2 24.1h0M9.4 20.4h0M53.0 21.0h0M16.9 21.5h0M43.7 23.0h0M45.0 18.5h0M15.8 10.8h0M50.9 27.7h0M9.6 16.1h0M14.6 21.0h0M16.2 19.1h0M5.3 14.5h0M22.8 21.2h0M14.9 11.8h0M38.7 21.1h0M48.8 3.2h0M16.5 10.0h0M54.3 29.9h0M18.8 14.2h0M26.0 21.7h0M8.8 20.2h0M39.2 23.2h0M29.3 7.1h0M13.8 21.1h0M30.7 25.7h0M36.3 8.4h0M46.3 21.9h0M50.1 28.2h0M12.8 22.0h0M37.5 7.9h0M65.6 22.3h0M51.9 19.8h0M23.6 17.4h0M41.7 27.3h0M39.7 13.0h0M45.8 19.6h0M39.1 18.2h0M9.6 14.2h0M48.2 24.8h0M9.3 17.6h0M7.8 15.4h0M50.7 24.6h0M26.8 15.8h0M18.2 13.8h0M24.8 9.9h0M10.9 23.9h0M12.7 17.9h0M30.1 6.2h0M63.7 15.3h0M24.3 23.0h0M49.5 21.5h0M11.2 21.2h0M43.3 16.9h0M45.8 12.2h0M17.9 22.3h0M44.4 18.7h0M49.3 28.0h0M38.1 27.9h0M9.3 18.5h0M43.0 19.5h0M50.5 17.2h0M25.1 19.2h0M54.0 16.7h0M31.8 5.6h0M25.5 21.0h0M23.8 20.1h0M12.3 14.3h0M35.3 6.3h0M36.7 16.4h0M44.9 16.3h0M21.6 20.9h0M27.5 8.0h0M37.8 8.0h0M13.7 10.7h0M27.0 7.0h0M18.2 11.4h0M28.6 18.4h0M22.1 21.6h0M9.0 10.1h0M48.5 20.5h0M15.7 17.7h0M39.3 20.0h0M11.2 17.4h0M37.9 8.0h0M18.8 6.1h0M12.9 14.4h0M12.4 20.9h0M54.7 22.0h0M20.2 20.3h0M42.0 20.8h0M24.6 21.6h0M36.1 32.6h0M13.5 20.8h0M5.7 13.6h0M29.8 5.1h0M43.9 23.5h0M26.3 10.3h0M17.5 7.7h0M20.7 15.3h0M17.6 10.5h0M40.0 17.6h0M4.4 15.2h0M21.9 21.0h0M6.6 15.7h0M19.8 9.2h0M15.0 22.6h0M38.2 24.9h0M52.8 20.5h0M8.3 21.5h0M43.6 22.8h0M8.1 22.8h0M27.4 10.3h0M15.8 22.1h0M22.5 22.2h0M46.9 22.4h0M55.4 23.2h0M18.8 15.9h0M18.5 7.3h0M7.5 15.0h0M26.3 11.1h0M23.4 21.4h0M22.7 23.1h0M9.7 11.5h0M63.2 15.7h0M43.3 24.8h0M52.7 25.0h0M22.0 21.4h0M24.5 20.7h0M20.7 19.4h0M48.9 22.8h0M47.7 27.1h0M9.3 16.1h0M13.1 11.7h0M23.3 19.7h0M12.9 10.1h0M41.7 24.5h0M13.7 17.8h0M39.2 26.0h0M39.8 23.4h0M25.0 15.0h0M39.8 27.3h0M21.3 16.9h0M20.7 17.1h0M20.2 23.2h0M38.3 8.8h0M17.6 11.2h0M8.4 19.0h0M17.6 22.4h0M19.0 6.0h0M19.3 10.0h0M26.5 8.1h0M16.7 12.4h0M6.0 16.7h0M21.8 19.1h0M8.0 14.1h0M54.1 21.2h0M11.1 10.1h0M9.2 13.6h0M13.9 22.5h0M58.1 23.5h0M9.2 15.1h0M27.8 6.7h0M31.5 6.2h0M7.8 15.9h0M16.8 13.6h0M41.3 22.8h0M24.0 25.6h0M27.0 14.7h0M23.4 22.5h0M13.4 23.6h0M45.1 24.9h0" stroke="#ea9478" stroke-width="1.0" stroke-linecap="round" fill="none"/><text x="37.6" y="-0.9" font-size="3.0" font-weight="bold" fill="#222" text-anchor="middle">CD4</text></g><g transform="translate(268.60 85.20) scale(1 1.000)"><use href="#base"/><path d="M65.9 18.3h0M68.3 19.7h0M63.8 21.1h0M64.9 18.4h0M70.8 20.7h0M69.0 18.4h0M68.5 18.0h0M63.8 17.6h0M67.5 21.8h0M65.2 16.5h0M59.3 19.8h0M68.7 20.7h0M67.0 15.7h0M64.8 19.5h0M69.4 17.7h0M68.6 22.0h0M65.0 19.1h0M68.2 18.3h0M64.4 22.9h0M67.0 22.2h0M66.9 15.2h0M64.7 22.4h0M69.3 22.1h0M68.1 20.9h0M71.0 20.4h0M71.7 19.9h0M67.8 17.0h0M64.5 18.3h0M63.9 19.0h0M67.2 22.5h0M64.4 15.6h0M68.7 16.2h0M68.4 17.5h0M64.2 17.1h0M69.9 20.1h0M61.8 19.6h0M65.3 21.3h0M60.0 19.8h0M67.6 18.2h0M65.9 20.5h0M65.7 21.7h0M66.0 18.8h0M64.8 20.3h0M69.3 21.2h0M64.1 17.7h0M69.4 21.9h0M66.1 17.8h0" stroke="#f09080" stroke-width="3.6" stroke-linecap="round" fill="none" opacity="0.14"/><path d="M59.3 19.8h0" stroke="#ea9478" stroke-width="1.0" stroke-linecap="round" fill="none"/><path d="M64.9 18.4h0M69.0 18.4h0M68.5 18.0h0M67.5 21.8h0M68.7 20.7h0M69.4 17.7h0M64.4 22.9h0M66.9 15.2h0M64.7 22.4h0M69.3 22.1h0M68.1 20.9h0M71.0 20.4h0M71.7 19.9h0M64.5 18.3h0M67.2 22.5h0M64.4 15.6h0M60.0 19.8h0M64.1 17.7h0M69.4 21.9h0M66.1 17.8h0" stroke="#e27656" stroke-width="1.0" stroke-linecap="round" fill="none"/><path d="M65.9 18.3h0M68.3 19.7h0M63.8 21.1h0M70.8 20.7h0M63.8 17.6h0M65.2 16.5h0M67.0 15.7h0M64.8 19.5h0M68.6 22.0h0M65.0 19.1h0M68.2 18.3h0M67.0 22.2h0M67.8 17.0h0M63.9 19.0h0M68.7 16.2h0M68.4 17.5h0M64.2 17.1h0M69.9 20.1h0M61.8 19.6h0M65.3 21.3h0M67.6 18.2h0M65.9 20.5h0M65.7 21.7h0M66.0 18.8h0M64.8 20.3h0M69.3 21.2h0" stroke="#d65e3e" stroke-width="1.0" stroke-linecap="round" fill="none"/><text x="37.6" y="-0.9" font-size="3.0" font-weight="bold" fill="#222" text-anchor="middle">GZMB</text></g><g transform="translate(354.90 85.20) scale(1 1.000)"><use href="#base"/><path d="M65.9 18.3h0M68.3 19.7h0M63.8 21.1h0M64.9 18.4h0M70.8 20.7h0M69.0 18.4h0M68.5 18.0h0M69.4 23.1h0M63.8 17.6h0M67.5 21.8h0M65.2 16.5h0M68.9 18.5h0M67.0 15.7h0M64.8 19.5h0M69.4 17.7h0M68.2 18.5h0M68.6 22.0h0M64.5 19.8h0M68.2 18.3h0M67.0 22.2h0M69.3 22.1h0M68.1 20.9h0M71.0 20.4h0M67.8 17.0h0M64.5 18.3h0M63.9 19.0h0M67.2 22.5h0M64.4 15.6h0M68.7 16.2h0M64.2 17.1h0M69.9 20.1h0M65.3 21.3h0M65.9 20.5h0M65.7 21.7h0M66.0 18.8h0M64.8 20.3h0M64.1 17.7h0M69.4 21.9h0M65.7 21.3h0M66.1 17.8h0" stroke="#f09080" stroke-width="3.6" stroke-linecap="round" fill="none" opacity="0.14"/><path d="M68.3 19.7h0M63.8 21.1h0M69.0 18.4h0M68.5 18.0h0M69.4 23.1h0M67.5 21.8h0M67.0 15.7h0M69.4 17.7h0M67.0 22.2h0M68.1 20.9h0M63.9 19.0h0M69.9 20.1h0M65.9 20.5h0M65.7 21.7h0M66.0 18.8h0M64.8 20.3h0M64.1 17.7h0M65.7 21.3h0" stroke="#e27656" stroke-width="1.0" stroke-linecap="round" fill="none"/><path d="M65.9 18.3h0M64.9 18.4h0M70.8 20.7h0M63.8 17.6h0M65.2 16.5h0M68.9 18.5h0M64.8 19.5h0M68.2 18.5h0M68.6 22.0h0M64.5 19.8h0M68.2 18.3h0M69.3 22.1h0M71.0 20.4h0M67.8 17.0h0M64.5 18.3h0M67.2 22.5h0M64.4 15.6h0M68.7 16.2h0M64.2 17.1h0M65.3 21.3h0M69.4 21.9h0M66.1 17.8h0" stroke="#d65e3e" stroke-width="1.0" stroke-linecap="round" fill="none"/><text x="37.6" y="-0.9" font-size="3.0" font-weight="bold" fill="#222" text-anchor="middle">PRF1</text></g><g transform="translate(441.20 85.20) scale(1 1.000)"><use href="#base"/><path d="M45.9 20.9h0M43.9 24.9h0M48.6 23.7h0M65.9 18.3h0M51.3 22.0h0M59.7 25.1h0M44.9 22.4h0M43.5 26.1h0M63.8 21.1h0M70.1 21.4h0M41.1 18.3h0M41.4 20.2h0M64.9 18.4h0M49.6 16.4h0M70.8 20.7h0M61.6 17.4h0M44.3 14.9h0M58.7 22.7h0M68.5 18.0h0M43.0 21.3h0M45.7 18.2h0M56.5 20.5h0M57.8 17.1h0M43.7 23.0h0M44.1 18.8h0M50.9 27.7h0M44.2 25.2h0M52.0 26.6h0M42.2 29.7h0M45.0 21.1h0M52.1 18.6h0M65.2 16.5h0M43.2 20.1h0M46.3 21.9h0M59.3 19.8h0M51.9 19.8h0M42.0 24.4h0M65.6 22.3h0M57.0 19.1h0M64.8 25.6h0M51.9 19.8h0M45.8 19.6h0M41.0 20.6h0M50.7 24.6h0M69.4 17.7h0M68.2 18.5h0M40.8 23.1h0M63.7 15.3h0M64.5 19.8h0M65.0 19.1h0M45.5 23.8h0M63.5 16.4h0M47.7 23.1h0M46.0 18.0h0M43.3 16.9h0M44.4 22.5h0M64.4 22.9h0M67.0 22.2h0M61.4 16.9h0M47.5 27.6h0M47.8 20.1h0M66.9 15.2h0M64.7 22.4h0M68.1 20.9h0M55.0 20.9h0M56.2 16.7h0M44.9 16.3h0M42.2 23.0h0M46.8 23.3h0M54.7 22.0h0M42.1 19.1h0M52.3 18.0h0M52.6 20.7h0M46.5 22.3h0M54.8 21.3h0M56.3 19.9h0M44.1 19.9h0M60.9 14.7h0M52.8 20.5h0M41.6 25.6h0M62.7 21.4h0M47.7 20.3h0M44.7 21.5h0M68.7 16.2h0M54.3 18.4h0M64.2 17.1h0M48.0 21.5h0M69.9 20.1h0M46.9 22.4h0M44.1 21.3h0M49.7 19.2h0M52.5 32.1h0M48.0 22.5h0M48.9 22.8h0M57.2 18.7h0M39.8 14.9h0M56.0 14.4h0M67.6 18.2h0M39.8 27.3h0M45.5 19.1h0M47.4 24.4h0M65.9 20.5h0M65.7 21.7h0M50.8 24.1h0M66.0 18.8h0M38.3 28.6h0M45.7 23.9h0M67.0 24.1h0M50.2 27.9h0M64.1 17.7h0M69.4 21.9h0M46.6 16.0h0M55.3 20.2h0M50.7 19.9h0M42.1 17.6h0" stroke="#f09080" stroke-width="3.6" stroke-linecap="round" fill="none" opacity="0.14"/><path d="M43.0 21.3h0M45.5 23.8h0M56.3 19.9h0M39.8 27.3h0M38.3 28.6h0M55.3 20.2h0" stroke="#f0b4a0" stroke-width="1.0" stroke-linecap="round" fill="none"/><path d="M45.9 20.9h0M43.9 24.9h0M48.6 23.7h0M65.9 18.3h0M51.3 22.0h0M59.7 25.1h0M70.8 20.7h0M61.6 17.4h0M44.3 14.9h0M45.7 18.2h0M56.5 20.5h0M44.1 18.8h0M50.9 27.7h0M59.3 19.8h0M65.6 22.3h0M51.9 19.8h0M45.8 19.6h0M41.0 20.6h0M68.2 18.5h0M40.8 23.1h0M63.7 15.3h0M63.5 16.4h0M46.0 18.0h0M43.3 16.9h0M44.4 22.5h0M64.4 22.9h0M47.8 20.1h0M64.7 22.4h0M55.0 20.9h0M44.9 16.3h0M42.2 23.0h0M42.1 19.1h0M52.3 18.0h0M44.1 19.9h0M52.8 20.5h0M54.3 18.4h0M64.2 17.1h0M69.9 20.1h0M46.9 22.4h0M44.1 21.3h0M48.0 22.5h0M39.8 14.9h0M56.0 14.4h0M45.5 19.1h0M65.9 20.5h0M65.7 21.7h0M50.8 24.1h0M66.0 18.8h0M64.1 17.7h0M69.4 21.9h0M46.6 16.0h0M50.7 19.9h0M42.1 17.6h0" stroke="#ea9478" stroke-width="1.0" stroke-linecap="round" fill="none"/><path d="M44.9 22.4h0M43.5 26.1h0M63.8 21.1h0M70.1 21.4h0M41.1 18.3h0M41.4 20.2h0M64.9 18.4h0M49.6 16.4h0M58.7 22.7h0M68.5 18.0h0M57.8 17.1h0M43.7 23.0h0M44.2 25.2h0M52.0 26.6h0M42.2 29.7h0M45.0 21.1h0M52.1 18.6h0M65.2 16.5h0M43.2 20.1h0M46.3 21.9h0M51.9 19.8h0M42.0 24.4h0M57.0 19.1h0M64.8 25.6h0M50.7 24.6h0M69.4 17.7h0M64.5 19.8h0M65.0 19.1h0M47.7 23.1h0M67.0 22.2h0M61.4 16.9h0M47.5 27.6h0M66.9 15.2h0M68.1 20.9h0M56.2 16.7h0M46.8 23.3h0M54.7 22.0h0M52.6 20.7h0M46.5 22.3h0M54.8 21.3h0M60.9 14.7h0M41.6 25.6h0M62.7 21.4h0M47.7 20.3h0M44.7 21.5h0M68.7 16.2h0M48.0 21.5h0M49.7 19.2h0M52.5 32.1h0M48.9 22.8h0M57.2 18.7h0M67.6 18.2h0M47.4 24.4h0M45.7 23.9h0M67.0 24.1h0M50.2 27.9h0" stroke="#e27656" stroke-width="1.0" stroke-linecap="round" fill="none"/><text x="37.6" y="-0.9" font-size="3.0" font-weight="bold" fill="#222" text-anchor="middle">CD8A</text></g><g transform="translate(268.60 154.05) scale(1 1.000)"><use href="#base"/><path d="M38.1 16.5h0M36.6 15.7h0M36.7 16.4h0M37.2 16.5h0M35.8 15.9h0M37.3 15.8h0" stroke="#f09080" stroke-width="3.6" stroke-linecap="round" fill="none" opacity="0.14"/><path d="M38.1 16.5h0M36.7 16.4h0M37.2 16.5h0M35.8 15.9h0M37.3 15.8h0" stroke="#e27656" stroke-width="1.0" stroke-linecap="round" fill="none"/><path d="M36.6 15.7h0" stroke="#d65e3e" stroke-width="1.0" stroke-linecap="round" fill="none"/><text x="37.6" y="-0.9" font-size="3.0" font-weight="bold" fill="#222" text-anchor="middle">MS4A1</text></g><g transform="translate(354.90 154.05) scale(1 1.000)"><use href="#base"/><path d="M38.1 16.5h0M36.6 15.7h0M37.3 15.8h0" stroke="#f09080" stroke-width="3.6" stroke-linecap="round" fill="none" opacity="0.14"/><path d="M37.3 15.8h0" stroke="#e27656" stroke-width="1.0" stroke-linecap="round" fill="none"/><path d="M38.1 16.5h0M36.6 15.7h0" stroke="#d65e3e" stroke-width="1.0" stroke-linecap="round" fill="none"/><text x="37.6" y="-0.9" font-size="3.0" font-weight="bold" fill="#222" text-anchor="middle">CD19</text></g><g transform="translate(441.20 154.05) scale(1 1.000)"><use href="#base"/><path d="M45.9 20.9h0M58.1 24.2h0M43.9 24.9h0M50.8 25.6h0M48.6 23.7h0M65.9 18.3h0M37.9 27.5h0M40.2 27.7h0M54.6 23.0h0M52.6 21.6h0M51.3 22.0h0M44.4 18.3h0M37.0 17.3h0M59.7 25.1h0M55.6 22.3h0M44.9 22.4h0M43.5 26.1h0M35.1 31.6h0M41.5 28.8h0M54.7 27.1h0M63.8 21.1h0M70.1 21.4h0M48.8 14.8h0M57.9 17.1h0M41.1 18.3h0M39.2 17.0h0M41.4 20.2h0M38.1 16.5h0M35.4 32.3h0M64.9 18.4h0M36.6 15.7h0M49.6 16.4h0M34.1 19.5h0M35.9 19.1h0M49.2 22.2h0M61.6 17.4h0M46.1 25.0h0M45.9 18.4h0M46.9 16.4h0M31.4 19.7h0M40.8 14.3h0M52.4 25.3h0M69.0 18.4h0M45.5 22.1h0M44.3 14.9h0M56.6 21.7h0M58.7 22.7h0M68.5 18.0h0M35.0 31.0h0M35.8 16.7h0M53.1 16.9h0M37.3 21.9h0M43.0 21.3h0M45.7 18.2h0M62.3 21.8h0M58.0 19.5h0M54.7 25.2h0M56.5 20.5h0M48.4 21.0h0M69.4 23.1h0M41.4 25.1h0M53.0 21.0h0M48.6 18.4h0M43.7 23.0h0M45.0 18.5h0M56.5 24.4h0M63.8 17.6h0M44.1 18.8h0M50.9 27.7h0M40.8 21.4h0M42.9 25.5h0M44.2 25.2h0M59.4 19.5h0M36.2 18.0h0M67.5 21.8h0M42.2 29.7h0M38.7 21.1h0M33.5 19.7h0M45.0 21.1h0M58.6 17.7h0M55.3 21.3h0M52.1 18.6h0M48.8 3.2h0M65.2 16.5h0M43.2 20.1h0M47.8 15.1h0M51.4 22.4h0M39.2 23.2h0M44.2 20.3h0M30.7 25.7h0M46.3 21.9h0M59.3 19.8h0M48.6 23.3h0M51.9 19.8h0M50.1 28.2h0M42.0 24.4h0M68.7 20.7h0M46.1 25.6h0M68.9 18.5h0M42.2 15.7h0M65.6 22.3h0M57.0 19.1h0M64.8 25.6h0M48.7 3.0h0M51.9 19.8h0M67.0 15.7h0M41.7 27.3h0M39.7 13.0h0M45.8 19.6h0M39.9 12.0h0M48.2 24.8h0M33.8 30.5h0M39.9 14.1h0M45.9 23.6h0M41.0 20.6h0M50.7 24.6h0M54.7 11.9h0M64.8 19.5h0M43.4 23.6h0M69.4 17.7h0M68.2 18.5h0M40.8 23.1h0M38.1 21.5h0M51.2 20.0h0M63.7 15.3h0M68.6 22.0h0M49.5 21.5h0M50.7 19.7h0M64.5 19.8h0M65.0 19.1h0M68.2 18.3h0M45.5 23.8h0M63.5 16.4h0M51.5 21.0h0M47.7 23.1h0M46.0 18.0h0M43.3 16.9h0M33.3 29.1h0M54.1 18.9h0M44.4 22.5h0M44.4 18.7h0M49.3 28.0h0M67.0 22.2h0M38.1 27.9h0M33.4 26.8h0M61.4 16.9h0M43.0 19.5h0M48.4 2.9h0M42.2 22.0h0M50.5 17.2h0M47.5 27.6h0M54.0 16.7h0M46.3 23.6h0M47.8 20.1h0M40.8 23.1h0M66.9 15.2h0M64.7 22.4h0M69.3 22.1h0M68.1 20.9h0M55.0 20.9h0M71.0 20.4h0M36.7 16.4h0M39.5 19.0h0M37.2 16.5h0M56.2 16.7h0M44.9 16.3h0M54.8 22.8h0M42.2 23.0h0M55.8 12.6h0M46.8 23.3h0M58.0 21.2h0M35.8 15.9h0M44.9 18.0h0M38.8 16.7h0M47.7 24.8h0M47.1 18.2h0M56.8 21.5h0M48.5 20.5h0M32.0 19.6h0M53.3 16.7h0M39.3 20.0h0M54.7 22.0h0M42.0 20.8h0M71.7 19.9h0M49.2 30.7h0M44.3 16.0h0M47.6 20.8h0M36.1 32.6h0M42.1 19.1h0M38.3 27.4h0M52.3 18.0h0M46.2 16.2h0M44.2 27.3h0M64.5 18.3h0M38.8 21.0h0M42.9 24.8h0M42.9 19.0h0M52.6 20.7h0M46.2 18.1h0M46.5 22.3h0M54.8 21.3h0M57.8 20.0h0M43.9 23.5h0M63.9 19.0h0M56.3 19.9h0M67.2 22.5h0M49.6 16.3h0M40.0 17.6h0M60.3 24.6h0M64.4 15.6h0M37.3 15.8h0M44.1 19.9h0M49.8 23.5h0M38.2 24.9h0M43.2 13.8h0M52.8 20.5h0M41.6 25.6h0M62.7 21.4h0M47.7 20.3h0M43.6 22.8h0M34.2 30.3h0M44.7 21.5h0M44.0 29.4h0M68.7 16.2h0M54.3 18.4h0M64.2 17.1h0M48.0 21.5h0M69.9 20.1h0M46.9 22.4h0M61.8 19.6h0M55.4 23.2h0M44.1 21.3h0M63.2 15.7h0M49.7 19.2h0M38.9 23.1h0M52.7 25.0h0M44.3 24.7h0M52.5 32.1h0M48.0 22.5h0M48.9 22.8h0M33.0 29.3h0M47.7 27.1h0M58.8 14.8h0M61.0 17.1h0M59.8 16.8h0M57.2 18.7h0M36.2 28.3h0M65.3 21.3h0M60.0 19.8h0M65.3 19.0h0M41.7 24.5h0M39.2 26.0h0M50.8 20.9h0M39.8 23.4h0M56.0 14.4h0M67.6 18.2h0M48.0 18.8h0M39.8 27.3h0M47.4 24.4h0M57.0 21.5h0M65.9 20.5h0M65.7 21.7h0M50.8 24.1h0M66.0 18.8h0M38.3 28.6h0M45.4 21.3h0M53.0 25.6h0M45.7 23.9h0M45.5 21.1h0M64.8 20.3h0M35.3 22.4h0M43.8 18.6h0M67.0 24.1h0M40.2 18.8h0M54.1 21.2h0M52.7 19.5h0M50.2 27.9h0M58.1 23.5h0M29.9 17.1h0M69.3 21.2h0M64.1 17.7h0M69.4 21.9h0M46.6 16.0h0M48.5 3.1h0M65.7 21.3h0M55.3 20.2h0M41.3 22.8h0M50.7 19.9h0M42.1 17.6h0M66.1 17.8h0M57.4 19.3h0M48.5 22.9h0M45.1 24.9h0" stroke="#f09080" stroke-width="3.6" stroke-linecap="round" fill="none" opacity="0.14"/><path d="M45.9 20.9h0M50.8 25.6h0M48.6 23.7h0M37.9 27.5h0M54.6 23.0h0M52.6 21.6h0M51.3 22.0h0M41.5 28.8h0M36.6 15.7h0M49.6 16.4h0M35.9 19.1h0M46.1 25.0h0M31.4 19.7h0M40.8 14.3h0M52.4 25.3h0M45.5 22.1h0M44.3 14.9h0M35.0 31.0h0M45.7 18.2h0M43.7 23.0h0M44.1 18.8h0M59.4 19.5h0M42.2 29.7h0M45.0 21.1h0M58.6 17.7h0M55.3 21.3h0M52.1 18.6h0M48.8 3.2h0M65.2 16.5h0M47.8 15.1h0M51.9 19.8h0M68.7 20.7h0M57.0 19.1h0M64.8 25.6h0M39.7 13.0h0M45.8 19.6h0M33.8 30.5h0M45.9 23.6h0M54.7 11.9h0M43.4 23.6h0M68.2 18.5h0M40.8 23.1h0M38.1 21.5h0M51.2 20.0h0M68.6 22.0h0M49.5 21.5h0M54.1 18.9h0M49.3 28.0h0M33.4 26.8h0M42.2 22.0h0M47.5 27.6h0M46.3 23.6h0M47.8 20.1h0M40.8 23.1h0M66.9 15.2h0M64.7 22.4h0M71.0 20.4h0M44.9 16.3h0M54.8 22.8h0M55.8 12.6h0M38.8 16.7h0M47.1 18.2h0M54.7 22.0h0M42.0 20.8h0M71.7 19.9h0M47.6 20.8h0M64.5 18.3h0M46.2 18.1h0M54.8 21.3h0M57.8 20.0h0M43.9 23.5h0M49.6 16.3h0M37.3 15.8h0M44.1 19.9h0M38.2 24.9h0M41.6 25.6h0M43.6 22.8h0M54.3 18.4h0M64.2 17.1h0M61.8 19.6h0M63.2 15.7h0M49.7 19.2h0M38.9 23.1h0M52.7 25.0h0M44.3 24.7h0M52.5 32.1h0M57.2 18.7h0M39.8 23.4h0M56.0 14.4h0M48.0 18.8h0M50.8 24.1h0M38.3 28.6h0M53.0 25.6h0M45.7 23.9h0M43.8 18.6h0M54.1 21.2h0M52.7 19.5h0M50.2 27.9h0M58.1 23.5h0M69.3 21.2h0M69.4 21.9h0M65.7 21.3h0M50.7 19.9h0M57.4 19.3h0M48.5 22.9h0M45.1 24.9h0" stroke="#e27656" stroke-width="1.0" stroke-linecap="round" fill="none"/><path d="M58.1 24.2h0M43.9 24.9h0M65.9 18.3h0M40.2 27.7h0M44.4 18.3h0M37.0 17.3h0M59.7 25.1h0M55.6 22.3h0M44.9 22.4h0M43.5 26.1h0M35.1 31.6h0M54.7 27.1h0M63.8 21.1h0M70.1 21.4h0M48.8 14.8h0M57.9 17.1h0M41.1 18.3h0M39.2 17.0h0M41.4 20.2h0M38.1 16.5h0M35.4 32.3h0M64.9 18.4h0M34.1 19.5h0M49.2 22.2h0M61.6 17.4h0M45.9 18.4h0M46.9 16.4h0M69.0 18.4h0M56.6 21.7h0M58.7 22.7h0M68.5 18.0h0M35.8 16.7h0M53.1 16.9h0M37.3 21.9h0M43.0 21.3h0M62.3 21.8h0M58.0 19.5h0M54.7 25.2h0M56.5 20.5h0M48.4 21.0h0M69.4 23.1h0M41.4 25.1h0M53.0 21.0h0M48.6 18.4h0M45.0 18.5h0M56.5 24.4h0M63.8 17.6h0M50.9 27.7h0M40.8 21.4h0M42.9 25.5h0M44.2 25.2h0M36.2 18.0h0M67.5 21.8h0M38.7 21.1h0M33.5 19.7h0M43.2 20.1h0M51.4 22.4h0M39.2 23.2h0M44.2 20.3h0M30.7 25.7h0M46.3 21.9h0M59.3 19.8h0M48.6 23.3h0M50.1 28.2h0M42.0 24.4h0M46.1 25.6h0M68.9 18.5h0M42.2 15.7h0M65.6 22.3h0M48.7 3.0h0M51.9 19.8h0M67.0 15.7h0M41.7 27.3h0M39.9 12.0h0M48.2 24.8h0M39.9 14.1h0M41.0 20.6h0M50.7 24.6h0M64.8 19.5h0M69.4 17.7h0M63.7 15.3h0M50.7 19.7h0M64.5 19.8h0M65.0 19.1h0M68.2 18.3h0M45.5 23.8h0M63.5 16.4h0M51.5 21.0h0M47.7 23.1h0M46.0 18.0h0M43.3 16.9h0M33.3 29.1h0M44.4 22.5h0M44.4 18.7h0M67.0 22.2h0M38.1 27.9h0M61.4 16.9h0M43.0 19.5h0M48.4 2.9h0M50.5 17.2h0M54.0 16.7h0M69.3 22.1h0M68.1 20.9h0M55.0 20.9h0M36.7 16.4h0M39.5 19.0h0M37.2 16.5h0M56.2 16.7h0M42.2 23.0h0M46.8 23.3h0M58.0 21.2h0M35.8 15.9h0M44.9 18.0h0M47.7 24.8h0M56.8 21.5h0M48.5 20.5h0M32.0 19.6h0M53.3 16.7h0M39.3 20.0h0M49.2 30.7h0M44.3 16.0h0M36.1 32.6h0M42.1 19.1h0M38.3 27.4h0M52.3 18.0h0M46.2 16.2h0M44.2 27.3h0M38.8 21.0h0M42.9 24.8h0M42.9 19.0h0M52.6 20.7h0M46.5 22.3h0M63.9 19.0h0M56.3 19.9h0M67.2 22.5h0M40.0 17.6h0M60.3 24.6h0M64.4 15.6h0M49.8 23.5h0M43.2 13.8h0M52.8 20.5h0M62.7 21.4h0M47.7 20.3h0M34.2 30.3h0M44.7 21.5h0M44.0 29.4h0M68.7 16.2h0M48.0 21.5h0M69.9 20.1h0M46.9 22.4h0M55.4 23.2h0M44.1 21.3h0M48.0 22.5h0M48.9 22.8h0M33.0 29.3h0M47.7 27.1h0M58.8 14.8h0M61.0 17.1h0M59.8 16.8h0M36.2 28.3h0M65.3 21.3h0M60.0 19.8h0M65.3 19.0h0M41.7 24.5h0M39.2 26.0h0M50.8 20.9h0M67.6 18.2h0M39.8 27.3h0M47.4 24.4h0M57.0 21.5h0M65.9 20.5h0M65.7 21.7h0M66.0 18.8h0M45.4 21.3h0M45.5 21.1h0M64.8 20.3h0M35.3 22.4h0M67.0 24.1h0M40.2 18.8h0M29.9 17.1h0M64.1 17.7h0M46.6 16.0h0M48.5 3.1h0M55.3 20.2h0M41.3 22.8h0M42.1 17.6h0M66.1 17.8h0" stroke="#d65e3e" stroke-width="1.0" stroke-linecap="round" fill="none"/><text x="37.6" y="-0.9" font-size="3.0" font-weight="bold" fill="#222" text-anchor="middle">CD96</text></g><g transform="translate(268.60 238.90) scale(1 1.000)"><use href="#base"/><path d="M45.9 20.9h0M14.6 26.8h0M17.4 23.3h0M34.4 47.5h0M58.1 24.2h0M21.0 18.5h0M13.6 22.8h0M43.9 24.9h0M14.8 8.9h0M30.5 6.3h0M50.8 25.6h0M24.6 16.4h0M14.1 21.2h0M9.3 17.9h0M48.6 23.7h0M11.9 16.0h0M38.2 51.0h0M65.9 18.3h0M25.8 10.3h0M37.9 27.5h0M33.3 8.3h0M8.5 13.3h0M20.7 25.8h0M24.2 21.5h0M40.2 27.7h0M19.7 16.5h0M51.3 22.0h0M15.9 24.7h0M44.4 18.3h0M8.9 15.3h0M11.9 18.3h0M7.7 12.2h0M34.9 42.7h0M30.5 47.0h0M15.8 18.7h0M5.8 14.6h0M33.7 48.1h0M59.7 25.1h0M55.6 22.3h0M43.5 26.1h0M35.1 31.6h0M16.1 9.7h0M46.9 42.3h0M18.7 23.4h0M12.8 19.9h0M68.3 19.7h0M9.0 13.6h0M12.4 12.9h0M39.3 14.0h0M54.7 27.1h0M13.2 20.9h0M63.8 21.1h0M18.0 7.7h0M46.2 42.4h0M14.4 22.8h0M19.7 22.6h0M26.2 11.8h0M70.1 21.4h0M8.1 13.0h0M28.8 6.5h0M16.5 9.9h0M48.8 14.8h0M32.4 46.5h0M21.4 22.9h0M9.9 23.6h0M44.6 40.4h0M57.9 17.1h0M41.1 18.3h0M39.2 17.0h0M41.4 20.2h0M27.1 13.8h0M22.7 24.6h0M31.8 49.2h0M13.0 11.0h0M38.1 16.5h0M35.4 32.3h0M22.9 19.1h0M64.9 18.4h0M36.6 15.7h0M26.2 12.8h0M49.6 16.4h0M21.4 20.3h0M35.9 19.1h0M32.0 5.6h0M12.7 15.5h0M49.2 22.2h0M30.6 46.0h0M61.6 17.4h0M13.2 9.5h0M13.7 14.3h0M18.7 10.7h0M9.2 16.3h0M8.3 15.0h0M46.1 25.0h0M23.7 22.1h0M29.8 8.5h0M9.9 17.4h0M15.6 19.6h0M16.2 8.2h0M19.7 36.5h0M21.7 38.5h0M31.4 19.7h0M40.8 14.3h0M52.4 25.3h0M48.7 43.0h0M69.0 18.4h0M19.3 8.8h0M50.2 40.9h0M14.7 10.7h0M22.3 37.4h0M17.1 21.8h0M8.5 14.8h0M45.5 22.1h0M44.3 14.9h0M16.3 23.8h0M17.6 10.9h0M30.5 45.8h0M26.6 21.4h0M56.6 21.7h0M44.1 44.9h0M11.9 24.7h0M26.0 15.2h0M21.1 20.5h0M44.4 45.2h0M8.6 19.4h0M68.5 18.0h0M35.0 31.0h0M33.3 8.1h0M19.8 26.2h0M37.3 21.9h0M21.1 38.0h0M22.2 19.3h0M35.1 42.7h0M45.5 40.9h0M36.1 45.4h0M45.7 18.2h0M15.9 20.1h0M9.6 24.8h0M62.3 21.8h0M19.8 19.5h0M58.0 19.5h0M18.1 11.1h0M54.7 25.2h0M19.9 8.6h0M56.5 20.5h0M7.9 15.5h0M15.2 24.1h0M30.9 7.4h0M5.9 16.5h0M48.4 21.0h0M69.4 23.1h0M41.4 25.1h0M9.4 20.4h0M36.0 41.7h0M53.0 21.0h0M12.5 23.9h0M16.9 21.5h0M48.6 18.4h0M43.7 23.0h0M27.6 14.2h0M45.0 18.5h0M48.9 43.6h0M56.5 24.4h0M15.8 10.8h0M63.8 17.6h0M44.1 18.8h0M13.5 22.7h0M25.7 13.9h0M34.4 47.0h0M40.8 21.4h0M42.9 25.5h0M44.2 25.2h0M14.6 21.0h0M28.3 10.7h0M35.9 42.4h0M16.2 19.1h0M5.3 14.5h0M22.8 21.2h0M59.4 19.5h0M14.9 11.8h0M17.7 11.7h0M36.2 18.0h0M9.9 14.6h0M8.5 16.4h0M42.2 29.7h0M30.1 47.9h0M33.2 41.5h0M50.0 41.0h0M27.0 11.5h0M12.7 20.1h0M39.6 20.9h0M46.4 42.3h0M45.0 21.1h0M20.7 37.6h0M55.3 21.3h0M10.7 22.4h0M52.1 18.6h0M16.5 10.0h0M65.2 16.5h0M54.3 29.9h0M18.8 14.2h0M26.0 21.7h0M43.2 20.1h0M8.8 20.2h0M47.8 15.1h0M51.4 22.4h0M29.3 7.1h0M33.4 42.8h0M44.2 20.3h0M13.8 21.1h0M37.0 7.9h0M36.3 8.4h0M46.3 21.9h0M19.1 37.9h0M59.3 19.8h0M27.3 8.0h0M25.3 21.2h0M48.6 23.3h0M50.1 28.2h0M68.7 20.7h0M37.3 45.7h0M12.8 22.0h0M37.5 7.9h0M65.6 22.3h0M57.0 19.1h0M64.8 25.6h0M9.4 12.9h0M49.2 43.8h0M48.7 3.0h0M23.6 17.4h0M27.5 10.6h0M41.7 27.3h0M39.7 13.0h0M20.0 37.4h0M29.2 6.0h0M39.9 12.0h0M44.6 43.7h0M13.8 14.0h0M9.6 14.2h0M30.4 6.5h0M48.2 24.8h0M18.1 20.8h0M45.9 23.6h0M6.7 13.6h0M18.1 10.2h0M7.8 15.4h0M41.0 20.6h0M31.7 48.6h0M30.9 47.6h0M16.7 10.7h0M35.7 44.0h0M35.2 26.1h0M26.8 15.8h0M64.8 19.5h0M43.4 23.6h0M18.2 13.8h0M24.8 9.9h0M10.9 23.9h0M40.8 23.1h0M20.5 38.6h0M12.7 17.9h0M30.1 6.2h0M38.1 21.5h0M51.2 20.0h0M7.0 20.5h0M30.1 51.3h0M24.3 23.0h0M33.0 50.4h0M68.6 22.0h0M49.5 21.5h0M10.7 21.6h0M50.7 19.7h0M22.5 37.5h0M58.0 19.4h0M65.0 19.1h0M68.2 18.3h0M23.9 5.3h0M11.2 21.2h0M21.8 17.7h0M45.5 23.8h0M46.5 41.2h0M21.3 19.9h0M63.5 16.4h0M51.5 21.0h0M47.7 23.1h0M46.0 18.0h0M43.3 16.9h0M33.3 29.1h0M45.8 12.2h0M17.9 22.3h0M9.8 22.4h0M44.4 22.5h0M26.5 8.8h0M29.3 48.1h0M64.4 22.9h0M44.4 18.7h0M32.1 50.6h0M26.3 15.8h0M21.2 37.5h0M67.0 22.2h0M37.3 9.2h0M38.1 27.9h0M33.4 26.8h0M9.3 18.5h0M35.3 7.1h0M34.9 48.3h0M6.3 17.0h0M43.0 19.5h0M21.4 38.2h0M48.4 2.9h0M6.4 12.4h0M22.7 18.3h0M42.2 22.0h0M50.5 17.2h0M47.5 27.6h0M21.3 11.7h0M16.1 6.5h0M25.1 19.2h0M9.7 12.5h0M37.2 44.3h0M35.2 42.6h0M18.6 14.5h0M44.8 43.6h0M22.6 16.7h0M31.0 48.1h0M31.8 5.6h0M46.3 23.6h0M9.6 13.2h0M33.6 4.5h0M25.5 21.0h0M64.7 22.4h0M20.8 36.6h0M49.1 41.4h0M4.6 18.1h0M23.8 20.1h0M68.1 20.9h0M32.5 44.2h0M46.2 43.7h0M22.8 5.6h0M21.4 5.8h0M21.0 21.8h0M35.3 6.3h0M39.5 19.0h0M37.2 16.5h0M44.9 16.3h0M54.8 22.8h0M21.6 20.9h0M42.2 23.0h0M27.5 8.0h0M37.8 8.0h0M15.4 20.7h0M55.8 12.6h0M4.7 18.1h0M16.2 9.7h0M27.0 7.0h0M46.8 23.3h0M58.0 21.2h0M35.8 15.9h0M22.8 23.1h0M18.2 11.4h0M8.9 13.1h0M33.9 42.9h0M8.6 13.3h0M25.6 10.7h0M27.2 9.5h0M47.7 24.8h0M22.1 21.6h0M47.1 18.2h0M31.1 7.3h0M15.4 16.4h0M56.8 21.5h0M12.1 20.9h0M9.0 10.1h0M48.5 20.5h0M32.0 19.6h0M15.7 17.7h0M22.4 8.7h0M47.0 41.6h0M11.2 17.4h0M37.9 8.0h0M18.8 6.1h0M12.9 14.4h0M12.4 20.9h0M54.7 22.0h0M20.2 20.3h0M42.0 20.8h0M71.7 19.9h0M24.6 21.6h0M30.3 48.0h0M49.2 30.7h0M26.0 7.9h0M34.5 41.3h0M47.6 20.8h0M36.1 32.6h0M67.8 17.0h0M29.6 7.3h0M38.6 51.2h0M46.2 16.2h0M13.5 20.8h0M5.7 13.6h0M9.3 17.9h0M32.5 43.1h0M18.1 37.3h0M64.5 18.3h0M46.8 39.9h0M38.8 21.0h0M42.9 24.8h0M20.0 6.6h0M42.9 19.0h0M13.3 23.0h0M27.1 22.5h0M46.5 22.3h0M29.8 5.1h0M39.0 50.6h0M24.1 23.2h0M49.4 41.3h0M22.3 21.4h0M57.8 20.0h0M13.2 20.6h0M43.9 23.5h0M48.5 44.1h0M30.4 45.9h0M25.5 19.3h0M8.8 22.9h0M26.3 10.3h0M45.9 44.6h0M18.8 11.8h0M27.1 20.7h0M67.2 22.5h0M20.7 15.3h0M19.7 22.4h0M49.6 16.3h0M40.0 17.6h0M60.3 24.6h0M45.3 42.4h0M4.4 15.2h0M64.4 15.6h0M31.0 49.6h0M45.4 39.2h0M21.9 21.0h0M33.1 48.3h0M37.3 15.8h0M31.7 47.9h0M47.7 42.9h0M19.4 37.7h0M30.7 44.3h0M19.8 9.2h0M60.9 14.7h0M7.3 17.2h0M15.0 22.6h0M32.8 46.5h0M49.8 23.5h0M38.2 24.9h0M43.2 13.8h0M13.3 20.2h0M52.8 20.5h0M41.6 25.6h0M62.7 21.4h0M8.3 21.5h0M47.7 20.3h0M43.6 22.8h0M8.1 22.8h0M34.2 30.3h0M27.4 10.3h0M15.8 22.1h0M22.5 22.2h0M44.7 21.5h0M17.9 21.1h0M44.0 29.4h0M68.7 16.2h0M68.4 17.5h0M42.3 43.4h0M34.2 7.7h0M7.1 18.2h0M54.3 18.4h0M64.2 17.1h0M48.0 21.5h0M69.9 20.1h0M34.9 46.6h0M12.5 18.7h0M35.0 48.4h0M11.9 16.5h0M55.4 23.2h0M28.8 4.4h0M27.7 47.9h0M18.8 15.9h0M18.5 7.3h0M12.1 22.8h0M7.5 15.0h0M44.1 21.3h0M26.3 11.1h0M23.4 21.4h0M22.7 23.1h0M9.7 11.5h0M43.3 24.8h0M50.7 42.5h0M46.5 42.1h0M49.0 40.3h0M38.9 23.1h0M7.6 21.7h0M15.8 8.8h0M52.7 25.0h0M22.0 21.4h0M52.5 32.1h0M24.5 20.7h0M48.0 22.5h0M20.7 19.4h0M9.3 16.1h0M48.3 43.4h0M35.8 11.3h0M23.8 15.8h0M58.8 14.8h0M13.1 11.7h0M23.3 19.7h0M61.0 17.1h0M13.0 9.6h0M59.8 16.8h0M26.4 19.4h0M19.4 17.7h0M14.3 22.7h0M36.2 28.3h0M12.9 10.1h0M65.3 21.3h0M13.3 20.0h0M65.3 19.0h0M41.7 24.5h0M20.9 24.8h0M29.7 7.9h0M16.8 18.7h0M13.7 17.8h0M32.9 47.9h0M9.3 16.8h0M39.2 26.0h0M33.8 48.5h0M45.8 25.5h0M39.8 14.9h0M56.0 14.4h0M48.0 18.8h0M25.0 15.0h0M30.5 46.9h0M14.1 19.6h0M36.9 45.8h0M39.8 27.3h0M31.9 6.8h0M45.5 19.1h0M47.4 24.4h0M28.6 5.9h0M46.3 42.9h0M21.3 16.9h0M65.9 20.5h0M65.7 21.7h0M20.7 17.1h0M49.9 42.7h0M20.2 23.2h0M66.0 18.8h0M38.3 8.8h0M45.4 21.3h0M60.8 18.1h0M17.6 11.2h0M31.1 51.6h0M50.9 25.9h0M12.8 21.0h0M8.4 19.0h0M11.9 17.1h0M12.5 19.9h0M17.6 22.4h0M29.4 5.1h0M45.7 23.9h0M22.1 19.9h0M19.3 10.0h0M19.2 38.5h0M26.5 8.1h0M16.7 12.4h0M6.0 16.7h0M13.9 17.7h0M34.8 39.0h0M43.8 18.6h0M67.0 24.1h0M21.8 19.1h0M40.2 18.8h0M8.0 14.1h0M54.1 21.2h0M11.1 10.1h0M52.7 19.5h0M11.9 21.7h0M11.6 22.1h0M50.2 27.9h0M9.2 13.6h0M21.9 23.8h0M36.0 5.8h0M47.4 45.1h0M13.9 22.5h0M18.4 8.6h0M11.9 24.6h0M21.6 14.1h0M64.1 17.7h0M69.4 21.9h0M46.6 16.0h0M9.2 15.1h0M48.5 3.1h0M20.8 38.6h0M31.5 6.2h0M27.5 7.8h0M17.7 14.6h0M55.3 20.2h0M25.1 23.3h0M7.8 15.9h0M16.8 13.6h0M41.3 22.8h0M28.3 20.9h0M50.7 19.9h0M24.0 25.6h0M11.6 16.3h0M27.0 14.7h0M42.1 17.6h0M66.1 17.8h0M49.7 42.2h0M16.5 22.2h0M20.9 17.4h0M20.6 10.1h0M13.2 14.0h0M15.2 9.3h0M23.4 22.5h0M13.4 23.6h0M13.5 21.5h0M30.2 8.6h0M22.5 23.2h0M48.5 22.9h0M45.1 24.9h0" stroke="#f09080" stroke-width="3.6" stroke-linecap="round" fill="none" opacity="0.14"/><path d="M45.9 20.9h0M48.6 23.7h0M37.9 27.5h0M40.2 27.7h0M68.3 19.7h0M39.3 14.0h0M39.2 17.0h0M35.4 32.3h0M49.6 16.4h0M61.6 17.4h0M31.4 19.7h0M52.4 25.3h0M56.6 21.7h0M45.7 18.2h0M62.3 21.8h0M48.4 21.0h0M69.4 23.1h0M41.4 25.1h0M45.0 18.5h0M40.8 21.4h0M42.9 25.5h0M44.2 25.2h0M52.1 18.6h0M65.2 16.5h0M59.3 19.8h0M48.6 23.3h0M65.6 22.3h0M64.8 25.6h0M48.7 3.0h0M48.2 24.8h0M43.4 23.6h0M51.2 20.0h0M49.5 21.5h0M58.0 19.4h0M63.5 16.4h0M46.0 18.0h0M64.4 22.9h0M44.4 18.7h0M67.0 22.2h0M38.1 27.9h0M43.0 19.5h0M42.2 22.0h0M46.3 23.6h0M39.5 19.0h0M42.2 23.0h0M35.8 15.9h0M47.1 18.2h0M48.5 20.5h0M54.7 22.0h0M42.0 20.8h0M49.2 30.7h0M38.8 21.0h0M42.9 24.8h0M42.9 19.0h0M46.5 22.3h0M40.0 17.6h0M60.3 24.6h0M37.3 15.8h0M43.2 13.8h0M62.7 21.4h0M43.6 22.8h0M54.3 18.4h0M69.9 20.1h0M44.1 21.3h0M43.3 24.8h0M38.9 23.1h0M61.0 17.1h0M36.2 28.3h0M41.7 24.5h0M39.8 14.9h0M56.0 14.4h0M39.8 27.3h0M47.4 24.4h0M60.8 18.1h0M50.9 25.9h0M67.0 24.1h0M40.2 18.8h0M54.1 21.2h0M64.1 17.7h0M46.6 16.0h0M50.7 19.9h0" stroke="#ea9478" stroke-width="1.0" stroke-linecap="round" fill="none"/><path d="M34.4 47.5h0M58.1 24.2h0M21.0 18.5h0M43.9 24.9h0M50.8 25.6h0M14.1 21.2h0M9.3 17.9h0M65.9 18.3h0M8.5 13.3h0M20.7 25.8h0M24.2 21.5h0M51.3 22.0h0M44.4 18.3h0M8.9 15.3h0M34.9 42.7h0M30.5 47.0h0M59.7 25.1h0M55.6 22.3h0M43.5 26.1h0M35.1 31.6h0M12.8 19.9h0M54.7 27.1h0M63.8 21.1h0M46.2 42.4h0M70.1 21.4h0M28.8 6.5h0M16.5 9.9h0M48.8 14.8h0M32.4 46.5h0M21.4 22.9h0M9.9 23.6h0M57.9 17.1h0M41.1 18.3h0M41.4 20.2h0M27.1 13.8h0M38.1 16.5h0M22.9 19.1h0M64.9 18.4h0M36.6 15.7h0M21.4 20.3h0M35.9 19.1h0M32.0 5.6h0M12.7 15.5h0M49.2 22.2h0M13.7 14.3h0M46.1 25.0h0M9.9 17.4h0M16.2 8.2h0M21.7 38.5h0M40.8 14.3h0M48.7 43.0h0M69.0 18.4h0M19.3 8.8h0M50.2 40.9h0M22.3 37.4h0M17.1 21.8h0M8.5 14.8h0M45.5 22.1h0M44.3 14.9h0M16.3 23.8h0M17.6 10.9h0M26.6 21.4h0M21.1 20.5h0M44.4 45.2h0M8.6 19.4h0M68.5 18.0h0M35.0 31.0h0M37.3 21.9h0M9.6 24.8h0M19.8 19.5h0M58.0 19.5h0M54.7 25.2h0M19.9 8.6h0M56.5 20.5h0M30.9 7.4h0M9.4 20.4h0M53.0 21.0h0M48.6 18.4h0M43.7 23.0h0M27.6 14.2h0M48.9 43.6h0M56.5 24.4h0M15.8 10.8h0M63.8 17.6h0M44.1 18.8h0M25.7 13.9h0M14.6 21.0h0M28.3 10.7h0M16.2 19.1h0M5.3 14.5h0M22.8 21.2h0M59.4 19.5h0M14.9 11.8h0M36.2 18.0h0M9.9 14.6h0M8.5 16.4h0M42.2 29.7h0M30.1 47.9h0M33.2 41.5h0M50.0 41.0h0M12.7 20.1h0M39.6 20.9h0M46.4 42.3h0M45.0 21.1h0M55.3 21.3h0M16.5 10.0h0M54.3 29.9h0M26.0 21.7h0M43.2 20.1h0M47.8 15.1h0M51.4 22.4h0M44.2 20.3h0M46.3 21.9h0M19.1 37.9h0M25.3 21.2h0M50.1 28.2h0M68.7 20.7h0M37.3 45.7h0M37.5 7.9h0M57.0 19.1h0M41.7 27.3h0M39.7 13.0h0M29.2 6.0h0M39.9 12.0h0M44.6 43.7h0M30.4 6.5h0M45.9 23.6h0M41.0 20.6h0M31.7 48.6h0M16.7 10.7h0M35.7 44.0h0M35.2 26.1h0M64.8 19.5h0M24.8 9.9h0M10.9 23.9h0M40.8 23.1h0M12.7 17.9h0M38.1 21.5h0M33.0 50.4h0M68.6 22.0h0M50.7 19.7h0M65.0 19.1h0M68.2 18.3h0M21.8 17.7h0M45.5 23.8h0M46.5 41.2h0M21.3 19.9h0M51.5 21.0h0M47.7 23.1h0M43.3 16.9h0M33.3 29.1h0M45.8 12.2h0M17.9 22.3h0M44.4 22.5h0M26.3 15.8h0M37.3 9.2h0M33.4 26.8h0M35.3 7.1h0M6.3 17.0h0M21.4 38.2h0M48.4 2.9h0M50.5 17.2h0M47.5 27.6h0M16.1 6.5h0M37.2 44.3h0M35.2 42.6h0M18.6 14.5h0M44.8 43.6h0M22.6 16.7h0M31.0 48.1h0M9.6 13.2h0M64.7 22.4h0M20.8 36.6h0M49.1 41.4h0M68.1 20.9h0M46.2 43.7h0M35.3 6.3h0M37.2 16.5h0M44.9 16.3h0M54.8 22.8h0M37.8 8.0h0M55.8 12.6h0M4.7 18.1h0M46.8 23.3h0M58.0 21.2h0M8.9 13.1h0M33.9 42.9h0M8.6 13.3h0M25.6 10.7h0M27.2 9.5h0M47.7 24.8h0M15.4 16.4h0M56.8 21.5h0M12.1 20.9h0M9.0 10.1h0M32.0 19.6h0M11.2 17.4h0M12.9 14.4h0M71.7 19.9h0M30.3 48.0h0M47.6 20.8h0M36.1 32.6h0M67.8 17.0h0M29.6 7.3h0M46.2 16.2h0M5.7 13.6h0M18.1 37.3h0M64.5 18.3h0M20.0 6.6h0M13.3 23.0h0M27.1 22.5h0M49.4 41.3h0M57.8 20.0h0M13.2 20.6h0M43.9 23.5h0M48.5 44.1h0M30.4 45.9h0M26.3 10.3h0M45.9 44.6h0M67.2 22.5h0M19.7 22.4h0M49.6 16.3h0M45.3 42.4h0M64.4 15.6h0M31.0 49.6h0M45.4 39.2h0M60.9 14.7h0M7.3 17.2h0M15.0 22.6h0M49.8 23.5h0M38.2 24.9h0M52.8 20.5h0M41.6 25.6h0M47.7 20.3h0M8.1 22.8h0M34.2 30.3h0M44.7 21.5h0M17.9 21.1h0M44.0 29.4h0M68.7 16.2h0M68.4 17.5h0M42.3 43.4h0M34.2 7.7h0M64.2 17.1h0M48.0 21.5h0M34.9 46.6h0M12.5 18.7h0M55.4 23.2h0M18.8 15.9h0M12.1 22.8h0M7.5 15.0h0M26.3 11.1h0M50.7 42.5h0M46.5 42.1h0M7.6 21.7h0M52.7 25.0h0M52.5 32.1h0M48.0 22.5h0M35.8 11.3h0M23.8 15.8h0M58.8 14.8h0M13.0 9.6h0M59.8 16.8h0M19.4 17.7h0M65.3 21.3h0M13.3 20.0h0M65.3 19.0h0M16.8 18.7h0M32.9 47.9h0M39.2 26.0h0M33.8 48.5h0M45.8 25.5h0M48.0 18.8h0M36.9 45.8h0M45.5 19.1h0M46.3 42.9h0M21.3 16.9h0M65.9 20.5h0M65.7 21.7h0M49.9 42.7h0M66.0 18.8h0M38.3 8.8h0M45.4 21.3h0M31.1 51.6h0M12.8 21.0h0M8.4 19.0h0M17.6 22.4h0M45.7 23.9h0M19.3 10.0h0M19.2 38.5h0M16.7 12.4h0M34.8 39.0h0M43.8 18.6h0M52.7 19.5h0M11.6 22.1h0M50.2 27.9h0M36.0 5.8h0M11.9 24.6h0M21.6 14.1h0M69.4 21.9h0M48.5 3.1h0M55.3 20.2h0M41.3 22.8h0M24.0 25.6h0M11.6 16.3h0M27.0 14.7h0M42.1 17.6h0M66.1 17.8h0M20.9 17.4h0M20.6 10.1h0M13.2 14.0h0M23.4 22.5h0M22.5 23.2h0M48.5 22.9h0M45.1 24.9h0" stroke="#e27656" stroke-width="1.0" stroke-linecap="round" fill="none"/><path d="M14.6 26.8h0M17.4 23.3h0M13.6 22.8h0M14.8 8.9h0M30.5 6.3h0M24.6 16.4h0M11.9 16.0h0M38.2 51.0h0M25.8 10.3h0M33.3 8.3h0M19.7 16.5h0M15.9 24.7h0M11.9 18.3h0M7.7 12.2h0M15.8 18.7h0M5.8 14.6h0M33.7 48.1h0M16.1 9.7h0M46.9 42.3h0M18.7 23.4h0M9.0 13.6h0M12.4 12.9h0M13.2 20.9h0M18.0 7.7h0M14.4 22.8h0M19.7 22.6h0M26.2 11.8h0M8.1 13.0h0M44.6 40.4h0M22.7 24.6h0M31.8 49.2h0M13.0 11.0h0M26.2 12.8h0M30.6 46.0h0M13.2 9.5h0M18.7 10.7h0M9.2 16.3h0M8.3 15.0h0M23.7 22.1h0M29.8 8.5h0M15.6 19.6h0M19.7 36.5h0M14.7 10.7h0M30.5 45.8h0M44.1 44.9h0M11.9 24.7h0M26.0 15.2h0M33.3 8.1h0M19.8 26.2h0M21.1 38.0h0M22.2 19.3h0M35.1 42.7h0M45.5 40.9h0M36.1 45.4h0M15.9 20.1h0M18.1 11.1h0M7.9 15.5h0M15.2 24.1h0M5.9 16.5h0M36.0 41.7h0M12.5 23.9h0M16.9 21.5h0M13.5 22.7h0M34.4 47.0h0M35.9 42.4h0M17.7 11.7h0M27.0 11.5h0M20.7 37.6h0M10.7 22.4h0M18.8 14.2h0M8.8 20.2h0M29.3 7.1h0M33.4 42.8h0M13.8 21.1h0M37.0 7.9h0M36.3 8.4h0M27.3 8.0h0M12.8 22.0h0M9.4 12.9h0M49.2 43.8h0M23.6 17.4h0M27.5 10.6h0M20.0 37.4h0M13.8 14.0h0M9.6 14.2h0M18.1 20.8h0M6.7 13.6h0M18.1 10.2h0M7.8 15.4h0M30.9 47.6h0M26.8 15.8h0M18.2 13.8h0M20.5 38.6h0M30.1 6.2h0M7.0 20.5h0M30.1 51.3h0M24.3 23.0h0M10.7 21.6h0M22.5 37.5h0M23.9 5.3h0M11.2 21.2h0M9.8 22.4h0M26.5 8.8h0M29.3 48.1h0M32.1 50.6h0M21.2 37.5h0M9.3 18.5h0M34.9 48.3h0M6.4 12.4h0M22.7 18.3h0M21.3 11.7h0M25.1 19.2h0M9.7 12.5h0M31.8 5.6h0M33.6 4.5h0M25.5 21.0h0M4.6 18.1h0M23.8 20.1h0M32.5 44.2h0M22.8 5.6h0M21.4 5.8h0M21.0 21.8h0M21.6 20.9h0M27.5 8.0h0M15.4 20.7h0M16.2 9.7h0M27.0 7.0h0M22.8 23.1h0M18.2 11.4h0M22.1 21.6h0M31.1 7.3h0M15.7 17.7h0M22.4 8.7h0M47.0 41.6h0M37.9 8.0h0M18.8 6.1h0M12.4 20.9h0M20.2 20.3h0M24.6 21.6h0M26.0 7.9h0M34.5 41.3h0M38.6 51.2h0M13.5 20.8h0M9.3 17.9h0M32.5 43.1h0M46.8 39.9h0M29.8 5.1h0M39.0 50.6h0M24.1 23.2h0M22.3 21.4h0M25.5 19.3h0M8.8 22.9h0M18.8 11.8h0M27.1 20.7h0M20.7 15.3h0M4.4 15.2h0M21.9 21.0h0M33.1 48.3h0M31.7 47.9h0M47.7 42.9h0M19.4 37.7h0M30.7 44.3h0M19.8 9.2h0M32.8 46.5h0M13.3 20.2h0M8.3 21.5h0M27.4 10.3h0M15.8 22.1h0M22.5 22.2h0M7.1 18.2h0M35.0 48.4h0M11.9 16.5h0M28.8 4.4h0M27.7 47.9h0M18.5 7.3h0M23.4 21.4h0M22.7 23.1h0M9.7 11.5h0M49.0 40.3h0M15.8 8.8h0M22.0 21.4h0M24.5 20.7h0M20.7 19.4h0M9.3 16.1h0M48.3 43.4h0M13.1 11.7h0M23.3 19.7h0M26.4 19.4h0M14.3 22.7h0M12.9 10.1h0M20.9 24.8h0M29.7 7.9h0M13.7 17.8h0M9.3 16.8h0M25.0 15.0h0M30.5 46.9h0M14.1 19.6h0M31.9 6.8h0M28.6 5.9h0M20.7 17.1h0M20.2 23.2h0M17.6 11.2h0M11.9 17.1h0M12.5 19.9h0M29.4 5.1h0M22.1 19.9h0M26.5 8.1h0M6.0 16.7h0M13.9 17.7h0M21.8 19.1h0M8.0 14.1h0M11.1 10.1h0M11.9 21.7h0M9.2 13.6h0M21.9 23.8h0M47.4 45.1h0M13.9 22.5h0M18.4 8.6h0M9.2 15.1h0M20.8 38.6h0M31.5 6.2h0M27.5 7.8h0M17.7 14.6h0M25.1 23.3h0M7.8 15.9h0M16.8 13.6h0M28.3 20.9h0M49.7 42.2h0M16.5 22.2h0M15.2 9.3h0M13.4 23.6h0M13.5 21.5h0M30.2 8.6h0" stroke="#d65e3e" stroke-width="1.0" stroke-linecap="round" fill="none"/><text x="37.6" y="-0.9" font-size="3.0" font-weight="bold" fill="#222" text-anchor="middle">VIM</text></g><g transform="translate(354.90 238.90) scale(1 1.000)"><use href="#base"/><path d="M34.4 47.5h0M38.2 51.0h0M34.9 42.7h0M46.9 42.3h0M44.6 40.4h0M31.8 49.2h0M35.4 32.3h0M30.6 46.0h0M48.7 43.0h0M30.5 45.8h0M44.4 45.2h0M35.0 31.0h0M35.1 42.7h0M45.5 40.9h0M35.9 42.4h0M33.2 41.5h0M33.4 42.8h0M49.2 43.8h0M33.8 30.5h0M31.7 48.6h0M30.9 47.6h0M30.1 51.3h0M46.5 41.2h0M33.3 29.1h0M32.1 50.6h0M35.2 42.6h0M44.8 43.6h0M31.0 48.1h0M49.1 41.4h0M46.2 43.7h0M33.9 42.9h0M30.3 48.0h0M34.5 41.3h0M38.6 51.2h0M32.5 43.1h0M39.0 50.6h0M49.4 41.3h0M30.4 45.9h0M30.7 44.3h0M35.0 48.4h0M27.7 47.9h0M46.5 42.1h0M33.0 29.3h0M48.3 43.4h0M32.9 47.9h0M33.8 48.5h0M49.9 42.7h0M31.1 51.6h0M29.9 47.6h0" stroke="#f09080" stroke-width="3.6" stroke-linecap="round" fill="none" opacity="0.14"/><path d="M44.6 40.4h0M44.4 45.2h0M46.5 41.2h0M44.8 43.6h0M46.2 43.7h0M49.9 42.7h0" stroke="#f0b4a0" stroke-width="1.0" stroke-linecap="round" fill="none"/><path d="M46.9 42.3h0M31.8 49.2h0M30.6 46.0h0M48.7 43.0h0M30.5 45.8h0M35.1 42.7h0M45.5 40.9h0M35.9 42.4h0M33.2 41.5h0M49.2 43.8h0M31.7 48.6h0M30.9 47.6h0M35.2 42.6h0M31.0 48.1h0M49.1 41.4h0M30.3 48.0h0M38.6 51.2h0M49.4 41.3h0M30.7 44.3h0M27.7 47.9h0M46.5 42.1h0M48.3 43.4h0" stroke="#ea9478" stroke-width="1.0" stroke-linecap="round" fill="none"/><path d="M34.4 47.5h0M38.2 51.0h0M34.9 42.7h0M33.4 42.8h0M30.1 51.3h0M33.3 29.1h0M32.1 50.6h0M33.9 42.9h0M34.5 41.3h0M32.5 43.1h0M39.0 50.6h0M30.4 45.9h0M35.0 48.4h0M32.9 47.9h0M33.8 48.5h0M31.1 51.6h0M29.9 47.6h0" stroke="#e27656" stroke-width="1.0" stroke-linecap="round" fill="none"/><path d="M35.4 32.3h0M35.0 31.0h0M33.8 30.5h0M33.0 29.3h0" stroke="#d65e3e" stroke-width="1.0" stroke-linecap="round" fill="none"/><text x="37.6" y="-0.9" font-size="3.0" font-weight="bold" fill="#222" text-anchor="middle">ACTA2</text></g><g transform="translate(441.20 238.90) scale(1 1.000)"><use href="#base"/><path d="M34.4 47.5h0M38.2 51.0h0M34.9 42.7h0M33.7 48.1h0M46.9 42.3h0M32.4 46.5h0M44.6 40.4h0M31.8 49.2h0M30.6 46.0h0M48.7 43.0h0M30.5 45.8h0M44.4 45.2h0M36.0 41.7h0M34.4 47.0h0M35.9 42.4h0M33.2 41.5h0M50.0 41.0h0M33.4 42.8h0M37.3 45.7h0M44.6 43.7h0M31.7 48.6h0M30.9 47.6h0M35.7 44.0h0M46.5 41.2h0M32.1 50.6h0M34.9 48.3h0M37.2 44.3h0M35.2 42.6h0M44.8 43.6h0M31.0 48.1h0M32.5 44.2h0M46.2 43.7h0M33.9 42.9h0M47.0 41.6h0M30.3 48.0h0M38.6 51.2h0M32.5 43.1h0M39.0 50.6h0M49.4 41.3h0M48.5 44.1h0M45.3 42.4h0M45.4 39.2h0M47.7 42.9h0M34.2 43.7h0M35.0 48.4h0M46.5 42.1h0M49.0 40.3h0M48.3 43.4h0M30.5 46.9h0M46.3 42.9h0M49.9 42.7h0M31.1 51.6h0M47.4 45.1h0M49.7 42.2h0M29.9 47.6h0" stroke="#f09080" stroke-width="3.6" stroke-linecap="round" fill="none" opacity="0.14"/><path d="M34.4 47.5h0M38.2 51.0h0M33.7 48.1h0M32.4 46.5h0M31.8 49.2h0M30.5 45.8h0M36.0 41.7h0M34.4 47.0h0M33.2 41.5h0M37.3 45.7h0M35.7 44.0h0M37.2 44.3h0M35.2 42.6h0M31.0 48.1h0M38.6 51.2h0M32.5 43.1h0M34.2 43.7h0M30.5 46.9h0" stroke="#f0b4a0" stroke-width="1.0" stroke-linecap="round" fill="none"/><path d="M34.9 42.7h0M30.6 46.0h0M35.9 42.4h0M33.4 42.8h0M44.6 43.7h0M31.7 48.6h0M30.9 47.6h0M32.1 50.6h0M34.9 48.3h0M32.5 44.2h0M46.2 43.7h0M33.9 42.9h0M47.0 41.6h0M30.3 48.0h0M39.0 50.6h0M49.4 41.3h0M45.3 42.4h0M45.4 39.2h0M35.0 48.4h0M46.5 42.1h0M48.3 43.4h0M49.9 42.7h0M31.1 51.6h0M49.7 42.2h0M29.9 47.6h0" stroke="#ea9478" stroke-width="1.0" stroke-linecap="round" fill="none"/><path d="M46.9 42.3h0M44.6 40.4h0M48.7 43.0h0M44.4 45.2h0M50.0 41.0h0M46.5 41.2h0M44.8 43.6h0M48.5 44.1h0M47.7 42.9h0M49.0 40.3h0M46.3 42.9h0M47.4 45.1h0" stroke="#e27656" stroke-width="1.0" stroke-linecap="round" fill="none"/><text x="37.6" y="-0.9" font-size="3.0" font-weight="bold" fill="#222" text-anchor="middle">FAP</text></g><g transform="translate(268.60 307.80) scale(1 1.000)"><use href="#base"/><path d="M34.4 47.5h0M38.2 51.0h0M30.5 47.0h0M33.7 48.1h0M46.9 42.3h0M46.2 42.4h0M32.4 46.5h0M44.6 40.4h0M31.8 49.2h0M21.7 38.5h0M48.7 43.0h0M50.2 40.9h0M22.3 37.4h0M30.5 45.8h0M44.1 44.9h0M44.4 45.2h0M21.1 38.0h0M35.1 42.7h0M45.5 40.9h0M36.1 45.4h0M36.0 41.7h0M48.9 43.6h0M34.4 47.0h0M30.1 47.9h0M20.7 37.6h0M33.4 42.8h0M37.3 45.7h0M49.2 43.8h0M30.9 47.6h0M35.7 44.0h0M20.5 38.6h0M30.1 51.3h0M33.0 50.4h0M22.5 37.5h0M46.5 41.2h0M29.3 48.1h0M32.1 50.6h0M34.9 48.3h0M21.4 38.2h0M37.2 44.3h0M35.2 42.6h0M44.8 43.6h0M31.0 48.1h0M20.8 36.6h0M46.2 43.7h0M33.9 42.9h0M47.0 41.6h0M30.3 48.0h0M32.5 43.1h0M46.8 39.9h0M39.0 50.6h0M49.4 41.3h0M48.5 44.1h0M30.4 45.9h0M45.9 44.6h0M31.0 49.6h0M45.4 39.2h0M33.1 48.3h0M31.7 47.9h0M34.9 46.6h0M35.0 48.4h0M50.7 42.5h0M46.5 42.1h0M48.3 43.4h0M32.9 47.9h0M33.8 48.5h0M30.5 46.9h0M36.9 45.8h0M46.3 42.9h0M49.9 42.7h0M31.1 51.6h0M47.4 45.1h0M20.8 38.6h0M49.7 42.2h0" stroke="#f09080" stroke-width="3.6" stroke-linecap="round" fill="none" opacity="0.14"/><path d="M22.3 37.4h0M21.1 38.0h0" stroke="#f0b4a0" stroke-width="1.0" stroke-linecap="round" fill="none"/><path d="M34.4 47.5h0M38.2 51.0h0M30.5 47.0h0M32.4 46.5h0M44.6 40.4h0M31.8 49.2h0M21.7 38.5h0M30.5 45.8h0M44.1 44.9h0M35.1 42.7h0M20.7 37.6h0M30.9 47.6h0M20.5 38.6h0M30.1 51.3h0M33.0 50.4h0M22.5 37.5h0M46.5 41.2h0M29.3 48.1h0M21.4 38.2h0M20.8 36.6h0M33.9 42.9h0M46.8 39.9h0M49.4 41.3h0M30.4 45.9h0M31.0 49.6h0M31.7 47.9h0M35.0 48.4h0M36.9 45.8h0M46.3 42.9h0M47.4 45.1h0M20.8 38.6h0M49.7 42.2h0" stroke="#ea9478" stroke-width="1.0" stroke-linecap="round" fill="none"/><path d="M33.7 48.1h0M46.9 42.3h0M46.2 42.4h0M48.7 43.0h0M50.2 40.9h0M44.4 45.2h0M45.5 40.9h0M36.1 45.4h0M36.0 41.7h0M48.9 43.6h0M34.4 47.0h0M30.1 47.9h0M33.4 42.8h0M37.3 45.7h0M49.2 43.8h0M35.7 44.0h0M32.1 50.6h0M34.9 48.3h0M37.2 44.3h0M35.2 42.6h0M44.8 43.6h0M31.0 48.1h0M46.2 43.7h0M47.0 41.6h0M30.3 48.0h0M32.5 43.1h0M39.0 50.6h0M48.5 44.1h0M45.9 44.6h0M45.4 39.2h0M33.1 48.3h0M34.9 46.6h0M50.7 42.5h0M46.5 42.1h0M48.3 43.4h0M32.9 47.9h0M33.8 48.5h0M30.5 46.9h0M49.9 42.7h0M31.1 51.6h0" stroke="#e27656" stroke-width="1.0" stroke-linecap="round" fill="none"/><text x="37.6" y="-0.9" font-size="3.0" font-weight="bold" fill="#222" text-anchor="middle">THY1</text></g><g transform="translate(354.90 307.80) scale(1 1.000)"><use href="#base"/><path d="M34.4 47.5h0M30.5 47.0h0M33.7 48.1h0M46.9 42.3h0M44.6 40.4h0M31.8 49.2h0M30.6 46.0h0M48.7 43.0h0M50.2 40.9h0M30.5 45.8h0M44.1 44.9h0M44.4 45.2h0M35.1 42.7h0M45.5 40.9h0M36.1 45.4h0M36.0 41.7h0M48.9 43.6h0M34.4 47.0h0M35.9 42.4h0M30.1 47.9h0M33.2 41.5h0M50.0 41.0h0M46.4 42.3h0M33.4 42.8h0M37.3 45.7h0M49.2 43.8h0M44.6 43.7h0M31.7 48.6h0M30.9 47.6h0M35.7 44.0h0M30.1 51.3h0M33.0 50.4h0M46.5 41.2h0M29.3 48.1h0M32.1 50.6h0M34.9 48.3h0M37.2 44.3h0M35.2 42.6h0M44.8 43.6h0M31.0 48.1h0M49.1 41.4h0M32.5 44.2h0M46.2 43.7h0M33.9 42.9h0M47.0 41.6h0M30.3 48.0h0M34.5 41.3h0M38.6 51.2h0M32.5 43.1h0M46.8 39.9h0M39.0 50.6h0M49.4 41.3h0M48.5 44.1h0M45.9 44.6h0M45.3 42.4h0M31.0 49.6h0M33.1 48.3h0M31.7 47.9h0M47.7 42.9h0M32.8 46.5h0M34.2 43.7h0M35.0 48.4h0M27.7 47.9h0M50.7 42.5h0M46.5 42.1h0M49.0 40.3h0M48.3 43.4h0M32.9 47.9h0M33.8 48.5h0M30.5 46.9h0M36.9 45.8h0M46.3 42.9h0M31.1 51.6h0M34.8 39.0h0M47.4 45.1h0M49.7 42.2h0M29.9 47.6h0" stroke="#f09080" stroke-width="3.6" stroke-linecap="round" fill="none" opacity="0.14"/><path d="M30.6 46.0h0M50.2 40.9h0M35.1 42.7h0M45.5 40.9h0M48.9 43.6h0M34.4 47.0h0M35.9 42.4h0M30.1 47.9h0M33.2 41.5h0M50.0 41.0h0M33.4 42.8h0M37.3 45.7h0M30.1 51.3h0M46.5 41.2h0M44.8 43.6h0M32.5 44.2h0M32.5 43.1h0M39.0 50.6h0M48.5 44.1h0M45.9 44.6h0M31.0 49.6h0M47.7 42.9h0M32.8 46.5h0M35.0 48.4h0M27.7 47.9h0M50.7 42.5h0M49.0 40.3h0M33.8 48.5h0M30.5 46.9h0M36.9 45.8h0M29.9 47.6h0" stroke="#e27656" stroke-width="1.0" stroke-linecap="round" fill="none"/><path d="M34.4 47.5h0M30.5 47.0h0M33.7 48.1h0M46.9 42.3h0M44.6 40.4h0M31.8 49.2h0M48.7 43.0h0M30.5 45.8h0M44.1 44.9h0M44.4 45.2h0M36.1 45.4h0M36.0 41.7h0M46.4 42.3h0M49.2 43.8h0M44.6 43.7h0M31.7 48.6h0M30.9 47.6h0M35.7 44.0h0M33.0 50.4h0M29.3 48.1h0M32.1 50.6h0M34.9 48.3h0M37.2 44.3h0M35.2 42.6h0M31.0 48.1h0M49.1 41.4h0M46.2 43.7h0M33.9 42.9h0M47.0 41.6h0M30.3 48.0h0M34.5 41.3h0M38.6 51.2h0M46.8 39.9h0M49.4 41.3h0M45.3 42.4h0M33.1 48.3h0M31.7 47.9h0M34.2 43.7h0M46.5 42.1h0M48.3 43.4h0M32.9 47.9h0M46.3 42.9h0M31.1 51.6h0M34.8 39.0h0M47.4 45.1h0M49.7 42.2h0" stroke="#d65e3e" stroke-width="1.0" stroke-linecap="round" fill="none"/><text x="37.6" y="-0.9" font-size="3.0" font-weight="bold" fill="#222" text-anchor="middle">COL1A1</text></g><g transform="translate(441.20 307.80) scale(1 1.000)"><use href="#base"/><path d="M38.2 51.0h0M25.8 10.3h0M30.5 47.0h0M46.9 42.3h0M46.2 42.4h0M28.8 6.5h0M44.6 40.4h0M27.1 13.8h0M31.8 49.2h0M31.8 7.0h0M26.2 12.8h0M29.8 8.5h0M48.7 43.0h0M50.2 40.9h0M44.1 44.9h0M33.3 8.1h0M35.1 42.7h0M45.5 40.9h0M36.0 41.7h0M48.9 43.6h0M25.7 13.9h0M34.4 47.0h0M33.2 41.5h0M50.0 41.0h0M27.0 11.5h0M46.4 42.3h0M29.3 7.1h0M33.4 42.8h0M37.0 7.9h0M36.3 8.4h0M49.2 43.8h0M29.2 6.0h0M44.6 43.7h0M31.7 48.6h0M30.9 47.6h0M26.8 15.8h0M30.1 6.2h0M46.5 41.2h0M26.5 8.8h0M26.3 15.8h0M34.9 48.3h0M44.8 43.6h0M49.1 41.4h0M27.5 8.0h0M27.0 7.0h0M37.9 8.0h0M34.5 41.3h0M49.4 41.3h0M48.5 44.1h0M45.9 44.6h0M45.3 42.4h0M31.0 49.6h0M45.4 39.2h0M47.7 42.9h0M30.7 44.3h0M32.8 46.5h0M27.4 10.3h0M42.3 43.4h0M35.0 48.4h0M26.3 11.1h0M50.7 42.5h0M46.5 42.1h0M49.0 40.3h0M48.3 43.4h0M29.7 7.9h0M32.9 47.9h0M28.6 5.9h0M46.3 42.9h0M38.3 8.8h0M29.4 5.1h0M31.7 7.3h0M34.8 39.0h0M47.4 45.1h0M27.5 7.8h0M27.0 14.7h0M49.7 42.2h0M29.9 47.6h0" stroke="#f09080" stroke-width="3.6" stroke-linecap="round" fill="none" opacity="0.14"/><path d="M27.1 13.8h0M31.8 49.2h0M26.2 12.8h0M29.8 8.5h0M35.1 42.7h0M34.4 47.0h0M37.0 7.9h0M29.2 6.0h0M31.7 48.6h0M26.8 15.8h0M34.9 48.3h0M27.5 8.0h0M27.0 7.0h0M34.5 41.3h0M27.4 10.3h0M26.3 11.1h0M32.9 47.9h0M28.6 5.9h0M29.4 5.1h0M34.8 39.0h0M29.9 47.6h0" stroke="#f0b4a0" stroke-width="1.0" stroke-linecap="round" fill="none"/><path d="M38.2 51.0h0M25.8 10.3h0M30.5 47.0h0M28.8 6.5h0M31.8 7.0h0M33.3 8.1h0M36.0 41.7h0M25.7 13.9h0M33.2 41.5h0M27.0 11.5h0M29.3 7.1h0M33.4 42.8h0M36.3 8.4h0M30.9 47.6h0M30.1 6.2h0M26.5 8.8h0M26.3 15.8h0M37.9 8.0h0M31.0 49.6h0M30.7 44.3h0M32.8 46.5h0M35.0 48.4h0M29.7 7.9h0M38.3 8.8h0M31.7 7.3h0M27.5 7.8h0M27.0 14.7h0" stroke="#ea9478" stroke-width="1.0" stroke-linecap="round" fill="none"/><path d="M44.1 44.9h0M44.6 43.7h0M44.8 43.6h0M49.1 41.4h0M48.5 44.1h0M45.4 39.2h0M47.7 42.9h0M49.0 40.3h0M48.3 43.4h0" stroke="#e27656" stroke-width="1.0" stroke-linecap="round" fill="none"/><path d="M46.9 42.3h0M46.2 42.4h0M44.6 40.4h0M48.7 43.0h0M50.2 40.9h0M45.5 40.9h0M48.9 43.6h0M50.0 41.0h0M46.4 42.3h0M49.2 43.8h0M46.5 41.2h0M49.4 41.3h0M45.9 44.6h0M45.3 42.4h0M42.3 43.4h0M50.7 42.5h0M46.5 42.1h0M46.3 42.9h0M47.4 45.1h0M49.7 42.2h0" stroke="#d65e3e" stroke-width="1.0" stroke-linecap="round" fill="none"/><text x="37.6" y="-0.9" font-size="3.0" font-weight="bold" fill="#222" text-anchor="middle">C3</text></g><g transform="translate(268.60 376.05) scale(1 1.000)"><use href="#base"/><path d="M46.2 42.4h0M44.6 40.4h0M44.1 44.9h0M44.4 45.2h0M45.5 40.9h0M48.9 43.6h0M50.0 41.0h0M46.4 42.3h0M49.2 43.8h0M46.5 41.2h0M44.8 43.6h0M49.1 41.4h0M47.0 41.6h0M46.8 39.9h0M49.4 41.3h0M48.5 44.1h0M45.9 44.6h0M45.4 39.2h0M47.7 42.9h0M50.7 42.5h0M46.5 42.1h0M48.3 43.4h0M49.9 42.7h0M47.4 45.1h0M49.7 42.2h0" stroke="#f09080" stroke-width="3.6" stroke-linecap="round" fill="none" opacity="0.14"/><path d="M44.1 44.9h0M44.4 45.2h0M50.0 41.0h0M46.5 41.2h0M44.8 43.6h0M49.1 41.4h0M47.0 41.6h0M45.9 44.6h0M46.5 42.1h0M47.4 45.1h0M49.7 42.2h0" stroke="#ea9478" stroke-width="1.0" stroke-linecap="round" fill="none"/><path d="M46.2 42.4h0M44.6 40.4h0M45.5 40.9h0M48.9 43.6h0M46.4 42.3h0M49.2 43.8h0M46.8 39.9h0M49.4 41.3h0M48.5 44.1h0M45.4 39.2h0M47.7 42.9h0M50.7 42.5h0M48.3 43.4h0M49.9 42.7h0" stroke="#e27656" stroke-width="1.0" stroke-linecap="round" fill="none"/><text x="37.6" y="-0.9" font-size="3.0" font-weight="bold" fill="#222" text-anchor="middle">DES</text></g><g transform="translate(354.90 376.05) scale(1 1.000)"><use href="#base"/><path d="M34.9 42.7h0M30.5 47.0h0M46.9 42.3h0M46.2 42.4h0M44.6 40.4h0M31.8 49.2h0M48.7 43.0h0M50.2 40.9h0M44.1 44.9h0M44.4 45.2h0M35.1 42.7h0M45.5 40.9h0M36.0 41.7h0M33.2 41.5h0M50.0 41.0h0M46.4 42.3h0M49.2 43.8h0M44.6 43.7h0M31.7 48.6h0M46.5 41.2h0M34.9 48.3h0M37.2 44.3h0M31.0 48.1h0M49.1 41.4h0M32.5 44.2h0M46.2 43.7h0M47.0 41.6h0M30.3 48.0h0M38.6 51.2h0M46.8 39.9h0M49.4 41.3h0M45.9 44.6h0M45.4 39.2h0M31.7 47.9h0M47.7 42.9h0M30.7 44.3h0M32.8 46.5h0M35.0 48.4h0M27.7 47.9h0M50.7 42.5h0M46.5 42.1h0M48.3 43.4h0M30.5 46.9h0M46.3 42.9h0M49.9 42.7h0M34.8 39.0h0M49.7 42.2h0" stroke="#f09080" stroke-width="3.6" stroke-linecap="round" fill="none" opacity="0.14"/><path d="M35.1 42.7h0M33.2 41.5h0M31.7 48.6h0M34.9 48.3h0M30.3 48.0h0M30.7 44.3h0" stroke="#f0b4a0" stroke-width="1.0" stroke-linecap="round" fill="none"/><path d="M34.9 42.7h0M30.5 47.0h0M31.8 49.2h0M36.0 41.7h0M37.2 44.3h0M31.0 48.1h0M32.5 44.2h0M38.6 51.2h0M31.7 47.9h0M32.8 46.5h0M35.0 48.4h0M27.7 47.9h0M30.5 46.9h0M34.8 39.0h0" stroke="#ea9478" stroke-width="1.0" stroke-linecap="round" fill="none"/><path d="M46.2 42.4h0M48.7 43.0h0M50.2 40.9h0M44.1 44.9h0M44.4 45.2h0M45.5 40.9h0M46.4 42.3h0M47.0 41.6h0M45.9 44.6h0M45.4 39.2h0M50.7 42.5h0M46.3 42.9h0M49.9 42.7h0" stroke="#e27656" stroke-width="1.0" stroke-linecap="round" fill="none"/><path d="M46.9 42.3h0M44.6 40.4h0M50.0 41.0h0M49.2 43.8h0M44.6 43.7h0M46.5 41.2h0M49.1 41.4h0M46.2 43.7h0M46.8 39.9h0M49.4 41.3h0M47.7 42.9h0M46.5 42.1h0M48.3 43.4h0M49.7 42.2h0" stroke="#d65e3e" stroke-width="1.0" stroke-linecap="round" fill="none"/><text x="37.6" y="-0.9" font-size="3.0" font-weight="bold" fill="#222" text-anchor="middle">COL1A2</text></g><g transform="translate(441.20 376.05) scale(1 1.000)"><use href="#base"/><path d="M14.6 26.8h0M21.0 18.5h0M30.5 6.3h0M24.6 16.4h0M14.1 21.2h0M8.5 13.3h0M24.2 21.5h0M19.7 16.5h0M15.9 24.7h0M8.9 15.3h0M15.8 18.7h0M5.8 14.6h0M18.7 23.4h0M13.2 20.9h0M8.1 13.0h0M16.5 9.9h0M13.0 11.0h0M7.1 14.1h0M9.9 17.4h0M16.2 8.2h0M19.7 36.5h0M21.7 38.5h0M19.3 8.8h0M14.7 10.7h0M22.3 37.4h0M16.3 23.8h0M11.9 24.7h0M26.0 15.2h0M21.1 20.5h0M19.8 26.2h0M21.1 38.0h0M22.2 19.3h0M8.4 23.6h0M19.8 19.5h0M19.9 8.6h0M15.2 24.1h0M16.9 21.5h0M13.5 24.6h0M15.8 10.8h0M9.6 16.1h0M17.7 11.7h0M9.9 14.6h0M20.7 37.6h0M8.8 20.2h0M36.3 8.4h0M19.1 37.9h0M27.3 8.0h0M25.3 21.2h0M23.4 21.2h0M12.8 22.0h0M20.0 37.4h0M18.1 20.8h0M6.7 13.6h0M7.8 15.4h0M18.2 13.8h0M10.9 23.9h0M20.5 38.6h0M12.7 17.9h0M7.0 20.5h0M22.5 37.5h0M21.8 17.7h0M9.8 22.4h0M26.5 8.8h0M26.3 15.8h0M21.2 37.5h0M8.1 15.6h0M9.3 18.5h0M6.3 17.0h0M21.4 38.2h0M22.7 18.3h0M9.6 13.2h0M20.8 36.6h0M12.3 14.3h0M15.4 20.7h0M17.2 8.3h0M22.8 23.1h0M8.9 13.1h0M25.6 10.7h0M28.6 18.4h0M11.2 17.4h0M20.2 20.3h0M5.7 13.6h0M9.3 17.9h0M18.1 37.3h0M20.0 6.6h0M13.3 23.0h0M13.2 20.6h0M17.5 7.7h0M19.7 22.4h0M4.4 15.2h0M19.4 37.7h0M6.6 15.7h0M15.0 22.6h0M8.2 15.0h0M27.4 10.3h0M22.5 22.2h0M11.9 16.5h0M18.5 7.3h0M9.7 11.5h0M19.7 22.0h0M15.8 8.8h0M13.0 9.6h0M14.3 22.7h0M20.9 24.8h0M29.7 7.9h0M21.3 16.9h0M12.5 19.9h0M22.1 19.9h0M19.2 38.5h0M26.5 8.1h0M11.9 21.7h0M21.6 14.1h0M9.2 15.1h0M27.8 6.7h0M20.8 38.6h0M16.5 22.2h0M15.2 9.3h0M23.4 22.5h0M13.5 21.5h0" stroke="#f09080" stroke-width="3.6" stroke-linecap="round" fill="none" opacity="0.14"/><path d="M21.0 18.5h0M24.6 16.4h0M14.1 21.2h0M8.5 13.3h0M24.2 21.5h0M19.7 16.5h0M8.9 15.3h0M15.8 18.7h0M5.8 14.6h0M8.1 13.0h0M16.5 9.9h0M9.9 17.4h0M16.2 8.2h0M14.7 10.7h0M16.3 23.8h0M26.0 15.2h0M19.8 19.5h0M19.9 8.6h0M15.2 24.1h0M15.8 10.8h0M17.7 11.7h0M9.9 14.6h0M8.8 20.2h0M36.3 8.4h0M25.3 21.2h0M12.8 22.0h0M18.2 13.8h0M22.7 18.3h0M9.6 13.2h0M12.3 14.3h0M17.2 8.3h0M8.9 13.1h0M9.3 17.9h0M17.5 7.7h0M22.5 22.2h0M11.9 16.5h0M20.9 24.8h0M11.9 21.7h0M27.8 6.7h0M23.4 22.5h0M13.5 21.5h0" stroke="#f0b4a0" stroke-width="1.0" stroke-linecap="round" fill="none"/><path d="M14.6 26.8h0M30.5 6.3h0M15.9 24.7h0M18.7 23.4h0M13.2 20.9h0M13.0 11.0h0M7.1 14.1h0M19.3 8.8h0M11.9 24.7h0M21.1 20.5h0M19.8 26.2h0M22.2 19.3h0M8.4 23.6h0M16.9 21.5h0M13.5 24.6h0M9.6 16.1h0M27.3 8.0h0M23.4 21.2h0M18.1 20.8h0M6.7 13.6h0M7.8 15.4h0M10.9 23.9h0M12.7 17.9h0M7.0 20.5h0M21.8 17.7h0M9.8 22.4h0M26.5 8.8h0M26.3 15.8h0M8.1 15.6h0M9.3 18.5h0M6.3 17.0h0M15.4 20.7h0M22.8 23.1h0M25.6 10.7h0M28.6 18.4h0M11.2 17.4h0M20.2 20.3h0M5.7 13.6h0M20.0 6.6h0M13.3 23.0h0M13.2 20.6h0M19.7 22.4h0M4.4 15.2h0M6.6 15.7h0M15.0 22.6h0M8.2 15.0h0M27.4 10.3h0M18.5 7.3h0M9.7 11.5h0M19.7 22.0h0M15.8 8.8h0M13.0 9.6h0M14.3 22.7h0M29.7 7.9h0M21.3 16.9h0M12.5 19.9h0M22.1 19.9h0M26.5 8.1h0M21.6 14.1h0M9.2 15.1h0M16.5 22.2h0M15.2 9.3h0" stroke="#ea9478" stroke-width="1.0" stroke-linecap="round" fill="none"/><path d="M19.7 36.5h0M21.7 38.5h0M21.1 38.0h0M20.7 37.6h0M19.1 37.9h0M20.0 37.4h0M20.5 38.6h0M21.4 38.2h0M18.1 37.3h0M19.2 38.5h0" stroke="#e27656" stroke-width="1.0" stroke-linecap="round" fill="none"/><path d="M22.3 37.4h0M22.5 37.5h0M21.2 37.5h0M20.8 36.6h0M19.4 37.7h0M20.8 38.6h0" stroke="#d65e3e" stroke-width="1.0" stroke-linecap="round" fill="none"/><text x="37.6" y="-0.9" font-size="3.0" font-weight="bold" fill="#222" text-anchor="middle">PECAM1</text></g><g transform="translate(268.60 463.22) scale(1 1.016)"><use href="#base"/><path d="M14.6 26.8h0M22.7 18.5h0M21.0 18.5h0M13.6 22.8h0M14.8 8.9h0M24.6 16.4h0M9.3 17.9h0M11.9 16.0h0M25.8 10.3h0M20.7 25.8h0M24.2 21.5h0M19.7 16.5h0M8.9 15.3h0M11.9 18.3h0M19.1 20.6h0M5.8 14.6h0M12.8 19.9h0M9.0 13.6h0M12.4 12.9h0M13.2 20.9h0M18.0 7.7h0M26.2 11.8h0M28.8 6.5h0M21.4 22.9h0M9.9 23.6h0M22.7 24.6h0M22.9 19.1h0M11.4 12.4h0M26.2 12.8h0M21.4 20.3h0M13.0 11.4h0M13.2 9.5h0M29.8 8.5h0M15.6 19.6h0M16.2 8.2h0M19.3 8.8h0M26.6 21.4h0M22.2 19.3h0M15.9 20.1h0M19.8 19.5h0M18.1 11.1h0M19.9 8.6h0M7.9 15.5h0M13.5 24.6h0M13.4 11.7h0M13.5 22.7h0M9.6 16.1h0M28.3 10.7h0M5.3 14.5h0M22.8 21.2h0M27.0 11.5h0M12.7 20.1h0M16.5 10.0h0M8.8 20.2h0M36.3 8.4h0M27.3 8.0h0M23.4 21.2h0M37.5 7.9h0M27.5 10.6h0M29.2 6.0h0M9.6 14.2h0M30.4 6.5h0M16.7 10.7h0M26.8 15.8h0M24.8 9.9h0M10.9 23.9h0M22.7 19.2h0M7.0 20.5h0M10.7 21.6h0M17.9 22.3h0M9.8 22.4h0M26.5 8.8h0M9.3 18.5h0M6.4 12.4h0M25.1 19.2h0M25.5 21.0h0M4.6 18.1h0M12.3 14.3h0M21.4 5.8h0M21.6 20.9h0M27.5 8.0h0M13.7 10.7h0M4.7 18.1h0M16.2 9.7h0M17.2 8.3h0M8.9 13.1h0M8.6 13.3h0M22.1 21.6h0M31.1 7.3h0M9.0 10.1h0M29.6 7.3h0M5.7 13.6h0M13.3 23.0h0M27.1 22.5h0M29.8 5.1h0M25.5 19.3h0M8.8 22.9h0M27.1 20.7h0M20.7 15.3h0M4.4 15.2h0M21.9 21.0h0M7.3 17.2h0M15.0 22.6h0M13.3 20.2h0M8.2 15.0h0M8.1 22.8h0M27.4 10.3h0M22.5 22.2h0M34.2 7.7h0M33.4 5.0h0M12.5 18.7h0M11.9 16.5h0M23.4 21.4h0M19.7 22.0h0M15.8 8.8h0M20.7 19.4h0M33.8 8.1h0M9.3 16.1h0M35.8 11.3h0M23.8 15.8h0M13.1 11.7h0M13.0 9.6h0M14.3 22.7h0M12.9 10.1h0M13.3 20.0h0M14.5 21.6h0M20.9 24.8h0M29.7 7.9h0M13.7 17.8h0M9.3 16.8h0M20.7 17.1h0M38.3 8.8h0M17.6 11.2h0M12.8 21.0h0M8.4 19.0h0M11.9 17.1h0M12.5 19.9h0M17.6 22.4h0M29.4 5.1h0M19.0 6.0h0M22.1 19.9h0M26.5 8.1h0M31.7 7.3h0M13.9 17.7h0M11.1 10.1h0M11.6 22.1h0M13.9 22.5h0M27.8 6.7h0M27.5 7.8h0M17.7 14.6h0M7.8 15.9h0M11.6 16.3h0M27.0 14.7h0M16.5 22.2h0M13.2 14.0h0M15.2 9.3h0M13.4 23.6h0M22.5 23.2h0" stroke="#f09080" stroke-width="3.6" stroke-linecap="round" fill="none" opacity="0.14"/><path d="M22.7 18.5h0M21.0 18.5h0M13.6 22.8h0M14.8 8.9h0M9.3 17.9h0M11.9 16.0h0M19.7 16.5h0M8.9 15.3h0M9.0 13.6h0M12.4 12.9h0M13.2 20.9h0M18.0 7.7h0M28.8 6.5h0M21.4 22.9h0M11.4 12.4h0M26.2 12.8h0M21.4 20.3h0M13.0 11.4h0M13.2 9.5h0M15.6 19.6h0M15.9 20.1h0M9.6 16.1h0M28.3 10.7h0M36.3 8.4h0M29.2 6.0h0M9.6 14.2h0M30.4 6.5h0M16.7 10.7h0M24.8 9.9h0M22.7 19.2h0M9.8 22.4h0M26.5 8.8h0M6.4 12.4h0M25.1 19.2h0M4.6 18.1h0M21.4 5.8h0M21.6 20.9h0M13.7 10.7h0M16.2 9.7h0M8.9 13.1h0M31.1 7.3h0M9.0 10.1h0M29.6 7.3h0M29.8 5.1h0M8.8 22.9h0M27.1 20.7h0M4.4 15.2h0M8.1 22.8h0M22.5 22.2h0M12.5 18.7h0M11.9 16.5h0M23.4 21.4h0M19.7 22.0h0M13.0 9.6h0M14.5 21.6h0M29.7 7.9h0M38.3 8.8h0M13.9 22.5h0M27.8 6.7h0M17.7 14.6h0M16.5 22.2h0M13.2 14.0h0" stroke="#ea9478" stroke-width="1.0" stroke-linecap="round" fill="none"/><path d="M14.6 26.8h0M24.6 16.4h0M25.8 10.3h0M20.7 25.8h0M24.2 21.5h0M11.9 18.3h0M19.1 20.6h0M5.8 14.6h0M12.8 19.9h0M26.2 11.8h0M9.9 23.6h0M22.7 24.6h0M22.9 19.1h0M29.8 8.5h0M16.2 8.2h0M19.3 8.8h0M26.6 21.4h0M22.2 19.3h0M19.8 19.5h0M18.1 11.1h0M19.9 8.6h0M7.9 15.5h0M13.5 24.6h0M13.4 11.7h0M13.5 22.7h0M5.3 14.5h0M22.8 21.2h0M27.0 11.5h0M12.7 20.1h0M16.5 10.0h0M8.8 20.2h0M27.3 8.0h0M23.4 21.2h0M37.5 7.9h0M27.5 10.6h0M26.8 15.8h0M10.9 23.9h0M7.0 20.5h0M10.7 21.6h0M17.9 22.3h0M9.3 18.5h0M25.5 21.0h0M12.3 14.3h0M27.5 8.0h0M4.7 18.1h0M17.2 8.3h0M8.6 13.3h0M22.1 21.6h0M5.7 13.6h0M13.3 23.0h0M27.1 22.5h0M25.5 19.3h0M20.7 15.3h0M21.9 21.0h0M7.3 17.2h0M15.0 22.6h0M13.3 20.2h0M8.2 15.0h0M27.4 10.3h0M34.2 7.7h0M33.4 5.0h0M15.8 8.8h0M20.7 19.4h0M33.8 8.1h0M9.3 16.1h0M35.8 11.3h0M23.8 15.8h0M13.1 11.7h0M14.3 22.7h0M12.9 10.1h0M13.3 20.0h0M20.9 24.8h0M13.7 17.8h0M9.3 16.8h0M20.7 17.1h0M17.6 11.2h0M12.8 21.0h0M8.4 19.0h0M11.9 17.1h0M12.5 19.9h0M17.6 22.4h0M29.4 5.1h0M19.0 6.0h0M22.1 19.9h0M26.5 8.1h0M31.7 7.3h0M13.9 17.7h0M11.1 10.1h0M11.6 22.1h0M27.5 7.8h0M7.8 15.9h0M11.6 16.3h0M27.0 14.7h0M15.2 9.3h0M13.4 23.6h0M22.5 23.2h0" stroke="#e27656" stroke-width="1.0" stroke-linecap="round" fill="none"/><text x="37.6" y="-0.9" font-size="3.0" font-weight="bold" fill="#222" text-anchor="middle">ITGAM</text></g><g transform="translate(354.90 463.22) scale(1 1.016)"><use href="#base"/><path d="M14.6 26.8h0M17.4 23.3h0M22.7 18.5h0M21.0 18.5h0M14.8 8.9h0M30.5 6.3h0M24.6 16.4h0M14.1 21.2h0M9.3 17.9h0M11.9 16.0h0M25.8 10.3h0M33.3 8.3h0M8.5 13.3h0M24.2 21.5h0M15.9 24.7h0M8.9 15.3h0M11.9 18.3h0M19.1 20.6h0M7.7 12.2h0M15.8 18.7h0M5.8 14.6h0M18.7 23.4h0M12.8 19.9h0M9.0 13.6h0M12.4 12.9h0M18.0 7.7h0M14.4 22.8h0M19.7 22.6h0M8.1 13.0h0M28.8 6.5h0M21.4 22.9h0M9.9 23.6h0M22.7 24.6h0M13.0 11.0h0M22.9 19.1h0M31.8 7.0h0M26.2 12.8h0M21.4 20.3h0M12.7 15.5h0M13.2 9.5h0M13.7 14.3h0M18.7 10.7h0M9.2 16.3h0M8.3 15.0h0M7.1 14.1h0M23.7 22.1h0M29.8 8.5h0M9.9 17.4h0M15.6 19.6h0M16.2 8.2h0M19.3 8.8h0M17.1 21.8h0M8.5 14.8h0M16.3 23.8h0M26.6 21.4h0M11.9 24.7h0M21.1 20.5h0M33.3 8.1h0M19.8 26.2h0M22.2 19.3h0M22.5 20.1h0M8.4 23.6h0M18.1 11.1h0M7.9 15.5h0M15.2 24.1h0M5.9 16.5h0M9.4 20.4h0M12.5 23.9h0M13.5 24.6h0M15.8 10.8h0M13.4 11.7h0M13.5 22.7h0M25.7 13.9h0M9.6 16.1h0M14.6 21.0h0M23.5 21.3h0M16.2 19.1h0M22.8 21.2h0M9.9 14.6h0M8.5 16.4h0M10.7 22.4h0M16.5 10.0h0M26.0 21.7h0M8.8 20.2h0M29.3 7.1h0M13.8 21.1h0M37.0 7.9h0M36.3 8.4h0M25.3 21.2h0M23.4 21.2h0M12.8 22.0h0M9.4 12.9h0M23.6 17.4h0M27.5 10.6h0M13.8 14.0h0M9.6 14.2h0M30.4 6.5h0M9.3 17.6h0M6.7 13.6h0M18.1 10.2h0M7.8 15.4h0M16.7 10.7h0M24.8 9.9h0M10.9 23.9h0M12.7 17.9h0M30.1 6.2h0M22.7 19.2h0M7.0 20.5h0M10.7 21.6h0M11.2 21.2h0M21.8 17.7h0M21.3 19.9h0M17.9 22.3h0M9.8 22.4h0M26.5 8.8h0M26.3 15.8h0M37.3 9.2h0M8.1 15.6h0M9.3 18.5h0M6.3 17.0h0M6.4 12.4h0M22.7 18.3h0M21.4 24.6h0M16.1 6.5h0M25.1 19.2h0M18.6 14.5h0M31.8 5.6h0M9.6 13.2h0M25.5 21.0h0M4.6 18.1h0M21.4 5.8h0M21.0 21.8h0M21.6 20.9h0M27.5 8.0h0M37.8 8.0h0M13.7 10.7h0M4.7 18.1h0M16.2 9.7h0M27.0 7.0h0M17.2 8.3h0M22.8 23.1h0M18.2 11.4h0M8.6 13.3h0M25.6 10.7h0M27.2 9.5h0M22.1 21.6h0M31.1 7.3h0M15.4 16.4h0M12.1 20.9h0M9.0 10.1h0M15.7 17.7h0M11.2 17.4h0M12.9 14.4h0M12.4 20.9h0M12.8 24.4h0M20.2 20.3h0M24.6 21.6h0M26.0 7.9h0M13.5 20.8h0M5.7 13.6h0M9.3 17.9h0M20.0 6.6h0M13.3 23.0h0M27.1 22.5h0M29.8 5.1h0M24.1 23.2h0M22.3 21.4h0M13.2 20.6h0M25.5 19.3h0M8.8 22.9h0M26.3 10.3h0M18.8 11.8h0M27.1 20.7h0M17.5 7.7h0M20.7 15.3h0M17.6 10.5h0M4.4 15.2h0M21.9 21.0h0M6.6 15.7h0M19.8 9.2h0M15.0 22.6h0M13.3 20.2h0M8.3 21.5h0M8.1 22.8h0M15.8 22.1h0M17.9 21.1h0M34.2 7.7h0M33.4 5.0h0M12.5 18.7h0M11.9 16.5h0M28.8 4.4h0M18.8 15.9h0M7.5 15.0h0M22.7 23.1h0M9.7 11.5h0M8.8 14.1h0M19.7 22.0h0M15.8 8.8h0M24.5 20.7h0M20.7 19.4h0M35.8 11.3h0M13.0 16.4h0M13.1 11.7h0M23.3 19.7h0M13.0 9.6h0M26.4 19.4h0M19.4 17.7h0M12.9 10.1h0M13.3 20.0h0M14.5 21.6h0M20.9 24.8h0M29.7 7.9h0M13.7 17.8h0M9.3 16.8h0M14.1 19.6h0M20.7 17.1h0M38.3 8.8h0M8.4 19.0h0M12.5 19.9h0M29.4 5.1h0M19.0 6.0h0M19.3 10.0h0M26.5 8.1h0M16.7 12.4h0M31.7 7.3h0M6.0 16.7h0M13.9 17.7h0M21.8 19.1h0M11.1 10.1h0M11.9 21.7h0M11.6 22.1h0M9.2 13.6h0M21.9 23.8h0M36.0 5.8h0M11.9 24.6h0M21.6 14.1h0M9.2 15.1h0M27.8 6.7h0M17.7 14.6h0M25.1 23.3h0M7.8 15.9h0M16.8 13.6h0M28.3 20.9h0M24.0 25.6h0M16.5 22.2h0M20.9 17.4h0M13.2 14.0h0M15.2 9.3h0M23.4 22.5h0M13.4 23.6h0M13.5 21.5h0M30.2 8.6h0M22.5 23.2h0" stroke="#f09080" stroke-width="3.6" stroke-linecap="round" fill="none" opacity="0.14"/><path d="M25.8 10.3h0M29.3 7.1h0M37.0 7.9h0M27.5 10.6h0M26.3 15.8h0M27.5 8.0h0M31.1 7.3h0M26.0 7.9h0M29.8 5.1h0M26.3 10.3h0M28.8 4.4h0M36.0 5.8h0" stroke="#ea9478" stroke-width="1.0" stroke-linecap="round" fill="none"/><path d="M17.4 23.3h0M21.0 18.5h0M30.5 6.3h0M24.6 16.4h0M9.3 17.9h0M33.3 8.3h0M8.5 13.3h0M24.2 21.5h0M8.9 15.3h0M11.9 18.3h0M5.8 14.6h0M12.8 19.9h0M9.0 13.6h0M12.4 12.9h0M14.4 22.8h0M19.7 22.6h0M28.8 6.5h0M9.9 23.6h0M22.7 24.6h0M31.8 7.0h0M26.2 12.8h0M21.4 20.3h0M13.2 9.5h0M13.7 14.3h0M8.3 15.0h0M23.7 22.1h0M29.8 8.5h0M9.9 17.4h0M15.6 19.6h0M16.2 8.2h0M8.5 14.8h0M16.3 23.8h0M26.6 21.4h0M11.9 24.7h0M21.1 20.5h0M33.3 8.1h0M19.8 26.2h0M22.2 19.3h0M22.5 20.1h0M25.7 13.9h0M14.6 21.0h0M16.2 19.1h0M8.5 16.4h0M10.7 22.4h0M26.0 21.7h0M36.3 8.4h0M25.3 21.2h0M23.4 21.2h0M9.4 12.9h0M23.6 17.4h0M30.4 6.5h0M9.3 17.6h0M24.8 9.9h0M30.1 6.2h0M21.8 17.7h0M26.5 8.8h0M37.3 9.2h0M8.1 15.6h0M6.3 17.0h0M22.7 18.3h0M16.1 6.5h0M25.1 19.2h0M31.8 5.6h0M25.5 21.0h0M21.0 21.8h0M37.8 8.0h0M13.7 10.7h0M27.0 7.0h0M25.6 10.7h0M27.2 9.5h0M22.1 21.6h0M12.1 20.9h0M15.7 17.7h0M12.9 14.4h0M12.8 24.4h0M20.2 20.3h0M24.6 21.6h0M5.7 13.6h0M13.3 23.0h0M27.1 22.5h0M22.3 21.4h0M13.2 20.6h0M8.8 22.9h0M18.8 11.8h0M27.1 20.7h0M20.7 15.3h0M4.4 15.2h0M6.6 15.7h0M8.3 21.5h0M8.1 22.8h0M17.9 21.1h0M34.2 7.7h0M33.4 5.0h0M18.8 15.9h0M7.5 15.0h0M22.7 23.1h0M8.8 14.1h0M20.7 19.4h0M35.8 11.3h0M13.0 16.4h0M13.1 11.7h0M13.3 20.0h0M14.5 21.6h0M20.9 24.8h0M29.7 7.9h0M13.7 17.8h0M9.3 16.8h0M14.1 19.6h0M38.3 8.8h0M29.4 5.1h0M26.5 8.1h0M16.7 12.4h0M31.7 7.3h0M13.9 17.7h0M11.6 22.1h0M21.9 23.8h0M11.9 24.6h0M21.6 14.1h0M27.8 6.7h0M17.7 14.6h0M7.8 15.9h0M28.3 20.9h0M24.0 25.6h0M20.9 17.4h0M13.2 14.0h0M15.2 9.3h0M30.2 8.6h0" stroke="#e27656" stroke-width="1.0" stroke-linecap="round" fill="none"/><path d="M14.6 26.8h0M22.7 18.5h0M14.8 8.9h0M14.1 21.2h0M11.9 16.0h0M15.9 24.7h0M19.1 20.6h0M7.7 12.2h0M15.8 18.7h0M18.7 23.4h0M18.0 7.7h0M8.1 13.0h0M21.4 22.9h0M13.0 11.0h0M22.9 19.1h0M12.7 15.5h0M18.7 10.7h0M9.2 16.3h0M7.1 14.1h0M19.3 8.8h0M17.1 21.8h0M8.4 23.6h0M18.1 11.1h0M7.9 15.5h0M15.2 24.1h0M5.9 16.5h0M9.4 20.4h0M12.5 23.9h0M13.5 24.6h0M15.8 10.8h0M13.4 11.7h0M13.5 22.7h0M9.6 16.1h0M23.5 21.3h0M22.8 21.2h0M9.9 14.6h0M16.5 10.0h0M8.8 20.2h0M13.8 21.1h0M12.8 22.0h0M13.8 14.0h0M9.6 14.2h0M6.7 13.6h0M18.1 10.2h0M7.8 15.4h0M16.7 10.7h0M10.9 23.9h0M12.7 17.9h0M22.7 19.2h0M7.0 20.5h0M10.7 21.6h0M11.2 21.2h0M21.3 19.9h0M17.9 22.3h0M9.8 22.4h0M9.3 18.5h0M6.4 12.4h0M21.4 24.6h0M18.6 14.5h0M9.6 13.2h0M4.6 18.1h0M21.4 5.8h0M21.6 20.9h0M4.7 18.1h0M16.2 9.7h0M17.2 8.3h0M22.8 23.1h0M18.2 11.4h0M8.6 13.3h0M15.4 16.4h0M9.0 10.1h0M11.2 17.4h0M12.4 20.9h0M13.5 20.8h0M9.3 17.9h0M20.0 6.6h0M24.1 23.2h0M25.5 19.3h0M17.5 7.7h0M17.6 10.5h0M21.9 21.0h0M19.8 9.2h0M15.0 22.6h0M13.3 20.2h0M15.8 22.1h0M12.5 18.7h0M11.9 16.5h0M9.7 11.5h0M19.7 22.0h0M15.8 8.8h0M24.5 20.7h0M23.3 19.7h0M13.0 9.6h0M26.4 19.4h0M19.4 17.7h0M12.9 10.1h0M20.7 17.1h0M8.4 19.0h0M12.5 19.9h0M19.0 6.0h0M19.3 10.0h0M6.0 16.7h0M21.8 19.1h0M11.1 10.1h0M11.9 21.7h0M9.2 13.6h0M9.2 15.1h0M25.1 23.3h0M16.8 13.6h0M16.5 22.2h0M23.4 22.5h0M13.4 23.6h0M13.5 21.5h0M22.5 23.2h0" stroke="#d65e3e" stroke-width="1.0" stroke-linecap="round" fill="none"/><text x="37.6" y="-0.9" font-size="3.0" font-weight="bold" fill="#222" text-anchor="middle">FCGR3B</text></g><g transform="translate(441.20 463.22) scale(1 1.016)"><use href="#base"/><path d="M14.6 26.8h0M22.7 18.5h0M21.0 18.5h0M13.6 22.8h0M14.8 8.9h0M14.1 21.2h0M9.3 17.9h0M19.7 16.5h0M15.9 24.7h0M8.9 15.3h0M19.1 20.6h0M7.7 12.2h0M15.8 18.7h0M5.8 14.6h0M16.1 9.7h0M18.7 23.4h0M9.0 13.6h0M12.4 12.9h0M13.2 20.9h0M14.4 22.8h0M19.7 22.6h0M8.1 13.0h0M21.4 22.9h0M9.9 23.6h0M13.0 11.0h0M11.4 12.4h0M21.4 20.3h0M13.0 11.4h0M13.2 9.5h0M13.7 14.3h0M18.7 10.7h0M9.2 16.3h0M7.1 14.1h0M23.7 22.1h0M9.9 17.4h0M19.3 8.8h0M14.7 10.7h0M17.1 21.8h0M8.5 14.8h0M16.3 23.8h0M17.6 10.9h0M11.9 24.7h0M21.1 20.5h0M8.6 19.4h0M19.8 26.2h0M22.2 19.3h0M15.9 20.1h0M9.6 24.8h0M19.8 19.5h0M18.1 11.1h0M19.9 8.6h0M7.9 15.5h0M15.2 24.1h0M5.9 16.5h0M9.4 20.4h0M12.5 23.9h0M13.5 24.6h0M15.8 10.8h0M13.4 11.7h0M13.5 22.7h0M9.6 16.1h0M14.6 21.0h0M16.2 19.1h0M17.7 11.7h0M9.9 14.6h0M8.5 16.4h0M12.7 20.1h0M10.7 22.4h0M16.5 10.0h0M18.8 14.2h0M26.0 21.7h0M8.8 20.2h0M25.3 21.2h0M12.8 22.0h0M9.4 12.9h0M23.6 17.4h0M13.8 14.0h0M6.7 13.6h0M18.1 10.2h0M7.8 15.4h0M16.7 10.7h0M10.9 23.9h0M12.7 17.9h0M22.7 19.2h0M7.0 20.5h0M11.2 21.2h0M21.3 19.9h0M17.9 22.3h0M9.3 18.5h0M6.3 17.0h0M22.7 18.3h0M21.4 24.6h0M16.1 6.5h0M9.7 12.5h0M18.6 14.5h0M22.6 16.7h0M9.6 13.2h0M4.6 18.1h0M21.0 21.8h0M21.6 20.9h0M13.7 10.7h0M15.4 20.7h0M16.2 9.7h0M17.2 8.3h0M18.2 11.4h0M8.9 13.1h0M8.6 13.3h0M22.1 21.6h0M15.4 16.4h0M9.0 10.1h0M15.7 17.7h0M22.4 8.7h0M11.2 17.4h0M18.8 6.1h0M12.9 14.4h0M12.4 20.9h0M12.8 24.4h0M20.2 20.3h0M13.5 20.8h0M5.7 13.6h0M9.3 17.9h0M20.0 6.6h0M13.3 23.0h0M27.1 22.5h0M22.3 21.4h0M8.8 22.9h0M18.8 11.8h0M17.5 7.7h0M20.7 15.3h0M19.7 22.4h0M17.6 10.5h0M4.4 15.2h0M6.6 15.7h0M19.8 9.2h0M7.3 17.2h0M15.0 22.6h0M8.2 15.0h0M8.1 22.8h0M15.8 22.1h0M22.5 22.2h0M17.9 21.1h0M12.5 18.7h0M11.9 16.5h0M18.8 15.9h0M18.5 7.3h0M12.1 22.8h0M7.5 15.0h0M22.7 23.1h0M9.7 11.5h0M19.7 22.0h0M7.6 21.7h0M15.8 8.8h0M22.0 21.4h0M20.7 19.4h0M9.3 16.1h0M13.0 16.4h0M13.0 9.6h0M19.4 17.7h0M14.3 22.7h0M12.9 10.1h0M13.3 20.0h0M14.5 21.6h0M20.9 24.8h0M16.8 18.7h0M13.7 17.8h0M9.3 16.8h0M14.1 19.6h0M21.3 16.9h0M20.2 23.2h0M17.6 11.2h0M11.9 17.1h0M12.5 19.9h0M17.6 22.4h0M19.0 6.0h0M19.3 10.0h0M16.7 12.4h0M6.0 16.7h0M13.9 17.7h0M21.8 19.1h0M8.0 14.1h0M11.1 10.1h0M11.9 21.7h0M9.2 13.6h0M21.9 23.8h0M13.9 22.5h0M18.4 8.6h0M21.6 14.1h0M9.2 15.1h0M17.7 14.6h0M7.8 15.9h0M16.8 13.6h0M28.3 20.9h0M20.9 17.4h0M20.6 10.1h0M13.2 14.0h0M13.4 23.6h0M13.5 21.5h0M22.5 23.2h0" stroke="#f09080" stroke-width="3.6" stroke-linecap="round" fill="none" opacity="0.14"/><path d="M14.1 21.2h0M23.7 22.1h0M15.2 24.1h0M26.0 21.7h0M23.6 17.4h0M9.6 13.2h0M27.1 22.5h0M15.8 22.1h0" stroke="#f0b4a0" stroke-width="1.0" stroke-linecap="round" fill="none"/><path d="M14.6 26.8h0M21.0 18.5h0M14.8 8.9h0M19.7 16.5h0M15.9 24.7h0M19.1 20.6h0M18.7 23.4h0M12.4 12.9h0M9.9 23.6h0M13.0 11.0h0M13.2 9.5h0M13.7 14.3h0M9.2 16.3h0M9.9 17.4h0M19.3 8.8h0M14.7 10.7h0M16.3 23.8h0M17.6 10.9h0M22.2 19.3h0M15.9 20.1h0M5.9 16.5h0M9.4 20.4h0M12.5 23.9h0M13.4 11.7h0M9.6 16.1h0M14.6 21.0h0M16.2 19.1h0M17.7 11.7h0M9.9 14.6h0M12.7 20.1h0M10.7 22.4h0M16.5 10.0h0M25.3 21.2h0M13.8 14.0h0M18.1 10.2h0M7.8 15.4h0M12.7 17.9h0M17.9 22.3h0M6.3 17.0h0M21.4 24.6h0M9.7 12.5h0M18.6 14.5h0M21.0 21.8h0M21.6 20.9h0M13.7 10.7h0M16.2 9.7h0M17.2 8.3h0M22.1 21.6h0M15.4 16.4h0M22.4 8.7h0M18.8 6.1h0M12.4 20.9h0M9.3 17.9h0M13.3 23.0h0M8.8 22.9h0M19.8 9.2h0M7.3 17.2h0M8.2 15.0h0M8.1 22.8h0M17.9 21.1h0M12.5 18.7h0M11.9 16.5h0M18.8 15.9h0M19.7 22.0h0M22.0 21.4h0M9.3 16.1h0M13.0 16.4h0M13.0 9.6h0M19.4 17.7h0M14.3 22.7h0M14.5 21.6h0M20.9 24.8h0M11.9 17.1h0M12.5 19.9h0M19.3 10.0h0M16.7 12.4h0M8.0 14.1h0M11.1 10.1h0M9.2 13.6h0M13.9 22.5h0M21.6 14.1h0M7.8 15.9h0M28.3 20.9h0M20.6 10.1h0" stroke="#ea9478" stroke-width="1.0" stroke-linecap="round" fill="none"/><path d="M22.7 18.5h0M13.6 22.8h0M9.3 17.9h0M8.9 15.3h0M7.7 12.2h0M15.8 18.7h0M5.8 14.6h0M16.1 9.7h0M9.0 13.6h0M13.2 20.9h0M14.4 22.8h0M19.7 22.6h0M8.1 13.0h0M21.4 22.9h0M11.4 12.4h0M21.4 20.3h0M13.0 11.4h0M18.7 10.7h0M7.1 14.1h0M17.1 21.8h0M8.5 14.8h0M11.9 24.7h0M21.1 20.5h0M8.6 19.4h0M19.8 26.2h0M9.6 24.8h0M19.8 19.5h0M18.1 11.1h0M19.9 8.6h0M7.9 15.5h0M13.5 24.6h0M15.8 10.8h0M13.5 22.7h0M8.5 16.4h0M18.8 14.2h0M8.8 20.2h0M12.8 22.0h0M9.4 12.9h0M6.7 13.6h0M16.7 10.7h0M10.9 23.9h0M22.7 19.2h0M7.0 20.5h0M11.2 21.2h0M21.3 19.9h0M9.3 18.5h0M22.7 18.3h0M16.1 6.5h0M22.6 16.7h0M4.6 18.1h0M15.4 20.7h0M18.2 11.4h0M8.9 13.1h0M8.6 13.3h0M9.0 10.1h0M15.7 17.7h0M11.2 17.4h0M12.9 14.4h0M12.8 24.4h0M20.2 20.3h0M13.5 20.8h0M5.7 13.6h0M20.0 6.6h0M22.3 21.4h0M18.8 11.8h0M17.5 7.7h0M20.7 15.3h0M19.7 22.4h0M17.6 10.5h0M4.4 15.2h0M6.6 15.7h0M15.0 22.6h0M22.5 22.2h0M18.5 7.3h0M12.1 22.8h0M7.5 15.0h0M22.7 23.1h0M9.7 11.5h0M7.6 21.7h0M15.8 8.8h0M20.7 19.4h0M12.9 10.1h0M13.3 20.0h0M16.8 18.7h0M13.7 17.8h0M9.3 16.8h0M14.1 19.6h0M21.3 16.9h0M20.2 23.2h0M17.6 11.2h0M17.6 22.4h0M19.0 6.0h0M6.0 16.7h0M13.9 17.7h0M21.8 19.1h0M11.9 21.7h0M21.9 23.8h0M18.4 8.6h0M9.2 15.1h0M17.7 14.6h0M16.8 13.6h0M20.9 17.4h0M13.2 14.0h0M13.4 23.6h0M13.5 21.5h0M22.5 23.2h0" stroke="#e27656" stroke-width="1.0" stroke-linecap="round" fill="none"/><text x="37.6" y="-0.9" font-size="3.0" font-weight="bold" fill="#222" text-anchor="middle">S100A8</text></g><g transform="translate(268.60 533.22) scale(1 1.016)"><use href="#base"/><path d="M14.6 26.8h0M17.4 23.3h0M22.7 18.5h0M21.0 18.5h0M13.6 22.8h0M14.8 8.9h0M14.1 21.2h0M9.3 17.9h0M11.9 16.0h0M8.5 13.3h0M20.7 25.8h0M19.7 16.5h0M15.9 24.7h0M8.9 15.3h0M11.9 18.3h0M19.1 20.6h0M15.8 18.7h0M5.8 14.6h0M16.1 9.7h0M18.7 23.4h0M12.8 19.9h0M9.0 13.6h0M12.4 12.9h0M13.2 20.9h0M14.4 22.8h0M19.7 22.6h0M8.1 13.0h0M16.5 9.9h0M21.4 22.9h0M9.9 23.6h0M22.7 24.6h0M13.0 11.0h0M11.4 12.4h0M21.4 20.3h0M12.7 15.5h0M13.0 11.4h0M13.2 9.5h0M13.7 14.3h0M9.2 16.3h0M8.3 15.0h0M7.1 14.1h0M15.6 19.6h0M16.2 8.2h0M19.3 8.8h0M14.7 10.7h0M17.1 21.8h0M8.5 14.8h0M16.3 23.8h0M17.6 10.9h0M26.6 21.4h0M11.9 24.7h0M21.1 20.5h0M8.6 19.4h0M19.8 26.2h0M22.2 19.3h0M15.9 20.1h0M9.6 24.8h0M7.9 15.5h0M15.2 24.1h0M5.9 16.5h0M12.5 23.9h0M16.9 21.5h0M13.5 24.6h0M15.8 10.8h0M13.4 11.7h0M13.5 22.7h0M9.6 16.1h0M14.6 21.0h0M16.2 19.1h0M5.3 14.5h0M14.9 11.8h0M17.7 11.7h0M8.5 16.4h0M12.7 20.1h0M10.7 22.4h0M16.5 10.0h0M18.8 14.2h0M8.8 20.2h0M13.8 21.1h0M12.8 22.0h0M9.4 12.9h0M23.6 17.4h0M9.3 17.6h0M6.7 13.6h0M18.1 10.2h0M16.7 10.7h0M18.2 13.8h0M10.9 23.9h0M12.7 17.9h0M22.7 19.2h0M10.7 21.6h0M23.9 5.3h0M11.2 21.2h0M21.8 17.7h0M21.3 19.9h0M17.9 22.3h0M8.1 15.6h0M9.3 18.5h0M6.3 17.0h0M6.4 12.4h0M22.7 18.3h0M21.4 24.6h0M21.3 11.7h0M16.1 6.5h0M9.7 12.5h0M18.6 14.5h0M22.6 16.7h0M9.6 13.2h0M4.6 18.1h0M12.3 14.3h0M22.8 5.6h0M21.4 5.8h0M21.0 21.8h0M13.7 10.7h0M15.4 20.7h0M16.2 9.7h0M17.2 8.3h0M22.8 23.1h0M18.2 11.4h0M8.9 13.1h0M8.6 13.3h0M28.6 18.4h0M22.1 21.6h0M15.4 16.4h0M9.0 10.1h0M15.7 17.7h0M22.4 8.7h0M11.2 17.4h0M18.8 6.1h0M12.9 14.4h0M12.4 20.9h0M12.8 24.4h0M20.2 20.3h0M24.6 21.6h0M13.5 20.8h0M5.7 13.6h0M9.3 17.9h0M20.0 6.6h0M13.3 23.0h0M22.3 21.4h0M13.2 20.6h0M25.5 19.3h0M8.8 22.9h0M17.5 7.7h0M20.7 15.3h0M19.7 22.4h0M17.6 10.5h0M4.4 15.2h0M21.9 21.0h0M6.6 15.7h0M19.8 9.2h0M7.3 17.2h0M15.0 22.6h0M13.3 20.2h0M8.2 15.0h0M8.3 21.5h0M8.1 22.8h0M15.8 22.1h0M22.5 22.2h0M17.9 21.1h0M7.1 18.2h0M12.5 18.7h0M11.9 16.5h0M18.8 15.9h0M12.1 22.8h0M7.5 15.0h0M22.7 23.1h0M9.7 11.5h0M8.8 14.1h0M19.7 22.0h0M7.6 21.7h0M15.8 8.8h0M22.0 21.4h0M20.7 19.4h0M9.3 16.1h0M13.0 16.4h0M23.8 15.8h0M13.1 11.7h0M13.0 9.6h0M19.4 17.7h0M12.9 10.1h0M14.5 21.6h0M20.9 24.8h0M16.8 18.7h0M13.7 17.8h0M9.3 16.8h0M14.1 19.6h0M21.3 16.9h0M20.7 17.1h0M20.2 23.2h0M17.6 11.2h0M12.8 21.0h0M8.4 19.0h0M11.9 17.1h0M12.5 19.9h0M17.6 22.4h0M19.0 6.0h0M16.7 12.4h0M6.0 16.7h0M13.9 17.7h0M21.8 19.1h0M8.0 14.1h0M11.1 10.1h0M11.9 21.7h0M11.6 22.1h0M9.2 13.6h0M21.9 23.8h0M13.9 22.5h0M21.6 14.1h0M9.2 15.1h0M17.7 14.6h0M25.1 23.3h0M7.8 15.9h0M16.8 13.6h0M24.0 25.6h0M11.6 16.3h0M16.5 22.2h0M20.9 17.4h0M20.6 10.1h0M13.2 14.0h0M13.4 23.6h0M13.5 21.5h0M22.5 23.2h0" stroke="#f09080" stroke-width="3.6" stroke-linecap="round" fill="none" opacity="0.14"/><path d="M21.0 18.5h0M14.8 8.9h0M14.1 21.2h0M11.9 16.0h0M8.5 13.3h0M19.7 16.5h0M8.9 15.3h0M19.1 20.6h0M16.1 9.7h0M18.7 23.4h0M9.0 13.6h0M13.2 20.9h0M19.7 22.6h0M22.7 24.6h0M13.7 14.3h0M9.2 16.3h0M8.3 15.0h0M7.1 14.1h0M16.2 8.2h0M19.3 8.8h0M17.1 21.8h0M8.5 14.8h0M16.3 23.8h0M17.6 10.9h0M21.1 20.5h0M22.2 19.3h0M15.9 20.1h0M5.9 16.5h0M16.9 21.5h0M13.5 24.6h0M9.6 16.1h0M14.6 21.0h0M14.9 11.8h0M12.7 20.1h0M10.7 22.4h0M16.5 10.0h0M18.8 14.2h0M8.8 20.2h0M13.8 21.1h0M9.3 17.6h0M18.1 10.2h0M10.9 23.9h0M12.7 17.9h0M11.2 21.2h0M21.8 17.7h0M21.3 19.9h0M8.1 15.6h0M9.3 18.5h0M6.3 17.0h0M6.4 12.4h0M21.3 11.7h0M16.1 6.5h0M9.6 13.2h0M21.0 21.8h0M16.2 9.7h0M17.2 8.3h0M22.8 23.1h0M8.6 13.3h0M15.4 16.4h0M9.0 10.1h0M22.4 8.7h0M11.2 17.4h0M12.9 14.4h0M24.6 21.6h0M13.5 20.8h0M5.7 13.6h0M9.3 17.9h0M20.0 6.6h0M22.3 21.4h0M13.2 20.6h0M17.5 7.7h0M19.8 9.2h0M8.3 21.5h0M8.1 22.8h0M15.8 22.1h0M12.1 22.8h0M22.7 23.1h0M9.7 11.5h0M8.8 14.1h0M19.7 22.0h0M7.6 21.7h0M23.8 15.8h0M13.0 9.6h0M14.1 19.6h0M21.3 16.9h0M20.7 17.1h0M20.2 23.2h0M17.6 11.2h0M8.4 19.0h0M12.5 19.9h0M19.0 6.0h0M6.0 16.7h0M13.9 17.7h0M11.1 10.1h0M11.9 21.7h0M9.2 15.1h0M16.8 13.6h0M24.0 25.6h0M16.5 22.2h0M20.9 17.4h0M13.5 21.5h0" stroke="#ea9478" stroke-width="1.0" stroke-linecap="round" fill="none"/><path d="M14.6 26.8h0M17.4 23.3h0M22.7 18.5h0M13.6 22.8h0M9.3 17.9h0M20.7 25.8h0M15.9 24.7h0M11.9 18.3h0M15.8 18.7h0M5.8 14.6h0M12.8 19.9h0M12.4 12.9h0M14.4 22.8h0M8.1 13.0h0M16.5 9.9h0M21.4 22.9h0M9.9 23.6h0M13.0 11.0h0M11.4 12.4h0M21.4 20.3h0M12.7 15.5h0M13.0 11.4h0M13.2 9.5h0M15.6 19.6h0M14.7 10.7h0M26.6 21.4h0M11.9 24.7h0M8.6 19.4h0M19.8 26.2h0M9.6 24.8h0M7.9 15.5h0M15.2 24.1h0M12.5 23.9h0M15.8 10.8h0M13.4 11.7h0M13.5 22.7h0M16.2 19.1h0M5.3 14.5h0M17.7 11.7h0M8.5 16.4h0M12.8 22.0h0M9.4 12.9h0M23.6 17.4h0M6.7 13.6h0M16.7 10.7h0M18.2 13.8h0M22.7 19.2h0M10.7 21.6h0M23.9 5.3h0M17.9 22.3h0M22.7 18.3h0M21.4 24.6h0M9.7 12.5h0M18.6 14.5h0M22.6 16.7h0M4.6 18.1h0M12.3 14.3h0M22.8 5.6h0M21.4 5.8h0M13.7 10.7h0M15.4 20.7h0M18.2 11.4h0M8.9 13.1h0M28.6 18.4h0M22.1 21.6h0M15.7 17.7h0M18.8 6.1h0M12.4 20.9h0M12.8 24.4h0M20.2 20.3h0M13.3 23.0h0M25.5 19.3h0M8.8 22.9h0M20.7 15.3h0M19.7 22.4h0M17.6 10.5h0M4.4 15.2h0M21.9 21.0h0M6.6 15.7h0M7.3 17.2h0M15.0 22.6h0M13.3 20.2h0M8.2 15.0h0M22.5 22.2h0M17.9 21.1h0M7.1 18.2h0M12.5 18.7h0M11.9 16.5h0M18.8 15.9h0M7.5 15.0h0M15.8 8.8h0M22.0 21.4h0M20.7 19.4h0M9.3 16.1h0M13.0 16.4h0M13.1 11.7h0M19.4 17.7h0M12.9 10.1h0M14.5 21.6h0M20.9 24.8h0M16.8 18.7h0M13.7 17.8h0M9.3 16.8h0M12.8 21.0h0M11.9 17.1h0M17.6 22.4h0M16.7 12.4h0M21.8 19.1h0M8.0 14.1h0M11.6 22.1h0M9.2 13.6h0M21.9 23.8h0M13.9 22.5h0M21.6 14.1h0M17.7 14.6h0M25.1 23.3h0M7.8 15.9h0M11.6 16.3h0M20.6 10.1h0M13.2 14.0h0M13.4 23.6h0M22.5 23.2h0" stroke="#e27656" stroke-width="1.0" stroke-linecap="round" fill="none"/><text x="37.6" y="-0.9" font-size="3.0" font-weight="bold" fill="#222" text-anchor="middle">S100A9</text></g><g transform="translate(354.90 533.22) scale(1 1.016)"><use href="#base"/><path d="M14.6 26.8h0M17.4 23.3h0M22.7 18.5h0M13.6 22.8h0M14.8 8.9h0M14.1 21.2h0M9.3 17.9h0M11.9 16.0h0M20.7 25.8h0M24.2 21.5h0M19.7 16.5h0M15.9 24.7h0M8.9 15.3h0M19.1 20.6h0M7.7 12.2h0M15.8 18.7h0M5.8 14.6h0M9.0 13.6h0M12.4 12.9h0M13.2 20.9h0M18.0 7.7h0M14.4 22.8h0M19.7 22.6h0M8.1 13.0h0M16.5 9.9h0M21.4 22.9h0M9.9 23.6h0M22.7 24.6h0M13.0 11.0h0M22.9 19.1h0M11.4 12.4h0M21.4 20.3h0M13.0 11.4h0M13.2 9.5h0M13.7 14.3h0M18.7 10.7h0M8.3 15.0h0M7.1 14.1h0M23.7 22.1h0M9.9 17.4h0M15.6 19.6h0M16.2 8.2h0M19.3 8.8h0M17.1 21.8h0M8.5 14.8h0M16.3 23.8h0M17.6 10.9h0M26.6 21.4h0M11.9 24.7h0M8.6 19.4h0M22.2 19.3h0M15.9 20.1h0M9.6 24.8h0M8.4 23.6h0M19.8 19.5h0M18.1 11.1h0M19.9 8.6h0M7.9 15.5h0M15.2 24.1h0M5.9 16.5h0M12.5 23.9h0M16.9 21.5h0M13.5 24.6h0M15.8 10.8h0M13.4 11.7h0M13.5 22.7h0M14.6 21.0h0M23.5 21.3h0M16.2 19.1h0M5.3 14.5h0M22.8 21.2h0M14.9 11.8h0M9.9 14.6h0M8.5 16.4h0M12.7 20.1h0M10.7 22.4h0M16.5 10.0h0M18.8 14.2h0M26.0 21.7h0M8.8 20.2h0M13.8 21.1h0M25.3 21.2h0M12.8 22.0h0M9.4 12.9h0M23.6 17.4h0M13.8 14.0h0M18.1 20.8h0M9.3 17.6h0M6.7 13.6h0M18.1 10.2h0M7.8 15.4h0M16.7 10.7h0M12.7 17.9h0M22.7 19.2h0M7.0 20.5h0M24.3 23.0h0M10.7 21.6h0M23.9 5.3h0M11.2 21.2h0M21.8 17.7h0M21.3 19.9h0M17.9 22.3h0M9.8 22.4h0M8.1 15.6h0M6.3 17.0h0M6.4 12.4h0M22.7 18.3h0M21.4 24.6h0M25.1 19.2h0M9.7 12.5h0M18.6 14.5h0M22.6 16.7h0M9.6 13.2h0M25.5 21.0h0M4.6 18.1h0M23.8 20.1h0M12.3 14.3h0M22.8 5.6h0M21.4 5.8h0M21.0 21.8h0M21.6 20.9h0M13.7 10.7h0M15.4 20.7h0M4.7 18.1h0M16.2 9.7h0M17.2 8.3h0M22.8 23.1h0M18.2 11.4h0M8.9 13.1h0M8.6 13.3h0M22.1 21.6h0M15.4 16.4h0M12.1 20.9h0M9.0 10.1h0M15.7 17.7h0M11.2 17.4h0M18.8 6.1h0M12.9 14.4h0M12.4 20.9h0M12.8 24.4h0M20.2 20.3h0M24.6 21.6h0M13.5 20.8h0M5.7 13.6h0M9.3 17.9h0M20.0 6.6h0M13.3 23.0h0M24.1 23.2h0M22.3 21.4h0M13.2 20.6h0M25.5 19.3h0M8.8 22.9h0M18.8 11.8h0M17.5 7.7h0M19.7 22.4h0M4.4 15.2h0M21.9 21.0h0M6.6 15.7h0M19.8 9.2h0M7.3 17.2h0M15.0 22.6h0M13.3 20.2h0M8.2 15.0h0M8.3 21.5h0M8.1 22.8h0M15.8 22.1h0M22.5 22.2h0M17.9 21.1h0M12.5 18.7h0M11.9 16.5h0M18.8 15.9h0M18.5 7.3h0M12.1 22.8h0M7.5 15.0h0M23.4 21.4h0M22.7 23.1h0M9.7 11.5h0M8.8 14.1h0M19.7 22.0h0M7.6 21.7h0M15.8 8.8h0M22.0 21.4h0M24.5 20.7h0M20.7 19.4h0M9.3 16.1h0M13.0 16.4h0M13.1 11.7h0M23.3 19.7h0M13.0 9.6h0M26.4 19.4h0M19.4 17.7h0M14.3 22.7h0M12.9 10.1h0M14.5 21.6h0M20.9 24.8h0M16.8 18.7h0M13.7 17.8h0M9.3 16.8h0M14.1 19.6h0M20.7 17.1h0M20.2 23.2h0M17.6 11.2h0M12.8 21.0h0M11.9 17.1h0M12.5 19.9h0M17.6 22.4h0M19.0 6.0h0M22.1 19.9h0M16.7 12.4h0M6.0 16.7h0M8.0 14.1h0M11.1 10.1h0M11.9 21.7h0M11.6 22.1h0M9.2 13.6h0M21.9 23.8h0M13.9 22.5h0M18.4 8.6h0M11.9 24.6h0M21.6 14.1h0M9.2 15.1h0M17.7 14.6h0M25.1 23.3h0M7.8 15.9h0M16.8 13.6h0M24.0 25.6h0M11.6 16.3h0M16.5 22.2h0M20.9 17.4h0M13.2 14.0h0M15.2 9.3h0M13.4 23.6h0M22.5 23.2h0" stroke="#f09080" stroke-width="3.6" stroke-linecap="round" fill="none" opacity="0.14"/><path d="M14.6 26.8h0M17.4 23.3h0M22.7 18.5h0M13.6 22.8h0M9.3 17.9h0M20.7 25.8h0M7.7 12.2h0M15.8 18.7h0M5.8 14.6h0M13.2 20.9h0M8.1 13.0h0M21.4 22.9h0M9.9 23.6h0M13.0 11.0h0M21.4 20.3h0M18.7 10.7h0M8.3 15.0h0M16.2 8.2h0M16.3 23.8h0M17.6 10.9h0M22.2 19.3h0M9.6 24.8h0M8.4 23.6h0M19.9 8.6h0M12.5 23.9h0M15.8 10.8h0M13.4 11.7h0M16.2 19.1h0M10.7 22.4h0M16.5 10.0h0M13.8 21.1h0M9.4 12.9h0M23.6 17.4h0M18.1 20.8h0M9.3 17.6h0M18.1 10.2h0M16.7 10.7h0M22.7 19.2h0M24.3 23.0h0M21.8 17.7h0M9.8 22.4h0M6.4 12.4h0M18.6 14.5h0M25.5 21.0h0M4.6 18.1h0M23.8 20.1h0M21.0 21.8h0M13.7 10.7h0M15.4 20.7h0M16.2 9.7h0M8.9 13.1h0M12.1 20.9h0M18.8 6.1h0M12.9 14.4h0M12.4 20.9h0M12.8 24.4h0M5.7 13.6h0M9.3 17.9h0M20.0 6.6h0M8.8 22.9h0M18.8 11.8h0M17.5 7.7h0M13.3 20.2h0M17.9 21.1h0M12.5 18.7h0M9.7 11.5h0M8.8 14.1h0M19.7 22.0h0M7.6 21.7h0M9.3 16.1h0M13.0 16.4h0M13.1 11.7h0M23.3 19.7h0M26.4 19.4h0M19.4 17.7h0M14.3 22.7h0M14.5 21.6h0M20.9 24.8h0M14.1 19.6h0M20.7 17.1h0M20.2 23.2h0M17.6 11.2h0M12.8 21.0h0M17.6 22.4h0M19.0 6.0h0M22.1 19.9h0M11.1 10.1h0M11.9 21.7h0M21.9 23.8h0M11.9 24.6h0M21.6 14.1h0M24.0 25.6h0M11.6 16.3h0M20.9 17.4h0M13.2 14.0h0M22.5 23.2h0" stroke="#e27656" stroke-width="1.0" stroke-linecap="round" fill="none"/><path d="M14.8 8.9h0M14.1 21.2h0M11.9 16.0h0M24.2 21.5h0M19.7 16.5h0M15.9 24.7h0M8.9 15.3h0M19.1 20.6h0M9.0 13.6h0M12.4 12.9h0M18.0 7.7h0M14.4 22.8h0M19.7 22.6h0M16.5 9.9h0M22.7 24.6h0M22.9 19.1h0M11.4 12.4h0M13.0 11.4h0M13.2 9.5h0M13.7 14.3h0M7.1 14.1h0M23.7 22.1h0M9.9 17.4h0M15.6 19.6h0M19.3 8.8h0M17.1 21.8h0M8.5 14.8h0M26.6 21.4h0M11.9 24.7h0M8.6 19.4h0M15.9 20.1h0M19.8 19.5h0M18.1 11.1h0M7.9 15.5h0M15.2 24.1h0M5.9 16.5h0M16.9 21.5h0M13.5 24.6h0M13.5 22.7h0M14.6 21.0h0M23.5 21.3h0M5.3 14.5h0M22.8 21.2h0M14.9 11.8h0M9.9 14.6h0M8.5 16.4h0M12.7 20.1h0M18.8 14.2h0M26.0 21.7h0M8.8 20.2h0M25.3 21.2h0M12.8 22.0h0M13.8 14.0h0M6.7 13.6h0M7.8 15.4h0M12.7 17.9h0M7.0 20.5h0M10.7 21.6h0M23.9 5.3h0M11.2 21.2h0M21.3 19.9h0M17.9 22.3h0M8.1 15.6h0M6.3 17.0h0M22.7 18.3h0M21.4 24.6h0M25.1 19.2h0M9.7 12.5h0M22.6 16.7h0M9.6 13.2h0M12.3 14.3h0M22.8 5.6h0M21.4 5.8h0M21.6 20.9h0M4.7 18.1h0M17.2 8.3h0M22.8 23.1h0M18.2 11.4h0M8.6 13.3h0M22.1 21.6h0M15.4 16.4h0M9.0 10.1h0M15.7 17.7h0M11.2 17.4h0M20.2 20.3h0M24.6 21.6h0M13.5 20.8h0M13.3 23.0h0M24.1 23.2h0M22.3 21.4h0M13.2 20.6h0M25.5 19.3h0M19.7 22.4h0M4.4 15.2h0M21.9 21.0h0M6.6 15.7h0M19.8 9.2h0M7.3 17.2h0M15.0 22.6h0M8.2 15.0h0M8.3 21.5h0M8.1 22.8h0M15.8 22.1h0M22.5 22.2h0M11.9 16.5h0M18.8 15.9h0M18.5 7.3h0M12.1 22.8h0M7.5 15.0h0M23.4 21.4h0M22.7 23.1h0M15.8 8.8h0M22.0 21.4h0M24.5 20.7h0M20.7 19.4h0M13.0 9.6h0M12.9 10.1h0M16.8 18.7h0M13.7 17.8h0M9.3 16.8h0M11.9 17.1h0M12.5 19.9h0M16.7 12.4h0M6.0 16.7h0M8.0 14.1h0M11.6 22.1h0M9.2 13.6h0M13.9 22.5h0M18.4 8.6h0M9.2 15.1h0M17.7 14.6h0M25.1 23.3h0M7.8 15.9h0M16.8 13.6h0M16.5 22.2h0M15.2 9.3h0M13.4 23.6h0" stroke="#d65e3e" stroke-width="1.0" stroke-linecap="round" fill="none"/><text x="37.6" y="-0.9" font-size="3.0" font-weight="bold" fill="#222" text-anchor="middle">CXCL8</text></g><g transform="translate(441.20 533.22) scale(1 1.016)"><use href="#base"/><path d="M14.6 26.8h0M17.4 23.3h0M22.7 18.5h0M21.0 18.5h0M13.6 22.8h0M14.8 8.9h0M24.6 16.4h0M14.1 21.2h0M9.3 17.9h0M11.9 16.0h0M8.5 13.3h0M20.7 25.8h0M24.2 21.5h0M19.7 16.5h0M15.9 24.7h0M8.9 15.3h0M11.9 18.3h0M19.1 20.6h0M7.7 12.2h0M30.5 47.0h0M15.8 18.7h0M5.8 14.6h0M16.1 9.7h0M12.8 19.9h0M9.0 13.6h0M12.4 12.9h0M13.2 20.9h0M18.0 7.7h0M14.4 22.8h0M19.7 22.6h0M26.2 11.8h0M8.1 13.0h0M21.4 22.9h0M9.9 23.6h0M27.1 13.8h0M22.7 24.6h0M13.0 11.0h0M22.9 19.1h0M11.4 12.4h0M31.8 7.0h0M21.4 20.3h0M32.0 5.6h0M12.7 15.5h0M13.0 11.4h0M13.2 9.5h0M13.7 14.3h0M18.7 10.7h0M9.2 16.3h0M8.3 15.0h0M7.1 14.1h0M23.7 22.1h0M9.9 17.4h0M15.6 19.6h0M16.2 8.2h0M19.3 8.8h0M14.7 10.7h0M17.1 21.8h0M8.5 14.8h0M16.3 23.8h0M26.6 21.4h0M11.9 24.7h0M21.1 20.5h0M8.6 19.4h0M19.8 26.2h0M22.2 19.3h0M22.5 20.1h0M35.1 42.7h0M45.5 40.9h0M9.6 24.8h0M8.4 23.6h0M19.8 19.5h0M18.1 11.1h0M7.9 15.5h0M5.9 16.5h0M9.4 20.4h0M12.5 23.9h0M16.9 21.5h0M13.5 24.6h0M15.8 10.8h0M13.4 11.7h0M13.5 22.7h0M9.6 16.1h0M14.6 21.0h0M23.5 21.3h0M16.2 19.1h0M5.3 14.5h0M22.8 21.2h0M17.7 11.7h0M9.9 14.6h0M8.5 16.4h0M12.7 20.1h0M10.7 22.4h0M16.5 10.0h0M18.8 14.2h0M26.0 21.7h0M8.8 20.2h0M33.4 42.8h0M13.8 21.1h0M36.3 8.4h0M27.3 8.0h0M25.3 21.2h0M23.4 21.2h0M12.8 22.0h0M9.4 12.9h0M23.6 17.4h0M27.5 10.6h0M29.2 6.0h0M13.8 14.0h0M9.6 14.2h0M18.1 20.8h0M9.3 17.6h0M6.7 13.6h0M18.1 10.2h0M7.8 15.4h0M31.7 48.6h0M30.9 47.6h0M16.7 10.7h0M26.8 15.8h0M18.2 13.8h0M10.9 23.9h0M12.7 17.9h0M22.7 19.2h0M7.0 20.5h0M30.1 51.3h0M24.3 23.0h0M10.7 21.6h0M23.9 5.3h0M11.2 21.2h0M21.8 17.7h0M21.3 19.9h0M17.9 22.3h0M9.8 22.4h0M26.5 8.8h0M29.3 48.1h0M32.1 50.6h0M37.3 9.2h0M8.1 15.6h0M9.3 18.5h0M6.3 17.0h0M6.4 12.4h0M22.7 18.3h0M21.4 24.6h0M21.3 11.7h0M16.1 6.5h0M25.1 19.2h0M9.7 12.5h0M18.6 14.5h0M44.8 43.6h0M22.6 16.7h0M31.8 5.6h0M9.6 13.2h0M4.6 18.1h0M23.8 20.1h0M12.3 14.3h0M22.8 5.6h0M21.0 21.8h0M21.6 20.9h0M27.5 8.0h0M13.7 10.7h0M15.4 20.7h0M4.7 18.1h0M16.2 9.7h0M17.2 8.3h0M22.8 23.1h0M18.2 11.4h0M33.9 42.9h0M8.6 13.3h0M28.6 18.4h0M22.1 21.6h0M15.4 16.4h0M12.1 20.9h0M9.0 10.1h0M15.7 17.7h0M22.4 8.7h0M47.0 41.6h0M11.2 17.4h0M37.9 8.0h0M12.9 14.4h0M12.4 20.9h0M12.8 24.4h0M20.2 20.3h0M24.6 21.6h0M30.3 48.0h0M26.0 7.9h0M34.5 41.3h0M29.6 7.3h0M38.6 51.2h0M5.7 13.6h0M9.3 17.9h0M20.0 6.6h0M13.3 23.0h0M27.1 22.5h0M39.0 50.6h0M24.1 23.2h0M49.4 41.3h0M22.3 21.4h0M13.2 20.6h0M25.5 19.3h0M45.9 44.6h0M18.8 11.8h0M27.1 20.7h0M17.5 7.7h0M20.7 15.3h0M19.7 22.4h0M17.6 10.5h0M45.3 42.4h0M45.4 39.2h0M47.7 42.9h0M6.6 15.7h0M19.8 9.2h0M15.0 22.6h0M13.3 20.2h0M8.2 15.0h0M8.3 21.5h0M8.1 22.8h0M15.8 22.1h0M22.5 22.2h0M17.9 21.1h0M42.3 43.4h0M7.1 18.2h0M34.9 46.6h0M11.9 16.5h0M18.8 15.9h0M18.5 7.3h0M7.5 15.0h0M23.4 21.4h0M22.7 23.1h0M9.7 11.5h0M8.8 14.1h0M19.7 22.0h0M7.6 21.7h0M15.8 8.8h0M22.0 21.4h0M24.5 20.7h0M9.3 16.1h0M13.0 16.4h0M23.8 15.8h0M13.1 11.7h0M23.3 19.7h0M13.0 9.6h0M26.4 19.4h0M19.4 17.7h0M14.3 22.7h0M12.9 10.1h0M13.3 20.0h0M14.5 21.6h0M20.9 24.8h0M29.7 7.9h0M16.8 18.7h0M13.7 17.8h0M9.3 16.8h0M14.1 19.6h0M49.9 42.7h0M20.2 23.2h0M17.6 11.2h0M12.8 21.0h0M8.4 19.0h0M11.9 17.1h0M12.5 19.9h0M17.6 22.4h0M22.1 19.9h0M19.3 10.0h0M26.5 8.1h0M6.0 16.7h0M13.9 17.7h0M21.8 19.1h0M8.0 14.1h0M11.1 10.1h0M11.9 21.7h0M11.6 22.1h0M9.2 13.6h0M21.9 23.8h0M36.0 5.8h0M13.9 22.5h0M18.4 8.6h0M11.9 24.6h0M21.6 14.1h0M27.8 6.7h0M31.5 6.2h0M17.7 14.6h0M25.1 23.3h0M7.8 15.9h0M16.8 13.6h0M28.3 20.9h0M24.0 25.6h0M11.6 16.3h0M27.0 14.7h0M16.5 22.2h0M20.9 17.4h0M20.6 10.1h0M13.2 14.0h0M15.2 9.3h0M23.4 22.5h0M13.4 23.6h0M13.5 21.5h0M22.5 23.2h0" stroke="#f09080" stroke-width="3.6" stroke-linecap="round" fill="none" opacity="0.14"/><path d="M30.5 47.0h0M30.1 51.3h0M29.3 48.1h0M32.1 50.6h0M44.8 43.6h0M39.0 50.6h0M49.4 41.3h0M45.4 39.2h0" stroke="#f0b4a0" stroke-width="1.0" stroke-linecap="round" fill="none"/><path d="M24.6 16.4h0M26.2 11.8h0M27.1 13.8h0M35.1 42.7h0M45.5 40.9h0M33.4 42.8h0M27.5 10.6h0M29.2 6.0h0M31.7 48.6h0M30.9 47.6h0M31.8 5.6h0M33.9 42.9h0M47.0 41.6h0M30.3 48.0h0M34.5 41.3h0M38.6 51.2h0M45.9 44.6h0M45.3 42.4h0M47.7 42.9h0M42.3 43.4h0M34.9 46.6h0M49.9 42.7h0M31.5 6.2h0M27.0 14.7h0" stroke="#ea9478" stroke-width="1.0" stroke-linecap="round" fill="none"/><path d="M17.4 23.3h0M22.7 18.5h0M13.6 22.8h0M14.8 8.9h0M24.2 21.5h0M11.9 18.3h0M19.1 20.6h0M15.8 18.7h0M16.1 9.7h0M12.4 12.9h0M21.4 22.9h0M31.8 7.0h0M32.0 5.6h0M13.2 9.5h0M13.7 14.3h0M8.3 15.0h0M7.1 14.1h0M19.3 8.8h0M8.5 14.8h0M16.3 23.8h0M9.6 24.8h0M5.9 16.5h0M9.4 20.4h0M12.5 23.9h0M14.6 21.0h0M17.7 11.7h0M12.7 20.1h0M10.7 22.4h0M16.5 10.0h0M18.8 14.2h0M26.0 21.7h0M8.8 20.2h0M13.8 21.1h0M36.3 8.4h0M27.3 8.0h0M23.4 21.2h0M12.8 22.0h0M23.6 17.4h0M13.8 14.0h0M9.3 17.6h0M16.7 10.7h0M26.8 15.8h0M10.9 23.9h0M12.7 17.9h0M24.3 23.0h0M10.7 21.6h0M11.2 21.2h0M21.8 17.7h0M21.3 19.9h0M17.9 22.3h0M26.5 8.8h0M37.3 9.2h0M9.3 18.5h0M6.3 17.0h0M6.4 12.4h0M25.1 19.2h0M9.7 12.5h0M22.6 16.7h0M4.6 18.1h0M23.8 20.1h0M21.0 21.8h0M27.5 8.0h0M22.8 23.1h0M15.4 16.4h0M22.4 8.7h0M11.2 17.4h0M37.9 8.0h0M20.2 20.3h0M26.0 7.9h0M29.6 7.3h0M5.7 13.6h0M9.3 17.9h0M20.0 6.6h0M24.1 23.2h0M18.8 11.8h0M17.5 7.7h0M17.6 10.5h0M19.8 9.2h0M8.2 15.0h0M8.3 21.5h0M22.5 22.2h0M18.8 15.9h0M7.5 15.0h0M23.4 21.4h0M8.8 14.1h0M19.7 22.0h0M7.6 21.7h0M15.8 8.8h0M9.3 16.1h0M23.8 15.8h0M19.4 17.7h0M14.3 22.7h0M29.7 7.9h0M13.7 17.8h0M9.3 16.8h0M14.1 19.6h0M20.2 23.2h0M12.5 19.9h0M19.3 10.0h0M26.5 8.1h0M13.9 17.7h0M21.8 19.1h0M8.0 14.1h0M11.6 22.1h0M21.9 23.8h0M36.0 5.8h0M13.9 22.5h0M27.8 6.7h0M17.7 14.6h0M25.1 23.3h0M16.5 22.2h0M20.6 10.1h0" stroke="#e27656" stroke-width="1.0" stroke-linecap="round" fill="none"/><path d="M14.6 26.8h0M21.0 18.5h0M14.1 21.2h0M9.3 17.9h0M11.9 16.0h0M8.5 13.3h0M20.7 25.8h0M19.7 16.5h0M15.9 24.7h0M8.9 15.3h0M7.7 12.2h0M5.8 14.6h0M12.8 19.9h0M9.0 13.6h0M13.2 20.9h0M18.0 7.7h0M14.4 22.8h0M19.7 22.6h0M8.1 13.0h0M9.9 23.6h0M22.7 24.6h0M13.0 11.0h0M22.9 19.1h0M11.4 12.4h0M21.4 20.3h0M12.7 15.5h0M13.0 11.4h0M18.7 10.7h0M9.2 16.3h0M23.7 22.1h0M9.9 17.4h0M15.6 19.6h0M16.2 8.2h0M14.7 10.7h0M17.1 21.8h0M26.6 21.4h0M11.9 24.7h0M21.1 20.5h0M8.6 19.4h0M19.8 26.2h0M22.2 19.3h0M22.5 20.1h0M8.4 23.6h0M19.8 19.5h0M18.1 11.1h0M7.9 15.5h0M16.9 21.5h0M13.5 24.6h0M15.8 10.8h0M13.4 11.7h0M13.5 22.7h0M9.6 16.1h0M23.5 21.3h0M16.2 19.1h0M5.3 14.5h0M22.8 21.2h0M9.9 14.6h0M8.5 16.4h0M25.3 21.2h0M9.4 12.9h0M9.6 14.2h0M18.1 20.8h0M6.7 13.6h0M18.1 10.2h0M7.8 15.4h0M18.2 13.8h0M22.7 19.2h0M7.0 20.5h0M23.9 5.3h0M9.8 22.4h0M8.1 15.6h0M22.7 18.3h0M21.4 24.6h0M21.3 11.7h0M16.1 6.5h0M18.6 14.5h0M9.6 13.2h0M12.3 14.3h0M22.8 5.6h0M21.6 20.9h0M13.7 10.7h0M15.4 20.7h0M4.7 18.1h0M16.2 9.7h0M17.2 8.3h0M18.2 11.4h0M8.6 13.3h0M28.6 18.4h0M22.1 21.6h0M12.1 20.9h0M9.0 10.1h0M15.7 17.7h0M12.9 14.4h0M12.4 20.9h0M12.8 24.4h0M24.6 21.6h0M13.3 23.0h0M27.1 22.5h0M22.3 21.4h0M13.2 20.6h0M25.5 19.3h0M27.1 20.7h0M20.7 15.3h0M19.7 22.4h0M6.6 15.7h0M15.0 22.6h0M13.3 20.2h0M8.1 22.8h0M15.8 22.1h0M17.9 21.1h0M7.1 18.2h0M11.9 16.5h0M18.5 7.3h0M22.7 23.1h0M9.7 11.5h0M22.0 21.4h0M24.5 20.7h0M13.0 16.4h0M13.1 11.7h0M23.3 19.7h0M13.0 9.6h0M26.4 19.4h0M12.9 10.1h0M13.3 20.0h0M14.5 21.6h0M20.9 24.8h0M16.8 18.7h0M17.6 11.2h0M12.8 21.0h0M8.4 19.0h0M11.9 17.1h0M17.6 22.4h0M22.1 19.9h0M6.0 16.7h0M11.1 10.1h0M11.9 21.7h0M9.2 13.6h0M18.4 8.6h0M11.9 24.6h0M21.6 14.1h0M7.8 15.9h0M16.8 13.6h0M28.3 20.9h0M24.0 25.6h0M11.6 16.3h0M20.9 17.4h0M13.2 14.0h0M15.2 9.3h0M23.4 22.5h0M13.4 23.6h0M13.5 21.5h0M22.5 23.2h0" stroke="#d65e3e" stroke-width="1.0" stroke-linecap="round" fill="none"/><text x="37.6" y="-0.9" font-size="3.0" font-weight="bold" fill="#222" text-anchor="middle">AIF1</text></g><g transform="translate(268.60 602.92) scale(1 1.016)"><use href="#base"/><path d="M33.3 8.3h0M38.1 16.5h0M36.6 15.7h0M31.8 7.0h0M32.0 5.6h0M37.0 7.9h0M36.3 8.4h0M35.3 7.1h0M31.8 5.6h0M36.7 16.4h0M37.2 16.5h0M37.3 15.8h0M31.9 6.8h0M38.3 8.8h0M36.0 5.8h0" stroke="#f09080" stroke-width="3.6" stroke-linecap="round" fill="none" opacity="0.14"/><path d="M38.1 16.5h0M36.6 15.7h0" stroke="#ea9478" stroke-width="1.0" stroke-linecap="round" fill="none"/><path d="M33.3 8.3h0M35.3 7.1h0M31.8 5.6h0M36.7 16.4h0M37.2 16.5h0M37.3 15.8h0M31.9 6.8h0" stroke="#e27656" stroke-width="1.0" stroke-linecap="round" fill="none"/><path d="M31.8 7.0h0M32.0 5.6h0M37.0 7.9h0M36.3 8.4h0M38.3 8.8h0M36.0 5.8h0" stroke="#d65e3e" stroke-width="1.0" stroke-linecap="round" fill="none"/><text x="37.6" y="-0.9" font-size="3.0" font-weight="bold" fill="#222" text-anchor="middle">CD1C</text></g><g transform="translate(354.90 602.92) scale(1 1.016)"><use href="#base"/><path d="M33.3 8.3h0M32.0 5.6h0M35.3 6.3h0M34.2 7.7h0M33.8 8.1h0" stroke="#f09080" stroke-width="3.6" stroke-linecap="round" fill="none" opacity="0.14"/><path d="M33.3 8.3h0M32.0 5.6h0" stroke="#ea9478" stroke-width="1.0" stroke-linecap="round" fill="none"/><path d="M35.3 6.3h0M34.2 7.7h0M33.8 8.1h0" stroke="#e27656" stroke-width="1.0" stroke-linecap="round" fill="none"/><text x="37.6" y="-0.9" font-size="3.0" font-weight="bold" fill="#222" text-anchor="middle">CLEC10A</text></g><g transform="translate(441.20 602.92) scale(1 1.016)"><use href="#base"/><path d="M20.7 25.8h0M24.2 21.5h0M15.8 18.7h0M9.0 13.6h0M26.2 11.8h0M9.9 23.6h0M26.2 12.8h0M21.4 20.3h0M13.7 14.3h0M23.7 22.1h0M21.7 38.5h0M22.3 37.4h0M11.9 24.7h0M26.0 15.2h0M33.3 8.1h0M21.1 38.0h0M8.4 23.6h0M27.6 14.2h0M13.5 22.7h0M5.3 14.5h0M17.7 11.7h0M10.7 22.4h0M36.3 8.4h0M19.1 37.9h0M27.3 8.0h0M25.3 21.2h0M20.0 37.4h0M29.2 6.0h0M13.8 14.0h0M30.4 6.5h0M16.7 10.7h0M20.5 38.6h0M7.0 20.5h0M24.3 23.0h0M22.5 37.5h0M9.8 22.4h0M21.2 37.5h0M9.3 18.5h0M21.4 38.2h0M6.4 12.4h0M22.7 18.3h0M25.1 19.2h0M18.6 14.5h0M9.6 13.2h0M20.8 36.6h0M35.3 6.3h0M21.6 20.9h0M13.7 10.7h0M4.7 18.1h0M27.0 7.0h0M17.2 8.3h0M22.8 23.1h0M26.0 7.9h0M27.1 22.5h0M4.4 15.2h0M19.4 37.7h0M8.2 15.0h0M22.5 22.2h0M34.2 7.7h0M7.1 18.2h0M33.4 5.0h0M18.8 15.9h0M23.4 21.4h0M19.7 22.0h0M15.8 8.8h0M22.0 21.4h0M33.8 8.1h0M29.7 7.9h0M28.6 5.9h0M17.6 22.4h0M29.4 5.1h0M26.5 8.1h0M11.1 10.1h0M36.0 5.8h0M20.8 38.6h0M16.5 22.2h0" stroke="#f09080" stroke-width="3.6" stroke-linecap="round" fill="none" opacity="0.14"/><path d="M15.8 18.7h0M9.0 13.6h0M13.7 14.3h0M23.7 22.1h0M26.0 15.2h0M33.3 8.1h0M13.5 22.7h0M10.7 22.4h0M27.3 8.0h0M25.3 21.2h0M13.8 14.0h0M30.4 6.5h0M16.7 10.7h0M24.3 23.0h0M9.8 22.4h0M6.4 12.4h0M25.1 19.2h0M9.6 13.2h0M21.6 20.9h0M17.2 8.3h0M26.0 7.9h0M34.2 7.7h0M18.8 15.9h0M36.0 5.8h0" stroke="#ea9478" stroke-width="1.0" stroke-linecap="round" fill="none"/><path d="M20.7 25.8h0M24.2 21.5h0M26.2 11.8h0M9.9 23.6h0M26.2 12.8h0M21.4 20.3h0M22.3 37.4h0M11.9 24.7h0M21.1 38.0h0M8.4 23.6h0M27.6 14.2h0M5.3 14.5h0M17.7 11.7h0M36.3 8.4h0M19.1 37.9h0M29.2 6.0h0M7.0 20.5h0M9.3 18.5h0M22.7 18.3h0M18.6 14.5h0M20.8 36.6h0M35.3 6.3h0M13.7 10.7h0M4.7 18.1h0M27.0 7.0h0M22.8 23.1h0M27.1 22.5h0M4.4 15.2h0M19.4 37.7h0M8.2 15.0h0M22.5 22.2h0M7.1 18.2h0M33.4 5.0h0M23.4 21.4h0M19.7 22.0h0M15.8 8.8h0M22.0 21.4h0M33.8 8.1h0M29.7 7.9h0M28.6 5.9h0M17.6 22.4h0M29.4 5.1h0M26.5 8.1h0M11.1 10.1h0M20.8 38.6h0M16.5 22.2h0" stroke="#e27656" stroke-width="1.0" stroke-linecap="round" fill="none"/><path d="M21.7 38.5h0M20.0 37.4h0M20.5 38.6h0M22.5 37.5h0M21.2 37.5h0M21.4 38.2h0" stroke="#d65e3e" stroke-width="1.0" stroke-linecap="round" fill="none"/><text x="37.6" y="-0.9" font-size="3.0" font-weight="bold" fill="#222" text-anchor="middle">TNF</text></g></svg></body></html>
